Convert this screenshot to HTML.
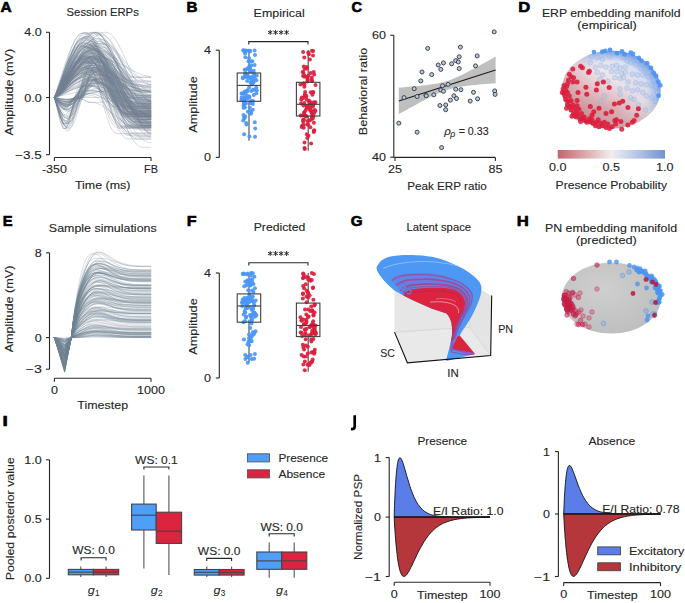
<!DOCTYPE html>
<html><head><meta charset="utf-8"><style>
html,body{margin:0;padding:0;background:#fff;}
svg{display:block;}
text{font-family:"Liberation Sans",sans-serif;fill:#262626;stroke:#262626;stroke-width:0.12px;}
</style></head><body>
<svg width="685" height="603" viewBox="0 0 685 603">
<rect width="685" height="603" fill="#fff"/>
<text x="0.60" y="11.80" font-size="14.3" font-weight="bold" style="fill:#000;stroke:#000;stroke-width:0.6px" textLength="11.14" lengthAdjust="spacingAndGlyphs">A</text>
<text x="102.70" y="16.20" font-size="11.22" text-anchor="middle" textLength="72.23" lengthAdjust="spacingAndGlyphs">Session ERPs</text>
<g fill="none" stroke="#708090" stroke-width="0.65" stroke-opacity="0.44">
<path d="M54.4 97.5 L57.3 95.7 L60.3 92.8 L63.2 89.2 L66.1 85.2 L69.1 81.1 L72.0 77.0 L74.9 73.0 L77.9 69.3 L80.8 66.0 L83.7 63.3 L86.7 61.1 L89.6 59.7 L92.5 59.0 L95.5 59.1 L98.4 60.6 L101.3 63.4 L104.3 67.4 L107.2 72.5 L110.1 78.3 L113.1 84.6 L116.0 91.1 L118.9 97.4 L121.9 103.3 L124.8 108.4 L127.7 112.5 L130.7 115.5 L133.6 117.0 L136.5 117.3 L139.5 117.3 L142.4 117.3 L145.3 117.3 L148.3 117.3 L151.2 117.3"/>
<path d="M54.4 97.5 L57.3 99.6 L60.3 101.7 L63.2 103.2 L66.1 103.4 L69.1 102.5 L72.0 100.6 L74.9 98.3 L77.9 96.4 L80.8 93.5 L83.7 90.1 L86.7 86.8 L89.6 83.7 L92.5 81.1 L95.5 79.3 L98.4 78.4 L101.3 78.3 L104.3 78.9 L107.2 80.0 L110.1 81.7 L113.1 83.8 L116.0 86.2 L118.9 88.9 L121.9 91.7 L124.8 94.5 L127.7 97.2 L130.7 99.6 L133.6 101.7 L136.5 103.3 L139.5 104.4 L142.4 104.9 L145.3 105.0 L148.3 105.0 L151.2 105.0"/>
<path d="M54.4 97.5 L57.3 93.0 L60.3 87.9 L63.2 82.8 L66.1 77.9 L69.1 73.4 L72.0 69.4 L74.9 66.2 L77.9 63.7 L80.8 62.1 L83.7 61.4 L86.7 62.2 L89.6 65.3 L92.5 70.7 L95.5 77.8 L98.4 86.2 L101.3 95.3 L104.3 104.3 L107.2 112.6 L110.1 119.6 L113.1 124.7 L116.0 127.6 L118.9 128.2 L121.9 128.2 L124.8 128.2 L127.7 128.2 L130.7 128.2 L133.6 128.2 L136.5 128.2 L139.5 128.2 L142.4 128.2 L145.3 128.2 L148.3 128.2 L151.2 128.2"/>
<path d="M54.4 97.5 L57.3 103.9 L60.3 111.3 L63.2 117.6 L66.1 121.6 L69.1 122.6 L72.0 120.5 L74.9 115.5 L77.9 108.6 L80.8 101.2 L83.7 96.0 L86.7 89.8 L89.6 83.9 L92.5 80.1 L95.5 79.6 L98.4 80.1 L101.3 81.2 L104.3 82.8 L107.2 85.0 L110.1 87.5 L113.1 90.3 L116.0 93.4 L118.9 96.5 L121.9 99.7 L124.8 102.8 L127.7 105.6 L130.7 108.2 L133.6 110.3 L136.5 112.0 L139.5 113.2 L142.4 113.7 L145.3 113.8 L148.3 113.8 L151.2 113.8"/>
<path d="M54.4 97.5 L57.3 94.9 L60.3 91.6 L63.2 88.2 L66.1 84.7 L69.1 81.4 L72.0 78.2 L74.9 75.4 L77.9 73.1 L80.8 71.1 L83.7 69.7 L86.7 68.9 L89.6 68.6 L92.5 69.0 L95.5 70.1 L98.4 71.8 L101.3 74.0 L104.3 76.7 L107.2 79.6 L110.1 82.7 L113.1 85.9 L116.0 88.9 L118.9 91.6 L121.9 93.9 L124.8 95.7 L127.7 97.0 L130.7 97.5 L133.6 97.5 L136.5 97.5 L139.5 97.5 L142.4 97.5 L145.3 97.5 L148.3 97.5 L151.2 97.5"/>
<path d="M54.4 97.5 L57.3 99.6 L60.3 101.9 L63.2 103.9 L66.1 105.1 L69.1 105.3 L72.0 104.5 L74.9 102.8 L77.9 100.5 L80.8 98.2 L83.7 93.7 L86.7 84.6 L89.6 75.2 L92.5 67.6 L95.5 63.2 L98.4 62.5 L101.3 63.2 L104.3 64.9 L107.2 67.3 L110.1 70.5 L113.1 74.2 L116.0 78.4 L118.9 82.8 L121.9 87.4 L124.8 92.0 L127.7 96.3 L130.7 100.3 L133.6 103.7 L136.5 106.5 L139.5 108.5 L142.4 109.6 L145.3 109.9 L148.3 109.9 L151.2 109.9"/>
<path d="M54.4 97.5 L57.3 99.6 L60.3 101.6 L63.2 102.8 L66.1 102.7 L69.1 101.3 L72.0 99.1 L74.9 97.1 L77.9 93.4 L80.8 88.7 L83.7 83.9 L86.7 79.5 L89.6 75.7 L92.5 73.0 L95.5 71.6 L98.4 71.4 L101.3 71.6 L104.3 72.2 L107.2 73.1 L110.1 74.2 L113.1 75.5 L116.0 76.9 L118.9 78.3 L121.9 79.8 L124.8 81.2 L127.7 82.5 L130.7 83.5 L133.6 84.4 L136.5 85.0 L139.5 85.2 L142.4 85.3 L145.3 85.3 L148.3 85.3 L151.2 85.3"/>
<path d="M54.4 97.5 L57.3 105.1 L60.3 113.5 L63.2 120.2 L66.1 123.6 L69.1 123.0 L72.0 118.5 L74.9 111.1 L77.9 102.5 L80.8 96.8 L83.7 92.7 L86.7 88.0 L89.6 83.7 L92.5 80.7 L95.5 79.4 L98.4 79.4 L101.3 79.6 L104.3 80.1 L107.2 80.7 L110.1 81.4 L113.1 82.3 L116.0 83.3 L118.9 84.4 L121.9 85.5 L124.8 86.7 L127.7 87.8 L130.7 88.9 L133.6 89.8 L136.5 90.7 L139.5 91.4 L142.4 92.0 L145.3 92.4 L148.3 92.6 L151.2 92.6"/>
<path d="M54.4 97.5 L57.3 93.2 L60.3 88.4 L63.2 83.5 L66.1 78.6 L69.1 74.1 L72.0 69.9 L74.9 66.2 L77.9 63.1 L80.8 60.7 L83.7 59.0 L86.7 58.0 L89.6 57.8 L92.5 58.2 L95.5 59.2 L98.4 60.6 L101.3 62.5 L104.3 64.8 L107.2 67.4 L110.1 70.3 L113.1 73.4 L116.0 76.6 L118.9 79.8 L121.9 82.9 L124.8 85.9 L127.7 88.6 L130.7 91.0 L133.6 93.1 L136.5 94.6 L139.5 95.7 L142.4 96.3 L145.3 96.4 L148.3 96.4 L151.2 96.4"/>
<path d="M54.4 97.5 L57.3 96.9 L60.3 95.8 L63.2 94.5 L66.1 93.1 L69.1 91.6 L72.0 90.0 L74.9 88.6 L77.9 87.2 L80.8 85.9 L83.7 84.9 L86.7 84.0 L89.6 83.3 L92.5 82.9 L95.5 82.7 L98.4 82.9 L101.3 83.8 L104.3 85.2 L107.2 87.2 L110.1 89.6 L113.1 92.3 L116.0 95.3 L118.9 98.3 L121.9 101.4 L124.8 104.2 L127.7 106.9 L130.7 109.1 L133.6 110.8 L136.5 112.0 L139.5 112.6 L142.4 112.6 L145.3 112.6 L148.3 112.6 L151.2 112.6"/>
<path d="M54.4 97.5 L57.3 95.7 L60.3 92.5 L63.2 88.6 L66.1 84.3 L69.1 79.9 L72.0 75.5 L74.9 71.4 L77.9 67.8 L80.8 64.7 L83.7 62.4 L86.7 60.9 L89.6 60.2 L92.5 60.4 L95.5 61.1 L98.4 62.5 L101.3 64.4 L104.3 66.7 L107.2 69.4 L110.1 72.3 L113.1 75.4 L116.0 78.5 L118.9 81.5 L121.9 84.2 L124.8 86.7 L127.7 88.7 L130.7 90.2 L133.6 91.1 L136.5 91.5 L139.5 91.5 L142.4 91.5 L145.3 91.5 L148.3 91.5 L151.2 91.5"/>
<path d="M54.4 97.5 L57.3 94.4 L60.3 90.4 L63.2 86.2 L66.1 81.9 L69.1 77.6 L72.0 73.5 L74.9 69.7 L77.9 66.3 L80.8 63.3 L83.7 60.8 L86.7 58.9 L89.6 57.5 L92.5 56.8 L95.5 56.9 L98.4 58.1 L101.3 60.6 L104.3 64.3 L107.2 69.1 L110.1 74.7 L113.1 80.9 L116.0 87.5 L118.9 94.3 L121.9 101.0 L124.8 107.3 L127.7 113.0 L130.7 117.8 L133.6 121.7 L136.5 124.3 L139.5 125.7 L142.4 125.9 L145.3 125.9 L148.3 125.9 L151.2 125.9"/>
<path d="M54.4 97.5 L57.3 94.6 L60.3 90.6 L63.2 86.1 L66.1 81.4 L69.1 76.5 L72.0 71.7 L74.9 67.0 L77.9 62.6 L80.8 58.6 L83.7 55.0 L86.7 52.0 L89.6 49.5 L92.5 47.7 L95.5 46.5 L98.4 46.0 L101.3 46.4 L104.3 47.7 L107.2 50.0 L110.1 53.2 L113.1 57.2 L116.0 61.8 L118.9 66.9 L121.9 72.2 L124.8 77.6 L127.7 82.9 L130.7 87.8 L133.6 92.3 L136.5 96.1 L139.5 99.2 L142.4 101.3 L145.3 102.5 L148.3 102.6 L151.2 102.6"/>
<path d="M54.4 97.5 L57.3 92.1 L60.3 86.3 L63.2 80.5 L66.1 74.9 L69.1 69.5 L72.0 64.5 L74.9 60.0 L77.9 56.1 L80.8 52.8 L83.7 50.2 L86.7 48.4 L89.6 47.3 L92.5 47.0 L95.5 48.1 L98.4 50.8 L101.3 55.1 L104.3 60.6 L107.2 67.0 L110.1 74.0 L113.1 81.2 L116.0 88.1 L118.9 94.4 L121.9 99.6 L124.8 103.6 L127.7 106.1 L130.7 106.8 L133.6 106.8 L136.5 106.8 L139.5 106.8 L142.4 106.8 L145.3 106.8 L148.3 106.8 L151.2 106.8"/>
<path d="M54.4 97.5 L57.3 94.8 L60.3 91.5 L63.2 88.0 L66.1 84.5 L69.1 81.1 L72.0 78.0 L74.9 75.1 L77.9 72.6 L80.8 70.6 L83.7 69.0 L86.7 68.0 L89.6 67.6 L92.5 67.6 L95.5 67.9 L98.4 68.5 L101.3 69.2 L104.3 70.2 L107.2 71.3 L110.1 72.5 L113.1 73.8 L116.0 75.2 L118.9 76.5 L121.9 77.8 L124.8 78.9 L127.7 80.0 L130.7 80.8 L133.6 81.5 L136.5 81.9 L139.5 82.1 L142.4 82.1 L145.3 82.1 L148.3 82.1 L151.2 82.1"/>
<path d="M54.4 97.5 L57.3 95.3 L60.3 91.5 L63.2 86.9 L66.1 81.8 L69.1 76.4 L72.0 71.1 L74.9 65.9 L77.9 61.1 L80.8 56.9 L83.7 53.5 L86.7 50.8 L89.6 49.0 L92.5 48.3 L95.5 48.6 L98.4 50.1 L101.3 52.8 L104.3 56.6 L107.2 61.3 L110.1 66.8 L113.1 72.9 L116.0 79.3 L118.9 85.7 L121.9 91.9 L124.8 97.8 L127.7 103.0 L130.7 107.4 L133.6 110.7 L136.5 113.0 L139.5 114.0 L142.4 114.1 L145.3 114.1 L148.3 114.1 L151.2 114.1"/>
<path d="M54.4 97.5 L57.3 106.9 L60.3 117.2 L63.2 124.6 L66.1 127.2 L69.1 124.5 L72.0 117.0 L74.9 106.7 L77.9 97.5 L80.8 91.8 L83.7 85.1 L86.7 80.1 L89.6 78.4 L92.5 78.8 L95.5 80.1 L98.4 82.2 L101.3 84.9 L104.3 88.3 L107.2 92.1 L110.1 96.3 L113.1 100.7 L116.0 105.1 L118.9 109.4 L121.9 113.4 L124.8 117.0 L127.7 120.1 L130.7 122.5 L133.6 124.2 L136.5 125.0 L139.5 125.1 L142.4 125.1 L145.3 125.1 L148.3 125.1 L151.2 125.1"/>
<path d="M54.4 97.5 L57.3 93.0 L60.3 88.0 L63.2 82.9 L66.1 78.0 L69.1 73.3 L72.0 69.0 L74.9 65.3 L77.9 62.1 L80.8 59.6 L83.7 57.9 L86.7 56.9 L89.6 56.8 L92.5 59.0 L95.5 63.7 L98.4 70.5 L101.3 79.0 L104.3 88.4 L107.2 98.1 L110.1 107.2 L113.1 115.1 L116.0 121.2 L118.9 125.0 L121.9 126.1 L124.8 126.1 L127.7 126.1 L130.7 126.1 L133.6 126.1 L136.5 126.1 L139.5 126.1 L142.4 126.1 L145.3 126.1 L148.3 126.1 L151.2 126.1"/>
<path d="M54.4 97.5 L57.3 96.2 L60.3 94.5 L63.2 92.7 L66.1 90.9 L69.1 89.1 L72.0 87.4 L74.9 85.8 L77.9 84.3 L80.8 82.9 L83.7 81.8 L86.7 80.8 L89.6 80.1 L92.5 79.6 L95.5 79.3 L98.4 79.4 L101.3 79.9 L104.3 81.1 L107.2 82.9 L110.1 85.2 L113.1 87.9 L116.0 91.0 L118.9 94.4 L121.9 97.9 L124.8 101.6 L127.7 105.2 L130.7 108.7 L133.6 112.0 L136.5 115.0 L139.5 117.5 L142.4 119.6 L145.3 121.1 L148.3 122.1 L151.2 122.4"/>
<path d="M54.4 97.5 L57.3 91.6 L60.3 83.6 L63.2 75.0 L66.1 66.3 L69.1 58.2 L72.0 51.1 L74.9 45.2 L77.9 40.9 L80.8 38.4 L83.7 37.8 L86.7 38.4 L89.6 39.8 L92.5 42.1 L95.5 45.2 L98.4 49.0 L101.3 53.5 L104.3 58.4 L107.2 63.8 L110.1 69.4 L113.1 75.1 L116.0 80.8 L118.9 86.4 L121.9 91.8 L124.8 96.7 L127.7 101.1 L130.7 104.9 L133.6 107.9 L136.5 110.2 L139.5 111.7 L142.4 112.2 L145.3 112.2 L148.3 112.2 L151.2 112.2"/>
<path d="M54.4 97.5 L57.3 92.0 L60.3 84.9 L63.2 77.4 L66.1 69.9 L69.1 62.7 L72.0 56.2 L74.9 50.5 L77.9 45.9 L80.8 42.5 L83.7 40.5 L86.7 39.8 L89.6 40.7 L92.5 43.1 L95.5 46.9 L98.4 52.0 L101.3 58.1 L104.3 65.0 L107.2 72.4 L110.1 79.9 L113.1 87.2 L116.0 94.1 L118.9 100.2 L121.9 105.2 L124.8 108.9 L127.7 111.2 L130.7 112.0 L133.6 112.0 L136.5 112.0 L139.5 112.0 L142.4 112.0 L145.3 112.0 L148.3 112.0 L151.2 112.0"/>
<path d="M54.4 97.5 L57.3 90.4 L60.3 82.1 L63.2 73.7 L66.1 65.6 L69.1 58.2 L72.0 51.6 L74.9 46.0 L77.9 41.8 L80.8 39.0 L83.7 37.7 L86.7 37.9 L89.6 39.2 L92.5 41.7 L95.5 45.1 L98.4 49.4 L101.3 54.5 L104.3 60.0 L107.2 65.9 L110.1 71.8 L113.1 77.7 L116.0 83.1 L118.9 88.0 L121.9 92.1 L124.8 95.4 L127.7 97.6 L130.7 98.7 L133.6 98.8 L136.5 98.8 L139.5 98.8 L142.4 98.8 L145.3 98.8 L148.3 98.8 L151.2 98.8"/>
<path d="M54.4 97.5 L57.3 94.5 L60.3 90.8 L63.2 86.8 L66.1 82.7 L69.1 78.7 L72.0 75.0 L74.9 71.6 L77.9 68.7 L80.8 66.3 L83.7 64.5 L86.7 63.4 L89.6 62.9 L92.5 63.1 L95.5 64.4 L98.4 66.5 L101.3 69.4 L104.3 73.1 L107.2 77.4 L110.1 82.1 L113.1 87.1 L116.0 92.2 L118.9 97.2 L121.9 101.9 L124.8 106.1 L127.7 109.8 L130.7 112.7 L133.6 114.8 L136.5 116.0 L139.5 116.3 L142.4 116.3 L145.3 116.3 L148.3 116.3 L151.2 116.3"/>
<path d="M54.4 97.5 L57.3 103.8 L60.3 110.8 L63.2 116.2 L66.1 118.9 L69.1 118.2 L72.0 114.3 L74.9 108.0 L77.9 100.9 L80.8 98.0 L83.7 99.6 L86.7 101.3 L89.6 102.2 L92.5 102.4 L95.5 102.9 L98.4 103.9 L101.3 105.3 L104.3 107.1 L107.2 109.2 L110.1 111.6 L113.1 114.0 L116.0 116.4 L118.9 118.7 L121.9 120.7 L124.8 122.5 L127.7 123.8 L130.7 124.7 L133.6 125.1 L136.5 125.1 L139.5 125.1 L142.4 125.1 L145.3 125.1 L148.3 125.1 L151.2 125.1"/>
<path d="M54.4 97.5 L57.3 96.2 L60.3 94.3 L63.2 92.2 L66.1 90.0 L69.1 87.8 L72.0 85.7 L74.9 83.8 L77.9 82.2 L80.8 81.0 L83.7 80.1 L86.7 79.6 L89.6 79.5 L92.5 79.9 L95.5 80.8 L98.4 82.1 L101.3 83.8 L104.3 85.8 L107.2 88.1 L110.1 90.6 L113.1 93.3 L116.0 96.0 L118.9 98.8 L121.9 101.4 L124.8 103.8 L127.7 106.1 L130.7 108.0 L133.6 109.5 L136.5 110.7 L139.5 111.4 L142.4 111.7 L145.3 111.7 L148.3 111.7 L151.2 111.7"/>
<path d="M54.4 97.5 L57.3 109.4 L60.3 121.5 L63.2 128.7 L66.1 128.6 L69.1 121.2 L72.0 109.0 L74.9 97.5 L77.9 94.4 L80.8 90.2 L83.7 85.9 L86.7 82.0 L89.6 79.1 L92.5 77.3 L95.5 76.9 L98.4 77.6 L101.3 79.2 L104.3 81.6 L107.2 84.7 L110.1 88.5 L113.1 92.8 L116.0 97.4 L118.9 102.2 L121.9 106.9 L124.8 111.4 L127.7 115.5 L130.7 119.1 L133.6 122.1 L136.5 124.2 L139.5 125.5 L142.4 125.8 L145.3 125.8 L148.3 125.8 L151.2 125.8"/>
<path d="M54.4 97.5 L57.3 93.0 L60.3 88.5 L63.2 84.1 L66.1 79.9 L69.1 76.1 L72.0 72.6 L74.9 69.5 L77.9 66.9 L80.8 64.8 L83.7 63.3 L86.7 62.4 L89.6 62.1 L92.5 62.5 L95.5 63.7 L98.4 65.6 L101.3 68.2 L104.3 71.5 L107.2 75.2 L110.1 79.4 L113.1 83.8 L116.0 88.4 L118.9 92.9 L121.9 97.4 L124.8 101.6 L127.7 105.4 L130.7 108.7 L133.6 111.4 L136.5 113.5 L139.5 114.8 L142.4 115.3 L145.3 115.3 L148.3 115.3 L151.2 115.3"/>
<path d="M54.4 97.5 L57.3 107.0 L60.3 116.8 L63.2 122.9 L66.1 123.3 L69.1 118.0 L72.0 108.5 L74.9 98.5 L77.9 96.1 L80.8 93.8 L83.7 91.3 L86.7 88.8 L89.6 86.6 L92.5 84.9 L95.5 83.7 L98.4 83.3 L101.3 83.4 L104.3 84.2 L107.2 85.4 L110.1 87.2 L113.1 89.4 L116.0 92.0 L118.9 94.9 L121.9 98.0 L124.8 101.1 L127.7 104.3 L130.7 107.4 L133.6 110.2 L136.5 112.8 L139.5 114.9 L142.4 116.7 L145.3 117.9 L148.3 118.6 L151.2 118.7"/>
<path d="M54.4 97.5 L57.3 94.5 L60.3 90.2 L63.2 85.3 L66.1 80.0 L69.1 74.6 L72.0 69.3 L74.9 64.2 L77.9 59.4 L80.8 55.1 L83.7 51.4 L86.7 48.3 L89.6 46.0 L92.5 44.4 L95.5 43.6 L98.4 43.7 L101.3 44.8 L104.3 46.9 L107.2 49.9 L110.1 53.7 L113.1 58.3 L116.0 63.4 L118.9 69.1 L121.9 75.0 L124.8 81.1 L127.7 87.2 L130.7 93.1 L133.6 98.7 L136.5 103.7 L139.5 108.1 L142.4 111.8 L145.3 114.6 L148.3 116.4 L151.2 117.3"/>
<path d="M54.4 97.5 L57.3 104.4 L60.3 111.3 L63.2 115.2 L66.1 114.7 L69.1 109.9 L72.0 102.6 L74.9 97.0 L77.9 92.9 L80.8 87.9 L83.7 82.8 L86.7 77.9 L89.6 73.9 L92.5 71.0 L95.5 69.4 L98.4 69.2 L101.3 69.4 L104.3 69.9 L107.2 70.6 L110.1 71.5 L113.1 72.6 L116.0 73.8 L118.9 75.1 L121.9 76.6 L124.8 78.0 L127.7 79.5 L130.7 80.9 L133.6 82.3 L136.5 83.5 L139.5 84.6 L142.4 85.5 L145.3 86.1 L148.3 86.6 L151.2 86.8"/>
<path d="M54.4 97.5 L57.3 100.8 L60.3 104.3 L63.2 106.4 L66.1 106.4 L69.1 104.4 L72.0 100.9 L74.9 97.5 L77.9 94.0 L80.8 89.2 L83.7 84.5 L86.7 80.6 L89.6 78.1 L92.5 77.5 L95.5 78.8 L98.4 82.1 L101.3 87.1 L104.3 93.5 L107.2 100.9 L110.1 108.8 L113.1 116.6 L116.0 123.9 L118.9 130.1 L121.9 134.9 L124.8 137.9 L127.7 138.9 L130.7 138.9 L133.6 138.9 L136.5 138.9 L139.5 138.9 L142.4 138.9 L145.3 138.9 L148.3 138.9 L151.2 138.9"/>
<path d="M54.4 97.5 L57.3 106.1 L60.3 115.8 L63.2 123.4 L66.1 127.2 L69.1 126.5 L72.0 121.3 L74.9 112.8 L77.9 103.1 L80.8 97.4 L83.7 96.8 L86.7 96.2 L89.6 95.8 L92.5 95.8 L95.5 96.6 L98.4 98.3 L101.3 100.8 L104.3 104.0 L107.2 107.7 L110.1 111.7 L113.1 115.9 L116.0 120.0 L118.9 123.8 L121.9 127.1 L124.8 129.8 L127.7 131.7 L130.7 132.7 L133.6 132.8 L136.5 132.8 L139.5 132.8 L142.4 132.8 L145.3 132.8 L148.3 132.8 L151.2 132.8"/>
<path d="M54.4 97.5 L57.3 93.3 L60.3 89.1 L63.2 85.0 L66.1 81.2 L69.1 77.7 L72.0 74.6 L74.9 72.0 L77.9 70.0 L80.8 68.5 L83.7 67.6 L86.7 67.4 L89.6 67.9 L92.5 69.4 L95.5 71.7 L98.4 74.8 L101.3 78.6 L104.3 82.9 L107.2 87.6 L110.1 92.5 L113.1 97.5 L116.0 102.4 L118.9 107.0 L121.9 111.2 L124.8 114.8 L127.7 117.8 L130.7 119.9 L133.6 121.2 L136.5 121.6 L139.5 121.6 L142.4 121.6 L145.3 121.6 L148.3 121.6 L151.2 121.6"/>
<path d="M54.4 97.5 L57.3 95.9 L60.3 94.0 L63.2 92.1 L66.1 90.1 L69.1 88.1 L72.0 86.2 L74.9 84.3 L77.9 82.6 L80.8 81.0 L83.7 79.5 L86.7 78.2 L89.6 77.0 L92.5 76.1 L95.5 75.3 L98.4 74.8 L101.3 74.5 L104.3 74.4 L107.2 74.7 L110.1 75.6 L113.1 76.9 L116.0 78.7 L118.9 80.9 L121.9 83.5 L124.8 86.3 L127.7 89.4 L130.7 92.5 L133.6 95.7 L136.5 98.8 L139.5 101.8 L142.4 104.5 L145.3 106.9 L148.3 109.0 L151.2 110.6"/>
<path d="M54.4 97.5 L57.3 94.0 L60.3 88.7 L63.2 82.8 L66.1 76.5 L69.1 70.2 L72.0 64.1 L74.9 58.6 L77.9 53.8 L80.8 49.9 L83.7 47.1 L86.7 45.3 L89.6 44.8 L92.5 45.4 L95.5 47.3 L98.4 50.2 L101.3 54.2 L104.3 59.1 L107.2 64.6 L110.1 70.6 L113.1 76.9 L116.0 83.2 L118.9 89.3 L121.9 94.9 L124.8 99.9 L127.7 104.1 L130.7 107.3 L133.6 109.4 L136.5 110.3 L139.5 110.3 L142.4 110.3 L145.3 110.3 L148.3 110.3 L151.2 110.3"/>
<path d="M54.4 97.5 L57.3 96.4 L60.3 95.1 L63.2 93.7 L66.1 92.4 L69.1 91.1 L72.0 89.9 L74.9 88.8 L77.9 87.8 L80.8 87.0 L83.7 86.4 L86.7 85.9 L89.6 85.7 L92.5 85.6 L95.5 86.4 L98.4 88.3 L101.3 91.3 L104.3 95.2 L107.2 99.8 L110.1 105.0 L113.1 110.4 L116.0 115.9 L118.9 121.2 L121.9 126.0 L124.8 130.2 L127.7 133.5 L130.7 135.8 L133.6 136.9 L136.5 137.1 L139.5 137.1 L142.4 137.1 L145.3 137.1 L148.3 137.1 L151.2 137.1"/>
<path d="M54.4 97.5 L57.3 91.5 L60.3 84.4 L63.2 77.0 L66.1 69.6 L69.1 62.6 L72.0 56.0 L74.9 50.2 L77.9 45.3 L80.8 41.4 L83.7 38.6 L86.7 37.0 L89.6 36.6 L92.5 37.7 L95.5 40.3 L98.4 44.5 L101.3 49.9 L104.3 56.5 L107.2 64.0 L110.1 72.1 L113.1 80.5 L116.0 89.0 L118.9 97.2 L121.9 104.9 L124.8 111.7 L127.7 117.5 L130.7 122.0 L133.6 125.0 L136.5 126.5 L139.5 126.7 L142.4 126.7 L145.3 126.7 L148.3 126.7 L151.2 126.7"/>
<path d="M54.4 97.5 L57.3 98.6 L60.3 99.9 L63.2 100.9 L66.1 101.6 L69.1 101.8 L72.0 101.4 L74.9 100.5 L77.9 99.3 L80.8 98.1 L83.7 96.8 L86.7 94.1 L89.6 91.6 L92.5 90.1 L95.5 89.9 L98.4 90.2 L101.3 91.0 L104.3 92.1 L107.2 93.4 L110.1 95.1 L113.1 96.9 L116.0 98.9 L118.9 100.9 L121.9 102.9 L124.8 104.8 L127.7 106.5 L130.7 108.0 L133.6 109.3 L136.5 110.2 L139.5 110.7 L142.4 110.9 L145.3 110.9 L148.3 110.9 L151.2 110.9"/>
<path d="M54.4 97.5 L57.3 92.1 L60.3 85.4 L63.2 78.2 L66.1 71.1 L69.1 64.2 L72.0 57.9 L74.9 52.2 L77.9 47.5 L80.8 43.9 L83.7 41.3 L86.7 40.1 L89.6 40.1 L92.5 42.2 L95.5 46.2 L98.4 51.9 L101.3 59.0 L104.3 67.1 L107.2 75.8 L110.1 84.5 L113.1 92.7 L116.0 100.0 L118.9 106.0 L121.9 110.3 L124.8 112.7 L127.7 113.2 L130.7 113.2 L133.6 113.2 L136.5 113.2 L139.5 113.2 L142.4 113.2 L145.3 113.2 L148.3 113.2 L151.2 113.2"/>
<path d="M54.4 97.5 L57.3 94.8 L60.3 90.6 L63.2 85.8 L66.1 80.5 L69.1 75.0 L72.0 69.5 L74.9 64.0 L77.9 58.8 L80.8 53.8 L83.7 49.3 L86.7 45.2 L89.6 41.8 L92.5 38.9 L95.5 36.8 L98.4 35.4 L101.3 34.8 L104.3 35.2 L107.2 36.9 L110.1 39.9 L113.1 44.1 L116.0 49.3 L118.9 55.3 L121.9 61.8 L124.8 68.6 L127.7 75.4 L130.7 81.9 L133.6 87.7 L136.5 92.8 L139.5 96.8 L142.4 99.6 L145.3 101.1 L148.3 101.3 L151.2 101.3"/>
<path d="M54.4 97.5 L57.3 93.8 L60.3 89.5 L63.2 85.0 L66.1 80.5 L69.1 76.2 L72.0 72.1 L74.9 68.3 L77.9 64.9 L80.8 61.9 L83.7 59.5 L86.7 57.7 L89.6 56.5 L92.5 56.0 L95.5 56.2 L98.4 57.5 L101.3 60.1 L104.3 63.7 L107.2 68.3 L110.1 73.6 L113.1 79.6 L116.0 86.0 L118.9 92.5 L121.9 98.9 L124.8 105.1 L127.7 110.7 L130.7 115.7 L133.6 119.8 L136.5 122.8 L139.5 124.7 L142.4 125.4 L145.3 125.4 L148.3 125.4 L151.2 125.4"/>
<path d="M54.4 97.5 L57.3 95.5 L60.3 92.4 L63.2 88.6 L66.1 84.4 L69.1 80.0 L72.0 75.5 L74.9 71.1 L77.9 66.9 L80.8 63.0 L83.7 59.5 L86.7 56.5 L89.6 54.0 L92.5 52.1 L95.5 51.0 L98.4 50.4 L101.3 50.7 L104.3 51.6 L107.2 53.2 L110.1 55.5 L113.1 58.4 L116.0 61.6 L118.9 65.3 L121.9 69.1 L124.8 73.0 L127.7 76.8 L130.7 80.4 L133.6 83.7 L136.5 86.5 L139.5 88.7 L142.4 90.3 L145.3 91.2 L148.3 91.4 L151.2 91.4"/>
<path d="M54.4 97.5 L57.3 92.1 L60.3 83.6 L63.2 73.9 L66.1 63.9 L69.1 54.5 L72.0 46.3 L74.9 39.7 L77.9 35.4 L80.8 33.4 L83.7 33.5 L86.7 34.6 L89.6 36.6 L92.5 39.4 L95.5 42.8 L98.4 47.0 L101.3 51.6 L104.3 56.7 L107.2 62.0 L110.1 67.5 L113.1 72.9 L116.0 78.1 L118.9 83.0 L121.9 87.5 L124.8 91.4 L127.7 94.6 L130.7 97.0 L133.6 98.6 L136.5 99.4 L139.5 99.4 L142.4 99.4 L145.3 99.4 L148.3 99.4 L151.2 99.4"/>
<path d="M54.4 97.5 L57.3 95.4 L60.3 92.1 L63.2 88.3 L66.1 84.2 L69.1 79.9 L72.0 75.8 L74.9 71.8 L77.9 68.2 L80.8 65.1 L83.7 62.5 L86.7 60.5 L89.6 59.2 L92.5 58.6 L95.5 58.8 L98.4 60.0 L101.3 62.2 L104.3 65.2 L107.2 68.9 L110.1 73.3 L113.1 78.1 L116.0 83.2 L118.9 88.3 L121.9 93.3 L124.8 97.9 L127.7 102.0 L130.7 105.5 L133.6 108.1 L136.5 109.9 L139.5 110.6 L142.4 110.7 L145.3 110.7 L148.3 110.7 L151.2 110.7"/>
<path d="M54.4 97.5 L57.3 95.1 L60.3 91.8 L63.2 88.1 L66.1 84.2 L69.1 80.4 L72.0 76.7 L74.9 73.3 L77.9 70.2 L80.8 67.6 L83.7 65.6 L86.7 64.1 L89.6 63.3 L92.5 63.1 L95.5 63.6 L98.4 64.6 L101.3 66.2 L104.3 68.3 L107.2 70.7 L110.1 73.4 L113.1 76.3 L116.0 79.2 L118.9 82.0 L121.9 84.5 L124.8 86.7 L127.7 88.5 L130.7 89.7 L133.6 90.3 L136.5 90.4 L139.5 90.4 L142.4 90.4 L145.3 90.4 L148.3 90.4 L151.2 90.4"/>
<path d="M54.4 97.5 L57.3 96.1 L60.3 93.8 L63.2 91.0 L66.1 87.9 L69.1 84.6 L72.0 81.5 L74.9 78.5 L77.9 75.9 L80.8 73.7 L83.7 72.0 L86.7 70.9 L89.6 70.5 L92.5 70.6 L95.5 71.3 L98.4 72.6 L101.3 74.3 L104.3 76.3 L107.2 78.8 L110.1 81.4 L113.1 84.2 L116.0 87.1 L118.9 89.8 L121.9 92.4 L124.8 94.8 L127.7 96.7 L130.7 98.3 L133.6 99.3 L136.5 99.9 L139.5 100.0 L142.4 100.0 L145.3 100.0 L148.3 100.0 L151.2 100.0"/>
<path d="M54.4 97.5 L57.3 94.9 L60.3 90.8 L63.2 86.1 L66.1 81.1 L69.1 76.0 L72.0 71.1 L74.9 66.5 L77.9 62.4 L80.8 59.0 L83.7 56.3 L86.7 54.5 L89.6 53.6 L92.5 53.9 L95.5 56.0 L98.4 59.9 L101.3 65.3 L104.3 72.0 L107.2 79.5 L110.1 87.3 L113.1 94.8 L116.0 101.7 L118.9 107.3 L121.9 111.5 L124.8 113.9 L127.7 114.4 L130.7 114.4 L133.6 114.4 L136.5 114.4 L139.5 114.4 L142.4 114.4 L145.3 114.4 L148.3 114.4 L151.2 114.4"/>
<path d="M54.4 97.5 L57.3 93.6 L60.3 88.0 L63.2 81.8 L66.1 75.4 L69.1 69.2 L72.0 63.4 L74.9 58.2 L77.9 53.8 L80.8 50.4 L83.7 48.2 L86.7 47.1 L89.6 47.2 L92.5 48.2 L95.5 49.9 L98.4 52.3 L101.3 55.4 L104.3 59.2 L107.2 63.4 L110.1 68.1 L113.1 73.1 L116.0 78.3 L118.9 83.5 L121.9 88.7 L124.8 93.7 L127.7 98.4 L130.7 102.8 L133.6 106.6 L136.5 109.8 L139.5 112.3 L142.4 114.2 L145.3 115.2 L148.3 115.5 L151.2 115.5"/>
<path d="M54.4 97.5 L57.3 95.9 L60.3 93.5 L63.2 90.6 L66.1 87.5 L69.1 84.2 L72.0 81.1 L74.9 78.1 L77.9 75.4 L80.8 73.1 L83.7 71.2 L86.7 69.9 L89.6 69.1 L92.5 68.9 L95.5 69.0 L98.4 69.4 L101.3 70.1 L104.3 70.9 L107.2 72.0 L110.1 73.2 L113.1 74.5 L116.0 75.9 L118.9 77.4 L121.9 78.8 L124.8 80.1 L127.7 81.4 L130.7 82.5 L133.6 83.5 L136.5 84.2 L139.5 84.7 L142.4 85.0 L145.3 85.1 L148.3 85.1 L151.2 85.1"/>
<path d="M54.4 97.5 L57.3 98.2 L60.3 98.9 L63.2 99.5 L66.1 99.7 L69.1 99.5 L72.0 99.0 L74.9 98.3 L77.9 97.5 L80.8 88.1 L83.7 74.9 L86.7 64.6 L89.6 60.5 L92.5 61.3 L95.5 63.9 L98.4 68.2 L101.3 73.8 L104.3 80.6 L107.2 88.0 L110.1 95.8 L113.1 103.4 L116.0 110.4 L118.9 116.4 L121.9 121.2 L124.8 124.3 L127.7 125.8 L130.7 125.8 L133.6 125.8 L136.5 125.8 L139.5 125.8 L142.4 125.8 L145.3 125.8 L148.3 125.8 L151.2 125.8"/>
<path d="M54.4 97.5 L57.3 91.1 L60.3 84.2 L63.2 77.3 L66.1 70.5 L69.1 64.0 L72.0 57.9 L74.9 52.2 L77.9 47.1 L80.8 42.7 L83.7 39.0 L86.7 36.0 L89.6 33.9 L92.5 32.6 L95.5 32.2 L98.4 33.1 L101.3 35.6 L104.3 39.7 L107.2 45.2 L110.1 51.8 L113.1 59.4 L116.0 67.5 L118.9 76.0 L121.9 84.5 L124.8 92.7 L127.7 100.1 L130.7 106.7 L133.6 112.0 L136.5 116.0 L139.5 118.4 L142.4 119.1 L145.3 119.1 L148.3 119.1 L151.2 119.1"/>
<path d="M54.4 97.5 L57.3 100.4 L60.3 103.4 L63.2 105.4 L66.1 105.5 L69.1 104.0 L72.0 101.1 L74.9 98.0 L77.9 95.2 L80.8 91.0 L83.7 86.8 L86.7 83.3 L89.6 81.0 L92.5 80.3 L95.5 80.6 L98.4 81.5 L101.3 82.9 L104.3 84.9 L107.2 87.4 L110.1 90.2 L113.1 93.4 L116.0 96.8 L118.9 100.3 L121.9 103.9 L124.8 107.4 L127.7 110.8 L130.7 113.9 L133.6 116.7 L136.5 119.1 L139.5 121.1 L142.4 122.5 L145.3 123.4 L148.3 123.7 L151.2 123.7"/>
<path d="M54.4 97.5 L57.3 94.6 L60.3 90.9 L63.2 86.9 L66.1 82.8 L69.1 78.7 L72.0 74.9 L74.9 71.3 L77.9 68.0 L80.8 65.2 L83.7 62.9 L86.7 61.1 L89.6 59.9 L92.5 59.3 L95.5 59.3 L98.4 60.3 L101.3 62.1 L104.3 64.7 L107.2 68.0 L110.1 71.9 L113.1 76.2 L116.0 80.8 L118.9 85.6 L121.9 90.2 L124.8 94.7 L127.7 98.7 L130.7 102.2 L133.6 105.1 L136.5 107.1 L139.5 108.3 L142.4 108.7 L145.3 108.7 L148.3 108.7 L151.2 108.7"/>
<path d="M54.4 97.5 L57.3 96.0 L60.3 93.3 L63.2 89.9 L66.1 86.0 L69.1 81.8 L72.0 77.4 L74.9 72.9 L77.9 68.5 L80.8 64.3 L83.7 60.4 L86.7 56.8 L89.6 53.7 L92.5 51.1 L95.5 49.1 L98.4 47.7 L101.3 47.0 L104.3 47.0 L107.2 48.4 L110.1 51.3 L113.1 55.6 L116.0 61.1 L118.9 67.6 L121.9 75.0 L124.8 82.8 L127.7 91.0 L130.7 99.1 L133.6 106.8 L136.5 114.0 L139.5 120.4 L142.4 125.6 L145.3 129.6 L148.3 132.2 L151.2 133.3"/>
<path d="M54.4 97.5 L57.3 92.2 L60.3 85.1 L63.2 77.4 L66.1 69.8 L69.1 62.6 L72.0 56.1 L74.9 50.8 L77.9 46.7 L80.8 44.2 L83.7 43.2 L86.7 43.6 L89.6 45.1 L92.5 47.5 L95.5 50.8 L98.4 54.9 L101.3 59.7 L104.3 65.0 L107.2 70.8 L110.1 76.7 L113.1 82.7 L116.0 88.5 L118.9 94.1 L121.9 99.2 L124.8 103.7 L127.7 107.4 L130.7 110.3 L133.6 112.3 L136.5 113.2 L139.5 113.3 L142.4 113.3 L145.3 113.3 L148.3 113.3 L151.2 113.3"/>
<path d="M54.4 97.5 L57.3 92.0 L60.3 85.7 L63.2 79.2 L66.1 72.9 L69.1 66.9 L72.0 61.5 L74.9 56.7 L77.9 52.7 L80.8 49.6 L83.7 47.5 L86.7 46.4 L89.6 46.3 L92.5 47.0 L95.5 48.5 L98.4 50.6 L101.3 53.3 L104.3 56.6 L107.2 60.4 L110.1 64.6 L113.1 69.1 L116.0 73.8 L118.9 78.6 L121.9 83.3 L124.8 87.9 L127.7 92.3 L130.7 96.3 L133.6 99.8 L136.5 102.9 L139.5 105.3 L142.4 107.1 L145.3 108.2 L148.3 108.5 L151.2 108.5"/>
<path d="M54.4 97.5 L57.3 95.2 L60.3 91.6 L63.2 87.4 L66.1 83.0 L69.1 78.5 L72.0 74.1 L74.9 70.0 L77.9 66.3 L80.8 63.1 L83.7 60.6 L86.7 58.8 L89.6 57.8 L92.5 57.6 L95.5 58.6 L98.4 61.0 L101.3 64.7 L104.3 69.3 L107.2 74.8 L110.1 80.7 L113.1 86.8 L116.0 92.7 L118.9 98.2 L121.9 102.8 L124.8 106.4 L127.7 108.8 L130.7 109.8 L133.6 109.9 L136.5 109.9 L139.5 109.9 L142.4 109.9 L145.3 109.9 L148.3 109.9 L151.2 109.9"/>
<path d="M54.4 97.5 L57.3 94.9 L60.3 90.9 L63.2 86.1 L66.1 80.8 L69.1 75.3 L72.0 69.8 L74.9 64.4 L77.9 59.3 L80.8 54.5 L83.7 50.3 L86.7 46.7 L89.6 43.8 L92.5 41.7 L95.5 40.4 L98.4 40.0 L101.3 40.7 L104.3 42.8 L107.2 46.1 L110.1 50.5 L113.1 55.9 L116.0 61.9 L118.9 68.4 L121.9 75.0 L124.8 81.5 L127.7 87.7 L130.7 93.2 L133.6 97.8 L136.5 101.3 L139.5 103.6 L142.4 104.6 L145.3 104.7 L148.3 104.7 L151.2 104.7"/>
<path d="M54.4 97.5 L57.3 101.1 L60.3 105.2 L63.2 108.2 L66.1 109.5 L69.1 108.8 L72.0 106.2 L74.9 102.4 L77.9 98.4 L80.8 98.4 L83.7 100.2 L86.7 101.6 L89.6 102.4 L92.5 102.4 L95.5 102.3 L98.4 102.2 L101.3 102.1 L104.3 102.0 L107.2 101.8 L110.1 101.6 L113.1 101.5 L116.0 101.3 L118.9 101.2 L121.9 101.1 L124.8 101.0 L127.7 101.0 L130.7 101.0 L133.6 101.0 L136.5 101.0 L139.5 101.0 L142.4 101.0 L145.3 101.0 L148.3 101.0 L151.2 101.0"/>
<path d="M54.4 97.5 L57.3 94.6 L60.3 90.4 L63.2 85.6 L66.1 80.5 L69.1 75.3 L72.0 70.2 L74.9 65.4 L77.9 61.0 L80.8 57.3 L83.7 54.1 L86.7 51.8 L89.6 50.3 L92.5 49.6 L95.5 49.9 L98.4 51.2 L101.3 53.4 L104.3 56.4 L107.2 60.1 L110.1 64.4 L113.1 69.1 L116.0 73.9 L118.9 78.8 L121.9 83.4 L124.8 87.7 L127.7 91.4 L130.7 94.4 L133.6 96.5 L136.5 97.7 L139.5 97.9 L142.4 97.9 L145.3 97.9 L148.3 97.9 L151.2 97.9"/>
<path d="M54.4 97.5 L57.3 92.0 L60.3 85.3 L63.2 78.3 L66.1 71.4 L69.1 64.9 L72.0 58.9 L74.9 53.8 L77.9 49.6 L80.8 46.5 L83.7 44.6 L86.7 43.9 L89.6 44.6 L92.5 46.7 L95.5 50.2 L98.4 54.9 L101.3 60.7 L104.3 67.4 L107.2 74.9 L110.1 82.8 L113.1 90.9 L116.0 99.1 L118.9 106.9 L121.9 114.2 L124.8 120.7 L127.7 126.3 L130.7 130.8 L133.6 134.0 L136.5 135.8 L139.5 136.2 L142.4 136.2 L145.3 136.2 L148.3 136.2 L151.2 136.2"/>
<path d="M54.4 97.5 L57.3 95.9 L60.3 93.3 L63.2 90.4 L66.1 87.1 L69.1 83.7 L72.0 80.2 L74.9 76.9 L77.9 73.6 L80.8 70.6 L83.7 67.9 L86.7 65.5 L89.6 63.5 L92.5 62.0 L95.5 61.0 L98.4 60.5 L101.3 60.5 L104.3 61.8 L107.2 64.3 L110.1 68.0 L113.1 72.6 L116.0 78.1 L118.9 84.2 L121.9 90.7 L124.8 97.2 L127.7 103.6 L130.7 109.6 L133.6 114.9 L136.5 119.4 L139.5 122.8 L142.4 125.1 L145.3 126.0 L148.3 126.1 L151.2 126.1"/>
<path d="M54.4 97.5 L57.3 98.2 L60.3 98.9 L63.2 99.6 L66.1 99.9 L69.1 99.9 L72.0 99.6 L74.9 99.0 L77.9 98.2 L80.8 97.5 L83.7 93.1 L86.7 86.8 L89.6 80.4 L92.5 74.5 L95.5 69.8 L98.4 66.7 L101.3 65.7 L104.3 66.2 L107.2 67.9 L110.1 70.7 L113.1 74.5 L116.0 79.1 L118.9 84.4 L121.9 90.3 L124.8 96.4 L127.7 102.7 L130.7 108.8 L133.6 114.6 L136.5 119.9 L139.5 124.5 L142.4 128.3 L145.3 131.0 L148.3 132.7 L151.2 133.2"/>
<path d="M54.4 97.5 L57.3 94.5 L60.3 90.3 L63.2 85.7 L66.1 81.0 L69.1 76.4 L72.0 72.3 L74.9 68.6 L77.9 65.7 L80.8 63.6 L83.7 62.3 L86.7 62.0 L89.6 62.8 L92.5 64.5 L95.5 67.2 L98.4 70.8 L101.3 75.0 L104.3 79.7 L107.2 84.7 L110.1 89.9 L113.1 94.9 L116.0 99.5 L118.9 103.7 L121.9 107.1 L124.8 109.7 L127.7 111.4 L130.7 112.0 L133.6 112.0 L136.5 112.0 L139.5 112.0 L142.4 112.0 L145.3 112.0 L148.3 112.0 L151.2 112.0"/>
<path d="M54.4 97.5 L57.3 100.3 L60.3 103.4 L63.2 105.6 L66.1 106.5 L69.1 105.8 L72.0 103.6 L74.9 100.6 L77.9 97.7 L80.8 94.6 L83.7 90.5 L86.7 87.1 L89.6 85.4 L92.5 85.5 L95.5 86.5 L98.4 88.1 L101.3 90.3 L104.3 93.0 L107.2 96.1 L110.1 99.3 L113.1 102.4 L116.0 105.3 L118.9 107.9 L121.9 109.9 L124.8 111.3 L127.7 112.0 L130.7 112.0 L133.6 112.0 L136.5 112.0 L139.5 112.0 L142.4 112.0 L145.3 112.0 L148.3 112.0 L151.2 112.0"/>
<path d="M54.4 97.5 L57.3 95.7 L60.3 93.0 L63.2 89.9 L66.1 86.5 L69.1 83.1 L72.0 79.6 L74.9 76.2 L77.9 73.1 L80.8 70.2 L83.7 67.7 L86.7 65.7 L89.6 64.0 L92.5 62.9 L95.5 62.3 L98.4 62.3 L101.3 63.0 L104.3 64.3 L107.2 66.3 L110.1 68.9 L113.1 72.0 L116.0 75.6 L118.9 79.6 L121.9 83.9 L124.8 88.3 L127.7 92.9 L130.7 97.4 L133.6 101.8 L136.5 105.9 L139.5 109.8 L142.4 113.2 L145.3 116.1 L148.3 118.4 L151.2 120.1"/>
<path d="M54.4 97.5 L57.3 92.7 L60.3 86.7 L63.2 80.4 L66.1 74.0 L69.1 67.9 L72.0 62.3 L74.9 57.4 L77.9 53.3 L80.8 50.1 L83.7 48.0 L86.7 47.0 L89.6 47.1 L92.5 48.3 L95.5 50.5 L98.4 53.7 L101.3 57.7 L104.3 62.3 L107.2 67.4 L110.1 72.9 L113.1 78.4 L116.0 83.8 L118.9 88.8 L121.9 93.4 L124.8 97.3 L127.7 100.3 L130.7 102.3 L133.6 103.4 L136.5 103.5 L139.5 103.5 L142.4 103.5 L145.3 103.5 L148.3 103.5 L151.2 103.5"/>
<path d="M54.4 97.5 L57.3 93.9 L60.3 89.4 L63.2 84.6 L66.1 79.7 L69.1 74.9 L72.0 70.4 L74.9 66.2 L77.9 62.6 L80.8 59.5 L83.7 57.1 L86.7 55.4 L89.6 54.5 L92.5 54.4 L95.5 55.2 L98.4 56.9 L101.3 59.4 L104.3 62.8 L107.2 66.8 L110.1 71.5 L113.1 76.6 L116.0 82.1 L118.9 87.7 L121.9 93.4 L124.8 98.9 L127.7 104.2 L130.7 109.1 L133.6 113.4 L136.5 117.0 L139.5 119.8 L142.4 121.9 L145.3 123.0 L148.3 123.2 L151.2 123.2"/>
<path d="M54.4 97.5 L57.3 96.3 L60.3 94.4 L63.2 92.0 L66.1 89.3 L69.1 86.5 L72.0 83.7 L74.9 81.0 L77.9 78.4 L80.8 76.1 L83.7 74.1 L86.7 72.4 L89.6 71.2 L92.5 70.4 L95.5 70.1 L98.4 70.6 L101.3 72.6 L104.3 75.9 L107.2 80.2 L110.1 85.4 L113.1 91.0 L116.0 96.5 L118.9 101.7 L121.9 106.1 L124.8 109.5 L127.7 111.5 L130.7 112.1 L133.6 112.1 L136.5 112.1 L139.5 112.1 L142.4 112.1 L145.3 112.1 L148.3 112.1 L151.2 112.1"/>
<path d="M54.4 97.5 L57.3 94.4 L60.3 90.4 L63.2 86.1 L66.1 81.8 L69.1 77.8 L72.0 74.1 L74.9 70.9 L77.9 68.4 L80.8 66.6 L83.7 65.6 L86.7 65.4 L89.6 66.3 L92.5 68.2 L95.5 71.1 L98.4 74.7 L101.3 79.0 L104.3 83.6 L107.2 88.4 L110.1 93.0 L113.1 97.3 L116.0 100.9 L118.9 103.7 L121.9 105.6 L124.8 106.4 L127.7 106.4 L130.7 106.4 L133.6 106.4 L136.5 106.4 L139.5 106.4 L142.4 106.4 L145.3 106.4 L148.3 106.4 L151.2 106.4"/>
<path d="M54.4 97.5 L57.3 105.3 L60.3 113.7 L63.2 119.6 L66.1 121.5 L69.1 118.9 L72.0 112.3 L74.9 103.8 L77.9 97.3 L80.8 95.1 L83.7 92.5 L86.7 89.9 L89.6 87.8 L92.5 86.4 L95.5 85.9 L98.4 86.2 L101.3 87.1 L104.3 88.5 L107.2 90.5 L110.1 92.9 L113.1 95.7 L116.0 98.8 L118.9 102.1 L121.9 105.5 L124.8 108.9 L127.7 112.1 L130.7 115.1 L133.6 117.8 L136.5 120.1 L139.5 121.9 L142.4 123.2 L145.3 123.9 L148.3 124.1 L151.2 124.1"/>
<path d="M54.4 97.5 L57.3 94.8 L60.3 90.8 L63.2 86.2 L66.1 81.2 L69.1 76.2 L72.0 71.4 L74.9 66.8 L77.9 62.7 L80.8 59.1 L83.7 56.3 L86.7 54.3 L89.6 53.1 L92.5 52.9 L95.5 53.3 L98.4 54.3 L101.3 55.8 L104.3 57.8 L107.2 60.3 L110.1 63.1 L113.1 66.1 L116.0 69.3 L118.9 72.4 L121.9 75.5 L124.8 78.3 L127.7 80.9 L130.7 83.0 L133.6 84.7 L136.5 85.8 L139.5 86.4 L142.4 86.5 L145.3 86.5 L148.3 86.5 L151.2 86.5"/>
<path d="M54.4 97.5 L57.3 100.3 L60.3 103.4 L63.2 105.7 L66.1 106.6 L69.1 106.0 L72.0 103.9 L74.9 100.9 L77.9 97.8 L80.8 89.2 L83.7 76.6 L86.7 66.5 L89.6 62.1 L92.5 62.2 L95.5 63.0 L98.4 64.3 L101.3 66.1 L104.3 68.3 L107.2 70.9 L110.1 73.8 L113.1 76.9 L116.0 80.2 L118.9 83.4 L121.9 86.7 L124.8 89.7 L127.7 92.6 L130.7 95.1 L133.6 97.2 L136.5 98.8 L139.5 100.0 L142.4 100.6 L145.3 100.7 L148.3 100.7 L151.2 100.7"/>
<path d="M54.4 97.5 L57.3 96.2 L60.3 94.0 L63.2 91.5 L66.1 88.8 L69.1 85.9 L72.0 83.1 L74.9 80.4 L77.9 77.8 L80.8 75.5 L83.7 73.6 L86.7 72.0 L89.6 70.9 L92.5 70.2 L95.5 70.0 L98.4 70.4 L101.3 71.6 L104.3 73.4 L107.2 75.9 L110.1 79.0 L113.1 82.6 L116.0 86.6 L118.9 90.8 L121.9 95.3 L124.8 99.8 L127.7 104.3 L130.7 108.6 L133.6 112.6 L136.5 116.2 L139.5 119.3 L142.4 121.8 L145.3 123.7 L148.3 125.0 L151.2 125.4"/>
<path d="M54.4 97.5 L57.3 100.2 L60.3 103.1 L63.2 105.0 L66.1 105.4 L69.1 104.1 L72.0 101.5 L74.9 98.5 L77.9 94.6 L80.8 87.8 L83.7 81.8 L86.7 78.5 L89.6 78.4 L92.5 79.0 L95.5 80.1 L98.4 81.7 L101.3 83.8 L104.3 86.2 L107.2 89.0 L110.1 92.0 L113.1 95.2 L116.0 98.4 L118.9 101.6 L121.9 104.7 L124.8 107.5 L127.7 110.1 L130.7 112.4 L133.6 114.2 L136.5 115.5 L139.5 116.3 L142.4 116.6 L145.3 116.6 L148.3 116.6 L151.2 116.6"/>
<path d="M54.4 97.5 L57.3 94.8 L60.3 91.8 L63.2 88.7 L66.1 85.7 L69.1 82.7 L72.0 80.0 L74.9 77.6 L77.9 75.4 L80.8 73.6 L83.7 72.2 L86.7 71.3 L89.6 70.7 L92.5 70.7 L95.5 71.3 L98.4 72.6 L101.3 74.7 L104.3 77.3 L107.2 80.5 L110.1 84.1 L113.1 87.9 L116.0 91.9 L118.9 95.8 L121.9 99.6 L124.8 103.0 L127.7 106.0 L130.7 108.5 L133.6 110.4 L136.5 111.5 L139.5 111.9 L142.4 111.9 L145.3 111.9 L148.3 111.9 L151.2 111.9"/>
<path d="M54.4 97.5 L57.3 95.0 L60.3 91.7 L63.2 88.1 L66.1 84.5 L69.1 80.9 L72.0 77.6 L74.9 74.5 L77.9 71.8 L80.8 69.5 L83.7 67.7 L86.7 66.5 L89.6 65.8 L92.5 65.8 L95.5 66.7 L98.4 68.5 L101.3 71.2 L104.3 74.7 L107.2 78.9 L110.1 83.6 L113.1 88.6 L116.0 93.7 L118.9 98.8 L121.9 103.7 L124.8 108.1 L127.7 112.0 L130.7 115.2 L133.6 117.5 L136.5 118.9 L139.5 119.3 L142.4 119.3 L145.3 119.3 L148.3 119.3 L151.2 119.3"/>
<path d="M54.4 97.5 L57.3 94.0 L60.3 88.5 L63.2 82.1 L66.1 75.3 L69.1 68.6 L72.0 62.4 L74.9 56.8 L77.9 52.3 L80.8 49.1 L83.7 47.1 L86.7 46.7 L89.6 47.5 L92.5 49.4 L95.5 52.4 L98.4 56.3 L101.3 60.9 L104.3 66.2 L107.2 72.0 L110.1 77.9 L113.1 83.8 L116.0 89.4 L118.9 94.7 L121.9 99.2 L124.8 103.0 L127.7 105.8 L130.7 107.5 L133.6 108.1 L136.5 108.1 L139.5 108.1 L142.4 108.1 L145.3 108.1 L148.3 108.1 L151.2 108.1"/>
<path d="M54.4 97.5 L57.3 94.8 L60.3 90.6 L63.2 85.8 L66.1 80.7 L69.1 75.6 L72.0 70.9 L74.9 66.6 L77.9 63.1 L80.8 60.5 L83.7 58.9 L86.7 58.4 L89.6 58.9 L92.5 60.5 L95.5 63.1 L98.4 66.6 L101.3 70.8 L104.3 75.6 L107.2 80.6 L110.1 85.8 L113.1 90.9 L116.0 95.7 L118.9 99.9 L121.9 103.4 L124.8 106.1 L127.7 107.7 L130.7 108.3 L133.6 108.3 L136.5 108.3 L139.5 108.3 L142.4 108.3 L145.3 108.3 L148.3 108.3 L151.2 108.3"/>
<path d="M54.4 97.5 L57.3 95.7 L60.3 93.3 L63.2 90.8 L66.1 88.2 L69.1 85.6 L72.0 83.1 L74.9 80.8 L77.9 78.7 L80.8 77.0 L83.7 75.6 L86.7 74.5 L89.6 73.9 L92.5 73.7 L95.5 74.2 L98.4 75.5 L101.3 77.7 L104.3 80.7 L107.2 84.2 L110.1 88.2 L113.1 92.5 L116.0 96.9 L118.9 101.2 L121.9 105.1 L124.8 108.6 L127.7 111.5 L130.7 113.6 L133.6 114.9 L136.5 115.2 L139.5 115.2 L142.4 115.2 L145.3 115.2 L148.3 115.2 L151.2 115.2"/>
<path d="M54.4 97.5 L57.3 95.8 L60.3 92.7 L63.2 89.0 L66.1 84.8 L69.1 80.4 L72.0 75.9 L74.9 71.7 L77.9 67.7 L80.8 64.3 L83.7 61.4 L86.7 59.2 L89.6 57.8 L92.5 57.3 L95.5 57.7 L98.4 59.3 L101.3 62.1 L104.3 65.8 L107.2 70.5 L110.1 75.8 L113.1 81.6 L116.0 87.6 L118.9 93.6 L121.9 99.2 L124.8 104.4 L127.7 108.8 L130.7 112.3 L133.6 114.8 L136.5 116.1 L139.5 116.2 L142.4 116.2 L145.3 116.2 L148.3 116.2 L151.2 116.2"/>
<path d="M54.4 97.5 L57.3 99.0 L60.3 100.6 L63.2 101.6 L66.1 101.7 L69.1 100.8 L72.0 99.3 L74.9 97.6 L77.9 94.6 L80.8 90.2 L83.7 86.2 L86.7 83.6 L89.6 83.0 L92.5 83.5 L95.5 84.6 L98.4 86.4 L101.3 88.7 L104.3 91.4 L107.2 94.3 L110.1 97.3 L113.1 100.2 L116.0 102.8 L118.9 105.1 L121.9 106.8 L124.8 107.9 L127.7 108.3 L130.7 108.3 L133.6 108.3 L136.5 108.3 L139.5 108.3 L142.4 108.3 L145.3 108.3 L148.3 108.3 L151.2 108.3"/>
<path d="M54.4 97.5 L57.3 105.6 L60.3 114.9 L63.2 122.8 L66.1 127.8 L69.1 129.1 L72.0 126.4 L74.9 120.3 L77.9 111.7 L80.8 102.4 L83.7 95.5 L86.7 86.8 L89.6 78.2 L92.5 72.8 L95.5 71.9 L98.4 72.4 L101.3 73.5 L104.3 75.2 L107.2 77.3 L110.1 79.9 L113.1 82.8 L116.0 85.9 L118.9 89.2 L121.9 92.4 L124.8 95.6 L127.7 98.6 L130.7 101.3 L133.6 103.6 L136.5 105.4 L139.5 106.8 L142.4 107.5 L145.3 107.7 L148.3 107.7 L151.2 107.7"/>
<path d="M54.4 97.5 L57.3 98.2 L60.3 99.0 L63.2 99.7 L66.1 100.1 L69.1 100.2 L72.0 100.0 L74.9 99.4 L77.9 98.6 L80.8 97.8 L83.7 94.1 L86.7 83.5 L89.6 73.6 L92.5 67.9 L95.5 67.2 L98.4 67.7 L101.3 68.5 L104.3 69.8 L107.2 71.5 L110.1 73.4 L113.1 75.6 L116.0 78.0 L118.9 80.5 L121.9 83.0 L124.8 85.5 L127.7 87.9 L130.7 90.1 L133.6 92.0 L136.5 93.6 L139.5 94.8 L142.4 95.7 L145.3 96.1 L148.3 96.1 L151.2 96.1"/>
<path d="M54.4 97.5 L57.3 99.5 L60.3 101.8 L63.2 103.7 L66.1 104.6 L69.1 104.5 L72.0 103.4 L74.9 101.5 L77.9 99.2 L80.8 96.9 L83.7 89.6 L86.7 81.7 L89.6 76.3 L92.5 74.9 L95.5 76.0 L98.4 78.8 L101.3 82.9 L104.3 88.3 L107.2 94.4 L110.1 101.0 L113.1 107.7 L116.0 113.9 L118.9 119.4 L121.9 123.8 L124.8 126.8 L127.7 128.2 L130.7 128.3 L133.6 128.3 L136.5 128.3 L139.5 128.3 L142.4 128.3 L145.3 128.3 L148.3 128.3 L151.2 128.3"/>
<path d="M54.4 97.5 L57.3 95.7 L60.3 93.0 L63.2 89.8 L66.1 86.3 L69.1 82.6 L72.0 79.0 L74.9 75.3 L77.9 71.8 L80.8 68.6 L83.7 65.6 L86.7 62.9 L89.6 60.7 L92.5 58.9 L95.5 57.6 L98.4 56.8 L101.3 56.5 L104.3 57.2 L107.2 59.2 L110.1 62.5 L113.1 67.0 L116.0 72.5 L118.9 78.7 L121.9 85.4 L124.8 92.5 L127.7 99.5 L130.7 106.2 L133.6 112.4 L136.5 117.8 L139.5 122.2 L142.4 125.4 L145.3 127.3 L148.3 127.8 L151.2 127.8"/>
<path d="M54.4 97.5 L57.3 93.1 L60.3 88.4 L63.2 83.7 L66.1 79.0 L69.1 74.5 L72.0 70.3 L74.9 66.5 L77.9 63.0 L80.8 60.1 L83.7 57.6 L86.7 55.7 L89.6 54.4 L92.5 53.7 L95.5 53.6 L98.4 54.4 L101.3 56.0 L104.3 58.5 L107.2 61.8 L110.1 65.8 L113.1 70.4 L116.0 75.4 L118.9 80.8 L121.9 86.3 L124.8 91.9 L127.7 97.3 L130.7 102.5 L133.6 107.3 L136.5 111.5 L139.5 115.1 L142.4 118.0 L145.3 120.0 L148.3 121.2 L151.2 121.5"/>
<path d="M54.4 97.5 L57.3 106.1 L60.3 115.9 L63.2 123.6 L66.1 127.8 L69.1 127.4 L72.0 122.6 L74.9 114.4 L77.9 104.6 L80.8 97.0 L83.7 91.3 L86.7 84.5 L89.6 78.4 L92.5 74.2 L95.5 72.7 L98.4 73.0 L101.3 74.0 L104.3 75.6 L107.2 77.8 L110.1 80.6 L113.1 83.8 L116.0 87.3 L118.9 91.0 L121.9 94.8 L124.8 98.6 L127.7 102.2 L130.7 105.6 L133.6 108.6 L136.5 111.2 L139.5 113.2 L142.4 114.6 L145.3 115.3 L148.3 115.4 L151.2 115.4"/>
<path d="M54.4 97.5 L57.3 99.0 L60.3 100.6 L63.2 101.6 L66.1 101.7 L69.1 100.9 L72.0 99.5 L74.9 97.9 L77.9 94.4 L80.8 87.9 L83.7 81.0 L86.7 74.9 L89.6 70.4 L92.5 68.0 L95.5 67.8 L98.4 68.9 L101.3 70.9 L104.3 73.9 L107.2 77.7 L110.1 82.1 L113.1 87.0 L116.0 92.1 L118.9 97.3 L121.9 102.4 L124.8 107.0 L127.7 111.2 L130.7 114.6 L133.6 117.1 L136.5 118.7 L139.5 119.2 L142.4 119.2 L145.3 119.2 L148.3 119.2 L151.2 119.2"/>
<path d="M54.4 97.5 L57.3 94.1 L60.3 89.5 L63.2 84.5 L66.1 79.3 L69.1 74.2 L72.0 69.5 L74.9 65.2 L77.9 61.5 L80.8 58.7 L83.7 56.6 L86.7 55.5 L89.6 55.3 L92.5 56.4 L95.5 58.8 L98.4 62.4 L101.3 67.1 L104.3 72.8 L107.2 79.4 L110.1 86.5 L113.1 94.1 L116.0 101.9 L118.9 109.7 L121.9 117.2 L124.8 124.3 L127.7 130.7 L130.7 136.3 L133.6 140.9 L136.5 144.3 L139.5 146.5 L142.4 147.4 L145.3 147.4 L148.3 147.4 L151.2 147.4"/>
<path d="M54.4 97.5 L57.3 98.9 L60.3 100.4 L63.2 101.6 L66.1 102.2 L69.1 102.0 L72.0 101.2 L74.9 99.8 L77.9 98.3 L80.8 96.4 L83.7 92.1 L86.7 87.2 L89.6 82.9 L92.5 79.8 L95.5 78.4 L98.4 78.5 L101.3 79.0 L104.3 79.8 L107.2 81.0 L110.1 82.5 L113.1 84.2 L116.0 86.2 L118.9 88.3 L121.9 90.6 L124.8 92.9 L127.7 95.2 L130.7 97.5 L133.6 99.6 L136.5 101.6 L139.5 103.3 L142.4 104.8 L145.3 105.9 L148.3 106.7 L151.2 107.2"/>
<path d="M54.4 97.5 L57.3 95.9 L60.3 93.5 L63.2 90.5 L66.1 87.3 L69.1 83.9 L72.0 80.5 L74.9 77.0 L77.9 73.7 L80.8 70.5 L83.7 67.5 L86.7 64.9 L89.6 62.5 L92.5 60.6 L95.5 59.1 L98.4 58.0 L101.3 57.4 L104.3 57.3 L107.2 58.0 L110.1 59.6 L113.1 62.1 L116.0 65.4 L118.9 69.3 L121.9 73.7 L124.8 78.4 L127.7 83.4 L130.7 88.3 L133.6 93.0 L136.5 97.3 L139.5 101.2 L142.4 104.3 L145.3 106.7 L148.3 108.2 L151.2 108.8"/>
<path d="M54.4 97.5 L57.3 96.6 L60.3 94.9 L63.2 92.8 L66.1 90.4 L69.1 87.8 L72.0 85.1 L74.9 82.5 L77.9 79.9 L80.8 77.4 L83.7 75.1 L86.7 73.1 L89.6 71.4 L92.5 70.1 L95.5 69.1 L98.4 68.6 L101.3 68.5 L104.3 69.1 L107.2 70.6 L110.1 72.9 L113.1 75.8 L116.0 79.4 L118.9 83.4 L121.9 87.7 L124.8 92.2 L127.7 96.6 L130.7 100.8 L133.6 104.6 L136.5 108.0 L139.5 110.6 L142.4 112.6 L145.3 113.7 L148.3 114.0 L151.2 114.0"/>
<path d="M54.4 97.5 L57.3 95.4 L60.3 91.9 L63.2 87.7 L66.1 83.4 L69.1 79.1 L72.0 75.3 L74.9 72.0 L77.9 69.6 L80.8 68.2 L83.7 67.8 L86.7 68.3 L89.6 69.7 L92.5 71.8 L95.5 74.7 L98.4 78.2 L101.3 82.2 L104.3 86.5 L107.2 91.2 L110.1 95.9 L113.1 100.5 L116.0 104.9 L118.9 109.0 L121.9 112.6 L124.8 115.5 L127.7 117.8 L130.7 119.3 L133.6 119.9 L136.5 120.0 L139.5 120.0 L142.4 120.0 L145.3 120.0 L148.3 120.0 L151.2 120.0"/>
<path d="M54.4 97.5 L57.3 93.3 L60.3 88.4 L63.2 83.3 L66.1 78.2 L69.1 73.2 L72.0 68.4 L74.9 63.9 L77.9 59.9 L80.8 56.4 L83.7 53.4 L86.7 51.1 L89.6 49.4 L92.5 48.5 L95.5 48.2 L98.4 48.9 L101.3 50.6 L104.3 53.3 L107.2 56.8 L110.1 61.0 L113.1 65.7 L116.0 70.7 L118.9 75.8 L121.9 80.8 L124.8 85.5 L127.7 89.6 L130.7 93.1 L133.6 95.7 L136.5 97.3 L139.5 97.9 L142.4 97.9 L145.3 97.9 L148.3 97.9 L151.2 97.9"/>
<path d="M54.4 97.5 L57.3 105.6 L60.3 114.2 L63.2 119.9 L66.1 121.1 L69.1 117.5 L72.0 110.1 L74.9 101.1 L77.9 95.4 L80.8 89.3 L83.7 83.7 L86.7 80.5 L89.6 80.2 L92.5 80.9 L95.5 82.3 L98.4 84.3 L101.3 86.8 L104.3 89.8 L107.2 93.1 L110.1 96.7 L113.1 100.4 L116.0 104.1 L118.9 107.7 L121.9 111.0 L124.8 114.0 L127.7 116.5 L130.7 118.4 L133.6 119.8 L136.5 120.5 L139.5 120.5 L142.4 120.5 L145.3 120.5 L148.3 120.5 L151.2 120.5"/>
<path d="M54.4 97.5 L57.3 97.9 L60.3 98.4 L63.2 98.9 L66.1 99.1 L69.1 99.2 L72.0 99.0 L74.9 98.7 L77.9 98.2 L80.8 97.7 L83.7 95.4 L86.7 89.8 L89.6 83.8 L92.5 78.9 L95.5 76.0 L98.4 75.4 L101.3 75.8 L104.3 76.5 L107.2 77.7 L110.1 79.1 L113.1 80.8 L116.0 82.7 L118.9 84.8 L121.9 86.8 L124.8 88.8 L127.7 90.7 L130.7 92.3 L133.6 93.7 L136.5 94.7 L139.5 95.3 L142.4 95.6 L145.3 95.6 L148.3 95.6 L151.2 95.6"/>
<path d="M54.4 97.5 L57.3 95.3 L60.3 92.4 L63.2 89.2 L66.1 85.9 L69.1 82.7 L72.0 79.6 L74.9 76.7 L77.9 74.2 L80.8 72.1 L83.7 70.5 L86.7 69.3 L89.6 68.7 L92.5 68.7 L95.5 69.2 L98.4 70.4 L101.3 72.2 L104.3 74.4 L107.2 77.2 L110.1 80.2 L113.1 83.5 L116.0 86.9 L118.9 90.4 L121.9 93.7 L124.8 96.8 L127.7 99.5 L130.7 101.8 L133.6 103.6 L136.5 104.8 L139.5 105.4 L142.4 105.5 L145.3 105.5 L148.3 105.5 L151.2 105.5"/>
<path d="M54.4 97.5 L57.3 90.5 L60.3 82.9 L63.2 75.5 L66.1 68.4 L69.1 62.0 L72.0 56.5 L74.9 51.9 L77.9 48.6 L80.8 46.6 L83.7 45.8 L86.7 46.6 L89.6 48.9 L92.5 52.6 L95.5 57.6 L98.4 63.6 L101.3 70.3 L104.3 77.5 L107.2 84.8 L110.1 91.8 L113.1 98.3 L116.0 103.9 L118.9 108.3 L121.9 111.4 L124.8 113.0 L127.7 113.2 L130.7 113.2 L133.6 113.2 L136.5 113.2 L139.5 113.2 L142.4 113.2 L145.3 113.2 L148.3 113.2 L151.2 113.2"/>
<path d="M54.4 97.5 L57.3 100.2 L60.3 103.1 L63.2 105.4 L66.1 106.5 L69.1 106.1 L72.0 104.3 L74.9 101.6 L77.9 98.6 L80.8 96.1 L83.7 92.2 L86.7 88.6 L89.6 86.6 L92.5 86.5 L95.5 87.2 L98.4 88.7 L101.3 90.8 L104.3 93.3 L107.2 96.3 L110.1 99.5 L113.1 102.8 L116.0 106.0 L118.9 109.0 L121.9 111.6 L124.8 113.7 L127.7 115.2 L130.7 116.0 L133.6 116.1 L136.5 116.1 L139.5 116.1 L142.4 116.1 L145.3 116.1 L148.3 116.1 L151.2 116.1"/>
<path d="M54.4 97.5 L57.3 92.0 L60.3 85.9 L63.2 79.7 L66.1 73.7 L69.1 68.0 L72.0 62.7 L74.9 58.0 L77.9 53.9 L80.8 50.6 L83.7 48.0 L86.7 46.3 L89.6 45.4 L92.5 45.8 L95.5 48.5 L98.4 53.6 L101.3 60.8 L104.3 69.5 L107.2 79.3 L110.1 89.4 L113.1 99.3 L116.0 108.2 L118.9 115.7 L121.9 121.1 L124.8 124.2 L127.7 124.9 L130.7 124.9 L133.6 124.9 L136.5 124.9 L139.5 124.9 L142.4 124.9 L145.3 124.9 L148.3 124.9 L151.2 124.9"/>
<path d="M54.4 97.5 L57.3 94.7 L60.3 91.2 L63.2 87.3 L66.1 83.4 L69.1 79.4 L72.0 75.5 L74.9 71.9 L77.9 68.5 L80.8 65.4 L83.7 62.7 L86.7 60.5 L89.6 58.7 L92.5 57.5 L95.5 56.8 L98.4 56.6 L101.3 56.9 L104.3 57.6 L107.2 58.7 L110.1 60.1 L113.1 61.8 L116.0 63.8 L118.9 66.0 L121.9 68.3 L124.8 70.7 L127.7 73.0 L130.7 75.3 L133.6 77.5 L136.5 79.5 L139.5 81.2 L142.4 82.5 L145.3 83.6 L148.3 84.2 L151.2 84.5"/>
<path d="M54.4 97.5 L57.3 93.0 L60.3 88.3 L63.2 83.5 L66.1 78.7 L69.1 74.2 L72.0 69.8 L74.9 65.7 L77.9 62.0 L80.8 58.6 L83.7 55.6 L86.7 53.1 L89.6 51.1 L92.5 49.6 L95.5 48.7 L98.4 48.2 L101.3 48.5 L104.3 49.7 L107.2 52.0 L110.1 55.1 L113.1 59.1 L116.0 63.8 L118.9 69.1 L121.9 74.8 L124.8 80.7 L127.7 86.7 L130.7 92.6 L133.6 98.2 L136.5 103.3 L139.5 107.9 L142.4 111.7 L145.3 114.7 L148.3 116.8 L151.2 117.9"/>
<path d="M54.4 97.5 L57.3 95.4 L60.3 91.7 L63.2 87.1 L66.1 82.1 L69.1 76.8 L72.0 71.4 L74.9 66.1 L77.9 61.2 L80.8 56.7 L83.7 52.9 L86.7 49.7 L89.6 47.4 L92.5 46.0 L95.5 45.6 L98.4 46.7 L101.3 50.1 L104.3 55.3 L107.2 62.0 L110.1 69.8 L113.1 77.8 L116.0 85.6 L118.9 92.5 L121.9 98.0 L124.8 101.6 L127.7 103.0 L130.7 103.0 L133.6 103.0 L136.5 103.0 L139.5 103.0 L142.4 103.0 L145.3 103.0 L148.3 103.0 L151.2 103.0"/>
<path d="M54.4 97.5 L57.3 99.8 L60.3 102.2 L63.2 103.7 L66.1 103.8 L69.1 102.5 L72.0 100.2 L74.9 97.8 L77.9 95.8 L80.8 92.8 L83.7 89.6 L86.7 86.6 L89.6 84.2 L92.5 82.6 L95.5 81.8 L98.4 82.1 L101.3 83.1 L104.3 84.9 L107.2 87.4 L110.1 90.3 L113.1 93.4 L116.0 96.6 L118.9 99.7 L121.9 102.4 L124.8 104.5 L127.7 105.9 L130.7 106.5 L133.6 106.6 L136.5 106.6 L139.5 106.6 L142.4 106.6 L145.3 106.6 L148.3 106.6 L151.2 106.6"/>
<path d="M54.4 97.5 L57.3 95.5 L60.3 92.3 L63.2 88.6 L66.1 84.5 L69.1 80.2 L72.0 75.9 L74.9 71.6 L77.9 67.5 L80.8 63.8 L83.7 60.4 L86.7 57.5 L89.6 55.1 L92.5 53.3 L95.5 52.1 L98.4 51.6 L101.3 51.7 L104.3 52.2 L107.2 53.2 L110.1 54.5 L113.1 56.3 L116.0 58.3 L118.9 60.6 L121.9 63.2 L124.8 65.8 L127.7 68.5 L130.7 71.3 L133.6 73.9 L136.5 76.5 L139.5 78.8 L142.4 80.8 L145.3 82.6 L148.3 83.9 L151.2 84.9"/>
<path d="M54.4 97.5 L57.3 99.7 L60.3 102.0 L63.2 103.4 L66.1 103.5 L69.1 102.2 L72.0 100.0 L74.9 97.7 L77.9 91.9 L80.8 83.8 L83.7 77.3 L86.7 74.5 L89.6 74.8 L92.5 75.9 L95.5 77.7 L98.4 80.0 L101.3 83.0 L104.3 86.3 L107.2 89.9 L110.1 93.6 L113.1 97.2 L116.0 100.7 L118.9 103.8 L121.9 106.4 L124.8 108.4 L127.7 109.7 L130.7 110.3 L133.6 110.3 L136.5 110.3 L139.5 110.3 L142.4 110.3 L145.3 110.3 L148.3 110.3 L151.2 110.3"/>
<path d="M54.4 97.5 L57.3 93.3 L60.3 88.4 L63.2 83.5 L66.1 78.7 L69.1 74.1 L72.0 69.8 L74.9 66.0 L77.9 62.7 L80.8 60.0 L83.7 58.0 L86.7 56.7 L89.6 56.1 L92.5 56.5 L95.5 58.2 L98.4 61.1 L101.3 65.3 L104.3 70.4 L107.2 76.2 L110.1 82.6 L113.1 89.1 L116.0 95.6 L118.9 101.8 L121.9 107.4 L124.8 112.1 L127.7 115.7 L130.7 118.2 L133.6 119.3 L136.5 119.4 L139.5 119.4 L142.4 119.4 L145.3 119.4 L148.3 119.4 L151.2 119.4"/>
<path d="M54.4 97.5 L57.3 106.8 L60.3 116.9 L63.2 123.8 L66.1 125.7 L69.1 122.1 L72.0 114.0 L74.9 103.6 L77.9 97.2 L80.8 95.2 L83.7 92.9 L86.7 90.4 L89.6 88.0 L92.5 85.9 L95.5 84.1 L98.4 82.9 L101.3 82.3 L104.3 82.2 L107.2 82.5 L110.1 82.9 L113.1 83.6 L116.0 84.6 L118.9 85.7 L121.9 86.9 L124.8 88.3 L127.7 89.8 L130.7 91.4 L133.6 92.9 L136.5 94.5 L139.5 96.0 L142.4 97.4 L145.3 98.6 L148.3 99.7 L151.2 100.7"/>
<path d="M54.4 97.5 L57.3 94.4 L60.3 90.6 L63.2 86.6 L66.1 82.5 L69.1 78.6 L72.0 74.9 L74.9 71.5 L77.9 68.5 L80.8 66.0 L83.7 63.9 L86.7 62.4 L89.6 61.4 L92.5 61.1 L95.5 61.6 L98.4 63.4 L101.3 66.2 L104.3 70.0 L107.2 74.7 L110.1 80.1 L113.1 86.0 L116.0 92.1 L118.9 98.3 L121.9 104.3 L124.8 109.9 L127.7 114.9 L130.7 119.1 L133.6 122.3 L136.5 124.5 L139.5 125.5 L142.4 125.5 L145.3 125.5 L148.3 125.5 L151.2 125.5"/>
<path d="M54.4 97.5 L57.3 95.7 L60.3 92.6 L63.2 88.7 L66.1 84.4 L69.1 80.0 L72.0 75.6 L74.9 71.3 L77.9 67.5 L80.8 64.2 L83.7 61.6 L86.7 59.7 L89.6 58.6 L92.5 58.4 L95.5 58.9 L98.4 60.1 L101.3 61.9 L104.3 64.2 L107.2 67.1 L110.1 70.3 L113.1 73.9 L116.0 77.6 L118.9 81.5 L121.9 85.3 L124.8 88.9 L127.7 92.3 L130.7 95.3 L133.6 97.8 L136.5 99.8 L139.5 101.2 L142.4 102.0 L145.3 102.1 L148.3 102.1 L151.2 102.1"/>
<path d="M54.4 97.5 L57.3 109.2 L60.3 121.2 L63.2 128.5 L66.1 128.6 L69.1 121.5 L72.0 109.5 L74.9 97.6 L77.9 92.8 L80.8 86.1 L83.7 79.0 L86.7 72.2 L89.6 66.5 L92.5 62.2 L95.5 59.8 L98.4 59.3 L101.3 59.8 L104.3 60.7 L107.2 62.2 L110.1 64.2 L113.1 66.5 L116.0 69.1 L118.9 71.9 L121.9 74.9 L124.8 77.8 L127.7 80.7 L130.7 83.4 L133.6 85.8 L136.5 87.8 L139.5 89.4 L142.4 90.5 L145.3 91.0 L148.3 91.1 L151.2 91.1"/>
<path d="M54.4 97.5 L57.3 100.2 L60.3 103.0 L63.2 104.5 L66.1 104.4 L69.1 102.5 L72.0 99.7 L74.9 97.1 L77.9 92.9 L80.8 88.0 L83.7 83.9 L86.7 81.6 L89.6 81.3 L92.5 81.6 L95.5 82.2 L98.4 83.2 L101.3 84.4 L104.3 85.8 L107.2 87.4 L110.1 89.2 L113.1 91.1 L116.0 93.0 L118.9 94.9 L121.9 96.7 L124.8 98.4 L127.7 99.9 L130.7 101.2 L133.6 102.2 L136.5 102.9 L139.5 103.4 L142.4 103.5 L145.3 103.5 L148.3 103.5 L151.2 103.5"/>
<path d="M54.4 97.5 L57.3 96.1 L60.3 93.9 L63.2 91.2 L66.1 88.3 L69.1 85.2 L72.0 82.2 L74.9 79.2 L77.9 76.4 L80.8 73.9 L83.7 71.8 L86.7 70.1 L89.6 68.8 L92.5 68.1 L95.5 67.8 L98.4 68.9 L101.3 71.9 L104.3 76.5 L107.2 82.3 L110.1 88.9 L113.1 95.8 L116.0 102.4 L118.9 108.1 L121.9 112.5 L124.8 115.3 L127.7 116.2 L130.7 116.2 L133.6 116.2 L136.5 116.2 L139.5 116.2 L142.4 116.2 L145.3 116.2 L148.3 116.2 L151.2 116.2"/>
<path d="M54.4 97.5 L57.3 94.2 L60.3 89.8 L63.2 85.1 L66.1 80.2 L69.1 75.3 L72.0 70.5 L74.9 66.1 L77.9 62.1 L80.8 58.5 L83.7 55.6 L86.7 53.3 L89.6 51.7 L92.5 50.9 L95.5 50.8 L98.4 51.5 L101.3 52.9 L104.3 54.9 L107.2 57.7 L110.1 61.0 L113.1 64.8 L116.0 69.0 L118.9 73.6 L121.9 78.3 L124.8 83.2 L127.7 88.0 L130.7 92.7 L133.6 97.1 L136.5 101.2 L139.5 104.9 L142.4 108.0 L145.3 110.5 L148.3 112.4 L151.2 113.6"/>
<path d="M54.4 97.5 L57.3 95.0 L60.3 91.9 L63.2 88.5 L66.1 85.3 L69.1 82.1 L72.0 79.3 L74.9 76.8 L77.9 74.7 L80.8 73.2 L83.7 72.3 L86.7 72.0 L89.6 72.3 L92.5 73.4 L95.5 75.2 L98.4 77.6 L101.3 80.7 L104.3 84.2 L107.2 88.0 L110.1 92.2 L113.1 96.4 L116.0 100.6 L118.9 104.7 L121.9 108.5 L124.8 111.9 L127.7 114.8 L130.7 117.1 L133.6 118.7 L136.5 119.6 L139.5 119.8 L142.4 119.8 L145.3 119.8 L148.3 119.8 L151.2 119.8"/>
<path d="M54.4 97.5 L57.3 89.5 L60.3 80.9 L63.2 72.6 L66.1 64.9 L69.1 58.2 L72.0 52.7 L74.9 48.6 L77.9 46.2 L80.8 45.4 L83.7 46.0 L86.7 47.8 L89.6 50.6 L92.5 54.4 L95.5 58.9 L98.4 64.1 L101.3 69.8 L104.3 75.7 L107.2 81.6 L110.1 87.3 L113.1 92.6 L116.0 97.3 L118.9 101.1 L121.9 104.1 L124.8 105.9 L127.7 106.7 L130.7 106.7 L133.6 106.7 L136.5 106.7 L139.5 106.7 L142.4 106.7 L145.3 106.7 L148.3 106.7 L151.2 106.7"/>
<path d="M54.4 97.5 L57.3 99.0 L60.3 100.6 L63.2 101.6 L66.1 101.8 L69.1 101.1 L72.0 99.6 L74.9 98.0 L77.9 95.8 L80.8 91.7 L83.7 87.5 L86.7 84.0 L89.6 81.6 L92.5 80.9 L95.5 81.1 L98.4 81.7 L101.3 82.7 L104.3 84.1 L107.2 85.7 L110.1 87.6 L113.1 89.7 L116.0 91.9 L118.9 94.1 L121.9 96.4 L124.8 98.5 L127.7 100.5 L130.7 102.3 L133.6 103.8 L136.5 104.9 L139.5 105.8 L142.4 106.2 L145.3 106.3 L148.3 106.3 L151.2 106.3"/>
<path d="M54.4 97.5 L57.3 88.4 L60.3 78.9 L63.2 69.6 L66.1 60.9 L69.1 53.0 L72.0 46.1 L74.9 40.5 L77.9 36.2 L80.8 33.5 L83.7 32.4 L86.7 33.0 L89.6 35.1 L92.5 38.9 L95.5 44.0 L98.4 50.4 L101.3 57.9 L104.3 66.1 L107.2 74.8 L110.1 83.6 L113.1 92.4 L116.0 100.6 L118.9 108.2 L121.9 114.8 L124.8 120.1 L127.7 124.0 L130.7 126.4 L133.6 127.2 L136.5 127.2 L139.5 127.2 L142.4 127.2 L145.3 127.2 L148.3 127.2 L151.2 127.2"/>
<path d="M54.4 97.5 L57.3 94.9 L60.3 91.5 L63.2 87.9 L66.1 84.2 L69.1 80.6 L72.0 77.2 L74.9 74.1 L77.9 71.3 L80.8 69.0 L83.7 67.2 L86.7 65.9 L89.6 65.2 L92.5 65.1 L95.5 65.9 L98.4 67.6 L101.3 70.1 L104.3 73.5 L107.2 77.5 L110.1 82.1 L113.1 87.0 L116.0 92.1 L118.9 97.2 L121.9 102.1 L124.8 106.7 L127.7 110.8 L130.7 114.3 L133.6 116.9 L136.5 118.8 L139.5 119.7 L142.4 119.7 L145.3 119.7 L148.3 119.7 L151.2 119.7"/>
<path d="M54.4 97.5 L57.3 91.7 L60.3 85.3 L63.2 78.9 L66.1 72.6 L69.1 66.6 L72.0 61.0 L74.9 56.0 L77.9 51.6 L80.8 47.9 L83.7 45.0 L86.7 42.9 L89.6 41.8 L92.5 41.5 L95.5 42.2 L98.4 43.8 L101.3 46.4 L104.3 49.9 L107.2 54.1 L110.1 59.0 L113.1 64.4 L116.0 70.3 L118.9 76.5 L121.9 82.9 L124.8 89.2 L127.7 95.4 L130.7 101.3 L133.6 106.8 L136.5 111.7 L139.5 116.0 L142.4 119.5 L145.3 122.1 L148.3 123.8 L151.2 124.5"/>
<path d="M54.4 97.5 L57.3 95.2 L60.3 92.6 L63.2 89.9 L66.1 87.2 L69.1 84.6 L72.0 82.2 L74.9 79.9 L77.9 77.8 L80.8 75.9 L83.7 74.3 L86.7 73.0 L89.6 72.0 L92.5 71.3 L95.5 71.0 L98.4 71.1 L101.3 72.1 L104.3 73.8 L107.2 76.3 L110.1 79.4 L113.1 83.1 L116.0 87.1 L118.9 91.2 L121.9 95.4 L124.8 99.4 L127.7 103.1 L130.7 106.3 L133.6 108.8 L136.5 110.6 L139.5 111.6 L142.4 111.8 L145.3 111.8 L148.3 111.8 L151.2 111.8"/>
<path d="M54.4 97.5 L57.3 95.8 L60.3 94.1 L63.2 92.5 L66.1 90.9 L69.1 89.4 L72.0 88.1 L74.9 87.0 L77.9 86.0 L80.8 85.2 L83.7 84.6 L86.7 84.3 L89.6 84.2 L92.5 84.8 L95.5 86.3 L98.4 88.7 L101.3 91.8 L104.3 95.4 L107.2 99.4 L110.1 103.4 L113.1 107.2 L116.0 110.7 L118.9 113.5 L121.9 115.5 L124.8 116.6 L127.7 116.8 L130.7 116.8 L133.6 116.8 L136.5 116.8 L139.5 116.8 L142.4 116.8 L145.3 116.8 L148.3 116.8 L151.2 116.8"/>
<path d="M54.4 97.5 L57.3 91.5 L60.3 85.7 L63.2 80.2 L66.1 75.1 L69.1 70.7 L72.0 67.1 L74.9 64.3 L77.9 62.4 L80.8 61.6 L83.7 61.6 L86.7 62.3 L89.6 63.6 L92.5 65.4 L95.5 67.7 L98.4 70.5 L101.3 73.6 L104.3 76.9 L107.2 80.4 L110.1 84.0 L113.1 87.6 L116.0 91.0 L118.9 94.2 L121.9 97.1 L124.8 99.5 L127.7 101.5 L130.7 103.0 L133.6 103.8 L136.5 104.1 L139.5 104.1 L142.4 104.1 L145.3 104.1 L148.3 104.1 L151.2 104.1"/>
<path d="M54.4 97.5 L57.3 101.6 L60.3 105.8 L63.2 108.0 L66.1 107.6 L69.1 104.7 L72.0 100.3 L74.9 97.1 L77.9 94.9 L80.8 92.2 L83.7 89.6 L86.7 87.1 L89.6 85.2 L92.5 83.9 L95.5 83.4 L98.4 83.8 L101.3 85.2 L104.3 87.6 L107.2 90.8 L110.1 94.6 L113.1 98.9 L116.0 103.4 L118.9 107.8 L121.9 112.0 L124.8 115.6 L127.7 118.6 L130.7 120.6 L133.6 121.7 L136.5 121.8 L139.5 121.8 L142.4 121.8 L145.3 121.8 L148.3 121.8 L151.2 121.8"/>
<path d="M54.4 97.5 L57.3 101.0 L60.3 104.8 L63.2 107.9 L66.1 109.5 L69.1 109.2 L72.0 107.1 L74.9 103.7 L77.9 99.8 L80.8 95.4 L83.7 83.9 L86.7 72.3 L89.6 64.9 L92.5 63.4 L95.5 63.8 L98.4 64.6 L101.3 65.8 L104.3 67.5 L107.2 69.4 L110.1 71.7 L113.1 74.2 L116.0 77.0 L118.9 79.8 L121.9 82.7 L124.8 85.6 L127.7 88.4 L130.7 91.1 L133.6 93.6 L136.5 95.8 L139.5 97.7 L142.4 99.2 L145.3 100.4 L148.3 101.1 L151.2 101.4"/>
<path d="M54.4 97.5 L57.3 101.3 L60.3 105.2 L63.2 107.6 L66.1 107.7 L69.1 105.6 L72.0 101.8 L74.9 97.8 L77.9 95.7 L80.8 93.3 L83.7 91.3 L86.7 90.5 L89.6 90.6 L92.5 91.1 L95.5 92.0 L98.4 93.1 L101.3 94.4 L104.3 96.0 L107.2 97.8 L110.1 99.6 L113.1 101.4 L116.0 103.2 L118.9 104.9 L121.9 106.4 L124.8 107.7 L127.7 108.8 L130.7 109.5 L133.6 109.9 L136.5 109.9 L139.5 109.9 L142.4 109.9 L145.3 109.9 L148.3 109.9 L151.2 109.9"/>
<path d="M54.4 97.5 L57.3 95.2 L60.3 91.7 L63.2 87.8 L66.1 83.5 L69.1 79.1 L72.0 74.6 L74.9 70.1 L77.9 65.8 L80.8 61.8 L83.7 58.0 L86.7 54.6 L89.6 51.6 L92.5 49.0 L95.5 47.0 L98.4 45.5 L101.3 44.7 L104.3 44.3 L107.2 44.9 L110.1 46.5 L113.1 49.1 L116.0 52.6 L118.9 56.9 L121.9 61.9 L124.8 67.4 L127.7 73.3 L130.7 79.2 L133.6 85.1 L136.5 90.6 L139.5 95.8 L142.4 100.3 L145.3 104.0 L148.3 106.8 L151.2 108.6"/>
<path d="M54.4 97.5 L57.3 98.0 L60.3 98.6 L63.2 99.1 L66.1 99.3 L69.1 99.2 L72.0 98.8 L74.9 98.2 L77.9 97.6 L80.8 94.6 L83.7 88.7 L86.7 83.4 L89.6 80.1 L92.5 79.5 L95.5 79.9 L98.4 80.9 L101.3 82.4 L104.3 84.4 L107.2 86.7 L110.1 89.4 L113.1 92.3 L116.0 95.4 L118.9 98.6 L121.9 101.8 L124.8 104.9 L127.7 107.8 L130.7 110.4 L133.6 112.7 L136.5 114.5 L139.5 115.9 L142.4 116.7 L145.3 117.1 L148.3 117.1 L151.2 117.1"/>
<path d="M54.4 97.5 L57.3 98.2 L60.3 98.9 L63.2 99.4 L66.1 99.4 L69.1 99.1 L72.0 98.4 L74.9 97.6 L77.9 96.4 L80.8 94.6 L83.7 92.7 L86.7 91.2 L89.6 90.3 L92.5 90.0 L95.5 90.5 L98.4 91.5 L101.3 93.0 L104.3 95.0 L107.2 97.4 L110.1 100.1 L113.1 102.8 L116.0 105.5 L118.9 108.1 L121.9 110.4 L124.8 112.2 L127.7 113.6 L130.7 114.3 L133.6 114.5 L136.5 114.5 L139.5 114.5 L142.4 114.5 L145.3 114.5 L148.3 114.5 L151.2 114.5"/>
<path d="M54.4 97.5 L57.3 94.3 L60.3 89.9 L63.2 85.0 L66.1 79.8 L69.1 74.5 L72.0 69.1 L74.9 63.8 L77.9 58.7 L80.8 53.9 L83.7 49.4 L86.7 45.3 L89.6 41.7 L92.5 38.6 L95.5 36.1 L98.4 34.2 L101.3 32.9 L104.3 32.3 L107.2 32.4 L110.1 33.8 L113.1 36.5 L116.0 40.4 L118.9 45.3 L121.9 51.1 L124.8 57.4 L127.7 64.2 L130.7 71.0 L133.6 77.7 L136.5 84.0 L139.5 89.6 L142.4 94.3 L145.3 98.0 L148.3 100.4 L151.2 101.6"/>
<path d="M54.4 97.5 L57.3 98.7 L60.3 100.1 L63.2 101.3 L66.1 102.0 L69.1 102.2 L72.0 101.8 L74.9 100.8 L77.9 99.5 L80.8 98.1 L83.7 96.2 L86.7 91.7 L89.6 86.6 L92.5 81.9 L95.5 78.0 L98.4 75.5 L101.3 74.8 L104.3 75.0 L107.2 75.8 L110.1 77.0 L113.1 78.7 L116.0 80.7 L118.9 83.1 L121.9 85.8 L124.8 88.6 L127.7 91.6 L130.7 94.7 L133.6 97.7 L136.5 100.5 L139.5 103.2 L142.4 105.7 L145.3 107.8 L148.3 109.5 L151.2 110.8"/>
<path d="M54.4 97.5 L57.3 94.3 L60.3 89.7 L63.2 84.5 L66.1 79.1 L69.1 73.6 L72.0 68.4 L74.9 63.5 L77.9 59.1 L80.8 55.3 L83.7 52.3 L86.7 50.0 L89.6 48.7 L92.5 48.3 L95.5 49.4 L98.4 52.4 L101.3 57.2 L104.3 63.5 L107.2 71.2 L110.1 79.8 L113.1 89.0 L116.0 98.5 L118.9 107.7 L121.9 116.3 L124.8 124.0 L127.7 130.3 L130.7 135.1 L133.6 138.1 L136.5 139.2 L139.5 139.2 L142.4 139.2 L145.3 139.2 L148.3 139.2 L151.2 139.2"/>
<path d="M54.4 97.5 L57.3 98.6 L60.3 99.8 L63.2 100.5 L66.1 100.5 L69.1 99.8 L72.0 98.7 L74.9 97.5 L77.9 94.6 L80.8 90.7 L83.7 86.7 L86.7 83.4 L89.6 81.1 L92.5 80.1 L95.5 80.2 L98.4 80.9 L101.3 82.0 L104.3 83.6 L107.2 85.6 L110.1 87.9 L113.1 90.5 L116.0 93.4 L118.9 96.3 L121.9 99.4 L124.8 102.4 L127.7 105.3 L130.7 108.1 L133.6 110.6 L136.5 112.7 L139.5 114.5 L142.4 115.9 L145.3 116.9 L148.3 117.3 L151.2 117.3"/>
<path d="M54.4 97.5 L57.3 93.3 L60.3 86.4 L63.2 78.4 L66.1 70.0 L69.1 61.8 L72.0 54.3 L74.9 47.9 L77.9 43.0 L80.8 39.8 L83.7 38.6 L86.7 39.3 L89.6 41.9 L92.5 46.4 L95.5 52.5 L98.4 59.9 L101.3 68.2 L104.3 77.3 L107.2 86.5 L110.1 95.5 L113.1 104.0 L116.0 111.4 L118.9 117.6 L121.9 122.1 L124.8 124.9 L127.7 125.7 L130.7 125.7 L133.6 125.7 L136.5 125.7 L139.5 125.7 L142.4 125.7 L145.3 125.7 L148.3 125.7 L151.2 125.7"/>
<path d="M54.4 97.5 L57.3 99.7 L60.3 102.0 L63.2 103.2 L66.1 103.1 L69.1 101.5 L72.0 99.2 L74.9 97.0 L77.9 93.0 L80.8 88.8 L83.7 86.0 L86.7 85.3 L89.6 85.4 L92.5 85.6 L95.5 86.0 L98.4 86.5 L101.3 87.2 L104.3 87.9 L107.2 88.6 L110.1 89.5 L113.1 90.3 L116.0 91.2 L118.9 92.1 L121.9 92.9 L124.8 93.6 L127.7 94.3 L130.7 94.8 L133.6 95.3 L136.5 95.6 L139.5 95.8 L142.4 95.8 L145.3 95.8 L148.3 95.8 L151.2 95.8"/>
<path d="M54.4 97.5 L57.3 100.2 L60.3 103.1 L63.2 105.1 L66.1 105.5 L69.1 104.4 L72.0 101.9 L74.9 98.9 L77.9 95.3 L80.8 87.2 L83.7 78.5 L86.7 71.1 L89.6 66.4 L92.5 65.2 L95.5 65.9 L98.4 67.5 L101.3 70.0 L104.3 73.2 L107.2 77.0 L110.1 81.4 L113.1 85.9 L116.0 90.6 L118.9 95.2 L121.9 99.4 L124.8 103.2 L127.7 106.3 L130.7 108.6 L133.6 110.0 L136.5 110.5 L139.5 110.5 L142.4 110.5 L145.3 110.5 L148.3 110.5 L151.2 110.5"/>
<path d="M54.4 97.5 L57.3 92.9 L60.3 87.4 L63.2 81.7 L66.1 75.8 L69.1 70.1 L72.0 64.5 L74.9 59.3 L77.9 54.5 L80.8 50.2 L83.7 46.5 L86.7 43.4 L89.6 41.1 L92.5 39.4 L95.5 38.5 L98.4 38.4 L101.3 39.0 L104.3 40.2 L107.2 42.0 L110.1 44.4 L113.1 47.2 L116.0 50.4 L118.9 53.9 L121.9 57.6 L124.8 61.4 L127.7 65.1 L130.7 68.7 L133.6 72.0 L136.5 74.9 L139.5 77.4 L142.4 79.4 L145.3 80.8 L148.3 81.6 L151.2 81.7"/>
<path d="M54.4 97.5 L57.3 94.3 L60.3 88.7 L63.2 81.9 L66.1 74.4 L69.1 66.7 L72.0 59.1 L74.9 51.9 L77.9 45.5 L80.8 40.2 L83.7 36.1 L86.7 33.4 L89.6 32.3 L92.5 32.6 L95.5 34.1 L98.4 36.8 L101.3 40.7 L104.3 45.6 L107.2 51.4 L110.1 58.0 L113.1 65.2 L116.0 72.8 L118.9 80.8 L121.9 88.8 L124.8 96.7 L127.7 104.4 L130.7 111.5 L133.6 118.1 L136.5 123.8 L139.5 128.7 L142.4 132.5 L145.3 135.1 L148.3 136.6 L151.2 136.9"/>
<path d="M54.4 97.5 L57.3 100.1 L60.3 102.9 L63.2 104.8 L66.1 105.2 L69.1 103.9 L72.0 101.5 L74.9 98.6 L77.9 97.5 L80.8 97.5 L83.7 97.5 L86.7 97.5 L89.6 97.5 L92.5 97.5 L95.5 97.5 L98.4 97.5 L101.3 97.7 L104.3 98.0 L107.2 98.4 L110.1 98.9 L113.1 99.6 L116.0 100.3 L118.9 101.0 L121.9 101.8 L124.8 102.5 L127.7 103.2 L130.7 103.9 L133.6 104.4 L136.5 104.9 L139.5 105.2 L142.4 105.4 L145.3 105.4 L148.3 105.4 L151.2 105.4"/>
<path d="M54.4 97.5 L57.3 90.7 L60.3 83.2 L63.2 75.7 L66.1 68.5 L69.1 61.8 L72.0 55.9 L74.9 50.8 L77.9 46.8 L80.8 43.9 L83.7 42.2 L86.7 41.8 L89.6 42.9 L92.5 45.5 L95.5 49.5 L98.4 54.8 L101.3 61.2 L104.3 68.5 L107.2 76.2 L110.1 84.2 L113.1 92.1 L116.0 99.7 L118.9 106.6 L121.9 112.5 L124.8 117.3 L127.7 120.7 L130.7 122.6 L133.6 123.0 L136.5 123.0 L139.5 123.0 L142.4 123.0 L145.3 123.0 L148.3 123.0 L151.2 123.0"/>
<path d="M54.4 97.5 L57.3 95.1 L60.3 92.4 L63.2 89.7 L66.1 87.0 L69.1 84.6 L72.0 82.4 L74.9 80.5 L77.9 78.9 L80.8 77.8 L83.7 77.1 L86.7 76.8 L89.6 77.0 L92.5 77.8 L95.5 79.0 L98.4 80.6 L101.3 82.6 L104.3 84.9 L107.2 87.5 L110.1 90.1 L113.1 92.8 L116.0 95.4 L118.9 97.8 L121.9 100.0 L124.8 101.9 L127.7 103.3 L130.7 104.3 L133.6 104.8 L136.5 104.9 L139.5 104.9 L142.4 104.9 L145.3 104.9 L148.3 104.9 L151.2 104.9"/>
<path d="M54.4 97.5 L57.3 95.9 L60.3 93.2 L63.2 89.8 L66.1 86.0 L69.1 81.9 L72.0 77.8 L74.9 73.7 L77.9 69.7 L80.8 66.1 L83.7 62.8 L86.7 60.0 L89.6 57.7 L92.5 56.1 L95.5 55.1 L98.4 54.8 L101.3 55.3 L104.3 56.7 L107.2 59.0 L110.1 62.0 L113.1 65.6 L116.0 69.8 L118.9 74.3 L121.9 79.0 L124.8 83.7 L127.7 88.3 L130.7 92.5 L133.6 96.2 L136.5 99.3 L139.5 101.7 L142.4 103.2 L145.3 103.9 L148.3 103.9 L151.2 103.9"/>
<path d="M54.4 97.5 L57.3 103.9 L60.3 110.9 L63.2 116.0 L66.1 117.8 L69.1 115.9 L72.0 110.9 L74.9 103.9 L77.9 97.5 L80.8 96.4 L83.7 95.1 L86.7 93.9 L89.6 93.4 L92.5 93.4 L95.5 94.0 L98.4 95.1 L101.3 96.6 L104.3 98.6 L107.2 100.9 L110.1 103.4 L113.1 106.1 L116.0 108.9 L118.9 111.7 L121.9 114.3 L124.8 116.8 L127.7 118.9 L130.7 120.7 L133.6 122.0 L136.5 122.8 L139.5 123.1 L142.4 123.1 L145.3 123.1 L148.3 123.1 L151.2 123.1"/>
<path d="M54.4 97.5 L57.3 94.3 L60.3 90.5 L63.2 86.7 L66.1 82.8 L69.1 79.0 L72.0 75.4 L74.9 72.1 L77.9 69.2 L80.8 66.6 L83.7 64.5 L86.7 62.8 L89.6 61.6 L92.5 61.0 L95.5 60.9 L98.4 61.4 L101.3 62.4 L104.3 63.9 L107.2 65.8 L110.1 68.2 L113.1 70.9 L116.0 74.0 L118.9 77.2 L121.9 80.7 L124.8 84.2 L127.7 87.6 L130.7 91.0 L133.6 94.2 L136.5 97.2 L139.5 99.9 L142.4 102.1 L145.3 104.0 L148.3 105.3 L151.2 106.2"/>
<path d="M54.4 97.5 L57.3 95.4 L60.3 91.9 L63.2 87.7 L66.1 83.1 L69.1 78.5 L72.0 74.0 L74.9 69.9 L77.9 66.3 L80.8 63.5 L83.7 61.6 L86.7 60.5 L89.6 60.4 L92.5 61.2 L95.5 62.7 L98.4 64.9 L101.3 67.8 L104.3 71.2 L107.2 75.1 L110.1 79.3 L113.1 83.8 L116.0 88.2 L118.9 92.6 L121.9 96.7 L124.8 100.5 L127.7 103.9 L130.7 106.6 L133.6 108.7 L136.5 110.0 L139.5 110.6 L142.4 110.6 L145.3 110.6 L148.3 110.6 L151.2 110.6"/>
<path d="M54.4 97.5 L57.3 92.4 L60.3 86.5 L63.2 80.4 L66.1 74.6 L69.1 69.3 L72.0 64.9 L74.9 61.5 L77.9 59.3 L80.8 58.2 L83.7 58.7 L86.7 61.2 L89.6 65.5 L92.5 71.3 L95.5 78.0 L98.4 85.1 L101.3 92.0 L104.3 98.0 L107.2 102.7 L110.1 105.6 L113.1 106.5 L116.0 106.5 L118.9 106.5 L121.9 106.5 L124.8 106.5 L127.7 106.5 L130.7 106.5 L133.6 106.5 L136.5 106.5 L139.5 106.5 L142.4 106.5 L145.3 106.5 L148.3 106.5 L151.2 106.5"/>
<path d="M54.4 97.5 L57.3 93.9 L60.3 89.2 L63.2 84.0 L66.1 78.7 L69.1 73.4 L72.0 68.4 L74.9 63.9 L77.9 59.9 L80.8 56.5 L83.7 54.0 L86.7 52.2 L89.6 51.4 L92.5 51.7 L95.5 54.3 L98.4 59.3 L101.3 66.3 L104.3 75.0 L107.2 84.6 L110.1 94.8 L113.1 104.9 L116.0 114.2 L118.9 122.2 L121.9 128.5 L124.8 132.5 L127.7 134.2 L130.7 134.2 L133.6 134.2 L136.5 134.2 L139.5 134.2 L142.4 134.2 L145.3 134.2 L148.3 134.2 L151.2 134.2"/>
<path d="M54.4 97.5 L57.3 92.2 L60.3 84.7 L63.2 76.5 L66.1 68.0 L69.1 59.8 L72.0 52.3 L74.9 45.6 L77.9 40.2 L80.8 36.2 L83.7 33.8 L86.7 33.0 L89.6 34.0 L92.5 36.8 L95.5 41.2 L98.4 47.0 L101.3 53.8 L104.3 61.5 L107.2 69.4 L110.1 77.3 L113.1 84.7 L116.0 91.2 L118.9 96.5 L121.9 100.4 L124.8 102.5 L127.7 102.9 L130.7 102.9 L133.6 102.9 L136.5 102.9 L139.5 102.9 L142.4 102.9 L145.3 102.9 L148.3 102.9 L151.2 102.9"/>
<path d="M54.4 97.5 L57.3 101.3 L60.3 105.5 L63.2 108.7 L66.1 110.1 L69.1 109.3 L72.0 106.6 L74.9 102.6 L77.9 98.4 L80.8 92.8 L83.7 83.9 L86.7 76.4 L89.6 72.8 L92.5 72.7 L95.5 73.0 L98.4 73.5 L101.3 74.3 L104.3 75.2 L107.2 76.3 L110.1 77.5 L113.1 78.8 L116.0 80.2 L118.9 81.6 L121.9 82.9 L124.8 84.2 L127.7 85.3 L130.7 86.4 L133.6 87.2 L136.5 87.8 L139.5 88.3 L142.4 88.4 L145.3 88.4 L148.3 88.4 L151.2 88.4"/>
<path d="M54.4 97.5 L57.3 94.7 L60.3 91.0 L63.2 87.0 L66.1 82.9 L69.1 78.8 L72.0 74.8 L74.9 71.0 L77.9 67.4 L80.8 64.3 L83.7 61.5 L86.7 59.3 L89.6 57.5 L92.5 56.4 L95.5 55.8 L98.4 55.8 L101.3 56.7 L104.3 58.6 L107.2 61.4 L110.1 65.0 L113.1 69.3 L116.0 74.3 L118.9 79.8 L121.9 85.7 L124.8 91.8 L127.7 98.0 L130.7 104.3 L133.6 110.3 L136.5 116.0 L139.5 121.3 L142.4 125.9 L145.3 129.9 L148.3 133.1 L151.2 135.4"/>
<path d="M54.4 97.5 L57.3 95.1 L60.3 91.9 L63.2 88.3 L66.1 84.6 L69.1 80.9 L72.0 77.5 L74.9 74.3 L77.9 71.6 L80.8 69.3 L83.7 67.6 L86.7 66.5 L89.6 66.1 L92.5 66.5 L95.5 68.1 L98.4 70.9 L101.3 74.8 L104.3 79.5 L107.2 85.0 L110.1 91.0 L113.1 97.3 L116.0 103.5 L118.9 109.6 L121.9 115.1 L124.8 120.0 L127.7 124.0 L130.7 127.0 L133.6 128.8 L136.5 129.4 L139.5 129.4 L142.4 129.4 L145.3 129.4 L148.3 129.4 L151.2 129.4"/>
<path d="M54.4 97.5 L57.3 95.5 L60.3 93.2 L63.2 90.6 L66.1 88.1 L69.1 85.5 L72.0 83.0 L74.9 80.7 L77.9 78.5 L80.8 76.5 L83.7 74.7 L86.7 73.3 L89.6 72.1 L92.5 71.2 L95.5 70.7 L98.4 70.5 L101.3 70.9 L104.3 72.4 L107.2 74.9 L110.1 78.4 L113.1 82.6 L116.0 87.3 L118.9 92.4 L121.9 97.5 L124.8 102.4 L127.7 106.8 L130.7 110.7 L133.6 113.6 L136.5 115.7 L139.5 116.6 L142.4 116.7 L145.3 116.7 L148.3 116.7 L151.2 116.7"/>
<path d="M54.4 97.5 L57.3 94.7 L60.3 89.8 L63.2 83.7 L66.1 77.0 L69.1 70.0 L72.0 63.3 L74.9 57.1 L77.9 51.7 L80.8 47.5 L83.7 44.5 L86.7 43.0 L89.6 42.9 L92.5 43.9 L95.5 46.0 L98.4 48.9 L101.3 52.7 L104.3 57.3 L107.2 62.4 L110.1 68.1 L113.1 74.0 L116.0 80.2 L118.9 86.3 L121.9 92.2 L124.8 97.8 L127.7 102.8 L130.7 107.2 L133.6 110.8 L136.5 113.6 L139.5 115.4 L142.4 116.2 L145.3 116.3 L148.3 116.3 L151.2 116.3"/>
<path d="M54.4 97.5 L57.3 96.2 L60.3 94.8 L63.2 93.3 L66.1 91.9 L69.1 90.5 L72.0 89.3 L74.9 88.3 L77.9 87.4 L80.8 86.7 L83.7 86.3 L86.7 86.0 L89.6 86.1 L92.5 86.6 L95.5 87.5 L98.4 88.9 L101.3 90.7 L104.3 92.9 L107.2 95.3 L110.1 97.9 L113.1 100.7 L116.0 103.6 L118.9 106.4 L121.9 109.1 L124.8 111.7 L127.7 114.0 L130.7 115.9 L133.6 117.5 L136.5 118.7 L139.5 119.4 L142.4 119.6 L145.3 119.6 L148.3 119.6 L151.2 119.6"/>
<path d="M54.4 97.5 L57.3 95.6 L60.3 93.3 L63.2 90.9 L66.1 88.3 L69.1 85.9 L72.0 83.4 L74.9 81.1 L77.9 79.0 L80.8 77.0 L83.7 75.3 L86.7 73.9 L89.6 72.7 L92.5 71.8 L95.5 71.3 L98.4 71.0 L101.3 71.2 L104.3 71.6 L107.2 72.4 L110.1 73.5 L113.1 74.9 L116.0 76.5 L118.9 78.4 L121.9 80.3 L124.8 82.4 L127.7 84.5 L130.7 86.6 L133.6 88.6 L136.5 90.5 L139.5 92.1 L142.4 93.6 L145.3 94.7 L148.3 95.6 L151.2 96.1"/>
<path d="M54.4 97.5 L57.3 96.5 L60.3 94.8 L63.2 92.8 L66.1 90.5 L69.1 88.2 L72.0 85.9 L74.9 83.8 L77.9 81.8 L80.8 80.1 L83.7 78.8 L86.7 77.9 L89.6 77.4 L92.5 77.3 L95.5 78.0 L98.4 79.4 L101.3 81.5 L104.3 84.4 L107.2 87.8 L110.1 91.7 L113.1 96.1 L116.0 100.8 L118.9 105.8 L121.9 110.8 L124.8 115.8 L127.7 120.7 L130.7 125.3 L133.6 129.6 L136.5 133.4 L139.5 136.6 L142.4 139.3 L145.3 141.2 L148.3 142.4 L151.2 142.8"/>
<path d="M54.4 97.5 L57.3 92.3 L60.3 86.9 L63.2 81.6 L66.1 76.5 L69.1 71.6 L72.0 67.2 L74.9 63.2 L77.9 59.8 L80.8 57.0 L83.7 54.9 L86.7 53.5 L89.6 52.8 L92.5 52.9 L95.5 54.0 L98.4 56.1 L101.3 59.1 L104.3 62.9 L107.2 67.3 L110.1 72.4 L113.1 77.7 L116.0 83.3 L118.9 88.9 L121.9 94.3 L124.8 99.3 L127.7 103.8 L130.7 107.6 L133.6 110.7 L136.5 112.8 L139.5 114.0 L142.4 114.2 L145.3 114.2 L148.3 114.2 L151.2 114.2"/>
<path d="M54.4 97.5 L57.3 100.2 L60.3 103.1 L63.2 105.4 L66.1 106.4 L69.1 106.0 L72.0 104.2 L74.9 101.4 L77.9 98.4 L80.8 94.5 L83.7 87.2 L86.7 80.1 L89.6 75.3 L92.5 73.9 L95.5 74.3 L98.4 75.3 L101.3 76.8 L104.3 78.8 L107.2 81.2 L110.1 84.0 L113.1 87.1 L116.0 90.3 L118.9 93.5 L121.9 96.6 L124.8 99.6 L127.7 102.2 L130.7 104.5 L133.6 106.3 L136.5 107.6 L139.5 108.3 L142.4 108.5 L145.3 108.5 L148.3 108.5 L151.2 108.5"/>
<path d="M54.4 97.5 L57.3 99.4 L60.3 101.6 L63.2 103.4 L66.1 104.6 L69.1 104.8 L72.0 104.1 L74.9 102.5 L77.9 100.5 L80.8 98.3 L83.7 96.3 L86.7 92.6 L89.6 88.3 L92.5 84.2 L95.5 80.5 L98.4 77.7 L101.3 75.9 L104.3 75.4 L107.2 76.0 L110.1 77.5 L113.1 79.9 L116.0 83.0 L118.9 86.6 L121.9 90.5 L124.8 94.5 L127.7 98.2 L130.7 101.6 L133.6 104.3 L136.5 106.3 L139.5 107.3 L142.4 107.4 L145.3 107.4 L148.3 107.4 L151.2 107.4"/>
<path d="M54.4 97.5 L57.3 93.5 L60.3 88.8 L63.2 84.0 L66.1 79.2 L69.1 74.6 L72.0 70.4 L74.9 66.7 L77.9 63.6 L80.8 61.1 L83.7 59.3 L86.7 58.3 L89.6 58.0 L92.5 58.7 L95.5 60.3 L98.4 62.7 L101.3 65.9 L104.3 69.7 L107.2 73.9 L110.1 78.4 L113.1 82.9 L116.0 87.3 L118.9 91.4 L121.9 95.0 L124.8 97.9 L127.7 100.0 L130.7 101.3 L133.6 101.6 L136.5 101.6 L139.5 101.6 L142.4 101.6 L145.3 101.6 L148.3 101.6 L151.2 101.6"/>
<path d="M54.4 97.5 L57.3 92.3 L60.3 86.6 L63.2 80.8 L66.1 75.2 L69.1 70.1 L72.0 65.6 L74.9 61.8 L77.9 58.9 L80.8 56.9 L83.7 55.9 L86.7 55.9 L89.6 57.4 L92.5 60.1 L95.5 64.1 L98.4 69.1 L101.3 74.9 L104.3 81.1 L107.2 87.6 L110.1 93.9 L113.1 99.7 L116.0 104.8 L118.9 108.9 L121.9 111.9 L124.8 113.4 L127.7 113.7 L130.7 113.7 L133.6 113.7 L136.5 113.7 L139.5 113.7 L142.4 113.7 L145.3 113.7 L148.3 113.7 L151.2 113.7"/>
<path d="M54.4 97.5 L57.3 94.9 L60.3 91.0 L63.2 86.5 L66.1 81.7 L69.1 76.8 L72.0 71.9 L74.9 67.3 L77.9 63.0 L80.8 59.2 L83.7 56.0 L86.7 53.4 L89.6 51.5 L92.5 50.4 L95.5 50.1 L98.4 50.8 L101.3 52.6 L104.3 55.5 L107.2 59.2 L110.1 63.7 L113.1 68.9 L116.0 74.5 L118.9 80.4 L121.9 86.3 L124.8 92.1 L127.7 97.4 L130.7 102.3 L133.6 106.3 L136.5 109.5 L139.5 111.7 L142.4 112.9 L145.3 113.0 L148.3 113.0 L151.2 113.0"/>
<path d="M54.4 97.5 L57.3 89.0 L60.3 80.4 L63.2 72.1 L66.1 64.3 L69.1 57.1 L72.0 50.8 L74.9 45.5 L77.9 41.4 L80.8 38.5 L83.7 36.8 L86.7 36.5 L89.6 37.7 L92.5 40.3 L95.5 44.4 L98.4 49.6 L101.3 55.9 L104.3 63.0 L107.2 70.7 L110.1 78.7 L113.1 86.6 L116.0 94.3 L118.9 101.5 L121.9 107.8 L124.8 113.1 L127.7 117.1 L130.7 119.8 L133.6 121.1 L136.5 121.1 L139.5 121.1 L142.4 121.1 L145.3 121.1 L148.3 121.1 L151.2 121.1"/>
<path d="M54.4 97.5 L57.3 94.8 L60.3 91.5 L63.2 88.0 L66.1 84.4 L69.1 81.0 L72.0 77.7 L74.9 74.6 L77.9 71.9 L80.8 69.6 L83.7 67.7 L86.7 66.3 L89.6 65.4 L92.5 65.0 L95.5 65.3 L98.4 66.2 L101.3 67.9 L104.3 70.2 L107.2 73.1 L110.1 76.5 L113.1 80.4 L116.0 84.6 L118.9 89.0 L121.9 93.6 L124.8 98.1 L127.7 102.5 L130.7 106.7 L133.6 110.5 L136.5 113.9 L139.5 116.7 L142.4 118.9 L145.3 120.5 L148.3 121.4 L151.2 121.6"/>
<path d="M54.4 97.5 L57.3 93.9 L60.3 88.1 L63.2 81.5 L66.1 74.7 L69.1 68.4 L72.0 62.9 L74.9 58.8 L77.9 56.4 L80.8 55.6 L83.7 56.0 L86.7 57.0 L89.6 58.6 L92.5 60.7 L95.5 63.3 L98.4 66.4 L101.3 69.8 L104.3 73.4 L107.2 77.2 L110.1 81.0 L113.1 84.8 L116.0 88.5 L118.9 91.9 L121.9 95.0 L124.8 97.6 L127.7 99.8 L130.7 101.4 L133.6 102.5 L136.5 102.9 L139.5 102.9 L142.4 102.9 L145.3 102.9 L148.3 102.9 L151.2 102.9"/>
<path d="M54.4 97.5 L57.3 95.8 L60.3 93.1 L63.2 89.7 L66.1 85.9 L69.1 81.9 L72.0 77.8 L74.9 73.7 L77.9 69.7 L80.8 65.8 L83.7 62.3 L86.7 59.1 L89.6 56.4 L92.5 54.1 L95.5 52.4 L98.4 51.2 L101.3 50.7 L104.3 50.8 L107.2 51.7 L110.1 53.5 L113.1 56.0 L116.0 59.1 L118.9 62.8 L121.9 66.9 L124.8 71.2 L127.7 75.7 L130.7 80.1 L133.6 84.3 L136.5 88.1 L139.5 91.4 L142.4 94.1 L145.3 96.1 L148.3 97.2 L151.2 97.6"/>
<path d="M54.4 97.5 L57.3 95.5 L60.3 91.9 L63.2 87.5 L66.1 82.5 L69.1 77.3 L72.0 72.1 L74.9 67.1 L77.9 62.4 L80.8 58.3 L83.7 55.0 L86.7 52.4 L89.6 50.8 L92.5 50.2 L95.5 50.5 L98.4 51.9 L101.3 54.3 L104.3 57.6 L107.2 61.7 L110.1 66.5 L113.1 71.8 L116.0 77.6 L118.9 83.5 L121.9 89.5 L124.8 95.3 L127.7 100.8 L130.7 105.9 L133.6 110.3 L136.5 113.9 L139.5 116.7 L142.4 118.5 L145.3 119.3 L148.3 119.4 L151.2 119.4"/>
<path d="M54.4 97.5 L57.3 92.3 L60.3 86.7 L63.2 81.1 L66.1 75.9 L69.1 71.0 L72.0 66.6 L74.9 62.9 L77.9 59.9 L80.8 57.7 L83.7 56.4 L86.7 55.9 L89.6 56.1 L92.5 56.8 L95.5 57.8 L98.4 59.3 L101.3 61.0 L104.3 63.0 L107.2 65.2 L110.1 67.5 L113.1 69.8 L116.0 72.1 L118.9 74.3 L121.9 76.2 L124.8 77.9 L127.7 79.2 L130.7 80.1 L133.6 80.7 L136.5 80.8 L139.5 80.8 L142.4 80.8 L145.3 80.8 L148.3 80.8 L151.2 80.8"/>
<path d="M54.4 97.5 L57.3 94.9 L60.3 90.7 L63.2 85.9 L66.1 80.6 L69.1 75.4 L72.0 70.5 L74.9 66.0 L77.9 62.3 L80.8 59.4 L83.7 57.5 L86.7 56.8 L89.6 57.1 L92.5 58.3 L95.5 60.4 L98.4 63.3 L101.3 66.8 L104.3 70.9 L107.2 75.4 L110.1 80.2 L113.1 84.9 L116.0 89.6 L118.9 93.9 L121.9 97.7 L124.8 100.9 L127.7 103.3 L130.7 104.9 L133.6 105.6 L136.5 105.7 L139.5 105.7 L142.4 105.7 L145.3 105.7 L148.3 105.7 L151.2 105.7"/>
<path d="M54.4 97.5 L57.3 102.5 L60.3 108.3 L63.2 113.1 L66.1 116.2 L69.1 117.0 L72.0 115.3 L74.9 111.4 L77.9 106.1 L80.8 100.3 L83.7 96.1 L86.7 90.3 L89.6 84.7 L92.5 81.3 L95.5 80.8 L98.4 81.3 L101.3 82.4 L104.3 84.0 L107.2 86.0 L110.1 88.4 L113.1 90.9 L116.0 93.6 L118.9 96.2 L121.9 98.6 L124.8 100.7 L127.7 102.4 L130.7 103.6 L133.6 104.3 L136.5 104.4 L139.5 104.4 L142.4 104.4 L145.3 104.4 L148.3 104.4 L151.2 104.4"/>
<path d="M54.4 97.5 L57.3 92.7 L60.3 87.7 L63.2 82.8 L66.1 78.1 L69.1 73.7 L72.0 69.8 L74.9 66.3 L77.9 63.4 L80.8 61.2 L83.7 59.6 L86.7 58.7 L89.6 58.7 L92.5 60.6 L95.5 64.8 L98.4 71.0 L101.3 78.8 L104.3 87.5 L107.2 96.6 L110.1 105.4 L113.1 113.3 L116.0 119.6 L118.9 124.1 L121.9 126.2 L124.8 126.4 L127.7 126.4 L130.7 126.4 L133.6 126.4 L136.5 126.4 L139.5 126.4 L142.4 126.4 L145.3 126.4 L148.3 126.4 L151.2 126.4"/>
<path d="M54.4 97.5 L57.3 93.0 L60.3 87.8 L63.2 82.4 L66.1 77.0 L69.1 71.9 L72.0 67.2 L74.9 62.9 L77.9 59.3 L80.8 56.3 L83.7 54.1 L86.7 52.6 L89.6 52.0 L92.5 52.5 L95.5 54.3 L98.4 57.5 L101.3 61.9 L104.3 67.3 L107.2 73.5 L110.1 80.2 L113.1 87.3 L116.0 94.3 L118.9 101.0 L121.9 107.2 L124.8 112.5 L127.7 116.8 L130.7 119.8 L133.6 121.6 L136.5 121.9 L139.5 121.9 L142.4 121.9 L145.3 121.9 L148.3 121.9 L151.2 121.9"/>
<path d="M54.4 97.5 L57.3 100.3 L60.3 103.6 L63.2 106.4 L66.1 108.1 L69.1 108.6 L72.0 107.6 L74.9 105.4 L77.9 102.4 L80.8 99.1 L83.7 95.0 L86.7 84.8 L89.6 74.9 L92.5 68.7 L95.5 67.8 L98.4 68.7 L101.3 70.7 L104.3 73.5 L107.2 77.2 L110.1 81.6 L113.1 86.5 L116.0 91.7 L118.9 97.0 L121.9 102.3 L124.8 107.3 L127.7 111.8 L130.7 115.7 L133.6 118.8 L136.5 121.0 L139.5 122.3 L142.4 122.5 L145.3 122.5 L148.3 122.5 L151.2 122.5"/>
<path d="M54.4 97.5 L57.3 92.1 L60.3 86.3 L63.2 80.4 L66.1 74.6 L69.1 69.0 L72.0 63.6 L74.9 58.6 L77.9 54.0 L80.8 50.0 L83.7 46.5 L86.7 43.6 L89.6 41.4 L92.5 39.8 L95.5 39.0 L98.4 38.8 L101.3 39.4 L104.3 40.6 L107.2 42.5 L110.1 45.1 L113.1 48.1 L116.0 51.6 L118.9 55.5 L121.9 59.7 L124.8 64.0 L127.7 68.4 L130.7 72.7 L133.6 76.9 L136.5 80.7 L139.5 84.2 L142.4 87.2 L145.3 89.7 L148.3 91.5 L151.2 92.7"/>
<path d="M54.4 97.5 L57.3 95.6 L60.3 93.4 L63.2 91.1 L66.1 88.8 L69.1 86.5 L72.0 84.3 L74.9 82.2 L77.9 80.3 L80.8 78.6 L83.7 77.1 L86.7 75.9 L89.6 75.0 L92.5 74.4 L95.5 74.1 L98.4 74.1 L101.3 74.9 L104.3 76.3 L107.2 78.5 L110.1 81.2 L113.1 84.4 L116.0 88.1 L118.9 92.0 L121.9 96.0 L124.8 100.1 L127.7 104.0 L130.7 107.7 L133.6 110.9 L136.5 113.7 L139.5 115.9 L142.4 117.4 L145.3 118.2 L148.3 118.3 L151.2 118.3"/>
<path d="M54.4 97.5 L57.3 96.5 L60.3 94.9 L63.2 92.8 L66.1 90.6 L69.1 88.4 L72.0 86.2 L74.9 84.2 L77.9 82.4 L80.8 81.0 L83.7 79.9 L86.7 79.4 L89.6 79.3 L92.5 79.9 L95.5 81.2 L98.4 83.3 L101.3 86.0 L104.3 89.1 L107.2 92.6 L110.1 96.2 L113.1 99.7 L116.0 103.0 L118.9 106.0 L121.9 108.4 L124.8 110.3 L127.7 111.3 L130.7 111.6 L133.6 111.6 L136.5 111.6 L139.5 111.6 L142.4 111.6 L145.3 111.6 L148.3 111.6 L151.2 111.6"/>
<path d="M54.4 97.5 L57.3 102.1 L60.3 106.8 L63.2 109.3 L66.1 108.9 L69.1 105.7 L72.0 100.8 L74.9 96.2 L77.9 87.7 L80.8 77.7 L83.7 68.3 L86.7 60.8 L89.6 56.4 L92.5 55.5 L95.5 56.5 L98.4 58.6 L101.3 61.8 L104.3 65.9 L107.2 70.7 L110.1 76.0 L113.1 81.5 L116.0 87.0 L118.9 92.2 L121.9 96.9 L124.8 100.8 L127.7 103.7 L130.7 105.5 L133.6 106.1 L136.5 106.1 L139.5 106.1 L142.4 106.1 L145.3 106.1 L148.3 106.1 L151.2 106.1"/>
<path d="M54.4 97.5 L57.3 93.6 L60.3 89.2 L63.2 84.8 L66.1 80.5 L69.1 76.6 L72.0 73.3 L74.9 70.5 L77.9 68.6 L80.8 67.4 L83.7 67.0 L86.7 68.1 L89.6 71.0 L92.5 75.4 L95.5 81.2 L98.4 88.0 L101.3 95.3 L104.3 102.7 L107.2 109.8 L110.1 116.0 L113.1 121.2 L116.0 124.8 L118.9 126.7 L121.9 127.0 L124.8 127.0 L127.7 127.0 L130.7 127.0 L133.6 127.0 L136.5 127.0 L139.5 127.0 L142.4 127.0 L145.3 127.0 L148.3 127.0 L151.2 127.0"/>
<path d="M54.4 97.5 L57.3 90.5 L60.3 82.9 L63.2 75.3 L66.1 68.2 L69.1 61.7 L72.0 56.2 L74.9 51.7 L77.9 48.4 L80.8 46.5 L83.7 46.0 L86.7 46.6 L89.6 48.0 L92.5 50.2 L95.5 53.3 L98.4 57.0 L101.3 61.3 L104.3 66.1 L107.2 71.3 L110.1 76.8 L113.1 82.3 L116.0 87.8 L118.9 93.1 L121.9 98.2 L124.8 102.8 L127.7 106.8 L130.7 110.3 L133.6 112.9 L136.5 114.8 L139.5 115.9 L142.4 116.1 L145.3 116.1 L148.3 116.1 L151.2 116.1"/>
<path d="M54.4 97.5 L57.3 93.4 L60.3 88.3 L63.2 82.9 L66.1 77.4 L69.1 72.0 L72.0 66.8 L74.9 62.0 L77.9 57.7 L80.8 54.0 L83.7 50.9 L86.7 48.6 L89.6 47.0 L92.5 46.3 L95.5 46.3 L98.4 47.0 L101.3 48.2 L104.3 50.1 L107.2 52.5 L110.1 55.4 L113.1 58.6 L116.0 62.2 L118.9 66.0 L121.9 69.9 L124.8 73.8 L127.7 77.7 L130.7 81.4 L133.6 84.8 L136.5 87.9 L139.5 90.5 L142.4 92.6 L145.3 94.2 L148.3 95.2 L151.2 95.5"/>
<path d="M54.4 97.5 L57.3 99.6 L60.3 101.9 L63.2 103.6 L66.1 104.2 L69.1 103.7 L72.0 102.1 L74.9 99.9 L77.9 97.7 L80.8 96.2 L83.7 94.1 L86.7 92.1 L89.6 90.3 L92.5 89.0 L95.5 88.5 L98.4 88.6 L101.3 89.1 L104.3 89.9 L107.2 91.0 L110.1 92.3 L113.1 93.9 L116.0 95.6 L118.9 97.4 L121.9 99.2 L124.8 101.0 L127.7 102.7 L130.7 104.1 L133.6 105.4 L136.5 106.3 L139.5 107.0 L142.4 107.3 L145.3 107.3 L148.3 107.3 L151.2 107.3"/>
<path d="M54.4 97.5 L57.3 94.3 L60.3 90.2 L63.2 85.7 L66.1 81.1 L69.1 76.6 L72.0 72.1 L74.9 67.9 L77.9 64.1 L80.8 60.7 L83.7 57.8 L86.7 55.4 L89.6 53.6 L92.5 52.5 L95.5 52.0 L98.4 52.2 L101.3 53.0 L104.3 54.5 L107.2 56.4 L110.1 58.9 L113.1 61.8 L116.0 65.1 L118.9 68.6 L121.9 72.3 L124.8 76.0 L127.7 79.8 L130.7 83.4 L133.6 86.7 L136.5 89.7 L139.5 92.4 L142.4 94.5 L145.3 96.1 L148.3 97.1 L151.2 97.5"/>
<path d="M54.4 97.5 L57.3 94.3 L60.3 90.2 L63.2 85.8 L66.1 81.3 L69.1 77.0 L72.0 72.9 L74.9 69.4 L77.9 66.3 L80.8 64.0 L83.7 62.4 L86.7 61.5 L89.6 61.5 L92.5 62.7 L95.5 65.0 L98.4 68.3 L101.3 72.5 L104.3 77.3 L107.2 82.5 L110.1 87.9 L113.1 93.1 L116.0 97.8 L118.9 102.0 L121.9 105.3 L124.8 107.5 L127.7 108.7 L130.7 108.8 L133.6 108.8 L136.5 108.8 L139.5 108.8 L142.4 108.8 L145.3 108.8 L148.3 108.8 L151.2 108.8"/>
<path d="M54.4 97.5 L57.3 93.4 L60.3 86.6 L63.2 78.4 L66.1 69.5 L69.1 60.7 L72.0 52.4 L74.9 45.1 L77.9 39.1 L80.8 34.9 L83.7 32.6 L86.7 32.4 L89.6 34.1 L92.5 37.8 L95.5 43.2 L98.4 50.2 L101.3 58.4 L104.3 67.5 L107.2 77.1 L110.1 86.9 L113.1 96.3 L116.0 105.1 L118.9 112.8 L121.9 119.1 L124.8 123.8 L127.7 126.6 L130.7 127.5 L133.6 127.5 L136.5 127.5 L139.5 127.5 L142.4 127.5 L145.3 127.5 L148.3 127.5 L151.2 127.5"/>
<path d="M54.4 97.5 L57.3 91.2 L60.3 84.3 L63.2 77.5 L66.1 70.9 L69.1 64.8 L72.0 59.2 L74.9 54.4 L77.9 50.4 L80.8 47.3 L83.7 45.3 L86.7 44.2 L89.6 44.3 L92.5 46.1 L95.5 49.4 L98.4 54.2 L101.3 60.2 L104.3 67.2 L107.2 75.0 L110.1 83.1 L113.1 91.2 L116.0 99.1 L118.9 106.2 L121.9 112.5 L124.8 117.5 L127.7 121.0 L130.7 123.0 L133.6 123.4 L136.5 123.4 L139.5 123.4 L142.4 123.4 L145.3 123.4 L148.3 123.4 L151.2 123.4"/>
<path d="M54.4 97.5 L57.3 92.9 L60.3 87.4 L63.2 81.6 L66.1 75.8 L69.1 70.2 L72.0 65.1 L74.9 60.6 L77.9 56.8 L80.8 53.8 L83.7 51.8 L86.7 50.7 L89.6 50.5 L92.5 51.0 L95.5 51.9 L98.4 53.2 L101.3 55.0 L104.3 57.1 L107.2 59.4 L110.1 61.9 L113.1 64.5 L116.0 67.0 L118.9 69.4 L121.9 71.6 L124.8 73.6 L127.7 75.1 L130.7 76.2 L133.6 76.9 L136.5 77.1 L139.5 77.1 L142.4 77.1 L145.3 77.1 L148.3 77.1 L151.2 77.1"/>
<path d="M54.4 97.5 L57.3 92.8 L60.3 88.0 L63.2 83.3 L66.1 78.7 L69.1 74.4 L72.0 70.5 L74.9 66.9 L77.9 63.8 L80.8 61.2 L83.7 59.2 L86.7 57.8 L89.6 57.0 L92.5 56.8 L95.5 57.3 L98.4 58.4 L101.3 60.0 L104.3 62.2 L107.2 64.8 L110.1 67.9 L113.1 71.2 L116.0 74.7 L118.9 78.4 L121.9 82.0 L124.8 85.5 L127.7 88.9 L130.7 91.9 L133.6 94.5 L136.5 96.6 L139.5 98.2 L142.4 99.3 L145.3 99.7 L148.3 99.7 L151.2 99.7"/>
<path d="M54.4 97.5 L57.3 93.2 L60.3 88.7 L63.2 84.3 L66.1 80.1 L69.1 76.1 L72.0 72.6 L74.9 69.5 L77.9 66.9 L80.8 64.9 L83.7 63.5 L86.7 62.7 L89.6 62.6 L92.5 63.1 L95.5 64.2 L98.4 65.9 L101.3 68.2 L104.3 70.9 L107.2 74.0 L110.1 77.4 L113.1 81.0 L116.0 84.6 L118.9 88.2 L121.9 91.6 L124.8 94.8 L127.7 97.6 L130.7 99.9 L133.6 101.8 L136.5 103.0 L139.5 103.7 L142.4 103.8 L145.3 103.8 L148.3 103.8 L151.2 103.8"/>
<path d="M54.4 97.5 L57.3 94.6 L60.3 90.0 L63.2 84.7 L66.1 78.8 L69.1 72.8 L72.0 66.7 L74.9 60.7 L77.9 55.1 L80.8 49.9 L83.7 45.2 L86.7 41.3 L89.6 38.2 L92.5 35.9 L95.5 34.5 L98.4 34.0 L101.3 34.9 L104.3 37.4 L107.2 41.5 L110.1 46.9 L113.1 53.6 L116.0 61.3 L118.9 69.7 L121.9 78.5 L124.8 87.4 L127.7 96.2 L130.7 104.5 L133.6 112.1 L136.5 118.6 L139.5 123.9 L142.4 127.8 L145.3 130.1 L148.3 130.8 L151.2 130.8"/>
<path d="M54.4 97.5 L57.3 96.0 L60.3 93.9 L63.2 91.5 L66.1 88.8 L69.1 86.1 L72.0 83.3 L74.9 80.6 L77.9 78.1 L80.8 75.6 L83.7 73.4 L86.7 71.5 L89.6 69.9 L92.5 68.6 L95.5 67.6 L98.4 67.0 L101.3 66.8 L104.3 67.0 L107.2 67.7 L110.1 68.9 L113.1 70.4 L116.0 72.3 L118.9 74.6 L121.9 77.1 L124.8 79.8 L127.7 82.6 L130.7 85.6 L133.6 88.5 L136.5 91.3 L139.5 94.0 L142.4 96.5 L145.3 98.7 L148.3 100.5 L151.2 102.0"/>
<path d="M54.4 97.5 L57.3 95.1 L60.3 91.5 L63.2 87.4 L66.1 82.9 L69.1 78.4 L72.0 74.1 L74.9 70.0 L77.9 66.3 L80.8 63.2 L83.7 60.7 L86.7 59.0 L89.6 58.0 L92.5 57.9 L95.5 58.6 L98.4 60.3 L101.3 62.7 L104.3 65.9 L107.2 69.7 L110.1 73.9 L113.1 78.5 L116.0 83.3 L118.9 88.1 L121.9 92.7 L124.8 97.0 L127.7 100.8 L130.7 104.1 L133.6 106.5 L136.5 108.2 L139.5 109.0 L142.4 109.1 L145.3 109.1 L148.3 109.1 L151.2 109.1"/>
<path d="M54.4 97.5 L57.3 96.6 L60.3 95.3 L63.2 93.8 L66.1 92.2 L69.1 90.6 L72.0 88.9 L74.9 87.2 L77.9 85.6 L80.8 84.1 L83.7 82.8 L86.7 81.6 L89.6 80.6 L92.5 79.8 L95.5 79.2 L98.4 78.8 L101.3 78.7 L104.3 79.0 L107.2 80.1 L110.1 81.8 L113.1 84.2 L116.0 87.2 L118.9 90.6 L121.9 94.3 L124.8 98.3 L127.7 102.4 L130.7 106.4 L133.6 110.2 L136.5 113.8 L139.5 116.9 L142.4 119.4 L145.3 121.4 L148.3 122.6 L151.2 123.2"/>
<path d="M54.4 97.5 L57.3 93.5 L60.3 88.1 L63.2 82.3 L66.1 76.3 L69.1 70.4 L72.0 64.8 L74.9 59.6 L77.9 55.0 L80.8 51.1 L83.7 48.0 L86.7 45.9 L89.6 44.6 L92.5 44.4 L95.5 45.7 L98.4 48.5 L101.3 52.9 L104.3 58.3 L107.2 64.6 L110.1 71.3 L113.1 77.9 L116.0 84.0 L118.9 89.3 L121.9 93.4 L124.8 96.0 L127.7 96.9 L130.7 96.9 L133.6 96.9 L136.5 96.9 L139.5 96.9 L142.4 96.9 L145.3 96.9 L148.3 96.9 L151.2 96.9"/>
<path d="M54.4 97.5 L57.3 96.8 L60.3 96.0 L63.2 95.3 L66.1 94.6 L69.1 93.9 L72.0 93.3 L74.9 92.7 L77.9 92.2 L80.8 91.8 L83.7 91.4 L86.7 91.2 L89.6 91.0 L92.5 90.9 L95.5 91.1 L98.4 91.6 L101.3 92.5 L104.3 93.7 L107.2 95.2 L110.1 96.9 L113.1 98.8 L116.0 100.7 L118.9 102.5 L121.9 104.3 L124.8 105.8 L127.7 107.0 L130.7 107.9 L133.6 108.4 L136.5 108.5 L139.5 108.5 L142.4 108.5 L145.3 108.5 L148.3 108.5 L151.2 108.5"/>
<path d="M54.4 97.5 L57.3 95.2 L60.3 92.7 L63.2 90.1 L66.1 87.7 L69.1 85.3 L72.0 83.1 L74.9 81.1 L77.9 79.3 L80.8 77.8 L83.7 76.5 L86.7 75.6 L89.6 75.0 L92.5 74.7 L95.5 74.7 L98.4 74.9 L101.3 75.2 L104.3 75.7 L107.2 76.3 L110.1 77.0 L113.1 77.8 L116.0 78.7 L118.9 79.7 L121.9 80.7 L124.8 81.7 L127.7 82.7 L130.7 83.7 L133.6 84.6 L136.5 85.4 L139.5 86.1 L142.4 86.8 L145.3 87.2 L148.3 87.6 L151.2 87.7"/>
<path d="M54.4 97.5 L57.3 90.9 L60.3 82.9 L63.2 74.8 L66.1 66.9 L69.1 59.8 L72.0 53.6 L74.9 48.6 L77.9 45.1 L80.8 43.2 L83.7 42.9 L86.7 43.4 L89.6 44.7 L92.5 46.6 L95.5 49.1 L98.4 52.2 L101.3 55.7 L104.3 59.7 L107.2 63.9 L110.1 68.4 L113.1 72.9 L116.0 77.4 L118.9 81.8 L121.9 86.0 L124.8 89.9 L127.7 93.3 L130.7 96.3 L133.6 98.7 L136.5 100.4 L139.5 101.6 L142.4 102.0 L145.3 102.0 L148.3 102.0 L151.2 102.0"/>
<path d="M54.4 97.5 L57.3 89.9 L60.3 81.7 L63.2 73.5 L66.1 65.7 L69.1 58.5 L72.0 52.1 L74.9 46.6 L77.9 42.2 L80.8 39.0 L83.7 37.1 L86.7 36.5 L89.6 37.8 L92.5 41.2 L95.5 46.4 L98.4 53.3 L101.3 61.5 L104.3 70.4 L107.2 79.5 L110.1 88.5 L113.1 96.7 L116.0 103.7 L118.9 109.1 L121.9 112.7 L124.8 114.1 L127.7 114.1 L130.7 114.1 L133.6 114.1 L136.5 114.1 L139.5 114.1 L142.4 114.1 L145.3 114.1 L148.3 114.1 L151.2 114.1"/>
<path d="M54.4 97.5 L57.3 92.8 L60.3 87.7 L63.2 82.5 L66.1 77.5 L69.1 72.6 L72.0 68.0 L74.9 63.9 L77.9 60.1 L80.8 56.9 L83.7 54.2 L86.7 52.1 L89.6 50.7 L92.5 49.9 L95.5 49.8 L98.4 51.3 L101.3 54.5 L104.3 59.4 L107.2 65.6 L110.1 72.9 L113.1 81.0 L116.0 89.5 L118.9 97.9 L121.9 105.9 L124.8 113.1 L127.7 119.2 L130.7 123.9 L133.6 126.9 L136.5 128.2 L139.5 128.2 L142.4 128.2 L145.3 128.2 L148.3 128.2 L151.2 128.2"/>
<path d="M54.4 97.5 L57.3 96.0 L60.3 93.4 L63.2 90.1 L66.1 86.6 L69.1 83.1 L72.0 79.9 L74.9 77.1 L77.9 74.8 L80.8 73.3 L83.7 72.7 L86.7 73.0 L89.6 74.6 L92.5 77.5 L95.5 81.5 L98.4 86.4 L101.3 92.2 L104.3 98.4 L107.2 104.9 L110.1 111.3 L113.1 117.4 L116.0 123.0 L118.9 127.7 L121.9 131.5 L124.8 134.1 L127.7 135.4 L130.7 135.6 L133.6 135.6 L136.5 135.6 L139.5 135.6 L142.4 135.6 L145.3 135.6 L148.3 135.6 L151.2 135.6"/>
<path d="M54.4 97.5 L57.3 95.4 L60.3 91.7 L63.2 87.2 L66.1 82.2 L69.1 76.9 L72.0 71.7 L74.9 66.6 L77.9 62.0 L80.8 57.8 L83.7 54.4 L86.7 51.8 L89.6 50.2 L92.5 49.4 L95.5 49.7 L98.4 50.9 L101.3 53.0 L104.3 56.0 L107.2 59.9 L110.1 64.4 L113.1 69.5 L116.0 75.1 L118.9 81.1 L121.9 87.3 L124.8 93.5 L127.7 99.7 L130.7 105.7 L133.6 111.2 L136.5 116.3 L139.5 120.8 L142.4 124.6 L145.3 127.5 L148.3 129.6 L151.2 130.7"/>
<path d="M54.4 97.5 L57.3 95.4 L60.3 92.1 L63.2 88.1 L66.1 83.8 L69.1 79.4 L72.0 75.1 L74.9 71.1 L77.9 67.5 L80.8 64.4 L83.7 62.1 L86.7 60.5 L89.6 59.7 L92.5 59.7 L95.5 60.4 L98.4 61.7 L101.3 63.7 L104.3 66.2 L107.2 69.2 L110.1 72.7 L113.1 76.5 L116.0 80.6 L118.9 84.8 L121.9 89.1 L124.8 93.4 L127.7 97.5 L130.7 101.4 L133.6 105.0 L136.5 108.2 L139.5 110.9 L142.4 113.0 L145.3 114.6 L148.3 115.5 L151.2 115.8"/>
<path d="M54.4 97.5 L57.3 101.5 L60.3 105.9 L63.2 109.6 L66.1 111.6 L69.1 111.7 L72.0 109.7 L74.9 106.2 L77.9 101.7 L80.8 97.6 L83.7 91.6 L86.7 83.5 L89.6 76.6 L92.5 72.6 L95.5 72.2 L98.4 73.7 L101.3 76.6 L104.3 80.8 L107.2 86.1 L110.1 92.0 L113.1 98.3 L116.0 104.6 L118.9 110.5 L121.9 115.7 L124.8 119.8 L127.7 122.7 L130.7 124.1 L133.6 124.2 L136.5 124.2 L139.5 124.2 L142.4 124.2 L145.3 124.2 L148.3 124.2 L151.2 124.2"/>
<path d="M54.4 97.5 L57.3 94.5 L60.3 89.6 L63.2 83.9 L66.1 78.0 L69.1 72.4 L72.0 67.4 L74.9 63.5 L77.9 60.8 L80.8 59.5 L83.7 59.6 L86.7 60.7 L89.6 62.7 L92.5 65.5 L95.5 69.1 L98.4 73.3 L101.3 78.1 L104.3 83.1 L107.2 88.4 L110.1 93.7 L113.1 98.8 L116.0 103.7 L118.9 108.0 L121.9 111.8 L124.8 114.9 L127.7 117.1 L130.7 118.4 L133.6 118.9 L136.5 118.9 L139.5 118.9 L142.4 118.9 L145.3 118.9 L148.3 118.9 L151.2 118.9"/>
<path d="M54.4 97.5 L57.3 94.3 L60.3 89.3 L63.2 83.5 L66.1 77.3 L69.1 70.9 L72.0 64.4 L74.9 58.2 L77.9 52.5 L80.8 47.2 L83.7 42.6 L86.7 38.9 L89.6 36.0 L92.5 34.1 L95.5 33.2 L98.4 33.5 L101.3 35.6 L104.3 39.4 L107.2 44.6 L110.1 50.6 L113.1 57.0 L116.0 63.3 L118.9 68.9 L121.9 73.3 L124.8 76.2 L127.7 77.2 L130.7 77.3 L133.6 77.3 L136.5 77.3 L139.5 77.3 L142.4 77.3 L145.3 77.3 L148.3 77.3 L151.2 77.3"/>
<path d="M54.4 97.5 L57.3 93.5 L60.3 88.7 L63.2 83.5 L66.1 78.3 L69.1 73.0 L72.0 67.9 L74.9 63.1 L77.9 58.5 L80.8 54.4 L83.7 50.8 L86.7 47.7 L89.6 45.1 L92.5 43.3 L95.5 42.0 L98.4 41.5 L101.3 41.8 L104.3 43.5 L107.2 46.6 L110.1 51.0 L113.1 56.6 L116.0 63.1 L118.9 70.3 L121.9 78.0 L124.8 85.9 L127.7 93.7 L130.7 101.2 L133.6 108.1 L136.5 114.2 L139.5 119.2 L142.4 123.0 L145.3 125.5 L148.3 126.5 L151.2 126.5"/>
<path d="M54.4 97.5 L57.3 107.0 L60.3 117.8 L63.2 126.4 L66.1 130.9 L69.1 130.5 L72.0 125.3 L74.9 116.2 L77.9 105.3 L80.8 96.5 L83.7 83.9 L86.7 70.4 L89.6 60.9 L92.5 58.4 L95.5 58.7 L98.4 59.4 L101.3 60.5 L104.3 62.0 L107.2 63.8 L110.1 65.8 L113.1 68.1 L116.0 70.5 L118.9 73.0 L121.9 75.5 L124.8 77.9 L127.7 80.2 L130.7 82.3 L133.6 84.1 L136.5 85.5 L139.5 86.6 L142.4 87.3 L145.3 87.6 L148.3 87.6 L151.2 87.6"/>
<path d="M54.4 97.5 L57.3 94.6 L60.3 90.1 L63.2 84.8 L66.1 79.4 L69.1 74.0 L72.0 69.0 L74.9 64.7 L77.9 61.3 L80.8 58.9 L83.7 57.7 L86.7 58.0 L89.6 61.2 L92.5 67.4 L95.5 76.1 L98.4 86.4 L101.3 97.4 L104.3 108.4 L107.2 118.2 L110.1 126.1 L113.1 131.4 L116.0 133.5 L118.9 133.6 L121.9 133.6 L124.8 133.6 L127.7 133.6 L130.7 133.6 L133.6 133.6 L136.5 133.6 L139.5 133.6 L142.4 133.6 L145.3 133.6 L148.3 133.6 L151.2 133.6"/>
<path d="M54.4 97.5 L57.3 94.5 L60.3 90.4 L63.2 85.8 L66.1 81.2 L69.1 76.6 L72.0 72.1 L74.9 68.1 L77.9 64.5 L80.8 61.5 L83.7 59.1 L86.7 57.5 L89.6 56.7 L92.5 56.6 L95.5 57.1 L98.4 57.9 L101.3 59.2 L104.3 60.8 L107.2 62.8 L110.1 65.1 L113.1 67.7 L116.0 70.4 L118.9 73.3 L121.9 76.2 L124.8 79.0 L127.7 81.8 L130.7 84.5 L133.6 86.9 L136.5 89.1 L139.5 91.0 L142.4 92.5 L145.3 93.5 L148.3 94.2 L151.2 94.4"/>
<path d="M54.4 97.5 L57.3 100.8 L60.3 104.7 L63.2 108.0 L66.1 110.1 L69.1 110.7 L72.0 109.6 L74.9 107.1 L77.9 103.6 L80.8 99.7 L83.7 95.0 L86.7 81.4 L89.6 67.8 L92.5 59.0 L95.5 57.3 L98.4 58.1 L101.3 59.8 L104.3 62.5 L107.2 66.0 L110.1 70.2 L113.1 75.0 L116.0 80.3 L118.9 85.9 L121.9 91.7 L124.8 97.6 L127.7 103.3 L130.7 108.6 L133.6 113.6 L136.5 117.9 L139.5 121.6 L142.4 124.4 L145.3 126.4 L148.3 127.4 L151.2 127.6"/>
<path d="M54.4 97.5 L57.3 94.3 L60.3 91.0 L63.2 87.7 L66.1 84.4 L69.1 81.3 L72.0 78.4 L74.9 75.8 L77.9 73.5 L80.8 71.5 L83.7 69.9 L86.7 68.7 L89.6 67.9 L92.5 67.5 L95.5 67.9 L98.4 69.8 L101.3 73.2 L104.3 77.9 L107.2 83.7 L110.1 90.2 L113.1 97.2 L116.0 104.1 L118.9 110.7 L121.9 116.6 L124.8 121.4 L127.7 125.0 L130.7 127.0 L133.6 127.5 L136.5 127.5 L139.5 127.5 L142.4 127.5 L145.3 127.5 L148.3 127.5 L151.2 127.5"/>
<path d="M54.4 97.5 L57.3 95.5 L60.3 92.7 L63.2 89.5 L66.1 86.1 L69.1 82.8 L72.0 79.5 L74.9 76.4 L77.9 73.5 L80.8 71.0 L83.7 68.8 L86.7 67.1 L89.6 65.9 L92.5 65.2 L95.5 65.0 L98.4 65.5 L101.3 66.7 L104.3 68.7 L107.2 71.2 L110.1 74.3 L113.1 77.9 L116.0 81.8 L118.9 86.0 L121.9 90.3 L124.8 94.7 L127.7 98.9 L130.7 102.8 L133.6 106.4 L136.5 109.5 L139.5 112.1 L142.4 114.0 L145.3 115.2 L148.3 115.7 L151.2 115.7"/>
<path d="M54.4 97.5 L57.3 103.5 L60.3 110.3 L63.2 115.6 L66.1 118.4 L69.1 118.0 L72.0 114.5 L74.9 108.7 L77.9 101.8 L80.8 96.9 L83.7 93.1 L86.7 88.8 L89.6 85.3 L92.5 83.5 L95.5 83.4 L98.4 84.2 L101.3 85.7 L104.3 87.8 L107.2 90.4 L110.1 93.5 L113.1 96.8 L116.0 100.3 L118.9 103.8 L121.9 107.1 L124.8 110.1 L127.7 112.6 L130.7 114.6 L133.6 115.9 L136.5 116.6 L139.5 116.7 L142.4 116.7 L145.3 116.7 L148.3 116.7 L151.2 116.7"/>
<path d="M54.4 97.5 L57.3 93.9 L60.3 89.1 L63.2 84.0 L66.1 78.6 L69.1 73.3 L72.0 68.2 L74.9 63.5 L77.9 59.3 L80.8 55.7 L83.7 52.8 L86.7 50.6 L89.6 49.3 L92.5 48.8 L95.5 49.7 L98.4 52.8 L101.3 57.9 L104.3 64.6 L107.2 72.6 L110.1 81.4 L113.1 90.4 L116.0 99.1 L118.9 106.9 L121.9 113.5 L124.8 118.4 L127.7 121.2 L130.7 122.0 L133.6 122.0 L136.5 122.0 L139.5 122.0 L142.4 122.0 L145.3 122.0 L148.3 122.0 L151.2 122.0"/>
<path d="M54.4 97.5 L57.3 93.5 L60.3 88.9 L63.2 84.1 L66.1 79.3 L69.1 74.5 L72.0 69.8 L74.9 65.3 L77.9 61.2 L80.8 57.3 L83.7 53.9 L86.7 50.8 L89.6 48.3 L92.5 46.2 L95.5 44.7 L98.4 43.7 L101.3 43.3 L104.3 43.5 L107.2 44.8 L110.1 46.9 L113.1 49.9 L116.0 53.7 L118.9 58.0 L121.9 62.7 L124.8 67.6 L127.7 72.5 L130.7 77.2 L133.6 81.5 L136.5 85.3 L139.5 88.4 L142.4 90.6 L145.3 91.9 L148.3 92.2 L151.2 92.2"/>
<path d="M54.4 97.5 L57.3 98.8 L60.3 100.3 L63.2 101.5 L66.1 102.2 L69.1 102.1 L72.0 101.4 L74.9 100.2 L77.9 98.7 L80.8 97.2 L83.7 90.8 L86.7 83.5 L89.6 78.3 L92.5 76.7 L95.5 76.9 L98.4 77.1 L101.3 77.5 L104.3 78.1 L107.2 78.8 L110.1 79.6 L113.1 80.6 L116.0 81.5 L118.9 82.6 L121.9 83.7 L124.8 84.7 L127.7 85.8 L130.7 86.8 L133.6 87.7 L136.5 88.6 L139.5 89.3 L142.4 89.9 L145.3 90.3 L148.3 90.6 L151.2 90.8"/>
<path d="M54.4 97.5 L57.3 92.5 L60.3 86.5 L63.2 80.4 L66.1 74.3 L69.1 68.6 L72.0 63.3 L74.9 58.7 L77.9 54.8 L80.8 51.8 L83.7 49.8 L86.7 48.7 L89.6 48.7 L92.5 49.4 L95.5 51.0 L98.4 53.2 L101.3 56.1 L104.3 59.6 L107.2 63.4 L110.1 67.6 L113.1 71.9 L116.0 76.2 L118.9 80.4 L121.9 84.3 L124.8 87.7 L127.7 90.7 L130.7 93.1 L133.6 94.7 L136.5 95.6 L139.5 95.7 L142.4 95.7 L145.3 95.7 L148.3 95.7 L151.2 95.7"/>
<path d="M54.4 97.5 L57.3 92.2 L60.3 86.4 L63.2 80.6 L66.1 74.9 L69.1 69.5 L72.0 64.7 L74.9 60.5 L77.9 57.0 L80.8 54.3 L83.7 52.5 L86.7 51.6 L89.6 51.9 L92.5 54.9 L95.5 60.4 L98.4 68.2 L101.3 77.5 L104.3 87.8 L107.2 98.2 L110.1 107.9 L113.1 116.3 L116.0 122.7 L118.9 126.6 L121.9 127.7 L124.8 127.7 L127.7 127.7 L130.7 127.7 L133.6 127.7 L136.5 127.7 L139.5 127.7 L142.4 127.7 L145.3 127.7 L148.3 127.7 L151.2 127.7"/>
<path d="M54.4 97.5 L57.3 93.0 L60.3 88.4 L63.2 83.9 L66.1 79.6 L69.1 75.5 L72.0 71.7 L74.9 68.1 L77.9 65.0 L80.8 62.3 L83.7 60.0 L86.7 58.2 L89.6 56.9 L92.5 56.2 L95.5 55.9 L98.4 56.8 L101.3 59.3 L104.3 63.1 L107.2 68.0 L110.1 74.0 L113.1 80.5 L116.0 87.3 L118.9 94.1 L121.9 100.4 L124.8 106.0 L127.7 110.5 L130.7 113.8 L133.6 115.6 L136.5 115.9 L139.5 115.9 L142.4 115.9 L145.3 115.9 L148.3 115.9 L151.2 115.9"/>
<path d="M54.4 97.5 L57.3 93.7 L60.3 89.0 L63.2 83.9 L66.1 78.8 L69.1 73.7 L72.0 68.7 L74.9 64.1 L77.9 59.8 L80.8 56.0 L83.7 52.7 L86.7 50.0 L89.6 48.0 L92.5 46.7 L95.5 46.1 L98.4 46.4 L101.3 48.3 L104.3 51.8 L107.2 56.7 L110.1 62.9 L113.1 70.0 L116.0 77.8 L118.9 85.8 L121.9 93.8 L124.8 101.4 L127.7 108.3 L130.7 114.1 L133.6 118.7 L136.5 121.7 L139.5 123.1 L142.4 123.2 L145.3 123.2 L148.3 123.2 L151.2 123.2"/>
<path d="M54.4 97.5 L57.3 91.6 L60.3 85.2 L63.2 78.8 L66.1 72.4 L69.1 66.2 L72.0 60.3 L74.9 54.8 L77.9 49.7 L80.8 45.2 L83.7 41.3 L86.7 38.0 L89.6 35.5 L92.5 33.6 L95.5 32.5 L98.4 32.2 L101.3 32.9 L104.3 34.7 L107.2 37.5 L110.1 41.2 L113.1 45.9 L116.0 51.3 L118.9 57.2 L121.9 63.6 L124.8 70.2 L127.7 76.9 L130.7 83.4 L133.6 89.6 L136.5 95.3 L139.5 100.4 L142.4 104.7 L145.3 108.0 L148.3 110.3 L151.2 111.6"/>
<path d="M54.4 97.5 L57.3 93.7 L60.3 89.9 L63.2 86.1 L66.1 82.5 L69.1 79.2 L72.0 76.3 L74.9 73.8 L77.9 71.7 L80.8 70.3 L83.7 69.3 L86.7 69.0 L89.6 69.4 L92.5 70.8 L95.5 73.1 L98.4 76.2 L101.3 80.0 L104.3 84.4 L107.2 89.1 L110.1 93.9 L113.1 98.7 L116.0 103.3 L118.9 107.5 L121.9 111.0 L124.8 113.8 L127.7 115.8 L130.7 116.8 L133.6 116.9 L136.5 116.9 L139.5 116.9 L142.4 116.9 L145.3 116.9 L148.3 116.9 L151.2 116.9"/>
<path d="M54.4 97.5 L57.3 96.3 L60.3 94.2 L63.2 91.7 L66.1 88.8 L69.1 85.9 L72.0 82.9 L74.9 80.1 L77.9 77.6 L80.8 75.5 L83.7 73.8 L86.7 72.6 L89.6 72.0 L92.5 72.0 L95.5 72.4 L98.4 73.2 L101.3 74.3 L104.3 75.8 L107.2 77.5 L110.1 79.5 L113.1 81.7 L116.0 84.1 L118.9 86.6 L121.9 89.1 L124.8 91.6 L127.7 94.0 L130.7 96.3 L133.6 98.4 L136.5 100.3 L139.5 101.8 L142.4 103.1 L145.3 104.0 L148.3 104.6 L151.2 104.8"/>
<path d="M54.4 97.5 L57.3 93.9 L60.3 90.2 L63.2 86.5 L66.1 82.9 L69.1 79.4 L72.0 76.0 L74.9 72.9 L77.9 70.0 L80.8 67.4 L83.7 65.0 L86.7 63.0 L89.6 61.4 L92.5 60.1 L95.5 59.2 L98.4 58.6 L101.3 58.5 L104.3 58.7 L107.2 59.2 L110.1 59.9 L113.1 60.8 L116.0 61.9 L118.9 63.2 L121.9 64.7 L124.8 66.2 L127.7 67.8 L130.7 69.4 L133.6 70.9 L136.5 72.3 L139.5 73.7 L142.4 74.8 L145.3 75.7 L148.3 76.4 L151.2 76.9"/>
<path d="M54.4 97.5 L57.3 102.3 L60.3 107.1 L63.2 109.6 L66.1 109.1 L69.1 105.6 L72.0 100.5 L74.9 97.4 L77.9 96.7 L80.8 95.8 L83.7 94.9 L86.7 94.0 L89.6 93.1 L92.5 92.4 L95.5 91.9 L98.4 91.5 L101.3 91.3 L104.3 91.3 L107.2 91.4 L110.1 91.5 L113.1 91.7 L116.0 91.8 L118.9 92.1 L121.9 92.3 L124.8 92.6 L127.7 92.9 L130.7 93.1 L133.6 93.4 L136.5 93.7 L139.5 93.9 L142.4 94.2 L145.3 94.3 L148.3 94.5 L151.2 94.6"/>
<path d="M54.4 97.5 L57.3 95.2 L60.3 91.5 L63.2 86.9 L66.1 82.0 L69.1 76.8 L72.0 71.8 L74.9 67.0 L77.9 62.8 L80.8 59.1 L83.7 56.2 L86.7 54.2 L89.6 53.2 L92.5 53.1 L95.5 54.2 L98.4 56.5 L101.3 59.9 L104.3 64.3 L107.2 69.5 L110.1 75.4 L113.1 81.9 L116.0 88.6 L118.9 95.5 L121.9 102.2 L124.8 108.6 L127.7 114.5 L130.7 119.6 L133.6 123.9 L136.5 127.1 L139.5 129.3 L142.4 130.3 L145.3 130.3 L148.3 130.3 L151.2 130.3"/>
<path d="M54.4 97.5 L57.3 95.5 L60.3 92.6 L63.2 89.2 L66.1 85.5 L69.1 81.8 L72.0 78.1 L74.9 74.5 L77.9 71.2 L80.8 68.2 L83.7 65.6 L86.7 63.4 L89.6 61.8 L92.5 60.7 L95.5 60.2 L98.4 60.3 L101.3 61.3 L104.3 63.0 L107.2 65.4 L110.1 68.5 L113.1 72.0 L116.0 75.9 L118.9 80.1 L121.9 84.3 L124.8 88.5 L127.7 92.4 L130.7 95.9 L133.6 98.9 L136.5 101.3 L139.5 103.0 L142.4 103.9 L145.3 104.0 L148.3 104.0 L151.2 104.0"/>
<path d="M54.4 97.5 L57.3 93.2 L60.3 87.5 L63.2 81.3 L66.1 74.8 L69.1 68.3 L72.0 62.0 L74.9 56.0 L77.9 50.4 L80.8 45.4 L83.7 41.1 L86.7 37.6 L89.6 34.9 L92.5 33.1 L95.5 32.3 L98.4 32.7 L101.3 35.4 L104.3 40.3 L107.2 47.1 L110.1 55.2 L113.1 64.0 L116.0 72.9 L118.9 81.3 L121.9 88.4 L124.8 93.8 L127.7 97.1 L130.7 98.1 L133.6 98.1 L136.5 98.1 L139.5 98.1 L142.4 98.1 L145.3 98.1 L148.3 98.1 L151.2 98.1"/>
<path d="M54.4 97.5 L57.3 95.3 L60.3 92.9 L63.2 90.5 L66.1 88.1 L69.1 85.8 L72.0 83.6 L74.9 81.5 L77.9 79.5 L80.8 77.7 L83.7 76.2 L86.7 74.8 L89.6 73.7 L92.5 72.9 L95.5 72.3 L98.4 72.0 L101.3 71.9 L104.3 72.2 L107.2 72.8 L110.1 73.8 L113.1 75.0 L116.0 76.4 L118.9 78.0 L121.9 79.8 L124.8 81.6 L127.7 83.4 L130.7 85.2 L133.6 86.9 L136.5 88.4 L139.5 89.6 L142.4 90.6 L145.3 91.3 L148.3 91.7 L151.2 91.8"/>
<path d="M54.4 97.5 L57.3 104.8 L60.3 113.0 L63.2 119.7 L66.1 123.4 L69.1 123.4 L72.0 119.7 L74.9 113.1 L77.9 104.8 L80.8 97.5 L83.7 93.4 L86.7 88.4 L89.6 84.4 L92.5 82.8 L95.5 83.0 L98.4 83.6 L101.3 84.7 L104.3 86.3 L107.2 88.3 L110.1 90.6 L113.1 93.2 L116.0 96.0 L118.9 99.0 L121.9 102.1 L124.8 105.2 L127.7 108.3 L130.7 111.3 L133.6 114.0 L136.5 116.5 L139.5 118.7 L142.4 120.6 L145.3 122.0 L148.3 123.0 L151.2 123.5"/>
<path d="M54.4 97.5 L57.3 95.1 L60.3 92.2 L63.2 89.2 L66.1 86.2 L69.1 83.2 L72.0 80.4 L74.9 77.9 L77.9 75.6 L80.8 73.7 L83.7 72.2 L86.7 71.1 L89.6 70.5 L92.5 70.3 L95.5 70.6 L98.4 71.3 L101.3 72.3 L104.3 73.8 L107.2 75.5 L110.1 77.4 L113.1 79.4 L116.0 81.5 L118.9 83.6 L121.9 85.5 L124.8 87.2 L127.7 88.7 L130.7 89.7 L133.6 90.4 L136.5 90.7 L139.5 90.7 L142.4 90.7 L145.3 90.7 L148.3 90.7 L151.2 90.7"/>
<path d="M54.4 97.5 L57.3 95.9 L60.3 93.1 L63.2 89.8 L66.1 86.1 L69.1 82.2 L72.0 78.1 L74.9 74.1 L77.9 70.2 L80.8 66.6 L83.7 63.2 L86.7 60.3 L89.6 57.8 L92.5 55.8 L95.5 54.4 L98.4 53.6 L101.3 53.4 L104.3 53.9 L107.2 54.9 L110.1 56.6 L113.1 58.8 L116.0 61.5 L118.9 64.7 L121.9 68.2 L124.8 72.0 L127.7 76.0 L130.7 80.1 L133.6 84.2 L136.5 88.2 L139.5 92.0 L142.4 95.6 L145.3 98.7 L148.3 101.5 L151.2 103.7"/>
<path d="M54.4 97.5 L57.3 94.3 L60.3 90.0 L63.2 85.1 L66.1 80.0 L69.1 74.8 L72.0 69.6 L74.9 64.6 L77.9 59.9 L80.8 55.6 L83.7 51.8 L86.7 48.4 L89.6 45.7 L92.5 43.7 L95.5 42.3 L98.4 41.7 L101.3 41.9 L104.3 43.3 L107.2 45.9 L110.1 49.6 L113.1 54.2 L116.0 59.6 L118.9 65.7 L121.9 72.1 L124.8 78.7 L127.7 85.1 L130.7 91.3 L133.6 96.9 L136.5 101.7 L139.5 105.7 L142.4 108.5 L145.3 110.2 L148.3 110.7 L151.2 110.7"/>
<path d="M54.4 97.5 L57.3 104.0 L60.3 110.9 L63.2 115.5 L66.1 116.6 L69.1 113.8 L72.0 107.9 L74.9 100.7 L77.9 97.3 L80.8 96.5 L83.7 95.6 L86.7 94.6 L89.6 93.7 L92.5 92.9 L95.5 92.2 L98.4 91.6 L101.3 91.3 L104.3 91.3 L107.2 91.8 L110.1 93.0 L113.1 94.8 L116.0 97.2 L118.9 99.9 L121.9 102.9 L124.8 106.0 L127.7 109.0 L130.7 111.8 L133.6 114.2 L136.5 116.0 L139.5 117.2 L142.4 117.8 L145.3 117.8 L148.3 117.8 L151.2 117.8"/>
<path d="M54.4 97.5 L57.3 95.0 L60.3 91.7 L63.2 88.1 L66.1 84.5 L69.1 81.2 L72.0 78.4 L74.9 76.1 L77.9 74.5 L80.8 73.7 L83.7 73.7 L86.7 74.4 L89.6 75.6 L92.5 77.4 L95.5 79.8 L98.4 82.5 L101.3 85.7 L104.3 89.1 L107.2 92.8 L110.1 96.5 L113.1 100.2 L116.0 103.7 L118.9 107.1 L121.9 110.1 L124.8 112.7 L127.7 114.8 L130.7 116.4 L133.6 117.4 L136.5 117.8 L139.5 117.8 L142.4 117.8 L145.3 117.8 L148.3 117.8 L151.2 117.8"/>
<path d="M54.4 97.5 L57.3 95.2 L60.3 91.9 L63.2 87.9 L66.1 83.7 L69.1 79.4 L72.0 75.1 L74.9 71.0 L77.9 67.1 L80.8 63.7 L83.7 60.7 L86.7 58.3 L89.6 56.4 L92.5 55.3 L95.5 54.8 L98.4 55.0 L101.3 55.7 L104.3 57.0 L107.2 58.7 L110.1 61.0 L113.1 63.6 L116.0 66.6 L118.9 69.9 L121.9 73.4 L124.8 77.0 L127.7 80.7 L130.7 84.3 L133.6 87.8 L136.5 91.0 L139.5 94.0 L142.4 96.6 L145.3 98.8 L148.3 100.5 L151.2 101.6"/>
<path d="M54.4 97.5 L57.3 94.5 L60.3 91.2 L63.2 88.0 L66.1 84.8 L69.1 81.7 L72.0 78.8 L74.9 76.2 L77.9 73.8 L80.8 71.8 L83.7 70.1 L86.7 68.8 L89.6 67.9 L92.5 67.4 L95.5 67.3 L98.4 68.0 L101.3 69.4 L104.3 71.6 L107.2 74.4 L110.1 77.9 L113.1 81.7 L116.0 85.9 L118.9 90.2 L121.9 94.6 L124.8 98.7 L127.7 102.6 L130.7 106.1 L133.6 109.0 L136.5 111.3 L139.5 112.8 L142.4 113.5 L145.3 113.6 L148.3 113.6 L151.2 113.6"/>
<path d="M54.4 97.5 L57.3 93.5 L60.3 89.1 L63.2 84.8 L66.1 80.6 L69.1 76.6 L72.0 73.0 L74.9 69.7 L77.9 66.9 L80.8 64.7 L83.7 63.0 L86.7 61.8 L89.6 61.3 L92.5 61.8 L95.5 64.0 L98.4 67.9 L101.3 73.2 L104.3 79.5 L107.2 86.5 L110.1 93.6 L113.1 100.4 L116.0 106.4 L118.9 111.2 L121.9 114.5 L124.8 116.0 L127.7 116.1 L130.7 116.1 L133.6 116.1 L136.5 116.1 L139.5 116.1 L142.4 116.1 L145.3 116.1 L148.3 116.1 L151.2 116.1"/>
<path d="M54.4 97.5 L57.3 92.6 L60.3 86.1 L63.2 79.2 L66.1 72.3 L69.1 65.7 L72.0 59.7 L74.9 54.6 L77.9 50.5 L80.8 47.7 L83.7 46.3 L86.7 46.2 L89.6 48.0 L92.5 51.7 L95.5 56.9 L98.4 63.4 L101.3 70.9 L104.3 78.9 L107.2 87.0 L110.1 94.7 L113.1 101.6 L116.0 107.3 L118.9 111.4 L121.9 113.8 L124.8 114.4 L127.7 114.4 L130.7 114.4 L133.6 114.4 L136.5 114.4 L139.5 114.4 L142.4 114.4 L145.3 114.4 L148.3 114.4 L151.2 114.4"/>
<path d="M54.4 97.5 L57.3 106.8 L60.3 116.7 L63.2 123.2 L66.1 124.3 L69.1 119.9 L72.0 111.1 L74.9 100.8 L77.9 97.0 L80.8 95.8 L83.7 94.7 L86.7 93.9 L89.6 93.7 L92.5 94.0 L95.5 94.7 L98.4 95.9 L101.3 97.3 L104.3 99.1 L107.2 101.1 L110.1 103.3 L113.1 105.5 L116.0 107.6 L118.9 109.7 L121.9 111.5 L124.8 113.0 L127.7 114.2 L130.7 115.0 L133.6 115.3 L136.5 115.4 L139.5 115.4 L142.4 115.4 L145.3 115.4 L148.3 115.4 L151.2 115.4"/>
<path d="M54.4 97.5 L57.3 94.6 L60.3 90.8 L63.2 86.7 L66.1 82.7 L69.1 78.9 L72.0 75.4 L74.9 72.4 L77.9 70.0 L80.8 68.3 L83.7 67.4 L86.7 67.3 L89.6 68.1 L92.5 69.9 L95.5 72.4 L98.4 75.8 L101.3 79.6 L104.3 83.9 L107.2 88.3 L110.1 92.6 L113.1 96.7 L116.0 100.4 L118.9 103.4 L121.9 105.6 L124.8 106.9 L127.7 107.3 L130.7 107.3 L133.6 107.3 L136.5 107.3 L139.5 107.3 L142.4 107.3 L145.3 107.3 L148.3 107.3 L151.2 107.3"/>
<path d="M54.4 97.5 L57.3 95.9 L60.3 93.4 L63.2 90.4 L66.1 87.2 L69.1 83.8 L72.0 80.4 L74.9 77.2 L77.9 74.2 L80.8 71.6 L83.7 69.3 L86.7 67.5 L89.6 66.3 L92.5 65.6 L95.5 65.5 L98.4 65.8 L101.3 66.5 L104.3 67.7 L107.2 69.1 L110.1 70.9 L113.1 72.9 L116.0 75.0 L118.9 77.2 L121.9 79.4 L124.8 81.6 L127.7 83.6 L130.7 85.4 L133.6 87.0 L136.5 88.2 L139.5 89.0 L142.4 89.4 L145.3 89.5 L148.3 89.5 L151.2 89.5"/>
<path d="M54.4 97.5 L57.3 94.8 L60.3 91.7 L63.2 88.3 L66.1 85.0 L69.1 81.8 L72.0 78.8 L74.9 76.0 L77.9 73.6 L80.8 71.6 L83.7 70.0 L86.7 68.9 L89.6 68.2 L92.5 68.1 L95.5 68.5 L98.4 69.4 L101.3 70.8 L104.3 72.6 L107.2 74.8 L110.1 77.4 L113.1 80.1 L116.0 82.9 L118.9 85.8 L121.9 88.7 L124.8 91.3 L127.7 93.8 L130.7 95.9 L133.6 97.6 L136.5 98.8 L139.5 99.6 L142.4 99.9 L145.3 99.9 L148.3 99.9 L151.2 99.9"/>
<path d="M54.4 97.5 L57.3 94.5 L60.3 91.2 L63.2 87.8 L66.1 84.4 L69.1 81.1 L72.0 77.9 L74.9 74.9 L77.9 72.1 L80.8 69.6 L83.7 67.4 L86.7 65.6 L89.6 64.1 L92.5 63.1 L95.5 62.4 L98.4 62.1 L101.3 62.5 L104.3 64.0 L107.2 66.5 L110.1 69.9 L113.1 74.1 L116.0 78.9 L118.9 84.3 L121.9 90.0 L124.8 95.8 L127.7 101.5 L130.7 106.9 L133.6 111.9 L136.5 116.3 L139.5 119.9 L142.4 122.6 L145.3 124.3 L148.3 125.0 L151.2 125.0"/>
<path d="M54.4 97.5 L57.3 96.1 L60.3 94.0 L63.2 91.4 L66.1 88.6 L69.1 85.6 L72.0 82.5 L74.9 79.5 L77.9 76.4 L80.8 73.5 L83.7 70.8 L86.7 68.4 L89.6 66.2 L92.5 64.3 L95.5 62.9 L98.4 61.7 L101.3 61.0 L104.3 60.7 L107.2 61.2 L110.1 62.8 L113.1 65.6 L116.0 69.4 L118.9 74.1 L121.9 79.5 L124.8 85.4 L127.7 91.4 L130.7 97.3 L133.6 102.9 L136.5 108.0 L139.5 112.2 L142.4 115.5 L145.3 117.7 L148.3 118.7 L151.2 118.7"/>
<path d="M54.4 97.5 L57.3 92.4 L60.3 85.9 L63.2 79.0 L66.1 71.9 L69.1 64.9 L72.0 58.2 L74.9 52.1 L77.9 46.5 L80.8 41.8 L83.7 37.9 L86.7 35.0 L89.6 33.1 L92.5 32.3 L95.5 32.5 L98.4 33.8 L101.3 36.0 L104.3 39.1 L107.2 43.0 L110.1 47.6 L113.1 52.7 L116.0 58.1 L118.9 63.6 L121.9 69.1 L124.8 74.3 L127.7 79.2 L130.7 83.5 L133.6 87.1 L136.5 89.8 L139.5 91.6 L142.4 92.4 L145.3 92.5 L148.3 92.5 L151.2 92.5"/>
<path d="M54.4 97.5 L57.3 95.0 L60.3 90.5 L63.2 85.0 L66.1 79.2 L69.1 73.3 L72.0 67.9 L74.9 63.3 L77.9 59.8 L80.8 57.6 L83.7 56.8 L86.7 57.4 L89.6 58.9 L92.5 61.5 L95.5 64.9 L98.4 69.1 L101.3 74.0 L104.3 79.2 L107.2 84.7 L110.1 90.3 L113.1 95.6 L116.0 100.6 L118.9 105.1 L121.9 108.8 L124.8 111.7 L127.7 113.6 L130.7 114.5 L133.6 114.5 L136.5 114.5 L139.5 114.5 L142.4 114.5 L145.3 114.5 L148.3 114.5 L151.2 114.5"/>
<path d="M54.4 97.5 L57.3 107.0 L60.3 117.0 L63.2 123.4 L66.1 124.1 L69.1 119.0 L72.0 109.7 L74.9 99.4 L77.9 94.3 L80.8 88.3 L83.7 82.7 L86.7 78.6 L89.6 76.9 L92.5 77.2 L95.5 78.2 L98.4 79.9 L101.3 82.2 L104.3 85.1 L107.2 88.3 L110.1 91.9 L113.1 95.6 L116.0 99.3 L118.9 102.8 L121.9 106.1 L124.8 108.9 L127.7 111.3 L130.7 113.0 L133.6 114.0 L136.5 114.3 L139.5 114.3 L142.4 114.3 L145.3 114.3 L148.3 114.3 L151.2 114.3"/>
<path d="M54.4 97.5 L57.3 93.5 L60.3 89.2 L63.2 85.0 L66.1 81.0 L69.1 77.2 L72.0 73.7 L74.9 70.6 L77.9 68.0 L80.8 65.9 L83.7 64.4 L86.7 63.4 L89.6 63.0 L92.5 63.5 L95.5 65.1 L98.4 67.8 L101.3 71.4 L104.3 75.8 L107.2 80.8 L110.1 86.1 L113.1 91.5 L116.0 96.7 L118.9 101.4 L121.9 105.5 L124.8 108.7 L127.7 110.9 L130.7 112.0 L133.6 112.1 L136.5 112.1 L139.5 112.1 L142.4 112.1 L145.3 112.1 L148.3 112.1 L151.2 112.1"/>
<path d="M54.4 97.5 L57.3 94.5 L60.3 90.4 L63.2 85.8 L66.1 81.0 L69.1 76.2 L72.0 71.3 L74.9 66.6 L77.9 62.1 L80.8 58.0 L83.7 54.3 L86.7 51.0 L89.6 48.2 L92.5 46.1 L95.5 44.5 L98.4 43.6 L101.3 43.4 L104.3 44.1 L107.2 46.0 L110.1 49.1 L113.1 53.1 L116.0 57.9 L118.9 63.3 L121.9 69.1 L124.8 75.0 L127.7 80.8 L130.7 86.2 L133.6 91.1 L136.5 95.2 L139.5 98.3 L142.4 100.3 L145.3 101.1 L148.3 101.1 L151.2 101.1"/>
</g>
<line x1="49.50" y1="32.30" x2="49.50" y2="154.70" stroke="#262626" stroke-width="1.1"/>
<line x1="46.00" y1="32.30" x2="49.50" y2="32.30" stroke="#262626" stroke-width="1.1"/>
<text x="41.80" y="36.30" font-size="11.22" text-anchor="end" textLength="17.49" lengthAdjust="spacingAndGlyphs">4.0</text>
<line x1="46.00" y1="97.50" x2="49.50" y2="97.50" stroke="#262626" stroke-width="1.1"/>
<text x="41.80" y="101.50" font-size="11.22" text-anchor="end" textLength="17.49" lengthAdjust="spacingAndGlyphs">0.0</text>
<line x1="46.00" y1="154.70" x2="49.50" y2="154.70" stroke="#262626" stroke-width="1.1"/>
<text x="41.80" y="158.70" font-size="11.22" text-anchor="end" textLength="26.71" lengthAdjust="spacingAndGlyphs">−3.5</text>
<line x1="54.40" y1="157.50" x2="151.00" y2="157.50" stroke="#262626" stroke-width="1.1"/>
<line x1="54.40" y1="157.50" x2="54.40" y2="161.00" stroke="#262626" stroke-width="1.1"/>
<text x="54.40" y="173.00" font-size="11.22" text-anchor="middle" textLength="24.97" lengthAdjust="spacingAndGlyphs">-350</text>
<line x1="151.00" y1="157.50" x2="151.00" y2="161.00" stroke="#262626" stroke-width="1.1"/>
<text x="151.00" y="173.00" font-size="11.22" text-anchor="middle" textLength="13.87" lengthAdjust="spacingAndGlyphs">FB</text>
<text x="102.70" y="189.30" font-size="11.22" text-anchor="middle" textLength="55.45" lengthAdjust="spacingAndGlyphs">Time (ms)</text>
<text x="13.40" y="92.20" font-size="11.22" text-anchor="middle" textLength="86.69" lengthAdjust="spacingAndGlyphs" transform="rotate(-90 13.40 92.20)">Amplitude (mV)</text>
<text x="186.60" y="11.80" font-size="14.3" font-weight="bold" style="fill:#000;stroke:#000;stroke-width:0.6px" textLength="10.98" lengthAdjust="spacingAndGlyphs">B</text>
<text x="279.20" y="16.60" font-size="11.22" text-anchor="middle" textLength="51.13" lengthAdjust="spacingAndGlyphs">Empirical</text>
<line x1="249.0" y1="50.2" x2="249.0" y2="73.0" stroke="#555" stroke-width="1.2"/>
<line x1="249.0" y1="101.3" x2="249.0" y2="140.8" stroke="#555" stroke-width="1.2"/>
<line x1="308.2" y1="50.2" x2="308.2" y2="82.3" stroke="#555" stroke-width="1.2"/>
<line x1="308.2" y1="116.0" x2="308.2" y2="150.7" stroke="#555" stroke-width="1.2"/>
<g fill="#4a97f7" fill-opacity="0.92">
<circle cx="254.6" cy="65.1" r="2.0"/>
<circle cx="247.9" cy="68.5" r="2.0"/>
<circle cx="249.5" cy="66.2" r="2.0"/>
<circle cx="248.4" cy="68.0" r="2.0"/>
<circle cx="246.0" cy="69.5" r="2.0"/>
<circle cx="255.0" cy="55.1" r="2.0"/>
<circle cx="246.2" cy="50.7" r="2.0"/>
<circle cx="250.5" cy="70.3" r="2.0"/>
<circle cx="248.5" cy="61.2" r="2.0"/>
<circle cx="250.2" cy="71.8" r="2.0"/>
<circle cx="249.1" cy="58.2" r="2.0"/>
<circle cx="251.3" cy="65.5" r="2.0"/>
<circle cx="245.1" cy="53.4" r="2.0"/>
<circle cx="253.7" cy="70.8" r="2.0"/>
<circle cx="250.8" cy="61.5" r="2.0"/>
<circle cx="245.4" cy="57.3" r="2.0"/>
<circle cx="244.6" cy="69.8" r="2.0"/>
<circle cx="250.1" cy="68.5" r="2.0"/>
<circle cx="253.1" cy="72.3" r="2.0"/>
<circle cx="252.4" cy="61.2" r="2.0"/>
<circle cx="254.2" cy="75.6" r="2.0"/>
<circle cx="254.1" cy="73.8" r="2.0"/>
<circle cx="247.1" cy="75.0" r="2.0"/>
<circle cx="252.0" cy="76.9" r="2.0"/>
<circle cx="247.4" cy="75.2" r="2.0"/>
<circle cx="245.3" cy="73.1" r="2.0"/>
<circle cx="242.9" cy="78.2" r="2.0"/>
<circle cx="247.1" cy="80.9" r="2.0"/>
<circle cx="251.4" cy="82.0" r="2.0"/>
<circle cx="254.7" cy="78.3" r="2.0"/>
<circle cx="253.8" cy="80.8" r="2.0"/>
<circle cx="249.7" cy="77.2" r="2.0"/>
<circle cx="256.7" cy="75.4" r="2.0"/>
<circle cx="245.2" cy="76.0" r="2.0"/>
<circle cx="245.2" cy="73.9" r="2.0"/>
<circle cx="252.1" cy="82.5" r="2.0"/>
<circle cx="247.1" cy="74.6" r="2.0"/>
<circle cx="251.6" cy="78.2" r="2.0"/>
<circle cx="250.3" cy="78.7" r="2.0"/>
<circle cx="252.5" cy="83.4" r="2.0"/>
<circle cx="248.2" cy="77.5" r="2.0"/>
<circle cx="242.9" cy="77.6" r="2.0"/>
<circle cx="245.6" cy="75.5" r="2.0"/>
<circle cx="246.1" cy="76.9" r="2.0"/>
<circle cx="256.4" cy="80.2" r="2.0"/>
<circle cx="253.5" cy="82.6" r="2.0"/>
<circle cx="250.5" cy="82.4" r="2.0"/>
<circle cx="252.0" cy="84.4" r="2.0"/>
<circle cx="242.4" cy="93.4" r="2.0"/>
<circle cx="244.5" cy="93.2" r="2.0"/>
<circle cx="249.1" cy="87.5" r="2.0"/>
<circle cx="245.8" cy="97.9" r="2.0"/>
<circle cx="249.4" cy="97.6" r="2.0"/>
<circle cx="256.3" cy="87.8" r="2.0"/>
<circle cx="245.8" cy="91.8" r="2.0"/>
<circle cx="243.1" cy="98.9" r="2.0"/>
<circle cx="244.1" cy="97.1" r="2.0"/>
<circle cx="244.8" cy="91.6" r="2.0"/>
<circle cx="247.3" cy="98.8" r="2.0"/>
<circle cx="251.0" cy="100.9" r="2.0"/>
<circle cx="249.3" cy="96.4" r="2.0"/>
<circle cx="247.4" cy="90.3" r="2.0"/>
<circle cx="244.3" cy="100.4" r="2.0"/>
<circle cx="253.0" cy="101.1" r="2.0"/>
<circle cx="251.2" cy="91.1" r="2.0"/>
<circle cx="247.2" cy="91.5" r="2.0"/>
<circle cx="241.5" cy="93.4" r="2.0"/>
<circle cx="256.4" cy="93.2" r="2.0"/>
<circle cx="252.9" cy="89.9" r="2.0"/>
<circle cx="244.5" cy="92.4" r="2.0"/>
<circle cx="241.5" cy="99.8" r="2.0"/>
<circle cx="256.8" cy="90.2" r="2.0"/>
<circle cx="254.4" cy="89.6" r="2.0"/>
<circle cx="253.8" cy="95.0" r="2.0"/>
<circle cx="246.9" cy="95.4" r="2.0"/>
<circle cx="241.6" cy="97.5" r="2.0"/>
<circle cx="244.1" cy="104.7" r="2.0"/>
<circle cx="252.9" cy="103.9" r="2.0"/>
<circle cx="250.4" cy="111.2" r="2.0"/>
<circle cx="243.4" cy="115.1" r="2.0"/>
<circle cx="249.4" cy="136.4" r="2.0"/>
<circle cx="251.3" cy="113.0" r="2.0"/>
<circle cx="244.4" cy="117.3" r="2.0"/>
<circle cx="246.0" cy="103.6" r="2.0"/>
<circle cx="244.9" cy="107.6" r="2.0"/>
<circle cx="255.0" cy="136.8" r="2.0"/>
<circle cx="254.8" cy="122.2" r="2.0"/>
<circle cx="243.6" cy="105.2" r="2.0"/>
<circle cx="246.2" cy="123.0" r="2.0"/>
<circle cx="250.4" cy="102.7" r="2.0"/>
<circle cx="244.4" cy="103.2" r="2.0"/>
<circle cx="245.2" cy="116.2" r="2.0"/>
<circle cx="246.6" cy="124.6" r="2.0"/>
<circle cx="243.6" cy="107.7" r="2.0"/>
<circle cx="244.1" cy="134.2" r="2.0"/>
<circle cx="247.9" cy="111.8" r="2.0"/>
<circle cx="243.9" cy="102.6" r="2.0"/>
<circle cx="250.7" cy="113.7" r="2.0"/>
<circle cx="252.8" cy="109.8" r="2.0"/>
<circle cx="244.5" cy="118.3" r="2.0"/>
<circle cx="250.9" cy="102.9" r="2.0"/>
<circle cx="243.2" cy="120.6" r="2.0"/>
<circle cx="249.8" cy="107.7" r="2.0"/>
<circle cx="255.2" cy="128.4" r="2.0"/>
<circle cx="248.5" cy="50.7" r="2.0"/>
<circle cx="243.5" cy="50.3" r="2.0"/>
<circle cx="249.8" cy="51.6" r="2.0"/>
<circle cx="245.9" cy="50.5" r="2.0"/>
<circle cx="254.6" cy="50.5" r="2.0"/>
<circle cx="250.1" cy="50.8" r="2.0"/>
<circle cx="243.4" cy="50.6" r="2.0"/>
<circle cx="244.5" cy="51.6" r="2.0"/>
</g>
<g fill="#dc1e3c" fill-opacity="0.92">
<circle cx="303.1" cy="76.1" r="2.0"/>
<circle cx="302.6" cy="72.0" r="2.0"/>
<circle cx="303.8" cy="66.4" r="2.0"/>
<circle cx="309.9" cy="59.5" r="2.0"/>
<circle cx="304.3" cy="57.5" r="2.0"/>
<circle cx="311.6" cy="80.0" r="2.0"/>
<circle cx="310.6" cy="73.1" r="2.0"/>
<circle cx="313.0" cy="55.6" r="2.0"/>
<circle cx="307.0" cy="68.6" r="2.0"/>
<circle cx="307.4" cy="77.5" r="2.0"/>
<circle cx="308.2" cy="75.7" r="2.0"/>
<circle cx="304.7" cy="76.8" r="2.0"/>
<circle cx="307.7" cy="79.3" r="2.0"/>
<circle cx="314.1" cy="74.4" r="2.0"/>
<circle cx="304.4" cy="75.4" r="2.0"/>
<circle cx="303.4" cy="72.8" r="2.0"/>
<circle cx="307.6" cy="81.5" r="2.0"/>
<circle cx="313.7" cy="71.9" r="2.0"/>
<circle cx="308.3" cy="52.5" r="2.0"/>
<circle cx="308.9" cy="54.2" r="2.0"/>
<circle cx="311.8" cy="77.6" r="2.0"/>
<circle cx="312.3" cy="80.9" r="2.0"/>
<circle cx="307.5" cy="81.1" r="2.0"/>
<circle cx="306.5" cy="67.1" r="2.0"/>
<circle cx="304.6" cy="68.9" r="2.0"/>
<circle cx="305.1" cy="92.0" r="2.0"/>
<circle cx="304.9" cy="95.8" r="2.0"/>
<circle cx="315.4" cy="102.3" r="2.0"/>
<circle cx="303.7" cy="83.6" r="2.0"/>
<circle cx="312.4" cy="94.7" r="2.0"/>
<circle cx="303.3" cy="83.7" r="2.0"/>
<circle cx="310.8" cy="92.3" r="2.0"/>
<circle cx="313.9" cy="102.2" r="2.0"/>
<circle cx="301.2" cy="99.8" r="2.0"/>
<circle cx="310.0" cy="103.8" r="2.0"/>
<circle cx="304.4" cy="84.2" r="2.0"/>
<circle cx="306.4" cy="96.0" r="2.0"/>
<circle cx="313.0" cy="92.1" r="2.0"/>
<circle cx="308.9" cy="100.4" r="2.0"/>
<circle cx="306.7" cy="99.7" r="2.0"/>
<circle cx="309.8" cy="103.7" r="2.0"/>
<circle cx="301.1" cy="103.6" r="2.0"/>
<circle cx="309.1" cy="101.7" r="2.0"/>
<circle cx="303.4" cy="98.0" r="2.0"/>
<circle cx="304.9" cy="94.4" r="2.0"/>
<circle cx="300.4" cy="84.6" r="2.0"/>
<circle cx="310.9" cy="102.3" r="2.0"/>
<circle cx="304.4" cy="86.8" r="2.0"/>
<circle cx="313.2" cy="92.5" r="2.0"/>
<circle cx="315.5" cy="84.9" r="2.0"/>
<circle cx="304.2" cy="103.1" r="2.0"/>
<circle cx="306.0" cy="96.4" r="2.0"/>
<circle cx="301.8" cy="97.6" r="2.0"/>
<circle cx="309.6" cy="109.8" r="2.0"/>
<circle cx="311.2" cy="111.6" r="2.0"/>
<circle cx="304.2" cy="114.7" r="2.0"/>
<circle cx="306.5" cy="106.1" r="2.0"/>
<circle cx="315.4" cy="111.0" r="2.0"/>
<circle cx="311.9" cy="112.6" r="2.0"/>
<circle cx="304.6" cy="115.7" r="2.0"/>
<circle cx="307.0" cy="107.3" r="2.0"/>
<circle cx="310.6" cy="107.8" r="2.0"/>
<circle cx="302.8" cy="115.4" r="2.0"/>
<circle cx="311.0" cy="110.4" r="2.0"/>
<circle cx="314.7" cy="110.1" r="2.0"/>
<circle cx="314.2" cy="112.9" r="2.0"/>
<circle cx="303.5" cy="105.6" r="2.0"/>
<circle cx="313.3" cy="105.1" r="2.0"/>
<circle cx="300.6" cy="115.6" r="2.0"/>
<circle cx="311.8" cy="113.5" r="2.0"/>
<circle cx="304.6" cy="114.9" r="2.0"/>
<circle cx="304.1" cy="112.7" r="2.0"/>
<circle cx="312.0" cy="105.2" r="2.0"/>
<circle cx="311.3" cy="104.8" r="2.0"/>
<circle cx="308.0" cy="107.6" r="2.0"/>
<circle cx="304.2" cy="114.7" r="2.0"/>
<circle cx="305.9" cy="109.8" r="2.0"/>
<circle cx="307.8" cy="106.5" r="2.0"/>
<circle cx="312.9" cy="106.4" r="2.0"/>
<circle cx="304.8" cy="111.5" r="2.0"/>
<circle cx="305.8" cy="115.7" r="2.0"/>
<circle cx="301.7" cy="127.1" r="2.0"/>
<circle cx="303.6" cy="124.7" r="2.0"/>
<circle cx="307.3" cy="124.5" r="2.0"/>
<circle cx="306.3" cy="116.6" r="2.0"/>
<circle cx="309.8" cy="120.5" r="2.0"/>
<circle cx="313.9" cy="122.7" r="2.0"/>
<circle cx="314.0" cy="130.7" r="2.0"/>
<circle cx="303.7" cy="127.7" r="2.0"/>
<circle cx="307.6" cy="121.0" r="2.0"/>
<circle cx="311.3" cy="119.1" r="2.0"/>
<circle cx="304.0" cy="119.8" r="2.0"/>
<circle cx="302.3" cy="125.6" r="2.0"/>
<circle cx="304.5" cy="148.1" r="2.0"/>
<circle cx="312.7" cy="118.7" r="2.0"/>
<circle cx="308.5" cy="135.8" r="2.0"/>
<circle cx="313.4" cy="116.6" r="2.0"/>
<circle cx="307.3" cy="137.9" r="2.0"/>
<circle cx="308.1" cy="124.6" r="2.0"/>
<circle cx="303.0" cy="120.1" r="2.0"/>
<circle cx="303.2" cy="121.5" r="2.0"/>
<circle cx="306.8" cy="134.2" r="2.0"/>
<circle cx="310.3" cy="127.3" r="2.0"/>
<circle cx="311.1" cy="143.5" r="2.0"/>
<circle cx="314.2" cy="130.2" r="2.0"/>
<circle cx="313.7" cy="132.1" r="2.0"/>
<circle cx="304.8" cy="149.0" r="2.0"/>
<circle cx="311.8" cy="116.4" r="2.0"/>
<circle cx="304.5" cy="142.6" r="2.0"/>
<circle cx="312.0" cy="50.8" r="2.0"/>
<circle cx="313.1" cy="50.9" r="2.0"/>
<circle cx="303.1" cy="52.0" r="2.0"/>
</g>
<rect x="237.2" y="73.0" width="23.5" height="28.3" fill="none" stroke="#3f3f3f" stroke-width="1.1"/>
<line x1="237.2" y1="85.4" x2="260.8" y2="85.4" stroke="#3f3f3f" stroke-width="1.1"/>
<rect x="296.4" y="82.3" width="23.5" height="33.7" fill="none" stroke="#3f3f3f" stroke-width="1.1"/>
<line x1="296.4" y1="104.3" x2="319.9" y2="104.3" stroke="#3f3f3f" stroke-width="1.1"/>
<path d="M248.8 44.4 L248.8 41.6 L308.0 41.6 L308.0 44.4" fill="none" stroke="#262626" stroke-width="1.1"/>
<path d="M270.2 29.9 L270.2 34.9 M268.0 31.1 L272.4 33.7 M268.0 33.7 L272.4 31.1 M275.6 29.9 L275.6 34.9 M273.4 31.1 L277.8 33.7 M273.4 33.7 L277.8 31.1 M281.1 29.9 L281.1 34.9 M278.9 31.1 L283.3 33.7 M278.9 33.7 L283.3 31.1 M286.6 29.9 L286.6 34.9 M284.4 31.1 L288.8 33.7 M284.4 33.7 L288.8 31.1 " stroke="#262626" stroke-width="0.95" fill="none"/>
<line x1="219.30" y1="50.20" x2="219.30" y2="157.40" stroke="#262626" stroke-width="1.1"/>
<line x1="215.80" y1="50.20" x2="219.30" y2="50.20" stroke="#262626" stroke-width="1.1"/>
<text x="211.00" y="54.20" font-size="11.22" text-anchor="end" textLength="7.00" lengthAdjust="spacingAndGlyphs">4</text>
<line x1="215.80" y1="157.40" x2="219.30" y2="157.40" stroke="#262626" stroke-width="1.1"/>
<text x="211.00" y="161.40" font-size="11.22" text-anchor="end" textLength="7.00" lengthAdjust="spacingAndGlyphs">0</text>
<text x="196.50" y="104.50" font-size="11.22" text-anchor="middle" textLength="56.37" lengthAdjust="spacingAndGlyphs" transform="rotate(-90 196.50 104.50)">Amplitude</text>
<text x="186.80" y="226.20" font-size="14.3" font-weight="bold" style="fill:#000;stroke:#000;stroke-width:0.6px" textLength="9.84" lengthAdjust="spacingAndGlyphs">F</text>
<text x="279.50" y="231.10" font-size="11.22" text-anchor="middle" textLength="51.64" lengthAdjust="spacingAndGlyphs">Predicted</text>
<line x1="249.0" y1="273.0" x2="249.0" y2="293.9" stroke="#555" stroke-width="1.2"/>
<line x1="249.0" y1="322.2" x2="249.0" y2="362.4" stroke="#555" stroke-width="1.2"/>
<line x1="308.2" y1="273.0" x2="308.2" y2="303.1" stroke="#555" stroke-width="1.2"/>
<line x1="308.2" y1="336.6" x2="308.2" y2="371.8" stroke="#555" stroke-width="1.2"/>
<g fill="#4a97f7" fill-opacity="0.92">
<circle cx="248.2" cy="290.2" r="2.0"/>
<circle cx="244.2" cy="286.3" r="2.0"/>
<circle cx="250.1" cy="285.4" r="2.0"/>
<circle cx="250.9" cy="284.5" r="2.0"/>
<circle cx="254.9" cy="288.3" r="2.0"/>
<circle cx="250.1" cy="281.0" r="2.0"/>
<circle cx="251.6" cy="284.5" r="2.0"/>
<circle cx="254.4" cy="276.7" r="2.0"/>
<circle cx="252.0" cy="290.5" r="2.0"/>
<circle cx="251.0" cy="275.6" r="2.0"/>
<circle cx="252.2" cy="282.2" r="2.0"/>
<circle cx="247.7" cy="281.6" r="2.0"/>
<circle cx="246.4" cy="285.6" r="2.0"/>
<circle cx="247.7" cy="280.2" r="2.0"/>
<circle cx="252.1" cy="279.3" r="2.0"/>
<circle cx="245.3" cy="281.4" r="2.0"/>
<circle cx="250.5" cy="280.4" r="2.0"/>
<circle cx="247.4" cy="283.3" r="2.0"/>
<circle cx="253.5" cy="292.1" r="2.0"/>
<circle cx="253.4" cy="284.1" r="2.0"/>
<circle cx="249.6" cy="284.1" r="2.0"/>
<circle cx="242.0" cy="302.4" r="2.0"/>
<circle cx="246.9" cy="302.1" r="2.0"/>
<circle cx="251.6" cy="301.0" r="2.0"/>
<circle cx="249.4" cy="302.0" r="2.0"/>
<circle cx="244.3" cy="300.6" r="2.0"/>
<circle cx="243.2" cy="299.9" r="2.0"/>
<circle cx="249.6" cy="299.7" r="2.0"/>
<circle cx="247.3" cy="303.3" r="2.0"/>
<circle cx="249.4" cy="294.1" r="2.0"/>
<circle cx="252.8" cy="296.4" r="2.0"/>
<circle cx="247.1" cy="298.6" r="2.0"/>
<circle cx="247.3" cy="304.9" r="2.0"/>
<circle cx="246.6" cy="298.1" r="2.0"/>
<circle cx="242.7" cy="299.7" r="2.0"/>
<circle cx="255.6" cy="300.5" r="2.0"/>
<circle cx="252.8" cy="300.7" r="2.0"/>
<circle cx="254.3" cy="305.4" r="2.0"/>
<circle cx="253.9" cy="302.9" r="2.0"/>
<circle cx="245.2" cy="303.8" r="2.0"/>
<circle cx="246.5" cy="299.7" r="2.0"/>
<circle cx="250.1" cy="297.1" r="2.0"/>
<circle cx="250.9" cy="297.7" r="2.0"/>
<circle cx="242.8" cy="300.9" r="2.0"/>
<circle cx="247.3" cy="299.3" r="2.0"/>
<circle cx="242.6" cy="302.5" r="2.0"/>
<circle cx="249.2" cy="295.9" r="2.0"/>
<circle cx="251.6" cy="298.8" r="2.0"/>
<circle cx="244.3" cy="297.9" r="2.0"/>
<circle cx="245.0" cy="321.1" r="2.0"/>
<circle cx="245.6" cy="308.4" r="2.0"/>
<circle cx="244.7" cy="311.5" r="2.0"/>
<circle cx="255.8" cy="314.7" r="2.0"/>
<circle cx="247.7" cy="308.0" r="2.0"/>
<circle cx="255.0" cy="316.8" r="2.0"/>
<circle cx="243.4" cy="322.2" r="2.0"/>
<circle cx="254.9" cy="314.7" r="2.0"/>
<circle cx="250.4" cy="306.9" r="2.0"/>
<circle cx="253.2" cy="308.8" r="2.0"/>
<circle cx="249.6" cy="321.2" r="2.0"/>
<circle cx="242.2" cy="306.1" r="2.0"/>
<circle cx="254.4" cy="312.7" r="2.0"/>
<circle cx="251.6" cy="309.8" r="2.0"/>
<circle cx="245.3" cy="312.6" r="2.0"/>
<circle cx="246.0" cy="317.4" r="2.0"/>
<circle cx="253.1" cy="312.0" r="2.0"/>
<circle cx="253.4" cy="314.0" r="2.0"/>
<circle cx="243.7" cy="314.4" r="2.0"/>
<circle cx="254.8" cy="313.2" r="2.0"/>
<circle cx="256.3" cy="315.2" r="2.0"/>
<circle cx="246.5" cy="306.0" r="2.0"/>
<circle cx="251.9" cy="318.5" r="2.0"/>
<circle cx="251.6" cy="315.1" r="2.0"/>
<circle cx="251.9" cy="320.2" r="2.0"/>
<circle cx="250.0" cy="314.9" r="2.0"/>
<circle cx="246.3" cy="316.8" r="2.0"/>
<circle cx="250.8" cy="316.8" r="2.0"/>
<circle cx="249.5" cy="340.6" r="2.0"/>
<circle cx="247.6" cy="344.2" r="2.0"/>
<circle cx="253.9" cy="334.0" r="2.0"/>
<circle cx="243.9" cy="339.5" r="2.0"/>
<circle cx="247.4" cy="356.7" r="2.0"/>
<circle cx="251.1" cy="341.3" r="2.0"/>
<circle cx="248.1" cy="357.3" r="2.0"/>
<circle cx="254.1" cy="358.7" r="2.0"/>
<circle cx="250.5" cy="336.0" r="2.0"/>
<circle cx="250.7" cy="355.1" r="2.0"/>
<circle cx="251.8" cy="359.0" r="2.0"/>
<circle cx="251.2" cy="341.3" r="2.0"/>
<circle cx="251.6" cy="341.0" r="2.0"/>
<circle cx="254.6" cy="332.4" r="2.0"/>
<circle cx="255.5" cy="331.2" r="2.0"/>
<circle cx="250.3" cy="328.1" r="2.0"/>
<circle cx="248.5" cy="341.8" r="2.0"/>
<circle cx="249.0" cy="338.1" r="2.0"/>
<circle cx="249.0" cy="334.6" r="2.0"/>
<circle cx="251.2" cy="337.3" r="2.0"/>
<circle cx="252.9" cy="334.9" r="2.0"/>
<circle cx="249.1" cy="345.3" r="2.0"/>
<circle cx="245.2" cy="354.9" r="2.0"/>
<circle cx="252.7" cy="332.2" r="2.0"/>
<circle cx="245.4" cy="359.1" r="2.0"/>
<circle cx="251.5" cy="323.6" r="2.0"/>
<circle cx="247.7" cy="362.8" r="2.0"/>
<circle cx="254.9" cy="354.1" r="2.0"/>
<circle cx="244.2" cy="273.7" r="2.0"/>
<circle cx="243.3" cy="273.5" r="2.0"/>
<circle cx="246.9" cy="274.5" r="2.0"/>
<circle cx="242.8" cy="274.1" r="2.0"/>
<circle cx="251.2" cy="273.0" r="2.0"/>
<circle cx="252.8" cy="273.3" r="2.0"/>
<circle cx="247.8" cy="273.4" r="2.0"/>
</g>
<g fill="#dc1e3c" fill-opacity="0.92">
<circle cx="303.0" cy="278.3" r="2.0"/>
<circle cx="304.1" cy="288.2" r="2.0"/>
<circle cx="307.9" cy="292.2" r="2.0"/>
<circle cx="306.6" cy="302.3" r="2.0"/>
<circle cx="309.6" cy="295.2" r="2.0"/>
<circle cx="303.6" cy="277.2" r="2.0"/>
<circle cx="313.9" cy="274.0" r="2.0"/>
<circle cx="310.0" cy="279.8" r="2.0"/>
<circle cx="308.1" cy="277.5" r="2.0"/>
<circle cx="310.6" cy="280.7" r="2.0"/>
<circle cx="306.5" cy="296.4" r="2.0"/>
<circle cx="313.0" cy="287.4" r="2.0"/>
<circle cx="313.4" cy="299.7" r="2.0"/>
<circle cx="306.7" cy="290.8" r="2.0"/>
<circle cx="308.2" cy="279.4" r="2.0"/>
<circle cx="305.8" cy="284.2" r="2.0"/>
<circle cx="312.9" cy="288.0" r="2.0"/>
<circle cx="311.8" cy="280.0" r="2.0"/>
<circle cx="302.9" cy="298.4" r="2.0"/>
<circle cx="303.1" cy="285.9" r="2.0"/>
<circle cx="306.1" cy="276.9" r="2.0"/>
<circle cx="302.8" cy="293.9" r="2.0"/>
<circle cx="308.0" cy="293.2" r="2.0"/>
<circle cx="308.2" cy="297.4" r="2.0"/>
<circle cx="303.1" cy="293.5" r="2.0"/>
<circle cx="311.2" cy="306.4" r="2.0"/>
<circle cx="312.2" cy="310.3" r="2.0"/>
<circle cx="306.3" cy="314.5" r="2.0"/>
<circle cx="303.3" cy="319.6" r="2.0"/>
<circle cx="305.0" cy="309.5" r="2.0"/>
<circle cx="314.6" cy="312.4" r="2.0"/>
<circle cx="313.2" cy="321.2" r="2.0"/>
<circle cx="300.5" cy="317.2" r="2.0"/>
<circle cx="308.2" cy="309.5" r="2.0"/>
<circle cx="306.1" cy="323.1" r="2.0"/>
<circle cx="313.6" cy="315.4" r="2.0"/>
<circle cx="312.1" cy="310.7" r="2.0"/>
<circle cx="308.6" cy="316.4" r="2.0"/>
<circle cx="308.0" cy="317.1" r="2.0"/>
<circle cx="314.4" cy="305.6" r="2.0"/>
<circle cx="313.4" cy="324.7" r="2.0"/>
<circle cx="310.3" cy="311.0" r="2.0"/>
<circle cx="301.4" cy="320.3" r="2.0"/>
<circle cx="301.7" cy="320.7" r="2.0"/>
<circle cx="304.2" cy="324.1" r="2.0"/>
<circle cx="304.0" cy="324.6" r="2.0"/>
<circle cx="313.4" cy="315.0" r="2.0"/>
<circle cx="311.4" cy="325.1" r="2.0"/>
<circle cx="306.5" cy="321.7" r="2.0"/>
<circle cx="306.4" cy="319.8" r="2.0"/>
<circle cx="312.5" cy="323.8" r="2.0"/>
<circle cx="312.6" cy="311.6" r="2.0"/>
<circle cx="314.8" cy="304.6" r="2.0"/>
<circle cx="305.5" cy="333.2" r="2.0"/>
<circle cx="312.6" cy="332.6" r="2.0"/>
<circle cx="314.2" cy="332.4" r="2.0"/>
<circle cx="305.4" cy="330.1" r="2.0"/>
<circle cx="304.8" cy="329.6" r="2.0"/>
<circle cx="312.2" cy="330.8" r="2.0"/>
<circle cx="310.3" cy="335.2" r="2.0"/>
<circle cx="315.5" cy="334.2" r="2.0"/>
<circle cx="301.7" cy="332.8" r="2.0"/>
<circle cx="300.7" cy="332.4" r="2.0"/>
<circle cx="316.0" cy="333.0" r="2.0"/>
<circle cx="315.0" cy="330.9" r="2.0"/>
<circle cx="315.5" cy="325.6" r="2.0"/>
<circle cx="313.5" cy="327.3" r="2.0"/>
<circle cx="306.5" cy="328.7" r="2.0"/>
<circle cx="301.0" cy="326.9" r="2.0"/>
<circle cx="312.0" cy="333.8" r="2.0"/>
<circle cx="310.1" cy="326.8" r="2.0"/>
<circle cx="314.4" cy="328.3" r="2.0"/>
<circle cx="309.6" cy="326.9" r="2.0"/>
<circle cx="308.8" cy="335.4" r="2.0"/>
<circle cx="313.0" cy="332.9" r="2.0"/>
<circle cx="313.3" cy="333.3" r="2.0"/>
<circle cx="314.6" cy="327.9" r="2.0"/>
<circle cx="314.7" cy="331.0" r="2.0"/>
<circle cx="311.9" cy="333.2" r="2.0"/>
<circle cx="302.1" cy="336.1" r="2.0"/>
<circle cx="305.0" cy="335.1" r="2.0"/>
<circle cx="303.4" cy="364.6" r="2.0"/>
<circle cx="312.1" cy="361.5" r="2.0"/>
<circle cx="314.1" cy="353.7" r="2.0"/>
<circle cx="305.7" cy="339.2" r="2.0"/>
<circle cx="304.9" cy="361.5" r="2.0"/>
<circle cx="304.1" cy="349.6" r="2.0"/>
<circle cx="304.8" cy="370.3" r="2.0"/>
<circle cx="303.7" cy="356.6" r="2.0"/>
<circle cx="314.8" cy="349.8" r="2.0"/>
<circle cx="307.8" cy="346.7" r="2.0"/>
<circle cx="307.6" cy="364.8" r="2.0"/>
<circle cx="302.9" cy="344.7" r="2.0"/>
<circle cx="311.4" cy="341.4" r="2.0"/>
<circle cx="303.4" cy="347.6" r="2.0"/>
<circle cx="311.3" cy="362.2" r="2.0"/>
<circle cx="305.9" cy="356.4" r="2.0"/>
<circle cx="312.7" cy="359.6" r="2.0"/>
<circle cx="305.9" cy="345.6" r="2.0"/>
<circle cx="311.2" cy="339.6" r="2.0"/>
<circle cx="309.0" cy="364.0" r="2.0"/>
<circle cx="310.9" cy="362.7" r="2.0"/>
<circle cx="313.4" cy="339.1" r="2.0"/>
<circle cx="307.8" cy="353.4" r="2.0"/>
<circle cx="314.5" cy="352.2" r="2.0"/>
<circle cx="301.6" cy="355.1" r="2.0"/>
<circle cx="312.9" cy="352.0" r="2.0"/>
<circle cx="309.5" cy="365.1" r="2.0"/>
<circle cx="311.4" cy="352.5" r="2.0"/>
<circle cx="303.7" cy="274.6" r="2.0"/>
<circle cx="311.8" cy="273.0" r="2.0"/>
<circle cx="303.1" cy="273.6" r="2.0"/>
</g>
<rect x="237.2" y="293.9" width="23.5" height="28.3" fill="none" stroke="#3f3f3f" stroke-width="1.1"/>
<line x1="237.2" y1="306.0" x2="260.8" y2="306.0" stroke="#3f3f3f" stroke-width="1.1"/>
<rect x="296.4" y="303.1" width="23.5" height="33.5" fill="none" stroke="#3f3f3f" stroke-width="1.1"/>
<line x1="296.4" y1="325.4" x2="319.9" y2="325.4" stroke="#3f3f3f" stroke-width="1.1"/>
<path d="M248.8 265.5 L248.8 262.7 L308.0 262.7 L308.0 265.5" fill="none" stroke="#262626" stroke-width="1.1"/>
<path d="M270.2 251.0 L270.2 256.0 M268.0 252.2 L272.4 254.8 M268.0 254.8 L272.4 252.2 M275.6 251.0 L275.6 256.0 M273.4 252.2 L277.8 254.8 M273.4 254.8 L277.8 252.2 M281.1 251.0 L281.1 256.0 M278.9 252.2 L283.3 254.8 M278.9 254.8 L283.3 252.2 M286.6 251.0 L286.6 256.0 M284.4 252.2 L288.8 254.8 M284.4 254.8 L288.8 252.2 " stroke="#262626" stroke-width="0.95" fill="none"/>
<line x1="219.30" y1="273.00" x2="219.30" y2="378.00" stroke="#262626" stroke-width="1.1"/>
<line x1="215.80" y1="273.00" x2="219.30" y2="273.00" stroke="#262626" stroke-width="1.1"/>
<text x="211.00" y="277.00" font-size="11.22" text-anchor="end" textLength="7.00" lengthAdjust="spacingAndGlyphs">4</text>
<line x1="215.80" y1="378.00" x2="219.30" y2="378.00" stroke="#262626" stroke-width="1.1"/>
<text x="211.00" y="382.00" font-size="11.22" text-anchor="end" textLength="7.00" lengthAdjust="spacingAndGlyphs">0</text>
<text x="196.50" y="326.50" font-size="11.22" text-anchor="middle" textLength="56.37" lengthAdjust="spacingAndGlyphs" transform="rotate(-90 196.50 326.50)">Amplitude</text>
<text x="351.50" y="11.90" font-size="14.3" font-weight="bold" style="fill:#000;stroke:#000;stroke-width:0.6px" textLength="10.57" lengthAdjust="spacingAndGlyphs">C</text>
<path d="M398.8 87.6 L402.1 87.4 L405.5 87.1 L408.8 86.8 L412.2 86.6 L415.5 86.3 L418.8 85.9 L422.2 85.6 L425.5 85.2 L428.8 84.8 L432.2 84.3 L435.5 83.8 L438.9 83.2 L442.2 82.4 L445.5 81.5 L448.9 80.4 L452.2 79.2 L455.5 77.8 L458.9 76.3 L462.2 74.7 L465.6 73.1 L468.9 71.3 L472.2 69.6 L475.6 67.8 L478.9 65.9 L482.2 64.1 L485.6 62.3 L488.9 60.4 L492.3 58.5 L495.6 56.6 L495.6 83.2 L492.3 83.4 L488.9 83.7 L485.6 84.0 L482.2 84.2 L478.9 84.5 L475.6 84.9 L472.2 85.2 L468.9 85.6 L465.6 86.0 L462.2 86.5 L458.9 87.0 L455.5 87.6 L452.2 88.4 L448.9 89.3 L445.5 90.4 L442.2 91.6 L438.9 93.0 L435.5 94.5 L432.2 96.1 L428.8 97.7 L425.5 99.5 L422.2 101.2 L418.8 103.0 L415.5 104.9 L412.2 106.7 L408.8 108.5 L405.5 110.4 L402.1 112.3 L398.8 114.2 Z" fill="#bfbfbf"/>
<line x1="398.80" y1="100.90" x2="495.60" y2="69.90" stroke="#1a1a1a" stroke-width="1.1"/>
<g fill="#b9c9dd" stroke="#3c4450" stroke-width="1.0">
<circle cx="494.2" cy="31.9" r="2.0"/>
<circle cx="427.7" cy="48.4" r="2.0"/>
<circle cx="460.4" cy="47.1" r="2.0"/>
<circle cx="459.2" cy="56.8" r="2.0"/>
<circle cx="477.2" cy="55.9" r="2.0"/>
<circle cx="438.2" cy="65.0" r="2.0"/>
<circle cx="443.4" cy="62.9" r="2.0"/>
<circle cx="451.6" cy="63.8" r="2.0"/>
<circle cx="455.7" cy="60.6" r="2.0"/>
<circle cx="458.3" cy="62.0" r="2.0"/>
<circle cx="440.8" cy="69.4" r="2.0"/>
<circle cx="459.2" cy="68.5" r="2.0"/>
<circle cx="475.5" cy="65.9" r="2.0"/>
<circle cx="422.0" cy="72.0" r="2.0"/>
<circle cx="431.7" cy="74.6" r="2.0"/>
<circle cx="420.8" cy="80.9" r="2.0"/>
<circle cx="414.2" cy="88.7" r="2.0"/>
<circle cx="404.0" cy="97.6" r="2.0"/>
<circle cx="417.1" cy="96.5" r="2.0"/>
<circle cx="425.9" cy="95.3" r="2.0"/>
<circle cx="426.3" cy="95.8" r="2.0"/>
<circle cx="433.8" cy="94.8" r="2.0"/>
<circle cx="442.5" cy="85.7" r="2.0"/>
<circle cx="448.1" cy="84.4" r="2.0"/>
<circle cx="440.8" cy="90.0" r="2.0"/>
<circle cx="443.4" cy="91.3" r="2.0"/>
<circle cx="455.7" cy="89.2" r="2.0"/>
<circle cx="460.9" cy="89.7" r="2.0"/>
<circle cx="453.9" cy="95.8" r="2.0"/>
<circle cx="456.5" cy="98.5" r="2.0"/>
<circle cx="450.4" cy="100.2" r="2.0"/>
<circle cx="439.9" cy="105.5" r="2.0"/>
<circle cx="445.7" cy="104.9" r="2.0"/>
<circle cx="445.7" cy="109.7" r="2.0"/>
<circle cx="470.2" cy="101.1" r="2.0"/>
<circle cx="477.6" cy="98.8" r="2.0"/>
<circle cx="473.5" cy="92.3" r="2.0"/>
<circle cx="494.7" cy="90.9" r="2.0"/>
<circle cx="495.1" cy="94.4" r="2.0"/>
<circle cx="398.8" cy="123.2" r="2.0"/>
<circle cx="417.1" cy="132.2" r="2.0"/>
<circle cx="441.6" cy="147.6" r="2.0"/>
</g>
<line x1="393.80" y1="35.30" x2="393.80" y2="157.40" stroke="#262626" stroke-width="1.1"/>
<line x1="390.30" y1="35.30" x2="393.80" y2="35.30" stroke="#262626" stroke-width="1.1"/>
<text x="385.90" y="39.30" font-size="11.22" text-anchor="end" textLength="14.00" lengthAdjust="spacingAndGlyphs">60</text>
<line x1="390.30" y1="157.20" x2="393.80" y2="157.20" stroke="#262626" stroke-width="1.1"/>
<text x="385.90" y="161.20" font-size="11.22" text-anchor="end" textLength="14.00" lengthAdjust="spacingAndGlyphs">40</text>
<line x1="393.80" y1="157.40" x2="495.40" y2="157.40" stroke="#262626" stroke-width="1.1"/>
<line x1="395.00" y1="157.40" x2="395.00" y2="160.90" stroke="#262626" stroke-width="1.1"/>
<text x="395.00" y="172.90" font-size="11.22" text-anchor="middle" textLength="14.00" lengthAdjust="spacingAndGlyphs">25</text>
<line x1="495.40" y1="157.40" x2="495.40" y2="160.90" stroke="#262626" stroke-width="1.1"/>
<text x="495.40" y="172.90" font-size="11.22" text-anchor="middle" textLength="14.00" lengthAdjust="spacingAndGlyphs">85</text>
<text x="447.00" y="189.90" font-size="11.22" text-anchor="middle" textLength="79.70" lengthAdjust="spacingAndGlyphs">Peak ERP ratio</text>
<text x="367.00" y="91.50" font-size="11.22" text-anchor="middle" textLength="87.50" lengthAdjust="spacingAndGlyphs" transform="rotate(-90 367.00 91.50)">Behavioral ratio</text>
<text x="444.2" y="135.2" font-size="11.2" font-style="italic" textLength="6.6" lengthAdjust="spacingAndGlyphs">ρ</text>
<text x="450.2" y="136.9" font-size="8.2" font-style="italic" textLength="5.0" lengthAdjust="spacingAndGlyphs">ρ</text>
<text x="458.70" y="135.20" font-size="11.22" text-anchor="start" textLength="29.90" lengthAdjust="spacingAndGlyphs">= 0.33</text>
<text x="518.20" y="11.80" font-size="14.3" font-weight="bold" style="fill:#000;stroke:#000;stroke-width:0.6px" textLength="11.95" lengthAdjust="spacingAndGlyphs">D</text>
<text x="611.20" y="16.60" font-size="11.22" text-anchor="middle" textLength="138.55" lengthAdjust="spacingAndGlyphs">ERP embedding manifold</text>
<text x="607.10" y="29.20" font-size="11.22" text-anchor="middle" textLength="59.53" lengthAdjust="spacingAndGlyphs">(empirical)</text>
<defs>
<linearGradient id="dg" x1="0.1" y1="0.9" x2="0.9" y2="0.1">
<stop offset="0" stop-color="#c28389"/>
<stop offset="0.35" stop-color="#d6aab0"/>
<stop offset="0.6" stop-color="#e5dce4"/>
<stop offset="0.8" stop-color="#d6ddef"/>
<stop offset="1" stop-color="#aac0ea"/>
</linearGradient>
<radialGradient id="dr" cx="0.35" cy="0.3" r="0.8">
<stop offset="0" stop-color="#fff" stop-opacity="0.35"/>
<stop offset="0.6" stop-color="#fff" stop-opacity="0"/>
<stop offset="1" stop-color="#888" stop-opacity="0.15"/>
</radialGradient>
<linearGradient id="cb" x1="0" y1="0" x2="1" y2="0">
<stop offset="0" stop-color="#c0676f"/>
<stop offset="0.25" stop-color="#dba6aa"/>
<stop offset="0.5" stop-color="#f0eeee"/>
<stop offset="0.75" stop-color="#b4c4e6"/>
<stop offset="1" stop-color="#7192d2"/>
</linearGradient>
</defs>
<ellipse cx="611.3" cy="89.5" rx="49.4" ry="39.0" fill="url(#dg)"/>
<ellipse cx="611.3" cy="89.5" rx="49.4" ry="39.0" fill="url(#dr)"/>
<defs><radialGradient id="dem" cx="0.5" cy="0.5" r="0.5"><stop offset="0.72" stop-color="#000"/><stop offset="1" stop-color="#fff"/></radialGradient>
<mask id="dmask" maskContentUnits="userSpaceOnUse"><ellipse cx="611.3" cy="89.5" rx="49.4" ry="39.0" fill="url(#dem)"/></mask>
<linearGradient id="dbl" x1="0.15" y1="0.85" x2="0.8" y2="0.1"><stop offset="0.5" stop-color="#5a8ce6" stop-opacity="0"/><stop offset="0.85" stop-color="#5a8ce6" stop-opacity="0.8"/></linearGradient></defs>
<ellipse cx="611.3" cy="89.5" rx="49.4" ry="39.0" fill="url(#dbl)" mask="url(#dmask)"/>
<g>
<circle cx="591.2" cy="56.6" r="2.4" fill="#a9c3ea" fill-opacity="0.4" stroke="#86a9e0" stroke-opacity="0.45" stroke-width="0.7"/>
<circle cx="597.3" cy="57.5" r="2.4" fill="#a9c3ea" fill-opacity="0.4" stroke="#86a9e0" stroke-opacity="0.45" stroke-width="0.7"/>
<circle cx="602.5" cy="59.3" r="2.4" fill="#a9c3ea" fill-opacity="0.4" stroke="#86a9e0" stroke-opacity="0.45" stroke-width="0.7"/>
<circle cx="590.3" cy="62.8" r="2.4" fill="#a9c3ea" fill-opacity="0.4" stroke="#86a9e0" stroke-opacity="0.45" stroke-width="0.7"/>
<circle cx="595.5" cy="67.1" r="2.4" fill="#a9c3ea" fill-opacity="0.4" stroke="#86a9e0" stroke-opacity="0.45" stroke-width="0.7"/>
<circle cx="600.8" cy="65.4" r="2.4" fill="#a9c3ea" fill-opacity="0.4" stroke="#86a9e0" stroke-opacity="0.45" stroke-width="0.7"/>
<circle cx="606.0" cy="67.1" r="2.4" fill="#a9c3ea" fill-opacity="0.4" stroke="#86a9e0" stroke-opacity="0.45" stroke-width="0.7"/>
<circle cx="612.2" cy="66.3" r="2.4" fill="#a9c3ea" fill-opacity="0.4" stroke="#86a9e0" stroke-opacity="0.45" stroke-width="0.7"/>
<circle cx="616.5" cy="65.4" r="2.4" fill="#a9c3ea" fill-opacity="0.4" stroke="#86a9e0" stroke-opacity="0.45" stroke-width="0.7"/>
<circle cx="620.1" cy="68.0" r="2.4" fill="#a9c3ea" fill-opacity="0.4" stroke="#86a9e0" stroke-opacity="0.45" stroke-width="0.7"/>
<circle cx="625.3" cy="67.1" r="2.4" fill="#a9c3ea" fill-opacity="0.4" stroke="#86a9e0" stroke-opacity="0.45" stroke-width="0.7"/>
<circle cx="630.6" cy="62.8" r="2.4" fill="#a9c3ea" fill-opacity="0.4" stroke="#86a9e0" stroke-opacity="0.45" stroke-width="0.7"/>
<circle cx="635.8" cy="64.5" r="2.4" fill="#a9c3ea" fill-opacity="0.4" stroke="#86a9e0" stroke-opacity="0.45" stroke-width="0.7"/>
<circle cx="641.1" cy="68.9" r="2.4" fill="#a9c3ea" fill-opacity="0.4" stroke="#86a9e0" stroke-opacity="0.45" stroke-width="0.7"/>
<circle cx="645.4" cy="69.8" r="2.4" fill="#a9c3ea" fill-opacity="0.4" stroke="#86a9e0" stroke-opacity="0.45" stroke-width="0.7"/>
<circle cx="597.3" cy="72.4" r="2.4" fill="#a9c3ea" fill-opacity="0.4" stroke="#86a9e0" stroke-opacity="0.45" stroke-width="0.7"/>
<circle cx="602.5" cy="75.0" r="2.4" fill="#a9c3ea" fill-opacity="0.4" stroke="#86a9e0" stroke-opacity="0.45" stroke-width="0.7"/>
<circle cx="611.3" cy="71.5" r="2.4" fill="#a9c3ea" fill-opacity="0.4" stroke="#86a9e0" stroke-opacity="0.45" stroke-width="0.7"/>
<circle cx="616.5" cy="71.5" r="2.4" fill="#a9c3ea" fill-opacity="0.4" stroke="#86a9e0" stroke-opacity="0.45" stroke-width="0.7"/>
<circle cx="621.8" cy="73.3" r="2.4" fill="#a9c3ea" fill-opacity="0.4" stroke="#86a9e0" stroke-opacity="0.45" stroke-width="0.7"/>
<circle cx="625.3" cy="72.4" r="2.4" fill="#a9c3ea" fill-opacity="0.4" stroke="#86a9e0" stroke-opacity="0.45" stroke-width="0.7"/>
<circle cx="632.3" cy="74.2" r="2.4" fill="#a9c3ea" fill-opacity="0.4" stroke="#86a9e0" stroke-opacity="0.45" stroke-width="0.7"/>
<circle cx="637.6" cy="75.0" r="2.4" fill="#a9c3ea" fill-opacity="0.4" stroke="#86a9e0" stroke-opacity="0.45" stroke-width="0.7"/>
<circle cx="642.8" cy="75.0" r="2.4" fill="#a9c3ea" fill-opacity="0.4" stroke="#86a9e0" stroke-opacity="0.45" stroke-width="0.7"/>
<circle cx="648.1" cy="76.8" r="2.4" fill="#a9c3ea" fill-opacity="0.4" stroke="#86a9e0" stroke-opacity="0.45" stroke-width="0.7"/>
<circle cx="653.3" cy="80.3" r="2.4" fill="#a9c3ea" fill-opacity="0.4" stroke="#86a9e0" stroke-opacity="0.45" stroke-width="0.7"/>
<circle cx="599.9" cy="79.4" r="2.4" fill="#a9c3ea" fill-opacity="0.4" stroke="#86a9e0" stroke-opacity="0.45" stroke-width="0.7"/>
<circle cx="607.8" cy="81.2" r="2.4" fill="#a9c3ea" fill-opacity="0.4" stroke="#86a9e0" stroke-opacity="0.45" stroke-width="0.7"/>
<circle cx="614.8" cy="77.7" r="2.4" fill="#a9c3ea" fill-opacity="0.4" stroke="#86a9e0" stroke-opacity="0.45" stroke-width="0.7"/>
<circle cx="620.1" cy="78.5" r="2.4" fill="#a9c3ea" fill-opacity="0.4" stroke="#86a9e0" stroke-opacity="0.45" stroke-width="0.7"/>
<circle cx="623.6" cy="77.7" r="2.4" fill="#a9c3ea" fill-opacity="0.4" stroke="#86a9e0" stroke-opacity="0.45" stroke-width="0.7"/>
<circle cx="627.9" cy="82.0" r="2.4" fill="#a9c3ea" fill-opacity="0.4" stroke="#86a9e0" stroke-opacity="0.45" stroke-width="0.7"/>
<circle cx="635.8" cy="82.9" r="2.4" fill="#a9c3ea" fill-opacity="0.4" stroke="#86a9e0" stroke-opacity="0.45" stroke-width="0.7"/>
<circle cx="641.1" cy="83.8" r="2.4" fill="#a9c3ea" fill-opacity="0.4" stroke="#86a9e0" stroke-opacity="0.45" stroke-width="0.7"/>
<circle cx="646.3" cy="84.7" r="2.4" fill="#a9c3ea" fill-opacity="0.4" stroke="#86a9e0" stroke-opacity="0.45" stroke-width="0.7"/>
<circle cx="651.6" cy="85.5" r="2.4" fill="#a9c3ea" fill-opacity="0.4" stroke="#86a9e0" stroke-opacity="0.45" stroke-width="0.7"/>
<circle cx="655.1" cy="86.4" r="2.4" fill="#a9c3ea" fill-opacity="0.4" stroke="#86a9e0" stroke-opacity="0.45" stroke-width="0.7"/>
<circle cx="620.1" cy="89.0" r="2.4" fill="#a9c3ea" fill-opacity="0.4" stroke="#86a9e0" stroke-opacity="0.45" stroke-width="0.7"/>
<circle cx="627.1" cy="88.2" r="2.4" fill="#a9c3ea" fill-opacity="0.4" stroke="#86a9e0" stroke-opacity="0.45" stroke-width="0.7"/>
<circle cx="632.3" cy="90.8" r="2.4" fill="#a9c3ea" fill-opacity="0.4" stroke="#86a9e0" stroke-opacity="0.45" stroke-width="0.7"/>
<circle cx="637.6" cy="89.9" r="2.4" fill="#a9c3ea" fill-opacity="0.4" stroke="#86a9e0" stroke-opacity="0.45" stroke-width="0.7"/>
<circle cx="642.8" cy="92.5" r="2.4" fill="#a9c3ea" fill-opacity="0.4" stroke="#86a9e0" stroke-opacity="0.45" stroke-width="0.7"/>
<circle cx="646.3" cy="96.0" r="2.4" fill="#a9c3ea" fill-opacity="0.4" stroke="#86a9e0" stroke-opacity="0.45" stroke-width="0.7"/>
<circle cx="651.6" cy="97.8" r="2.4" fill="#a9c3ea" fill-opacity="0.4" stroke="#86a9e0" stroke-opacity="0.45" stroke-width="0.7"/>
<circle cx="655.1" cy="101.3" r="2.4" fill="#a9c3ea" fill-opacity="0.4" stroke="#86a9e0" stroke-opacity="0.45" stroke-width="0.7"/>
<circle cx="600.8" cy="101.3" r="2.4" fill="#a9c3ea" fill-opacity="0.4" stroke="#86a9e0" stroke-opacity="0.45" stroke-width="0.7"/>
<circle cx="604.3" cy="96.0" r="2.4" fill="#a9c3ea" fill-opacity="0.4" stroke="#86a9e0" stroke-opacity="0.45" stroke-width="0.7"/>
<circle cx="620.1" cy="94.3" r="2.4" fill="#a9c3ea" fill-opacity="0.4" stroke="#86a9e0" stroke-opacity="0.45" stroke-width="0.7"/>
<circle cx="630.6" cy="97.8" r="2.4" fill="#a9c3ea" fill-opacity="0.4" stroke="#86a9e0" stroke-opacity="0.45" stroke-width="0.7"/>
<circle cx="634.1" cy="99.5" r="2.4" fill="#a9c3ea" fill-opacity="0.4" stroke="#86a9e0" stroke-opacity="0.45" stroke-width="0.7"/>
<circle cx="638.4" cy="104.8" r="2.4" fill="#a9c3ea" fill-opacity="0.4" stroke="#86a9e0" stroke-opacity="0.45" stroke-width="0.7"/>
<circle cx="645.4" cy="110.1" r="2.4" fill="#a9c3ea" fill-opacity="0.4" stroke="#86a9e0" stroke-opacity="0.45" stroke-width="0.7"/>
<circle cx="609.5" cy="56.6" r="2.4" fill="#a9c3ea" fill-opacity="0.4" stroke="#86a9e0" stroke-opacity="0.45" stroke-width="0.7"/>
<circle cx="623.6" cy="57.5" r="2.4" fill="#a9c3ea" fill-opacity="0.4" stroke="#86a9e0" stroke-opacity="0.45" stroke-width="0.7"/>
<circle cx="637.6" cy="60.1" r="2.4" fill="#a9c3ea" fill-opacity="0.4" stroke="#86a9e0" stroke-opacity="0.45" stroke-width="0.7"/>
<circle cx="648.1" cy="72.4" r="2.4" fill="#a9c3ea" fill-opacity="0.4" stroke="#86a9e0" stroke-opacity="0.45" stroke-width="0.7"/>
<circle cx="656.8" cy="83.8" r="2.4" fill="#a9c3ea" fill-opacity="0.4" stroke="#86a9e0" stroke-opacity="0.45" stroke-width="0.7"/>
<circle cx="657.7" cy="92.5" r="2.4" fill="#a9c3ea" fill-opacity="0.4" stroke="#86a9e0" stroke-opacity="0.45" stroke-width="0.7"/>
<circle cx="627.1" cy="61.0" r="2.4" fill="#a9c3ea" fill-opacity="0.4" stroke="#86a9e0" stroke-opacity="0.45" stroke-width="0.7"/>
<circle cx="594.0" cy="52.1" r="2.4" fill="#4a94f2" fill-opacity="0.9"/>
<circle cx="602.3" cy="51.7" r="2.4" fill="#4a94f2" fill-opacity="0.9"/>
<circle cx="605.2" cy="50.9" r="2.4" fill="#4a94f2" fill-opacity="0.9"/>
<circle cx="610.0" cy="49.9" r="2.4" fill="#4a94f2" fill-opacity="0.9"/>
<circle cx="617.1" cy="53.2" r="2.4" fill="#4a94f2" fill-opacity="0.9"/>
<circle cx="622.0" cy="51.3" r="2.4" fill="#4a94f2" fill-opacity="0.9"/>
<circle cx="624.5" cy="54.4" r="2.4" fill="#4a94f2" fill-opacity="0.9"/>
<circle cx="630.7" cy="52.6" r="2.4" fill="#4a94f2" fill-opacity="0.9"/>
<circle cx="633.1" cy="54.0" r="2.4" fill="#4a94f2" fill-opacity="0.9"/>
<circle cx="638.8" cy="58.0" r="2.4" fill="#4a94f2" fill-opacity="0.9"/>
<circle cx="641.4" cy="60.6" r="2.4" fill="#4a94f2" fill-opacity="0.9"/>
<circle cx="647.1" cy="63.2" r="2.4" fill="#4a94f2" fill-opacity="0.9"/>
<circle cx="651.0" cy="67.8" r="2.4" fill="#4a94f2" fill-opacity="0.9"/>
<circle cx="653.8" cy="73.1" r="2.4" fill="#4a94f2" fill-opacity="0.9"/>
<circle cx="656.0" cy="75.8" r="2.4" fill="#4a94f2" fill-opacity="0.9"/>
<circle cx="658.4" cy="82.0" r="2.4" fill="#4a94f2" fill-opacity="0.9"/>
<circle cx="660.3" cy="85.3" r="2.4" fill="#4a94f2" fill-opacity="0.9"/>
<circle cx="658.6" cy="95.7" r="2.4" fill="#4a94f2" fill-opacity="0.9"/>
<circle cx="585.9" cy="87.3" r="2.5" fill="#dc1e3c" fill-opacity="0.92"/>
<circle cx="597.3" cy="83.8" r="2.5" fill="#dc1e3c" fill-opacity="0.92"/>
<circle cx="596.4" cy="89.9" r="2.5" fill="#dc1e3c" fill-opacity="0.92"/>
<circle cx="609.2" cy="87.6" r="2.5" fill="#dc1e3c" fill-opacity="0.92"/>
<circle cx="578.0" cy="92.5" r="2.5" fill="#dc1e3c" fill-opacity="0.92"/>
<circle cx="590.3" cy="106.5" r="2.5" fill="#dc1e3c" fill-opacity="0.92"/>
<circle cx="599.0" cy="108.3" r="2.5" fill="#dc1e3c" fill-opacity="0.92"/>
<circle cx="606.0" cy="113.6" r="2.5" fill="#dc1e3c" fill-opacity="0.92"/>
<circle cx="611.6" cy="111.8" r="2.5" fill="#dc1e3c" fill-opacity="0.92"/>
<circle cx="614.4" cy="103.9" r="2.5" fill="#dc1e3c" fill-opacity="0.92"/>
<circle cx="619.2" cy="103.0" r="2.5" fill="#dc1e3c" fill-opacity="0.92"/>
<circle cx="627.9" cy="107.4" r="2.5" fill="#dc1e3c" fill-opacity="0.92"/>
<circle cx="592.0" cy="115.3" r="2.5" fill="#dc1e3c" fill-opacity="0.92"/>
<circle cx="593.8" cy="111.8" r="2.5" fill="#dc1e3c" fill-opacity="0.92"/>
<circle cx="603.4" cy="82.0" r="2.5" fill="#dc1e3c" fill-opacity="0.92"/>
<circle cx="586.8" cy="94.3" r="2.5" fill="#dc1e3c" fill-opacity="0.92"/>
<circle cx="577.1" cy="100.4" r="2.5" fill="#dc1e3c" fill-opacity="0.92"/>
<circle cx="622.7" cy="101.3" r="2.5" fill="#dc1e3c" fill-opacity="0.92"/>
<circle cx="638.4" cy="108.7" r="2.5" fill="#dc1e3c" fill-opacity="0.92"/>
<circle cx="572.8" cy="68.9" r="2.5" fill="#dc1e3c" fill-opacity="0.88"/>
<circle cx="580.6" cy="66.3" r="2.5" fill="#dc1e3c" fill-opacity="0.88"/>
<circle cx="582.4" cy="67.7" r="2.5" fill="#dc1e3c" fill-opacity="0.88"/>
<circle cx="589.4" cy="71.2" r="2.5" fill="#dc1e3c" fill-opacity="0.88"/>
<circle cx="588.5" cy="72.4" r="2.5" fill="#dc1e3c" fill-opacity="0.88"/>
<circle cx="569.3" cy="74.2" r="2.5" fill="#dc1e3c" fill-opacity="0.88"/>
<circle cx="571.0" cy="76.8" r="2.5" fill="#dc1e3c" fill-opacity="0.88"/>
<circle cx="573.6" cy="77.7" r="2.5" fill="#dc1e3c" fill-opacity="0.88"/>
<circle cx="568.4" cy="80.3" r="2.5" fill="#dc1e3c" fill-opacity="0.88"/>
<circle cx="572.8" cy="82.0" r="2.5" fill="#dc1e3c" fill-opacity="0.88"/>
<circle cx="577.1" cy="82.0" r="2.5" fill="#dc1e3c" fill-opacity="0.88"/>
<circle cx="564.0" cy="85.5" r="2.5" fill="#dc1e3c" fill-opacity="0.88"/>
<circle cx="566.6" cy="86.4" r="2.5" fill="#dc1e3c" fill-opacity="0.88"/>
<circle cx="563.1" cy="89.0" r="2.5" fill="#dc1e3c" fill-opacity="0.88"/>
<circle cx="565.8" cy="90.8" r="2.5" fill="#dc1e3c" fill-opacity="0.88"/>
<circle cx="564.0" cy="93.4" r="2.5" fill="#dc1e3c" fill-opacity="0.88"/>
<circle cx="567.5" cy="92.5" r="2.5" fill="#dc1e3c" fill-opacity="0.88"/>
<circle cx="564.9" cy="96.0" r="2.5" fill="#dc1e3c" fill-opacity="0.88"/>
<circle cx="569.3" cy="96.0" r="2.5" fill="#dc1e3c" fill-opacity="0.88"/>
<circle cx="565.8" cy="99.5" r="2.5" fill="#dc1e3c" fill-opacity="0.88"/>
<circle cx="568.4" cy="101.3" r="2.5" fill="#dc1e3c" fill-opacity="0.88"/>
<circle cx="571.0" cy="100.4" r="2.5" fill="#dc1e3c" fill-opacity="0.88"/>
<circle cx="567.5" cy="104.8" r="2.5" fill="#dc1e3c" fill-opacity="0.88"/>
<circle cx="570.1" cy="106.5" r="2.5" fill="#dc1e3c" fill-opacity="0.88"/>
<circle cx="572.8" cy="104.8" r="2.5" fill="#dc1e3c" fill-opacity="0.88"/>
<circle cx="574.5" cy="108.3" r="2.5" fill="#dc1e3c" fill-opacity="0.88"/>
<circle cx="571.0" cy="110.1" r="2.5" fill="#dc1e3c" fill-opacity="0.88"/>
<circle cx="576.3" cy="111.8" r="2.5" fill="#dc1e3c" fill-opacity="0.88"/>
<circle cx="573.6" cy="113.6" r="2.5" fill="#dc1e3c" fill-opacity="0.88"/>
<circle cx="578.0" cy="114.4" r="2.5" fill="#dc1e3c" fill-opacity="0.88"/>
<circle cx="576.3" cy="117.1" r="2.5" fill="#dc1e3c" fill-opacity="0.88"/>
<circle cx="579.8" cy="118.8" r="2.5" fill="#dc1e3c" fill-opacity="0.88"/>
<circle cx="582.4" cy="117.9" r="2.5" fill="#dc1e3c" fill-opacity="0.88"/>
<circle cx="585.0" cy="120.6" r="2.5" fill="#dc1e3c" fill-opacity="0.88"/>
<circle cx="586.8" cy="122.3" r="2.5" fill="#dc1e3c" fill-opacity="0.88"/>
<circle cx="590.3" cy="121.4" r="2.5" fill="#dc1e3c" fill-opacity="0.88"/>
<circle cx="592.9" cy="123.2" r="2.5" fill="#dc1e3c" fill-opacity="0.88"/>
<circle cx="595.5" cy="125.8" r="2.5" fill="#dc1e3c" fill-opacity="0.88"/>
<circle cx="599.0" cy="126.7" r="2.5" fill="#dc1e3c" fill-opacity="0.88"/>
<circle cx="602.5" cy="125.8" r="2.5" fill="#dc1e3c" fill-opacity="0.88"/>
<circle cx="606.0" cy="127.6" r="2.5" fill="#dc1e3c" fill-opacity="0.88"/>
<circle cx="609.5" cy="128.4" r="2.5" fill="#dc1e3c" fill-opacity="0.88"/>
<circle cx="612.2" cy="126.7" r="2.5" fill="#dc1e3c" fill-opacity="0.88"/>
<circle cx="615.7" cy="124.1" r="2.5" fill="#dc1e3c" fill-opacity="0.88"/>
<circle cx="614.8" cy="120.6" r="2.5" fill="#dc1e3c" fill-opacity="0.88"/>
<circle cx="616.5" cy="119.7" r="2.5" fill="#dc1e3c" fill-opacity="0.88"/>
<circle cx="620.9" cy="121.4" r="2.5" fill="#dc1e3c" fill-opacity="0.88"/>
<circle cx="621.8" cy="129.3" r="2.5" fill="#dc1e3c" fill-opacity="0.88"/>
<circle cx="627.9" cy="124.9" r="2.5" fill="#dc1e3c" fill-opacity="0.88"/>
<circle cx="632.3" cy="122.3" r="2.5" fill="#dc1e3c" fill-opacity="0.88"/>
<circle cx="634.1" cy="120.6" r="2.5" fill="#dc1e3c" fill-opacity="0.88"/>
<circle cx="636.7" cy="115.3" r="2.5" fill="#dc1e3c" fill-opacity="0.88"/>
<circle cx="574.5" cy="115.3" r="2.5" fill="#dc1e3c" fill-opacity="0.88"/>
<circle cx="580.6" cy="121.4" r="2.5" fill="#dc1e3c" fill-opacity="0.88"/>
<circle cx="584.2" cy="117.1" r="2.5" fill="#dc1e3c" fill-opacity="0.88"/>
<circle cx="596.4" cy="122.3" r="2.5" fill="#dc1e3c" fill-opacity="0.88"/>
<circle cx="604.3" cy="122.3" r="2.5" fill="#dc1e3c" fill-opacity="0.88"/>
<circle cx="607.8" cy="124.1" r="2.5" fill="#dc1e3c" fill-opacity="0.88"/>
<circle cx="600.8" cy="123.2" r="2.5" fill="#dc1e3c" fill-opacity="0.88"/>
<circle cx="589.4" cy="118.8" r="2.5" fill="#dc1e3c" fill-opacity="0.88"/>
<circle cx="567.5" cy="83.8" r="2.5" fill="#dc1e3c" fill-opacity="0.88"/>
<circle cx="562.3" cy="92.5" r="2.5" fill="#dc1e3c" fill-opacity="0.88"/>
<circle cx="566.6" cy="108.3" r="2.5" fill="#dc1e3c" fill-opacity="0.88"/>
<circle cx="577.1" cy="105.7" r="2.5" fill="#dc1e3c" fill-opacity="0.88"/>
<circle cx="571.9" cy="116.2" r="2.5" fill="#dc1e3c" fill-opacity="0.88"/>
<circle cx="578.9" cy="109.2" r="2.5" fill="#dc1e3c" fill-opacity="0.88"/>
<circle cx="581.5" cy="113.6" r="2.5" fill="#dc1e3c" fill-opacity="0.88"/>
<circle cx="592.0" cy="119.7" r="2.5" fill="#dc1e3c" fill-opacity="0.88"/>
<circle cx="598.2" cy="119.7" r="2.5" fill="#dc1e3c" fill-opacity="0.88"/>
</g>
<rect x="557.7" y="150.0" width="107.3" height="8.6" fill="url(#cb)"/>
<text x="557.70" y="171.00" font-size="11.22" text-anchor="middle" textLength="17.49" lengthAdjust="spacingAndGlyphs">0.0</text>
<text x="611.30" y="171.00" font-size="11.22" text-anchor="middle" textLength="17.49" lengthAdjust="spacingAndGlyphs">0.5</text>
<text x="664.80" y="171.00" font-size="11.22" text-anchor="middle" textLength="17.49" lengthAdjust="spacingAndGlyphs">1.0</text>
<text x="611.30" y="189.30" font-size="11.22" text-anchor="middle" textLength="111.42" lengthAdjust="spacingAndGlyphs">Presence Probability</text>
<text x="2.80" y="226.20" font-size="14.3" font-weight="bold" style="fill:#000;stroke:#000;stroke-width:0.6px" textLength="9.84" lengthAdjust="spacingAndGlyphs">E</text>
<text x="102.80" y="231.60" font-size="11.22" text-anchor="middle" textLength="107.82" lengthAdjust="spacingAndGlyphs">Sample simulations</text>
<g fill="none" stroke="#708090" stroke-width="0.7" stroke-opacity="0.38">
<path d="M54.4 337.6 L58.6 344.9 L62.9 352.7 L64.6 355.9 L67.1 348.8 L71.3 337.6 L73.1 324.9 L74.9 314.7 L76.7 306.5 L78.4 299.7 L80.2 293.8 L82.0 288.7 L83.8 284.2 L85.5 280.0 L87.3 276.2 L89.1 272.9 L90.9 270.1 L92.6 268.0 L94.4 266.7 L96.2 266.1 L98.0 265.9 L99.7 266.0 L101.5 266.4 L103.3 267.0 L105.1 267.8 L106.8 268.8 L108.6 269.9 L110.4 271.0 L112.2 272.1 L113.9 273.1 L115.7 274.2 L117.5 275.1 L119.3 276.0 L121.0 276.7 L122.8 277.4 L124.6 277.9 L126.4 278.4 L128.1 278.8 L129.9 279.1 L131.7 279.3 L133.5 279.5 L135.2 279.6 L137.0 279.7 L138.8 279.8 L140.6 279.9 L142.3 279.9 L144.1 279.9 L145.9 280.0 L147.7 280.0 L149.4 280.0 L151.2 280.0"/>
<path d="M54.4 337.6 L58.6 343.4 L62.9 349.7 L64.6 352.2 L67.1 346.5 L71.3 337.6 L73.1 336.7 L74.9 335.9 L76.7 335.2 L78.4 334.6 L80.2 334.0 L82.0 333.5 L83.8 332.9 L85.5 332.4 L87.3 331.9 L89.1 331.6 L90.9 331.3 L92.6 331.2 L94.4 331.1 L96.2 331.1 L98.0 331.2 L99.7 331.3 L101.5 331.4 L103.3 331.6 L105.1 331.8 L106.8 332.0 L108.6 332.2 L110.4 332.4 L112.2 332.6 L113.9 332.8 L115.7 332.9 L117.5 333.1 L119.3 333.2 L121.0 333.3 L122.8 333.4 L124.6 333.5 L126.4 333.5 L128.1 333.6 L129.9 333.6 L131.7 333.7 L133.5 333.7 L135.2 333.7 L137.0 333.7 L138.8 333.7 L140.6 333.7 L142.3 333.7 L144.1 333.7 L145.9 333.7 L147.7 333.7 L149.4 333.7 L151.2 333.7"/>
<path d="M54.4 337.6 L58.6 346.8 L62.9 356.6 L64.6 360.6 L67.1 351.6 L71.3 337.6 L73.1 336.6 L74.9 335.8 L76.7 334.9 L78.4 334.0 L80.2 333.1 L82.0 332.1 L83.8 331.2 L85.5 330.3 L87.3 329.5 L89.1 328.9 L90.9 328.5 L92.6 328.4 L94.4 328.4 L96.2 328.5 L98.0 328.8 L99.7 329.0 L101.5 329.4 L103.3 329.7 L105.1 330.2 L106.8 330.6 L108.6 331.0 L110.4 331.4 L112.2 331.8 L113.9 332.2 L115.7 332.5 L117.5 332.8 L119.3 333.1 L121.0 333.3 L122.8 333.5 L124.6 333.6 L126.4 333.7 L128.1 333.8 L129.9 333.9 L131.7 334.0 L133.5 334.0 L135.2 334.0 L137.0 334.1 L138.8 334.1 L140.6 334.1 L142.3 334.1 L144.1 334.1 L145.9 334.1 L147.7 334.1 L149.4 334.1 L151.2 334.1"/>
<path d="M54.4 337.6 L58.6 350.1 L62.9 363.6 L64.6 369.1 L67.1 356.8 L71.3 337.6 L73.1 330.3 L74.9 324.2 L76.7 319.0 L78.4 314.5 L80.2 310.4 L82.0 306.7 L83.8 303.4 L85.5 300.6 L87.3 298.3 L89.1 296.7 L90.9 295.7 L92.6 295.2 L94.4 295.1 L96.2 295.2 L98.0 295.6 L99.7 296.1 L101.5 296.8 L103.3 297.6 L105.1 298.5 L106.8 299.4 L108.6 300.3 L110.4 301.2 L112.2 302.0 L113.9 302.7 L115.7 303.4 L117.5 304.0 L119.3 304.5 L121.0 304.9 L122.8 305.3 L124.6 305.6 L126.4 305.8 L128.1 306.0 L129.9 306.1 L131.7 306.2 L133.5 306.3 L135.2 306.4 L137.0 306.4 L138.8 306.4 L140.6 306.4 L142.3 306.5 L144.1 306.5 L145.9 306.5 L147.7 306.5 L149.4 306.5 L151.2 306.5"/>
<path d="M54.4 337.6 L58.6 347.1 L62.9 357.3 L64.6 361.4 L67.1 352.2 L71.3 337.6 L73.1 331.3 L74.9 326.3 L76.7 322.2 L78.4 318.8 L80.2 315.8 L82.0 313.3 L83.8 311.0 L85.5 309.0 L87.3 307.2 L89.1 305.8 L90.9 304.7 L92.6 303.9 L94.4 303.6 L96.2 303.4 L98.0 303.4 L99.7 303.5 L101.5 303.8 L103.3 304.1 L105.1 304.5 L106.8 305.0 L108.6 305.5 L110.4 306.0 L112.2 306.5 L113.9 306.9 L115.7 307.3 L117.5 307.7 L119.3 308.1 L121.0 308.3 L122.8 308.6 L124.6 308.8 L126.4 309.0 L128.1 309.1 L129.9 309.2 L131.7 309.3 L133.5 309.4 L135.2 309.4 L137.0 309.4 L138.8 309.5 L140.6 309.5 L142.3 309.5 L144.1 309.5 L145.9 309.5 L147.7 309.5 L149.4 309.5 L151.2 309.5"/>
<path d="M54.4 337.6 L58.6 349.9 L62.9 363.1 L64.6 368.4 L67.1 356.4 L71.3 337.6 L73.1 328.8 L74.9 321.8 L76.7 316.2 L78.4 311.6 L80.2 307.7 L82.0 304.5 L83.8 301.7 L85.5 299.3 L87.3 297.3 L89.1 295.6 L90.9 294.4 L92.6 293.5 L94.4 293.1 L96.2 292.8 L98.0 292.7 L99.7 292.7 L101.5 292.9 L103.3 293.2 L105.1 293.5 L106.8 293.9 L108.6 294.3 L110.4 294.8 L112.2 295.2 L113.9 295.6 L115.7 295.9 L117.5 296.3 L119.3 296.6 L121.0 296.8 L122.8 297.0 L124.6 297.2 L126.4 297.4 L128.1 297.5 L129.9 297.6 L131.7 297.7 L133.5 297.7 L135.2 297.8 L137.0 297.8 L138.8 297.8 L140.6 297.8 L142.3 297.8 L144.1 297.8 L145.9 297.8 L147.7 297.8 L149.4 297.8 L151.2 297.8"/>
<path d="M54.4 337.6 L58.6 340.9 L62.9 344.5 L64.6 346.0 L67.1 342.7 L71.3 337.6 L73.1 326.8 L74.9 318.0 L76.7 310.8 L78.4 304.7 L80.2 299.5 L82.0 294.8 L83.8 290.5 L85.5 286.7 L87.3 283.3 L89.1 280.4 L90.9 278.2 L92.6 276.6 L94.4 275.9 L96.2 275.6 L98.0 275.6 L99.7 275.9 L101.5 276.4 L103.3 277.2 L105.1 278.0 L106.8 279.0 L108.6 280.1 L110.4 281.1 L112.2 282.2 L113.9 283.2 L115.7 284.1 L117.5 284.9 L119.3 285.7 L121.0 286.3 L122.8 286.9 L124.6 287.4 L126.4 287.7 L128.1 288.1 L129.9 288.3 L131.7 288.5 L133.5 288.6 L135.2 288.7 L137.0 288.8 L138.8 288.9 L140.6 288.9 L142.3 288.9 L144.1 289.0 L145.9 289.0 L147.7 289.0 L149.4 289.0 L151.2 289.0"/>
<path d="M54.4 337.6 L58.6 347.5 L62.9 358.2 L64.6 362.5 L67.1 352.8 L71.3 337.6 L73.1 324.0 L74.9 313.2 L76.7 304.7 L78.4 298.0 L80.2 292.5 L82.0 288.0 L83.8 284.4 L85.5 281.3 L87.3 278.8 L89.1 276.7 L90.9 275.1 L92.6 273.9 L94.4 273.0 L96.2 272.5 L98.0 272.1 L99.7 272.0 L101.5 271.9 L103.3 272.0 L105.1 272.1 L106.8 272.3 L108.6 272.6 L110.4 272.8 L112.2 273.1 L113.9 273.4 L115.7 273.7 L117.5 273.9 L119.3 274.1 L121.0 274.3 L122.8 274.5 L124.6 274.7 L126.4 274.8 L128.1 274.9 L129.9 275.0 L131.7 275.0 L133.5 275.1 L135.2 275.1 L137.0 275.1 L138.8 275.2 L140.6 275.2 L142.3 275.2 L144.1 275.2 L145.9 275.2 L147.7 275.2 L149.4 275.2 L151.2 275.2"/>
<path d="M54.4 337.6 L58.6 340.6 L62.9 343.8 L64.6 345.1 L67.1 342.2 L71.3 337.6 L73.1 329.6 L74.9 323.2 L76.7 318.0 L78.4 313.8 L80.2 310.1 L82.0 307.0 L83.8 304.3 L85.5 301.9 L87.3 299.8 L89.1 298.1 L90.9 296.8 L92.6 295.8 L94.4 295.4 L96.2 295.1 L98.0 295.1 L99.7 295.2 L101.5 295.4 L103.3 295.8 L105.1 296.2 L106.8 296.7 L108.6 297.2 L110.4 297.7 L112.2 298.2 L113.9 298.7 L115.7 299.2 L117.5 299.6 L119.3 300.0 L121.0 300.3 L122.8 300.6 L124.6 300.8 L126.4 301.0 L128.1 301.1 L129.9 301.2 L131.7 301.3 L133.5 301.4 L135.2 301.5 L137.0 301.5 L138.8 301.5 L140.6 301.5 L142.3 301.6 L144.1 301.6 L145.9 301.6 L147.7 301.6 L149.4 301.6 L151.2 301.6"/>
<path d="M54.4 337.6 L58.6 339.9 L62.9 342.3 L64.6 343.3 L67.1 341.1 L71.3 337.6 L73.1 324.8 L74.9 314.5 L76.7 306.2 L78.4 299.4 L80.2 293.6 L82.0 288.8 L83.8 284.7 L85.5 281.2 L87.3 278.3 L89.1 276.0 L90.9 274.4 L92.6 273.3 L94.4 272.7 L96.2 272.4 L98.0 272.4 L99.7 272.5 L101.5 272.9 L103.3 273.3 L105.1 273.8 L106.8 274.4 L108.6 275.1 L110.4 275.7 L112.2 276.3 L113.9 276.8 L115.7 277.4 L117.5 277.8 L119.3 278.2 L121.0 278.6 L122.8 278.9 L124.6 279.1 L126.4 279.3 L128.1 279.5 L129.9 279.6 L131.7 279.7 L133.5 279.7 L135.2 279.8 L137.0 279.8 L138.8 279.9 L140.6 279.9 L142.3 279.9 L144.1 279.9 L145.9 279.9 L147.7 279.9 L149.4 279.9 L151.2 279.9"/>
<path d="M54.4 337.6 L58.6 341.0 L62.9 344.7 L64.6 346.2 L67.1 342.9 L71.3 337.6 L73.1 330.5 L74.9 324.8 L76.7 320.1 L78.4 316.1 L80.2 312.7 L82.0 309.7 L83.8 306.9 L85.5 304.4 L87.3 302.0 L89.1 300.0 L90.9 298.3 L92.6 297.0 L94.4 296.3 L96.2 296.0 L98.0 295.9 L99.7 296.0 L101.5 296.4 L103.3 296.8 L105.1 297.4 L106.8 298.1 L108.6 298.8 L110.4 299.5 L112.2 300.3 L113.9 301.0 L115.7 301.7 L117.5 302.3 L119.3 302.9 L121.0 303.4 L122.8 303.8 L124.6 304.2 L126.4 304.5 L128.1 304.7 L129.9 304.9 L131.7 305.1 L133.5 305.2 L135.2 305.3 L137.0 305.3 L138.8 305.4 L140.6 305.4 L142.3 305.5 L144.1 305.5 L145.9 305.5 L147.7 305.5 L149.4 305.5 L151.2 305.5"/>
<path d="M54.4 337.6 L58.6 344.8 L62.9 352.4 L64.6 355.6 L67.1 348.6 L71.3 337.6 L73.1 324.6 L74.9 313.9 L76.7 305.2 L78.4 297.8 L80.2 291.5 L82.0 286.1 L83.8 281.5 L85.5 277.6 L87.3 274.6 L89.1 272.4 L90.9 271.1 L92.6 270.3 L94.4 270.0 L96.2 269.9 L98.0 270.1 L99.7 270.6 L101.5 271.2 L103.3 272.0 L105.1 272.8 L106.8 273.6 L108.6 274.5 L110.4 275.3 L112.2 276.1 L113.9 276.8 L115.7 277.5 L117.5 278.0 L119.3 278.5 L121.0 278.9 L122.8 279.3 L124.6 279.5 L126.4 279.7 L128.1 279.9 L129.9 280.0 L131.7 280.1 L133.5 280.2 L135.2 280.3 L137.0 280.3 L138.8 280.3 L140.6 280.3 L142.3 280.3 L144.1 280.4 L145.9 280.4 L147.7 280.4 L149.4 280.4 L151.2 280.4"/>
<path d="M54.4 337.6 L58.6 339.0 L62.9 340.5 L64.6 341.1 L67.1 339.7 L71.3 337.6 L73.1 337.2 L74.9 336.8 L76.7 336.3 L78.4 335.8 L80.2 335.2 L82.0 334.5 L83.8 333.8 L85.5 333.1 L87.3 332.5 L89.1 332.1 L90.9 331.8 L92.6 331.7 L94.4 331.7 L96.2 331.8 L98.0 332.0 L99.7 332.2 L101.5 332.5 L103.3 332.8 L105.1 333.2 L106.8 333.6 L108.6 333.9 L110.4 334.3 L112.2 334.6 L113.9 334.9 L115.7 335.2 L117.5 335.5 L119.3 335.7 L121.0 335.9 L122.8 336.0 L124.6 336.1 L126.4 336.2 L128.1 336.3 L129.9 336.4 L131.7 336.4 L133.5 336.5 L135.2 336.5 L137.0 336.5 L138.8 336.5 L140.6 336.5 L142.3 336.5 L144.1 336.6 L145.9 336.6 L147.7 336.6 L149.4 336.6 L151.2 336.6"/>
<path d="M54.4 337.6 L58.6 343.3 L62.9 349.4 L64.6 351.9 L67.1 346.3 L71.3 337.6 L73.1 331.6 L74.9 326.6 L76.7 322.5 L78.4 318.8 L80.2 315.6 L82.0 312.6 L83.8 309.9 L85.5 307.4 L87.3 305.2 L89.1 303.5 L90.9 302.2 L92.6 301.5 L94.4 301.3 L96.2 301.2 L98.0 301.4 L99.7 301.8 L101.5 302.3 L103.3 302.9 L105.1 303.6 L106.8 304.4 L108.6 305.2 L110.4 306.0 L112.2 306.7 L113.9 307.4 L115.7 308.1 L117.5 308.6 L119.3 309.1 L121.0 309.6 L122.8 309.9 L124.6 310.3 L126.4 310.5 L128.1 310.7 L129.9 310.8 L131.7 311.0 L133.5 311.1 L135.2 311.1 L137.0 311.2 L138.8 311.2 L140.6 311.2 L142.3 311.2 L144.1 311.3 L145.9 311.3 L147.7 311.3 L149.4 311.3 L151.2 311.3"/>
<path d="M54.4 337.6 L58.6 348.0 L62.9 359.1 L64.6 363.7 L67.1 353.5 L71.3 337.6 L73.1 328.9 L74.9 322.0 L76.7 316.5 L78.4 312.1 L80.2 308.5 L82.0 305.5 L83.8 302.9 L85.5 300.7 L87.3 298.8 L89.1 297.2 L90.9 295.8 L92.6 294.7 L94.4 294.0 L96.2 293.5 L98.0 293.3 L99.7 293.2 L101.5 293.3 L103.3 293.4 L105.1 293.6 L106.8 293.9 L108.6 294.2 L110.4 294.6 L112.2 295.0 L113.9 295.4 L115.7 295.7 L117.5 296.0 L119.3 296.3 L121.0 296.6 L122.8 296.8 L124.6 297.0 L126.4 297.2 L128.1 297.4 L129.9 297.5 L131.7 297.6 L133.5 297.6 L135.2 297.7 L137.0 297.7 L138.8 297.7 L140.6 297.8 L142.3 297.8 L144.1 297.8 L145.9 297.8 L147.7 297.8 L149.4 297.8 L151.2 297.8"/>
<path d="M54.4 337.6 L58.6 340.9 L62.9 344.3 L64.6 345.8 L67.1 342.6 L71.3 337.6 L73.1 326.8 L74.9 318.2 L76.7 311.2 L78.4 305.5 L80.2 300.7 L82.0 296.6 L83.8 293.0 L85.5 289.9 L87.3 287.2 L89.1 284.8 L90.9 283.0 L92.6 281.7 L94.4 280.9 L96.2 280.5 L98.0 280.4 L99.7 280.4 L101.5 280.7 L103.3 281.1 L105.1 281.6 L106.8 282.2 L108.6 282.8 L110.4 283.5 L112.2 284.2 L113.9 284.8 L115.7 285.4 L117.5 285.9 L119.3 286.4 L121.0 286.9 L122.8 287.2 L124.6 287.5 L126.4 287.8 L128.1 288.0 L129.9 288.2 L131.7 288.3 L133.5 288.4 L135.2 288.5 L137.0 288.5 L138.8 288.6 L140.6 288.6 L142.3 288.6 L144.1 288.6 L145.9 288.6 L147.7 288.6 L149.4 288.6 L151.2 288.6"/>
<path d="M54.4 337.6 L58.6 346.5 L62.9 356.1 L64.6 360.0 L67.1 351.3 L71.3 337.6 L73.1 335.8 L74.9 334.4 L76.7 333.2 L78.4 332.0 L80.2 331.0 L82.0 330.0 L83.8 329.1 L85.5 328.1 L87.3 327.2 L89.1 326.5 L90.9 325.8 L92.6 325.4 L94.4 325.2 L96.2 325.2 L98.0 325.2 L99.7 325.3 L101.5 325.5 L103.3 325.8 L105.1 326.1 L106.8 326.5 L108.6 326.8 L110.4 327.2 L112.2 327.5 L113.9 327.9 L115.7 328.2 L117.5 328.5 L119.3 328.8 L121.0 329.0 L122.8 329.2 L124.6 329.3 L126.4 329.5 L128.1 329.6 L129.9 329.7 L131.7 329.7 L133.5 329.8 L135.2 329.8 L137.0 329.9 L138.8 329.9 L140.6 329.9 L142.3 329.9 L144.1 329.9 L145.9 329.9 L147.7 329.9 L149.4 329.9 L151.2 329.9"/>
<path d="M54.4 337.6 L58.6 343.2 L62.9 349.1 L64.6 351.6 L67.1 346.1 L71.3 337.6 L73.1 325.1 L74.9 315.2 L76.7 307.4 L78.4 301.0 L80.2 295.8 L82.0 291.6 L83.8 287.9 L85.5 284.9 L87.3 282.2 L89.1 280.0 L90.9 278.3 L92.6 276.9 L94.4 276.0 L96.2 275.5 L98.0 275.2 L99.7 275.1 L101.5 275.1 L103.3 275.3 L105.1 275.6 L106.8 276.0 L108.6 276.4 L110.4 276.8 L112.2 277.2 L113.9 277.7 L115.7 278.1 L117.5 278.5 L119.3 278.8 L121.0 279.1 L122.8 279.4 L124.6 279.6 L126.4 279.8 L128.1 280.0 L129.9 280.1 L131.7 280.2 L133.5 280.3 L135.2 280.3 L137.0 280.4 L138.8 280.4 L140.6 280.4 L142.3 280.4 L144.1 280.4 L145.9 280.5 L147.7 280.5 L149.4 280.5 L151.2 280.5"/>
<path d="M54.4 337.6 L58.6 346.2 L62.9 355.5 L64.6 359.2 L67.1 350.8 L71.3 337.6 L73.1 331.4 L74.9 326.3 L76.7 322.0 L78.4 318.3 L80.2 315.0 L82.0 312.2 L83.8 309.6 L85.5 307.3 L87.3 305.4 L89.1 304.0 L90.9 303.0 L92.6 302.5 L94.4 302.3 L96.2 302.3 L98.0 302.4 L99.7 302.8 L101.5 303.2 L103.3 303.8 L105.1 304.4 L106.8 305.0 L108.6 305.6 L110.4 306.3 L112.2 306.9 L113.9 307.4 L115.7 307.9 L117.5 308.4 L119.3 308.8 L121.0 309.1 L122.8 309.4 L124.6 309.6 L126.4 309.8 L128.1 310.0 L129.9 310.1 L131.7 310.2 L133.5 310.2 L135.2 310.3 L137.0 310.3 L138.8 310.3 L140.6 310.3 L142.3 310.4 L144.1 310.4 L145.9 310.4 L147.7 310.4 L149.4 310.4 L151.2 310.4"/>
<path d="M54.4 337.6 L58.6 348.9 L62.9 361.0 L64.6 366.0 L67.1 354.9 L71.3 337.6 L73.1 321.8 L74.9 309.2 L76.7 298.9 L78.4 290.4 L80.2 283.1 L82.0 276.7 L83.8 271.1 L85.5 266.2 L87.3 261.9 L89.1 258.3 L90.9 255.5 L92.6 253.6 L94.4 252.6 L96.2 252.2 L98.0 252.1 L99.7 252.4 L101.5 252.9 L103.3 253.7 L105.1 254.7 L106.8 255.7 L108.6 256.9 L110.4 258.1 L112.2 259.2 L113.9 260.3 L115.7 261.3 L117.5 262.2 L119.3 263.0 L121.0 263.8 L122.8 264.4 L124.6 264.9 L126.4 265.3 L128.1 265.6 L129.9 265.9 L131.7 266.1 L133.5 266.2 L135.2 266.4 L137.0 266.4 L138.8 266.5 L140.6 266.6 L142.3 266.6 L144.1 266.6 L145.9 266.6 L147.7 266.6 L149.4 266.6 L151.2 266.6"/>
<path d="M54.4 337.6 L58.6 343.3 L62.9 349.5 L64.6 352.0 L67.1 346.4 L71.3 337.6 L73.1 326.0 L74.9 316.6 L76.7 308.8 L78.4 302.2 L80.2 296.3 L82.0 291.2 L83.8 286.6 L85.5 282.5 L87.3 279.1 L89.1 276.4 L90.9 274.5 L92.6 273.4 L94.4 272.9 L96.2 272.8 L98.0 273.0 L99.7 273.5 L101.5 274.2 L103.3 275.1 L105.1 276.1 L106.8 277.1 L108.6 278.2 L110.4 279.3 L112.2 280.4 L113.9 281.3 L115.7 282.2 L117.5 283.0 L119.3 283.7 L121.0 284.3 L122.8 284.8 L124.6 285.2 L126.4 285.6 L128.1 285.8 L129.9 286.0 L131.7 286.2 L133.5 286.3 L135.2 286.4 L137.0 286.5 L138.8 286.5 L140.6 286.5 L142.3 286.6 L144.1 286.6 L145.9 286.6 L147.7 286.6 L149.4 286.6 L151.2 286.6"/>
<path d="M54.4 337.6 L58.6 342.2 L62.9 347.1 L64.6 349.1 L67.1 344.6 L71.3 337.6 L73.1 329.9 L74.9 323.6 L76.7 318.4 L78.4 314.0 L80.2 310.0 L82.0 306.5 L83.8 303.2 L85.5 300.2 L87.3 297.5 L89.1 295.3 L90.9 293.5 L92.6 292.3 L94.4 291.8 L96.2 291.6 L98.0 291.7 L99.7 292.0 L101.5 292.5 L103.3 293.1 L105.1 293.9 L106.8 294.8 L108.6 295.7 L110.4 296.6 L112.2 297.5 L113.9 298.3 L115.7 299.1 L117.5 299.9 L119.3 300.5 L121.0 301.0 L122.8 301.5 L124.6 301.9 L126.4 302.2 L128.1 302.5 L129.9 302.7 L131.7 302.9 L133.5 303.0 L135.2 303.1 L137.0 303.1 L138.8 303.2 L140.6 303.2 L142.3 303.2 L144.1 303.3 L145.9 303.3 L147.7 303.3 L149.4 303.3 L151.2 303.3"/>
<path d="M54.4 337.6 L58.6 346.5 L62.9 356.0 L64.6 359.9 L67.1 351.2 L71.3 337.6 L73.1 337.6 L74.9 337.5 L76.7 337.5 L78.4 337.4 L80.2 337.2 L82.0 337.0 L83.8 336.8 L85.5 336.6 L87.3 336.3 L89.1 336.0 L90.9 335.7 L92.6 335.4 L94.4 335.2 L96.2 335.1 L98.0 335.1 L99.7 335.1 L101.5 335.2 L103.3 335.3 L105.1 335.4 L106.8 335.6 L108.6 335.7 L110.4 335.9 L112.2 336.1 L113.9 336.3 L115.7 336.5 L117.5 336.6 L119.3 336.8 L121.0 336.9 L122.8 337.0 L124.6 337.1 L126.4 337.2 L128.1 337.3 L129.9 337.3 L131.7 337.4 L133.5 337.4 L135.2 337.5 L137.0 337.5 L138.8 337.5 L140.6 337.5 L142.3 337.5 L144.1 337.5 L145.9 337.5 L147.7 337.5 L149.4 337.5 L151.2 337.5"/>
<path d="M54.4 337.6 L58.6 351.4 L62.9 366.2 L64.6 372.2 L67.1 358.7 L71.3 337.6 L73.1 323.1 L74.9 311.5 L76.7 302.2 L78.4 294.7 L80.2 288.4 L82.0 283.2 L83.8 278.7 L85.5 274.8 L87.3 271.5 L89.1 268.7 L90.9 266.6 L92.6 265.0 L94.4 264.1 L96.2 263.6 L98.0 263.3 L99.7 263.3 L101.5 263.6 L103.3 263.9 L105.1 264.4 L106.8 265.0 L108.6 265.7 L110.4 266.3 L112.2 267.0 L113.9 267.7 L115.7 268.3 L117.5 268.8 L119.3 269.3 L121.0 269.7 L122.8 270.1 L124.6 270.4 L126.4 270.7 L128.1 270.9 L129.9 271.0 L131.7 271.2 L133.5 271.3 L135.2 271.3 L137.0 271.4 L138.8 271.4 L140.6 271.5 L142.3 271.5 L144.1 271.5 L145.9 271.5 L147.7 271.5 L149.4 271.5 L151.2 271.5"/>
<path d="M54.4 337.6 L58.6 343.4 L62.9 349.6 L64.6 352.1 L67.1 346.4 L71.3 337.6 L73.1 324.7 L74.9 314.4 L76.7 306.2 L78.4 299.6 L80.2 294.1 L82.0 289.6 L83.8 285.8 L85.5 282.6 L87.3 280.0 L89.1 277.8 L90.9 276.1 L92.6 274.9 L94.4 274.2 L96.2 273.8 L98.0 273.5 L99.7 273.5 L101.5 273.6 L103.3 273.8 L105.1 274.2 L106.8 274.5 L108.6 274.9 L110.4 275.4 L112.2 275.8 L113.9 276.2 L115.7 276.6 L117.5 277.0 L119.3 277.3 L121.0 277.6 L122.8 277.8 L124.6 278.0 L126.4 278.2 L128.1 278.3 L129.9 278.4 L131.7 278.5 L133.5 278.5 L135.2 278.6 L137.0 278.6 L138.8 278.6 L140.6 278.7 L142.3 278.7 L144.1 278.7 L145.9 278.7 L147.7 278.7 L149.4 278.7 L151.2 278.7"/>
<path d="M54.4 337.6 L58.6 339.7 L62.9 342.0 L64.6 342.9 L67.1 340.9 L71.3 337.6 L73.1 323.9 L74.9 312.9 L76.7 303.8 L78.4 296.2 L80.2 289.7 L82.0 283.9 L83.8 278.7 L85.5 274.1 L87.3 270.0 L89.1 266.6 L90.9 264.0 L92.6 262.2 L94.4 261.3 L96.2 261.0 L98.0 261.0 L99.7 261.3 L101.5 262.0 L103.3 262.8 L105.1 263.8 L106.8 264.9 L108.6 266.1 L110.4 267.3 L112.2 268.5 L113.9 269.7 L115.7 270.7 L117.5 271.7 L119.3 272.5 L121.0 273.2 L122.8 273.9 L124.6 274.4 L126.4 274.8 L128.1 275.2 L129.9 275.4 L131.7 275.6 L133.5 275.8 L135.2 275.9 L137.0 276.0 L138.8 276.1 L140.6 276.1 L142.3 276.1 L144.1 276.2 L145.9 276.2 L147.7 276.2 L149.4 276.2 L151.2 276.2"/>
<path d="M54.4 337.6 L58.6 345.4 L62.9 353.8 L64.6 357.2 L67.1 349.6 L71.3 337.6 L73.1 333.4 L74.9 329.9 L76.7 327.0 L78.4 324.5 L80.2 322.3 L82.0 320.3 L83.8 318.6 L85.5 317.2 L87.3 316.0 L89.1 315.1 L90.9 314.5 L92.6 314.2 L94.4 314.1 L96.2 314.1 L98.0 314.2 L99.7 314.4 L101.5 314.7 L103.3 315.1 L105.1 315.5 L106.8 315.9 L108.6 316.3 L110.4 316.7 L112.2 317.0 L113.9 317.4 L115.7 317.7 L117.5 318.0 L119.3 318.2 L121.0 318.4 L122.8 318.6 L124.6 318.7 L126.4 318.8 L128.1 318.9 L129.9 319.0 L131.7 319.0 L133.5 319.0 L135.2 319.1 L137.0 319.1 L138.8 319.1 L140.6 319.1 L142.3 319.1 L144.1 319.1 L145.9 319.1 L147.7 319.1 L149.4 319.1 L151.2 319.1"/>
<path d="M54.4 337.6 L58.6 344.0 L62.9 350.8 L64.6 353.5 L67.1 347.3 L71.3 337.6 L73.1 324.1 L74.9 313.4 L76.7 305.0 L78.4 298.2 L80.2 292.6 L82.0 288.0 L83.8 284.1 L85.5 280.8 L87.3 277.9 L89.1 275.3 L90.9 273.2 L92.6 271.5 L94.4 270.3 L96.2 269.5 L98.0 269.1 L99.7 269.0 L101.5 269.0 L103.3 269.2 L105.1 269.5 L106.8 269.9 L108.6 270.4 L110.4 270.9 L112.2 271.4 L113.9 272.0 L115.7 272.5 L117.5 273.0 L119.3 273.5 L121.0 273.9 L122.8 274.2 L124.6 274.6 L126.4 274.8 L128.1 275.0 L129.9 275.2 L131.7 275.3 L133.5 275.5 L135.2 275.5 L137.0 275.6 L138.8 275.6 L140.6 275.7 L142.3 275.7 L144.1 275.7 L145.9 275.7 L147.7 275.7 L149.4 275.7 L151.2 275.7"/>
<path d="M54.4 337.6 L58.6 342.5 L62.9 347.8 L64.6 349.9 L67.1 345.1 L71.3 337.6 L73.1 337.5 L74.9 337.4 L76.7 337.3 L78.4 337.2 L80.2 337.0 L82.0 336.8 L83.8 336.6 L85.5 336.4 L87.3 336.2 L89.1 336.1 L90.9 336.0 L92.6 336.0 L94.4 336.0 L96.2 336.0 L98.0 336.1 L99.7 336.1 L101.5 336.2 L103.3 336.3 L105.1 336.4 L106.8 336.5 L108.6 336.6 L110.4 336.7 L112.2 336.8 L113.9 336.9 L115.7 337.0 L117.5 337.1 L119.3 337.1 L121.0 337.2 L122.8 337.2 L124.6 337.3 L126.4 337.3 L128.1 337.3 L129.9 337.3 L131.7 337.4 L133.5 337.4 L135.2 337.4 L137.0 337.4 L138.8 337.4 L140.6 337.4 L142.3 337.4 L144.1 337.4 L145.9 337.4 L147.7 337.4 L149.4 337.4 L151.2 337.4"/>
<path d="M54.4 337.6 L58.6 344.1 L62.9 351.0 L64.6 353.8 L67.1 347.5 L71.3 337.6 L73.1 323.6 L74.9 312.5 L76.7 303.6 L78.4 296.4 L80.2 290.3 L82.0 285.2 L83.8 280.7 L85.5 276.8 L87.3 273.4 L89.1 270.4 L90.9 267.9 L92.6 266.0 L94.4 264.8 L96.2 264.1 L98.0 263.8 L99.7 263.8 L101.5 264.0 L103.3 264.4 L105.1 265.0 L106.8 265.7 L108.6 266.4 L110.4 267.2 L112.2 268.1 L113.9 268.8 L115.7 269.6 L117.5 270.3 L119.3 270.9 L121.0 271.5 L122.8 272.0 L124.6 272.4 L126.4 272.7 L128.1 273.0 L129.9 273.3 L131.7 273.4 L133.5 273.6 L135.2 273.7 L137.0 273.8 L138.8 273.8 L140.6 273.9 L142.3 273.9 L144.1 273.9 L145.9 273.9 L147.7 273.9 L149.4 273.9 L151.2 273.9"/>
<path d="M54.4 337.6 L58.6 348.7 L62.9 360.6 L64.6 365.5 L67.1 354.6 L71.3 337.6 L73.1 324.1 L74.9 313.3 L76.7 304.6 L78.4 297.6 L80.2 291.7 L82.0 286.7 L83.8 282.5 L85.5 278.8 L87.3 275.7 L89.1 273.1 L90.9 271.1 L92.6 269.7 L94.4 268.9 L96.2 268.4 L98.0 268.2 L99.7 268.3 L101.5 268.5 L103.3 268.9 L105.1 269.4 L106.8 270.0 L108.6 270.6 L110.4 271.2 L112.2 271.9 L113.9 272.5 L115.7 273.1 L117.5 273.6 L119.3 274.1 L121.0 274.5 L122.8 274.8 L124.6 275.1 L126.4 275.4 L128.1 275.6 L129.9 275.7 L131.7 275.8 L133.5 275.9 L135.2 276.0 L137.0 276.0 L138.8 276.1 L140.6 276.1 L142.3 276.1 L144.1 276.1 L145.9 276.1 L147.7 276.1 L149.4 276.2 L151.2 276.2"/>
<path d="M54.4 337.6 L58.6 344.7 L62.9 352.3 L64.6 355.4 L67.1 348.5 L71.3 337.6 L73.1 328.2 L74.9 320.7 L76.7 314.6 L78.4 309.6 L80.2 305.3 L82.0 301.5 L83.8 298.1 L85.5 295.0 L87.3 292.2 L89.1 289.7 L90.9 287.6 L92.6 286.0 L94.4 285.0 L96.2 284.6 L98.0 284.4 L99.7 284.5 L101.5 284.8 L103.3 285.3 L105.1 285.9 L106.8 286.6 L108.6 287.4 L110.4 288.3 L112.2 289.1 L113.9 289.9 L115.7 290.7 L117.5 291.4 L119.3 292.1 L121.0 292.6 L122.8 293.1 L124.6 293.5 L126.4 293.9 L128.1 294.2 L129.9 294.4 L131.7 294.6 L133.5 294.7 L135.2 294.8 L137.0 294.9 L138.8 295.0 L140.6 295.0 L142.3 295.0 L144.1 295.1 L145.9 295.1 L147.7 295.1 L149.4 295.1 L151.2 295.1"/>
<path d="M54.4 337.6 L58.6 338.3 L62.9 339.1 L64.6 339.5 L67.1 338.7 L71.3 337.6 L73.1 326.7 L74.9 318.2 L76.7 311.4 L78.4 306.0 L80.2 301.7 L82.0 298.1 L83.8 295.2 L85.5 292.8 L87.3 290.9 L89.1 289.2 L90.9 287.9 L92.6 286.9 L94.4 286.2 L96.2 285.7 L98.0 285.4 L99.7 285.3 L101.5 285.2 L103.3 285.2 L105.1 285.3 L106.8 285.5 L108.6 285.6 L110.4 285.8 L112.2 286.1 L113.9 286.3 L115.7 286.5 L117.5 286.7 L119.3 286.9 L121.0 287.0 L122.8 287.2 L124.6 287.3 L126.4 287.4 L128.1 287.5 L129.9 287.5 L131.7 287.6 L133.5 287.6 L135.2 287.6 L137.0 287.7 L138.8 287.7 L140.6 287.7 L142.3 287.7 L144.1 287.7 L145.9 287.7 L147.7 287.7 L149.4 287.7 L151.2 287.7"/>
<path d="M54.4 337.6 L58.6 338.5 L62.9 339.4 L64.6 339.8 L67.1 339.0 L71.3 337.6 L73.1 334.3 L74.9 331.6 L76.7 329.6 L78.4 327.9 L80.2 326.5 L82.0 325.4 L83.8 324.4 L85.5 323.5 L87.3 322.8 L89.1 322.1 L90.9 321.4 L92.6 320.9 L94.4 320.5 L96.2 320.1 L98.0 320.0 L99.7 319.9 L101.5 319.9 L103.3 319.9 L105.1 320.0 L106.8 320.1 L108.6 320.3 L110.4 320.5 L112.2 320.7 L113.9 320.8 L115.7 321.0 L117.5 321.2 L119.3 321.4 L121.0 321.5 L122.8 321.7 L124.6 321.8 L126.4 321.9 L128.1 322.0 L129.9 322.1 L131.7 322.1 L133.5 322.2 L135.2 322.2 L137.0 322.2 L138.8 322.3 L140.6 322.3 L142.3 322.3 L144.1 322.3 L145.9 322.3 L147.7 322.3 L149.4 322.3 L151.2 322.3"/>
<path d="M54.4 337.6 L58.6 342.6 L62.9 348.0 L64.6 350.2 L67.1 345.3 L71.3 337.6 L73.1 327.9 L74.9 319.9 L76.7 313.3 L78.4 307.6 L80.2 302.7 L82.0 298.2 L83.8 294.2 L85.5 290.7 L87.3 287.6 L89.1 285.2 L90.9 283.4 L92.6 282.4 L94.4 282.0 L96.2 281.9 L98.0 282.1 L99.7 282.5 L101.5 283.1 L103.3 283.9 L105.1 284.8 L106.8 285.8 L108.6 286.8 L110.4 287.8 L112.2 288.8 L113.9 289.7 L115.7 290.5 L117.5 291.3 L119.3 291.9 L121.0 292.5 L122.8 292.9 L124.6 293.3 L126.4 293.6 L128.1 293.9 L129.9 294.1 L131.7 294.2 L133.5 294.3 L135.2 294.4 L137.0 294.5 L138.8 294.5 L140.6 294.5 L142.3 294.6 L144.1 294.6 L145.9 294.6 L147.7 294.6 L149.4 294.6 L151.2 294.6"/>
<path d="M54.4 337.6 L58.6 348.6 L62.9 360.4 L64.6 365.2 L67.1 354.4 L71.3 337.6 L73.1 331.1 L74.9 325.9 L76.7 321.7 L78.4 318.3 L80.2 315.5 L82.0 313.0 L83.8 310.8 L85.5 308.7 L87.3 306.8 L89.1 305.0 L90.9 303.4 L92.6 302.0 L94.4 300.9 L96.2 300.2 L98.0 299.9 L99.7 299.8 L101.5 299.9 L103.3 300.1 L105.1 300.5 L106.8 300.9 L108.6 301.4 L110.4 302.0 L112.2 302.6 L113.9 303.3 L115.7 303.9 L117.5 304.4 L119.3 305.0 L121.0 305.5 L122.8 305.9 L124.6 306.3 L126.4 306.6 L128.1 306.8 L129.9 307.1 L131.7 307.2 L133.5 307.4 L135.2 307.5 L137.0 307.6 L138.8 307.6 L140.6 307.7 L142.3 307.7 L144.1 307.7 L145.9 307.7 L147.7 307.8 L149.4 307.8 L151.2 307.8"/>
<path d="M54.4 337.6 L58.6 342.5 L62.9 347.8 L64.6 349.9 L67.1 345.1 L71.3 337.6 L73.1 331.7 L74.9 327.0 L76.7 323.2 L78.4 320.0 L80.2 317.4 L82.0 315.0 L83.8 312.9 L85.5 310.9 L87.3 309.0 L89.1 307.3 L90.9 305.8 L92.6 304.5 L94.4 303.6 L96.2 303.1 L98.0 302.9 L99.7 302.9 L101.5 303.1 L103.3 303.4 L105.1 303.8 L106.8 304.2 L108.6 304.8 L110.4 305.4 L112.2 306.0 L113.9 306.6 L115.7 307.2 L117.5 307.7 L119.3 308.2 L121.0 308.7 L122.8 309.0 L124.6 309.4 L126.4 309.7 L128.1 309.9 L129.9 310.1 L131.7 310.3 L133.5 310.4 L135.2 310.5 L137.0 310.5 L138.8 310.6 L140.6 310.6 L142.3 310.7 L144.1 310.7 L145.9 310.7 L147.7 310.7 L149.4 310.7 L151.2 310.7"/>
<path d="M54.4 337.6 L58.6 344.8 L62.9 352.4 L64.6 355.5 L67.1 348.5 L71.3 337.6 L73.1 333.6 L74.9 330.3 L76.7 327.4 L78.4 324.8 L80.2 322.5 L82.0 320.3 L83.8 318.4 L85.5 316.7 L87.3 315.3 L89.1 314.4 L90.9 313.8 L92.6 313.6 L94.4 313.6 L96.2 313.7 L98.0 314.0 L99.7 314.3 L101.5 314.8 L103.3 315.4 L105.1 315.9 L106.8 316.5 L108.6 317.1 L110.4 317.7 L112.2 318.2 L113.9 318.7 L115.7 319.1 L117.5 319.5 L119.3 319.8 L121.0 320.1 L122.8 320.3 L124.6 320.5 L126.4 320.7 L128.1 320.8 L129.9 320.9 L131.7 320.9 L133.5 321.0 L135.2 321.0 L137.0 321.0 L138.8 321.1 L140.6 321.1 L142.3 321.1 L144.1 321.1 L145.9 321.1 L147.7 321.1 L149.4 321.1 L151.2 321.1"/>
<path d="M54.4 337.6 L58.6 344.6 L62.9 352.1 L64.6 355.2 L67.1 348.3 L71.3 337.6 L73.1 329.1 L74.9 322.3 L76.7 316.8 L78.4 312.3 L80.2 308.5 L82.0 305.3 L83.8 302.5 L85.5 300.1 L87.3 298.1 L89.1 296.5 L90.9 295.3 L92.6 294.5 L94.4 294.0 L96.2 293.8 L98.0 293.8 L99.7 293.9 L101.5 294.1 L103.3 294.4 L105.1 294.8 L106.8 295.2 L108.6 295.7 L110.4 296.1 L112.2 296.6 L113.9 297.0 L115.7 297.4 L117.5 297.7 L119.3 298.0 L121.0 298.3 L122.8 298.5 L124.6 298.7 L126.4 298.8 L128.1 299.0 L129.9 299.1 L131.7 299.1 L133.5 299.2 L135.2 299.2 L137.0 299.3 L138.8 299.3 L140.6 299.3 L142.3 299.3 L144.1 299.3 L145.9 299.3 L147.7 299.3 L149.4 299.3 L151.2 299.3"/>
<path d="M54.4 337.6 L58.6 344.4 L62.9 351.6 L64.6 354.6 L67.1 348.0 L71.3 337.6 L73.1 336.8 L74.9 336.2 L76.7 335.5 L78.4 334.9 L80.2 334.3 L82.0 333.7 L83.8 333.2 L85.5 332.6 L87.3 332.1 L89.1 331.7 L90.9 331.4 L92.6 331.3 L94.4 331.2 L96.2 331.3 L98.0 331.4 L99.7 331.5 L101.5 331.7 L103.3 331.9 L105.1 332.1 L106.8 332.4 L108.6 332.6 L110.4 332.9 L112.2 333.1 L113.9 333.3 L115.7 333.5 L117.5 333.7 L119.3 333.9 L121.0 334.0 L122.8 334.1 L124.6 334.2 L126.4 334.3 L128.1 334.3 L129.9 334.4 L131.7 334.4 L133.5 334.5 L135.2 334.5 L137.0 334.5 L138.8 334.5 L140.6 334.5 L142.3 334.5 L144.1 334.5 L145.9 334.5 L147.7 334.5 L149.4 334.5 L151.2 334.5"/>
<path d="M54.4 337.6 L58.6 344.6 L62.9 352.0 L64.6 355.0 L67.1 348.2 L71.3 337.6 L73.1 337.2 L74.9 336.8 L76.7 336.4 L78.4 336.0 L80.2 335.5 L82.0 335.1 L83.8 334.6 L85.5 334.1 L87.3 333.7 L89.1 333.3 L90.9 333.1 L92.6 333.0 L94.4 333.0 L96.2 333.0 L98.0 333.1 L99.7 333.3 L101.5 333.4 L103.3 333.6 L105.1 333.9 L106.8 334.1 L108.6 334.4 L110.4 334.6 L112.2 334.8 L113.9 335.0 L115.7 335.2 L117.5 335.4 L119.3 335.5 L121.0 335.7 L122.8 335.8 L124.6 335.9 L126.4 335.9 L128.1 336.0 L129.9 336.0 L131.7 336.1 L133.5 336.1 L135.2 336.1 L137.0 336.1 L138.8 336.1 L140.6 336.1 L142.3 336.2 L144.1 336.2 L145.9 336.2 L147.7 336.2 L149.4 336.2 L151.2 336.2"/>
<path d="M54.4 337.6 L58.6 345.5 L62.9 354.1 L64.6 357.5 L67.1 349.8 L71.3 337.6 L73.1 326.0 L74.9 316.7 L76.7 309.1 L78.4 302.8 L80.2 297.5 L82.0 292.8 L83.8 288.8 L85.5 285.3 L87.3 282.3 L89.1 279.8 L90.9 278.0 L92.6 276.8 L94.4 276.1 L96.2 275.9 L98.0 275.8 L99.7 276.0 L101.5 276.4 L103.3 277.0 L105.1 277.6 L106.8 278.3 L108.6 279.1 L110.4 279.9 L112.2 280.6 L113.9 281.3 L115.7 282.0 L117.5 282.6 L119.3 283.1 L121.0 283.6 L122.8 284.0 L124.6 284.3 L126.4 284.6 L128.1 284.8 L129.9 284.9 L131.7 285.1 L133.5 285.2 L135.2 285.2 L137.0 285.3 L138.8 285.3 L140.6 285.3 L142.3 285.4 L144.1 285.4 L145.9 285.4 L147.7 285.4 L149.4 285.4 L151.2 285.4"/>
<path d="M54.4 337.6 L58.6 345.4 L62.9 353.8 L64.6 357.2 L67.1 349.5 L71.3 337.6 L73.1 327.8 L74.9 320.1 L76.7 313.8 L78.4 308.6 L80.2 304.3 L82.0 300.7 L83.8 297.6 L85.5 295.0 L87.3 292.8 L89.1 291.1 L90.9 289.8 L92.6 289.0 L94.4 288.6 L96.2 288.3 L98.0 288.2 L99.7 288.3 L101.5 288.5 L103.3 288.8 L105.1 289.2 L106.8 289.6 L108.6 290.0 L110.4 290.5 L112.2 290.9 L113.9 291.3 L115.7 291.7 L117.5 292.0 L119.3 292.3 L121.0 292.6 L122.8 292.8 L124.6 293.0 L126.4 293.1 L128.1 293.2 L129.9 293.3 L131.7 293.4 L133.5 293.5 L135.2 293.5 L137.0 293.5 L138.8 293.5 L140.6 293.6 L142.3 293.6 L144.1 293.6 L145.9 293.6 L147.7 293.6 L149.4 293.6 L151.2 293.6"/>
<path d="M54.4 337.6 L58.6 348.1 L62.9 359.3 L64.6 363.8 L67.1 353.6 L71.3 337.6 L73.1 334.4 L74.9 331.8 L76.7 329.5 L78.4 327.5 L80.2 325.6 L82.0 323.8 L83.8 322.1 L85.5 320.5 L87.3 319.1 L89.1 317.9 L90.9 316.9 L92.6 316.4 L94.4 316.2 L96.2 316.2 L98.0 316.3 L99.7 316.6 L101.5 317.0 L103.3 317.4 L105.1 318.0 L106.8 318.6 L108.6 319.1 L110.4 319.7 L112.2 320.3 L113.9 320.9 L115.7 321.4 L117.5 321.8 L119.3 322.2 L121.0 322.6 L122.8 322.8 L124.6 323.1 L126.4 323.3 L128.1 323.4 L129.9 323.6 L131.7 323.7 L133.5 323.7 L135.2 323.8 L137.0 323.8 L138.8 323.9 L140.6 323.9 L142.3 323.9 L144.1 323.9 L145.9 323.9 L147.7 323.9 L149.4 323.9 L151.2 323.9"/>
<path d="M54.4 337.6 L58.6 341.4 L62.9 345.5 L64.6 347.1 L67.1 343.4 L71.3 337.6 L73.1 332.9 L74.9 329.2 L76.7 326.1 L78.4 323.6 L80.2 321.4 L82.0 319.4 L83.8 317.7 L85.5 316.2 L87.3 314.9 L89.1 313.7 L90.9 312.8 L92.6 312.2 L94.4 311.9 L96.2 311.7 L98.0 311.7 L99.7 311.8 L101.5 312.0 L103.3 312.3 L105.1 312.6 L106.8 312.9 L108.6 313.3 L110.4 313.7 L112.2 314.1 L113.9 314.4 L115.7 314.8 L117.5 315.1 L119.3 315.3 L121.0 315.6 L122.8 315.8 L124.6 316.0 L126.4 316.1 L128.1 316.2 L129.9 316.3 L131.7 316.4 L133.5 316.4 L135.2 316.5 L137.0 316.5 L138.8 316.5 L140.6 316.5 L142.3 316.5 L144.1 316.6 L145.9 316.6 L147.7 316.6 L149.4 316.6 L151.2 316.6"/>
<path d="M54.4 337.6 L58.6 349.6 L62.9 362.5 L64.6 367.8 L67.1 356.0 L71.3 337.6 L73.1 337.3 L74.9 337.0 L76.7 336.8 L78.4 336.5 L80.2 336.3 L82.0 336.0 L83.8 335.7 L85.5 335.4 L87.3 335.2 L89.1 335.0 L90.9 334.8 L92.6 334.7 L94.4 334.7 L96.2 334.7 L98.0 334.7 L99.7 334.8 L101.5 334.9 L103.3 335.0 L105.1 335.1 L106.8 335.2 L108.6 335.4 L110.4 335.5 L112.2 335.6 L113.9 335.7 L115.7 335.9 L117.5 335.9 L119.3 336.0 L121.0 336.1 L122.8 336.2 L124.6 336.2 L126.4 336.3 L128.1 336.3 L129.9 336.3 L131.7 336.4 L133.5 336.4 L135.2 336.4 L137.0 336.4 L138.8 336.4 L140.6 336.4 L142.3 336.4 L144.1 336.4 L145.9 336.4 L147.7 336.4 L149.4 336.4 L151.2 336.4"/>
<path d="M54.4 337.6 L58.6 338.7 L62.9 339.9 L64.6 340.4 L67.1 339.3 L71.3 337.6 L73.1 326.7 L74.9 318.0 L76.7 310.9 L78.4 305.1 L80.2 300.3 L82.0 296.3 L83.8 292.9 L85.5 290.0 L87.3 287.5 L89.1 285.6 L90.9 284.2 L92.6 283.3 L94.4 282.8 L96.2 282.5 L98.0 282.4 L99.7 282.5 L101.5 282.7 L103.3 283.1 L105.1 283.5 L106.8 283.9 L108.6 284.4 L110.4 284.9 L112.2 285.4 L113.9 285.8 L115.7 286.2 L117.5 286.6 L119.3 286.9 L121.0 287.2 L122.8 287.4 L124.6 287.6 L126.4 287.8 L128.1 287.9 L129.9 288.0 L131.7 288.1 L133.5 288.1 L135.2 288.2 L137.0 288.2 L138.8 288.2 L140.6 288.2 L142.3 288.2 L144.1 288.2 L145.9 288.2 L147.7 288.3 L149.4 288.3 L151.2 288.3"/>
<path d="M54.4 337.6 L58.6 345.4 L62.9 353.7 L64.6 357.0 L67.1 349.5 L71.3 337.6 L73.1 327.0 L74.9 318.6 L76.7 311.9 L78.4 306.4 L80.2 301.9 L82.0 298.0 L83.8 294.7 L85.5 291.7 L87.3 289.0 L89.1 286.6 L90.9 284.6 L92.6 282.9 L94.4 281.7 L96.2 281.0 L98.0 280.7 L99.7 280.6 L101.5 280.7 L103.3 280.9 L105.1 281.4 L106.8 281.9 L108.6 282.5 L110.4 283.1 L112.2 283.8 L113.9 284.5 L115.7 285.1 L117.5 285.7 L119.3 286.3 L121.0 286.8 L122.8 287.2 L124.6 287.6 L126.4 287.9 L128.1 288.2 L129.9 288.4 L131.7 288.6 L133.5 288.7 L135.2 288.8 L137.0 288.9 L138.8 289.0 L140.6 289.0 L142.3 289.0 L144.1 289.1 L145.9 289.1 L147.7 289.1 L149.4 289.1 L151.2 289.1"/>
<path d="M54.4 337.6 L58.6 350.5 L62.9 364.3 L64.6 369.9 L67.1 357.3 L71.3 337.6 L73.1 333.3 L74.9 329.8 L76.7 326.9 L78.4 324.6 L80.2 322.6 L82.0 320.8 L83.8 319.2 L85.5 317.7 L87.3 316.4 L89.1 315.3 L90.9 314.3 L92.6 313.6 L94.4 313.2 L96.2 313.0 L98.0 313.0 L99.7 313.0 L101.5 313.2 L103.3 313.4 L105.1 313.7 L106.8 314.1 L108.6 314.4 L110.4 314.8 L112.2 315.2 L113.9 315.6 L115.7 316.0 L117.5 316.3 L119.3 316.6 L121.0 316.9 L122.8 317.1 L124.6 317.3 L126.4 317.4 L128.1 317.6 L129.9 317.7 L131.7 317.7 L133.5 317.8 L135.2 317.9 L137.0 317.9 L138.8 317.9 L140.6 317.9 L142.3 317.9 L144.1 318.0 L145.9 318.0 L147.7 318.0 L149.4 318.0 L151.2 318.0"/>
<path d="M54.4 337.6 L58.6 340.5 L62.9 343.5 L64.6 344.8 L67.1 342.0 L71.3 337.6 L73.1 326.0 L74.9 316.7 L76.7 309.2 L78.4 303.1 L80.2 298.0 L82.0 293.7 L83.8 290.0 L85.5 286.9 L87.3 284.4 L89.1 282.4 L90.9 280.9 L92.6 280.0 L94.4 279.4 L96.2 279.1 L98.0 279.0 L99.7 279.1 L101.5 279.4 L103.3 279.7 L105.1 280.1 L106.8 280.6 L108.6 281.1 L110.4 281.6 L112.2 282.1 L113.9 282.6 L115.7 283.0 L117.5 283.4 L119.3 283.8 L121.0 284.1 L122.8 284.3 L124.6 284.5 L126.4 284.7 L128.1 284.8 L129.9 284.9 L131.7 285.0 L133.5 285.0 L135.2 285.1 L137.0 285.1 L138.8 285.1 L140.6 285.1 L142.3 285.2 L144.1 285.2 L145.9 285.2 L147.7 285.2 L149.4 285.2 L151.2 285.2"/>
<path d="M54.4 337.6 L58.6 342.8 L62.9 348.4 L64.6 350.7 L67.1 345.6 L71.3 337.6 L73.1 336.0 L74.9 334.6 L76.7 333.4 L78.4 332.3 L80.2 331.1 L82.0 330.0 L83.8 328.9 L85.5 327.8 L87.3 326.9 L89.1 326.0 L90.9 325.4 L92.6 325.1 L94.4 325.0 L96.2 325.0 L98.0 325.1 L99.7 325.4 L101.5 325.7 L103.3 326.0 L105.1 326.5 L106.8 326.9 L108.6 327.3 L110.4 327.8 L112.2 328.2 L113.9 328.7 L115.7 329.0 L117.5 329.4 L119.3 329.7 L121.0 329.9 L122.8 330.2 L124.6 330.3 L126.4 330.5 L128.1 330.6 L129.9 330.7 L131.7 330.8 L133.5 330.8 L135.2 330.9 L137.0 330.9 L138.8 330.9 L140.6 330.9 L142.3 330.9 L144.1 330.9 L145.9 331.0 L147.7 331.0 L149.4 331.0 L151.2 331.0"/>
<path d="M54.4 337.6 L58.6 340.8 L62.9 344.1 L64.6 345.5 L67.1 342.4 L71.3 337.6 L73.1 337.6 L74.9 337.6 L76.7 337.5 L78.4 337.5 L80.2 337.5 L82.0 337.4 L83.8 337.3 L85.5 337.2 L87.3 337.1 L89.1 337.0 L90.9 336.9 L92.6 336.8 L94.4 336.8 L96.2 336.8 L98.0 336.8 L99.7 336.8 L101.5 336.8 L103.3 336.9 L105.1 336.9 L106.8 337.0 L108.6 337.0 L110.4 337.1 L112.2 337.2 L113.9 337.2 L115.7 337.3 L117.5 337.3 L119.3 337.4 L121.0 337.4 L122.8 337.5 L124.6 337.5 L126.4 337.5 L128.1 337.5 L129.9 337.5 L131.7 337.6 L133.5 337.6 L135.2 337.6 L137.0 337.6 L138.8 337.6 L140.6 337.6 L142.3 337.6 L144.1 337.6 L145.9 337.6 L147.7 337.6 L149.4 337.6 L151.2 337.6"/>
<path d="M54.4 337.6 L58.6 350.0 L62.9 363.4 L64.6 368.8 L67.1 356.7 L71.3 337.6 L73.1 328.2 L74.9 320.7 L76.7 314.7 L78.4 309.8 L80.2 305.6 L82.0 302.0 L83.8 298.7 L85.5 295.6 L87.3 292.6 L89.1 289.8 L90.9 287.2 L92.6 284.9 L94.4 283.0 L96.2 281.8 L98.0 281.1 L99.7 281.0 L101.5 281.1 L103.3 281.5 L105.1 282.1 L106.8 282.8 L108.6 283.7 L110.4 284.6 L112.2 285.7 L113.9 286.7 L115.7 287.7 L117.5 288.7 L119.3 289.6 L121.0 290.5 L122.8 291.2 L124.6 291.9 L126.4 292.4 L128.1 292.9 L129.9 293.3 L131.7 293.6 L133.5 293.8 L135.2 294.0 L137.0 294.2 L138.8 294.3 L140.6 294.4 L142.3 294.4 L144.1 294.5 L145.9 294.5 L147.7 294.5 L149.4 294.5 L151.2 294.5"/>
<path d="M54.4 337.6 L58.6 339.2 L62.9 340.9 L64.6 341.6 L67.1 340.1 L71.3 337.6 L73.1 328.0 L74.9 320.3 L76.7 314.1 L78.4 309.0 L80.2 304.6 L82.0 300.8 L83.8 297.3 L85.5 294.0 L87.3 291.0 L89.1 288.1 L90.9 285.6 L92.6 283.6 L94.4 282.0 L96.2 281.2 L98.0 280.8 L99.7 280.8 L101.5 281.1 L103.3 281.6 L105.1 282.2 L106.8 283.0 L108.6 283.9 L110.4 284.9 L112.2 285.9 L113.9 286.9 L115.7 287.9 L117.5 288.8 L119.3 289.6 L121.0 290.4 L122.8 291.0 L124.6 291.6 L126.4 292.1 L128.1 292.5 L129.9 292.8 L131.7 293.1 L133.5 293.3 L135.2 293.4 L137.0 293.5 L138.8 293.6 L140.6 293.7 L142.3 293.7 L144.1 293.8 L145.9 293.8 L147.7 293.8 L149.4 293.8 L151.2 293.8"/>
<path d="M54.4 337.6 L58.6 342.2 L62.9 347.2 L64.6 349.2 L67.1 344.7 L71.3 337.6 L73.1 331.3 L74.9 326.2 L76.7 322.0 L78.4 318.4 L80.2 315.4 L82.0 312.6 L83.8 310.0 L85.5 307.7 L87.3 305.6 L89.1 303.8 L90.9 302.3 L92.6 301.3 L94.4 300.7 L96.2 300.5 L98.0 300.5 L99.7 300.6 L101.5 301.0 L103.3 301.4 L105.1 302.0 L106.8 302.6 L108.6 303.3 L110.4 304.0 L112.2 304.7 L113.9 305.3 L115.7 305.9 L117.5 306.5 L119.3 307.0 L121.0 307.4 L122.8 307.8 L124.6 308.1 L126.4 308.4 L128.1 308.6 L129.9 308.8 L131.7 308.9 L133.5 309.0 L135.2 309.1 L137.0 309.1 L138.8 309.2 L140.6 309.2 L142.3 309.2 L144.1 309.2 L145.9 309.2 L147.7 309.2 L149.4 309.3 L151.2 309.3"/>
<path d="M54.4 337.6 L58.6 348.3 L62.9 359.7 L64.6 364.3 L67.1 353.9 L71.3 337.6 L73.1 329.7 L74.9 323.5 L76.7 318.6 L78.4 314.7 L80.2 311.5 L82.0 308.9 L83.8 306.8 L85.5 305.0 L87.3 303.5 L89.1 302.1 L90.9 301.0 L92.6 300.1 L94.4 299.4 L96.2 299.0 L98.0 298.7 L99.7 298.5 L101.5 298.5 L103.3 298.5 L105.1 298.6 L106.8 298.8 L108.6 298.9 L110.4 299.2 L112.2 299.4 L113.9 299.6 L115.7 299.8 L117.5 300.1 L119.3 300.3 L121.0 300.5 L122.8 300.6 L124.6 300.8 L126.4 300.9 L128.1 301.0 L129.9 301.1 L131.7 301.1 L133.5 301.2 L135.2 301.2 L137.0 301.2 L138.8 301.3 L140.6 301.3 L142.3 301.3 L144.1 301.3 L145.9 301.3 L147.7 301.3 L149.4 301.3 L151.2 301.3"/>
<path d="M54.4 337.6 L58.6 350.8 L62.9 365.0 L64.6 370.8 L67.1 357.9 L71.3 337.6 L73.1 329.7 L74.9 323.2 L76.7 317.9 L78.4 313.4 L80.2 309.6 L82.0 306.3 L83.8 303.5 L85.5 301.3 L87.3 299.5 L89.1 298.2 L90.9 297.5 L92.6 297.0 L94.4 296.8 L96.2 296.8 L98.0 297.0 L99.7 297.3 L101.5 297.6 L103.3 298.1 L105.1 298.6 L106.8 299.1 L108.6 299.6 L110.4 300.1 L112.2 300.6 L113.9 301.0 L115.7 301.4 L117.5 301.7 L119.3 302.0 L121.0 302.2 L122.8 302.4 L124.6 302.6 L126.4 302.7 L128.1 302.8 L129.9 302.9 L131.7 302.9 L133.5 303.0 L135.2 303.0 L137.0 303.0 L138.8 303.0 L140.6 303.0 L142.3 303.0 L144.1 303.0 L145.9 303.0 L147.7 303.0 L149.4 303.0 L151.2 303.0"/>
<path d="M54.4 337.6 L58.6 342.9 L62.9 348.7 L64.6 351.0 L67.1 345.8 L71.3 337.6 L73.1 323.6 L74.9 312.3 L76.7 303.1 L78.4 295.5 L80.2 289.1 L82.0 283.6 L83.8 278.9 L85.5 274.9 L87.3 271.6 L89.1 269.0 L90.9 267.1 L92.6 266.0 L94.4 265.4 L96.2 265.1 L98.0 265.1 L99.7 265.4 L101.5 265.8 L103.3 266.4 L105.1 267.1 L106.8 267.8 L108.6 268.6 L110.4 269.4 L112.2 270.2 L113.9 270.9 L115.7 271.5 L117.5 272.1 L119.3 272.6 L121.0 273.0 L122.8 273.4 L124.6 273.7 L126.4 273.9 L128.1 274.1 L129.9 274.3 L131.7 274.4 L133.5 274.5 L135.2 274.5 L137.0 274.6 L138.8 274.6 L140.6 274.6 L142.3 274.6 L144.1 274.6 L145.9 274.7 L147.7 274.7 L149.4 274.7 L151.2 274.7"/>
<path d="M54.4 337.6 L58.6 341.0 L62.9 344.6 L64.6 346.0 L67.1 342.7 L71.3 337.6 L73.1 336.6 L74.9 335.8 L76.7 335.1 L78.4 334.5 L80.2 334.0 L82.0 333.4 L83.8 333.0 L85.5 332.5 L87.3 332.1 L89.1 331.7 L90.9 331.5 L92.6 331.3 L94.4 331.2 L96.2 331.2 L98.0 331.2 L99.7 331.3 L101.5 331.4 L103.3 331.5 L105.1 331.6 L106.8 331.8 L108.6 332.0 L110.4 332.1 L112.2 332.3 L113.9 332.4 L115.7 332.6 L117.5 332.7 L119.3 332.8 L121.0 332.9 L122.8 333.0 L124.6 333.1 L126.4 333.1 L128.1 333.2 L129.9 333.2 L131.7 333.2 L133.5 333.3 L135.2 333.3 L137.0 333.3 L138.8 333.3 L140.6 333.3 L142.3 333.3 L144.1 333.3 L145.9 333.3 L147.7 333.3 L149.4 333.3 L151.2 333.3"/>
<path d="M54.4 337.6 L58.6 338.2 L62.9 338.8 L64.6 339.0 L67.1 338.5 L71.3 337.6 L73.1 329.0 L74.9 322.2 L76.7 316.6 L78.4 312.0 L80.2 308.2 L82.0 304.8 L83.8 301.9 L85.5 299.4 L87.3 297.2 L89.1 295.3 L90.9 293.9 L92.6 292.9 L94.4 292.3 L96.2 292.1 L98.0 292.0 L99.7 292.1 L101.5 292.3 L103.3 292.7 L105.1 293.1 L106.8 293.6 L108.6 294.1 L110.4 294.7 L112.2 295.2 L113.9 295.8 L115.7 296.3 L117.5 296.7 L119.3 297.1 L121.0 297.4 L122.8 297.7 L124.6 298.0 L126.4 298.2 L128.1 298.3 L129.9 298.5 L131.7 298.6 L133.5 298.7 L135.2 298.7 L137.0 298.8 L138.8 298.8 L140.6 298.8 L142.3 298.8 L144.1 298.8 L145.9 298.8 L147.7 298.8 L149.4 298.8 L151.2 298.8"/>
<path d="M54.4 337.6 L58.6 342.9 L62.9 348.7 L64.6 351.0 L67.1 345.8 L71.3 337.6 L73.1 323.1 L74.9 311.6 L76.7 302.4 L78.4 294.9 L80.2 288.8 L82.0 283.7 L83.8 279.4 L85.5 275.9 L87.3 272.9 L89.1 270.6 L90.9 268.9 L92.6 267.7 L94.4 267.0 L96.2 266.6 L98.0 266.4 L99.7 266.4 L101.5 266.5 L103.3 266.8 L105.1 267.2 L106.8 267.6 L108.6 268.0 L110.4 268.5 L112.2 269.0 L113.9 269.4 L115.7 269.8 L117.5 270.2 L119.3 270.5 L121.0 270.8 L122.8 271.0 L124.6 271.2 L126.4 271.4 L128.1 271.5 L129.9 271.6 L131.7 271.7 L133.5 271.7 L135.2 271.8 L137.0 271.8 L138.8 271.8 L140.6 271.8 L142.3 271.8 L144.1 271.9 L145.9 271.9 L147.7 271.9 L149.4 271.9 L151.2 271.9"/>
<path d="M54.4 337.6 L58.6 348.8 L62.9 360.8 L64.6 365.7 L67.1 354.8 L71.3 337.6 L73.1 335.8 L74.9 334.3 L76.7 333.0 L78.4 332.0 L80.2 331.0 L82.0 330.1 L83.8 329.3 L85.5 328.6 L87.3 327.9 L89.1 327.3 L90.9 326.8 L92.6 326.5 L94.4 326.3 L96.2 326.3 L98.0 326.3 L99.7 326.4 L101.5 326.5 L103.3 326.7 L105.1 326.9 L106.8 327.1 L108.6 327.4 L110.4 327.6 L112.2 327.9 L113.9 328.1 L115.7 328.3 L117.5 328.5 L119.3 328.7 L121.0 328.9 L122.8 329.0 L124.6 329.1 L126.4 329.2 L128.1 329.3 L129.9 329.3 L131.7 329.4 L133.5 329.4 L135.2 329.4 L137.0 329.4 L138.8 329.5 L140.6 329.5 L142.3 329.5 L144.1 329.5 L145.9 329.5 L147.7 329.5 L149.4 329.5 L151.2 329.5"/>
<path d="M54.4 337.6 L58.6 347.2 L62.9 357.5 L64.6 361.7 L67.1 352.3 L71.3 337.6 L73.1 336.5 L74.9 335.5 L76.7 334.6 L78.4 333.7 L80.2 332.9 L82.0 332.0 L83.8 331.1 L85.5 330.2 L87.3 329.3 L89.1 328.5 L90.9 327.9 L92.6 327.4 L94.4 327.2 L96.2 327.1 L98.0 327.2 L99.7 327.4 L101.5 327.6 L103.3 327.9 L105.1 328.3 L106.8 328.7 L108.6 329.1 L110.4 329.5 L112.2 329.9 L113.9 330.3 L115.7 330.7 L117.5 331.0 L119.3 331.4 L121.0 331.6 L122.8 331.9 L124.6 332.0 L126.4 332.2 L128.1 332.3 L129.9 332.4 L131.7 332.5 L133.5 332.6 L135.2 332.6 L137.0 332.7 L138.8 332.7 L140.6 332.7 L142.3 332.7 L144.1 332.7 L145.9 332.7 L147.7 332.7 L149.4 332.7 L151.2 332.7"/>
<path d="M54.4 337.6 L58.6 350.1 L62.9 363.4 L64.6 368.9 L67.1 356.7 L71.3 337.6 L73.1 330.0 L74.9 324.0 L76.7 319.2 L78.4 315.2 L80.2 311.9 L82.0 309.1 L83.8 306.8 L85.5 304.7 L87.3 303.0 L89.1 301.6 L90.9 300.4 L92.6 299.6 L94.4 299.2 L96.2 298.9 L98.0 298.8 L99.7 298.9 L101.5 299.0 L103.3 299.2 L105.1 299.5 L106.8 299.8 L108.6 300.1 L110.4 300.5 L112.2 300.9 L113.9 301.2 L115.7 301.5 L117.5 301.8 L119.3 302.1 L121.0 302.3 L122.8 302.5 L124.6 302.7 L126.4 302.8 L128.1 302.9 L129.9 303.0 L131.7 303.1 L133.5 303.1 L135.2 303.1 L137.0 303.2 L138.8 303.2 L140.6 303.2 L142.3 303.2 L144.1 303.2 L145.9 303.2 L147.7 303.2 L149.4 303.2 L151.2 303.2"/>
<path d="M54.4 337.6 L58.6 340.3 L62.9 343.3 L64.6 344.5 L67.1 341.8 L71.3 337.6 L73.1 336.4 L74.9 335.5 L76.7 334.7 L78.4 333.9 L80.2 333.3 L82.0 332.6 L83.8 331.9 L85.5 331.3 L87.3 330.7 L89.1 330.1 L90.9 329.6 L92.6 329.3 L94.4 329.1 L96.2 329.0 L98.0 329.0 L99.7 329.1 L101.5 329.3 L103.3 329.4 L105.1 329.7 L106.8 329.9 L108.6 330.2 L110.4 330.4 L112.2 330.7 L113.9 330.9 L115.7 331.2 L117.5 331.4 L119.3 331.6 L121.0 331.8 L122.8 331.9 L124.6 332.1 L126.4 332.2 L128.1 332.2 L129.9 332.3 L131.7 332.4 L133.5 332.4 L135.2 332.4 L137.0 332.5 L138.8 332.5 L140.6 332.5 L142.3 332.5 L144.1 332.5 L145.9 332.5 L147.7 332.5 L149.4 332.5 L151.2 332.5"/>
<path d="M54.4 337.6 L58.6 340.4 L62.9 343.4 L64.6 344.7 L67.1 341.9 L71.3 337.6 L73.1 325.9 L74.9 316.7 L76.7 309.2 L78.4 303.1 L80.2 297.9 L82.0 293.4 L83.8 289.4 L85.5 285.8 L87.3 282.5 L89.1 279.6 L90.9 277.1 L92.6 275.0 L94.4 273.6 L96.2 272.9 L98.0 272.6 L99.7 272.6 L101.5 272.9 L103.3 273.3 L105.1 274.0 L106.8 274.7 L108.6 275.6 L110.4 276.5 L112.2 277.5 L113.9 278.4 L115.7 279.3 L117.5 280.1 L119.3 280.9 L121.0 281.5 L122.8 282.1 L124.6 282.6 L126.4 283.1 L128.1 283.4 L129.9 283.7 L131.7 283.9 L133.5 284.1 L135.2 284.2 L137.0 284.3 L138.8 284.4 L140.6 284.4 L142.3 284.5 L144.1 284.5 L145.9 284.5 L147.7 284.5 L149.4 284.6 L151.2 284.6"/>
<path d="M54.4 337.6 L58.6 347.2 L62.9 357.4 L64.6 361.6 L67.1 352.3 L71.3 337.6 L73.1 330.9 L74.9 325.5 L76.7 321.1 L78.4 317.5 L80.2 314.5 L82.0 311.9 L83.8 309.6 L85.5 307.6 L87.3 305.8 L89.1 304.4 L90.9 303.3 L92.6 302.5 L94.4 302.0 L96.2 301.8 L98.0 301.8 L99.7 301.9 L101.5 302.0 L103.3 302.3 L105.1 302.7 L106.8 303.1 L108.6 303.5 L110.4 303.9 L112.2 304.4 L113.9 304.8 L115.7 305.1 L117.5 305.5 L119.3 305.8 L121.0 306.1 L122.8 306.3 L124.6 306.5 L126.4 306.7 L128.1 306.8 L129.9 306.9 L131.7 307.0 L133.5 307.0 L135.2 307.1 L137.0 307.1 L138.8 307.1 L140.6 307.1 L142.3 307.1 L144.1 307.2 L145.9 307.2 L147.7 307.2 L149.4 307.2 L151.2 307.2"/>
<path d="M54.4 337.6 L58.6 338.7 L62.9 340.0 L64.6 340.4 L67.1 339.3 L71.3 337.6 L73.1 332.1 L74.9 327.6 L76.7 323.9 L78.4 320.7 L80.2 318.0 L82.0 315.6 L83.8 313.6 L85.5 311.8 L87.3 310.4 L89.1 309.4 L90.9 308.8 L92.6 308.4 L94.4 308.3 L96.2 308.3 L98.0 308.4 L99.7 308.6 L101.5 308.9 L103.3 309.3 L105.1 309.7 L106.8 310.1 L108.6 310.6 L110.4 311.0 L112.2 311.4 L113.9 311.8 L115.7 312.1 L117.5 312.4 L119.3 312.6 L121.0 312.8 L122.8 313.0 L124.6 313.2 L126.4 313.3 L128.1 313.4 L129.9 313.4 L131.7 313.5 L133.5 313.5 L135.2 313.5 L137.0 313.6 L138.8 313.6 L140.6 313.6 L142.3 313.6 L144.1 313.6 L145.9 313.6 L147.7 313.6 L149.4 313.6 L151.2 313.6"/>
<path d="M54.4 337.6 L58.6 345.5 L62.9 353.9 L64.6 357.3 L67.1 349.6 L71.3 337.6 L73.1 322.4 L74.9 310.1 L76.7 300.1 L78.4 291.7 L80.2 284.6 L82.0 278.5 L83.8 273.3 L85.5 268.8 L87.3 265.1 L89.1 262.3 L90.9 260.3 L92.6 259.2 L94.4 258.6 L96.2 258.3 L98.0 258.4 L99.7 258.8 L101.5 259.3 L103.3 260.1 L105.1 260.9 L106.8 261.8 L108.6 262.8 L110.4 263.7 L112.2 264.6 L113.9 265.5 L115.7 266.2 L117.5 266.9 L119.3 267.5 L121.0 268.0 L122.8 268.4 L124.6 268.7 L126.4 269.0 L128.1 269.2 L129.9 269.4 L131.7 269.5 L133.5 269.6 L135.2 269.7 L137.0 269.7 L138.8 269.8 L140.6 269.8 L142.3 269.8 L144.1 269.8 L145.9 269.8 L147.7 269.8 L149.4 269.8 L151.2 269.8"/>
<path d="M54.4 337.6 L58.6 341.4 L62.9 345.4 L64.6 347.1 L67.1 343.4 L71.3 337.6 L73.1 328.5 L74.9 321.2 L76.7 315.2 L78.4 310.1 L80.2 305.6 L82.0 301.7 L83.8 298.1 L85.5 294.9 L87.3 292.1 L89.1 289.7 L90.9 287.9 L92.6 286.7 L94.4 286.0 L96.2 285.8 L98.0 285.8 L99.7 286.1 L101.5 286.6 L103.3 287.2 L105.1 288.0 L106.8 288.8 L108.6 289.7 L110.4 290.5 L112.2 291.4 L113.9 292.2 L115.7 293.0 L117.5 293.7 L119.3 294.3 L121.0 294.8 L122.8 295.3 L124.6 295.7 L126.4 296.0 L128.1 296.2 L129.9 296.4 L131.7 296.6 L133.5 296.7 L135.2 296.8 L137.0 296.9 L138.8 296.9 L140.6 296.9 L142.3 297.0 L144.1 297.0 L145.9 297.0 L147.7 297.0 L149.4 297.0 L151.2 297.0"/>
<path d="M54.4 337.6 L58.6 351.0 L62.9 365.3 L64.6 371.2 L67.1 358.1 L71.3 337.6 L73.1 323.6 L74.9 312.4 L76.7 303.4 L78.4 296.0 L80.2 289.7 L82.0 284.4 L83.8 279.8 L85.5 275.7 L87.3 272.2 L89.1 269.2 L90.9 266.9 L92.6 265.2 L94.4 264.2 L96.2 263.8 L98.0 263.6 L99.7 263.7 L101.5 264.0 L103.3 264.6 L105.1 265.2 L106.8 266.0 L108.6 266.8 L110.4 267.7 L112.2 268.5 L113.9 269.3 L115.7 270.1 L117.5 270.8 L119.3 271.4 L121.0 271.9 L122.8 272.4 L124.6 272.8 L126.4 273.1 L128.1 273.3 L129.9 273.6 L131.7 273.7 L133.5 273.8 L135.2 273.9 L137.0 274.0 L138.8 274.0 L140.6 274.1 L142.3 274.1 L144.1 274.1 L145.9 274.1 L147.7 274.1 L149.4 274.1 L151.2 274.1"/>
<path d="M54.4 337.6 L58.6 344.3 L62.9 351.5 L64.6 354.5 L67.1 347.9 L71.3 337.6 L73.1 325.2 L74.9 315.4 L76.7 307.5 L78.4 301.0 L80.2 295.5 L82.0 290.8 L83.8 286.8 L85.5 283.2 L87.3 280.1 L89.1 277.5 L90.9 275.4 L92.6 273.9 L94.4 273.0 L96.2 272.5 L98.0 272.3 L99.7 272.4 L101.5 272.7 L103.3 273.1 L105.1 273.7 L106.8 274.3 L108.6 275.1 L110.4 275.8 L112.2 276.5 L113.9 277.2 L115.7 277.9 L117.5 278.5 L119.3 279.1 L121.0 279.6 L122.8 280.0 L124.6 280.3 L126.4 280.6 L128.1 280.8 L129.9 281.0 L131.7 281.2 L133.5 281.3 L135.2 281.4 L137.0 281.4 L138.8 281.5 L140.6 281.5 L142.3 281.5 L144.1 281.5 L145.9 281.5 L147.7 281.6 L149.4 281.6 L151.2 281.6"/>
<path d="M54.4 337.6 L58.6 341.2 L62.9 345.1 L64.6 346.7 L67.1 343.2 L71.3 337.6 L73.1 335.4 L74.9 333.6 L76.7 332.0 L78.4 330.6 L80.2 329.3 L82.0 328.1 L83.8 327.1 L85.5 326.2 L87.3 325.4 L89.1 324.8 L90.9 324.5 L92.6 324.3 L94.4 324.2 L96.2 324.3 L98.0 324.4 L99.7 324.6 L101.5 324.8 L103.3 325.1 L105.1 325.4 L106.8 325.7 L108.6 326.0 L110.4 326.3 L112.2 326.6 L113.9 326.9 L115.7 327.1 L117.5 327.3 L119.3 327.5 L121.0 327.7 L122.8 327.8 L124.6 327.9 L126.4 328.0 L128.1 328.1 L129.9 328.1 L131.7 328.2 L133.5 328.2 L135.2 328.2 L137.0 328.2 L138.8 328.2 L140.6 328.2 L142.3 328.2 L144.1 328.2 L145.9 328.2 L147.7 328.2 L149.4 328.3 L151.2 328.3"/>
<path d="M54.4 337.6 L58.6 348.6 L62.9 360.4 L64.6 365.2 L67.1 354.4 L71.3 337.6 L73.1 324.7 L74.9 314.5 L76.7 306.3 L78.4 299.6 L80.2 294.1 L82.0 289.3 L83.8 285.3 L85.5 281.7 L87.3 278.6 L89.1 276.0 L90.9 273.9 L92.6 272.4 L94.4 271.4 L96.2 270.9 L98.0 270.7 L99.7 270.7 L101.5 270.9 L103.3 271.3 L105.1 271.8 L106.8 272.4 L108.6 273.0 L110.4 273.7 L112.2 274.4 L113.9 275.1 L115.7 275.7 L117.5 276.3 L119.3 276.8 L121.0 277.2 L122.8 277.6 L124.6 277.9 L126.4 278.2 L128.1 278.4 L129.9 278.6 L131.7 278.7 L133.5 278.8 L135.2 278.9 L137.0 279.0 L138.8 279.0 L140.6 279.1 L142.3 279.1 L144.1 279.1 L145.9 279.1 L147.7 279.1 L149.4 279.1 L151.2 279.1"/>
<path d="M54.4 337.6 L58.6 347.1 L62.9 357.3 L64.6 361.5 L67.1 352.2 L71.3 337.6 L73.1 321.9 L74.9 309.5 L76.7 299.5 L78.4 291.4 L80.2 284.6 L82.0 278.7 L83.8 273.6 L85.5 269.0 L87.3 264.9 L89.1 261.2 L90.9 258.1 L92.6 255.6 L94.4 253.8 L96.2 252.8 L98.0 252.4 L99.7 252.4 L101.5 252.6 L103.3 253.1 L105.1 253.8 L106.8 254.7 L108.6 255.7 L110.4 256.7 L112.2 257.8 L113.9 258.9 L115.7 259.9 L117.5 260.9 L119.3 261.8 L121.0 262.6 L122.8 263.2 L124.6 263.8 L126.4 264.3 L128.1 264.7 L129.9 265.1 L131.7 265.3 L133.5 265.5 L135.2 265.7 L137.0 265.8 L138.8 265.9 L140.6 266.0 L142.3 266.0 L144.1 266.0 L145.9 266.1 L147.7 266.1 L149.4 266.1 L151.2 266.1"/>
<path d="M54.4 337.6 L58.6 342.9 L62.9 348.7 L64.6 351.0 L67.1 345.8 L71.3 337.6 L73.1 327.3 L74.9 319.2 L76.7 312.7 L78.4 307.4 L80.2 303.2 L82.0 299.6 L83.8 296.6 L85.5 294.0 L87.3 291.8 L89.1 290.0 L90.9 288.5 L92.6 287.4 L94.4 286.7 L96.2 286.3 L98.0 286.0 L99.7 286.0 L101.5 286.0 L103.3 286.2 L105.1 286.4 L106.8 286.8 L108.6 287.1 L110.4 287.5 L112.2 287.9 L113.9 288.2 L115.7 288.6 L117.5 288.9 L119.3 289.2 L121.0 289.5 L122.8 289.7 L124.6 289.9 L126.4 290.1 L128.1 290.2 L129.9 290.3 L131.7 290.4 L133.5 290.4 L135.2 290.5 L137.0 290.5 L138.8 290.5 L140.6 290.6 L142.3 290.6 L144.1 290.6 L145.9 290.6 L147.7 290.6 L149.4 290.6 L151.2 290.6"/>
<path d="M54.4 337.6 L58.6 340.3 L62.9 343.2 L64.6 344.4 L67.1 341.7 L71.3 337.6 L73.1 336.5 L74.9 335.6 L76.7 334.9 L78.4 334.3 L80.2 333.8 L82.0 333.4 L83.8 332.9 L85.5 332.6 L87.3 332.2 L89.1 331.9 L90.9 331.6 L92.6 331.3 L94.4 331.2 L96.2 331.1 L98.0 331.0 L99.7 331.0 L101.5 331.1 L103.3 331.1 L105.1 331.2 L106.8 331.3 L108.6 331.4 L110.4 331.5 L112.2 331.7 L113.9 331.8 L115.7 331.9 L117.5 332.0 L119.3 332.1 L121.0 332.2 L122.8 332.3 L124.6 332.3 L126.4 332.4 L128.1 332.4 L129.9 332.5 L131.7 332.5 L133.5 332.5 L135.2 332.5 L137.0 332.5 L138.8 332.6 L140.6 332.6 L142.3 332.6 L144.1 332.6 L145.9 332.6 L147.7 332.6 L149.4 332.6 L151.2 332.6"/>
<path d="M54.4 337.6 L58.6 337.9 L62.9 338.2 L64.6 338.3 L67.1 338.1 L71.3 337.6 L73.1 333.6 L74.9 330.3 L76.7 327.5 L78.4 325.1 L80.2 322.9 L82.0 320.9 L83.8 319.0 L85.5 317.3 L87.3 315.8 L89.1 314.5 L90.9 313.6 L92.6 313.1 L94.4 312.9 L96.2 312.8 L98.0 312.9 L99.7 313.2 L101.5 313.6 L103.3 314.0 L105.1 314.5 L106.8 315.1 L108.6 315.6 L110.4 316.2 L112.2 316.8 L113.9 317.3 L115.7 317.7 L117.5 318.2 L119.3 318.5 L121.0 318.9 L122.8 319.1 L124.6 319.4 L126.4 319.6 L128.1 319.7 L129.9 319.8 L131.7 319.9 L133.5 320.0 L135.2 320.0 L137.0 320.1 L138.8 320.1 L140.6 320.1 L142.3 320.1 L144.1 320.1 L145.9 320.1 L147.7 320.1 L149.4 320.1 L151.2 320.1"/>
<path d="M54.4 337.6 L58.6 349.0 L62.9 361.3 L64.6 366.3 L67.1 355.1 L71.3 337.6 L73.1 336.5 L74.9 335.6 L76.7 334.8 L78.4 333.9 L80.2 333.1 L82.0 332.2 L83.8 331.3 L85.5 330.5 L87.3 329.6 L89.1 328.9 L90.9 328.3 L92.6 327.9 L94.4 327.7 L96.2 327.7 L98.0 327.8 L99.7 328.0 L101.5 328.3 L103.3 328.6 L105.1 329.0 L106.8 329.4 L108.6 329.8 L110.4 330.2 L112.2 330.6 L113.9 331.0 L115.7 331.3 L117.5 331.7 L119.3 332.0 L121.0 332.2 L122.8 332.4 L124.6 332.6 L126.4 332.8 L128.1 332.9 L129.9 333.0 L131.7 333.0 L133.5 333.1 L135.2 333.1 L137.0 333.2 L138.8 333.2 L140.6 333.2 L142.3 333.2 L144.1 333.2 L145.9 333.2 L147.7 333.2 L149.4 333.2 L151.2 333.2"/>
<path d="M54.4 337.6 L58.6 341.4 L62.9 345.6 L64.6 347.2 L67.1 343.5 L71.3 337.6 L73.1 322.8 L74.9 311.1 L76.7 301.6 L78.4 293.8 L80.2 287.4 L82.0 282.0 L83.8 277.4 L85.5 273.6 L87.3 270.5 L89.1 268.0 L90.9 266.2 L92.6 265.1 L94.4 264.4 L96.2 264.0 L98.0 263.9 L99.7 264.0 L101.5 264.2 L103.3 264.7 L105.1 265.1 L106.8 265.7 L108.6 266.3 L110.4 266.9 L112.2 267.5 L113.9 268.0 L115.7 268.5 L117.5 269.0 L119.3 269.3 L121.0 269.7 L122.8 270.0 L124.6 270.2 L126.4 270.4 L128.1 270.5 L129.9 270.6 L131.7 270.7 L133.5 270.8 L135.2 270.8 L137.0 270.9 L138.8 270.9 L140.6 270.9 L142.3 270.9 L144.1 270.9 L145.9 270.9 L147.7 270.9 L149.4 270.9 L151.2 270.9"/>
<path d="M54.4 337.6 L58.6 342.8 L62.9 348.5 L64.6 350.7 L67.1 345.6 L71.3 337.6 L73.1 334.2 L74.9 331.4 L76.7 328.9 L78.4 326.7 L80.2 324.7 L82.0 322.8 L83.8 321.0 L85.5 319.4 L87.3 317.9 L89.1 316.7 L90.9 315.8 L92.6 315.3 L94.4 315.1 L96.2 315.1 L98.0 315.3 L99.7 315.6 L101.5 316.0 L103.3 316.5 L105.1 317.0 L106.8 317.6 L108.6 318.2 L110.4 318.8 L112.2 319.4 L113.9 319.9 L115.7 320.4 L117.5 320.9 L119.3 321.3 L121.0 321.6 L122.8 321.9 L124.6 322.1 L126.4 322.3 L128.1 322.5 L129.9 322.6 L131.7 322.7 L133.5 322.8 L135.2 322.8 L137.0 322.9 L138.8 322.9 L140.6 322.9 L142.3 322.9 L144.1 322.9 L145.9 322.9 L147.7 322.9 L149.4 322.9 L151.2 322.9"/>
<path d="M54.4 337.6 L58.6 347.9 L62.9 358.9 L64.6 363.4 L67.1 353.4 L71.3 337.6 L73.1 328.5 L74.9 321.1 L76.7 315.2 L78.4 310.3 L80.2 306.1 L82.0 302.6 L83.8 299.6 L85.5 297.1 L87.3 295.1 L89.1 293.5 L90.9 292.4 L92.6 291.7 L94.4 291.3 L96.2 291.1 L98.0 291.1 L99.7 291.2 L101.5 291.5 L103.3 291.8 L105.1 292.2 L106.8 292.7 L108.6 293.1 L110.4 293.6 L112.2 294.0 L113.9 294.5 L115.7 294.8 L117.5 295.2 L119.3 295.5 L121.0 295.7 L122.8 295.9 L124.6 296.1 L126.4 296.2 L128.1 296.3 L129.9 296.4 L131.7 296.5 L133.5 296.5 L135.2 296.6 L137.0 296.6 L138.8 296.6 L140.6 296.6 L142.3 296.6 L144.1 296.6 L145.9 296.6 L147.7 296.6 L149.4 296.6 L151.2 296.6"/>
<path d="M54.4 337.6 L58.6 348.9 L62.9 361.0 L64.6 366.0 L67.1 354.9 L71.3 337.6 L73.1 328.3 L74.9 321.0 L76.7 315.2 L78.4 310.5 L80.2 306.7 L82.0 303.7 L83.8 301.1 L85.5 298.9 L87.3 297.1 L89.1 295.6 L90.9 294.4 L92.6 293.4 L94.4 292.7 L96.2 292.3 L98.0 292.1 L99.7 291.9 L101.5 291.9 L103.3 292.0 L105.1 292.1 L106.8 292.3 L108.6 292.5 L110.4 292.8 L112.2 293.0 L113.9 293.3 L115.7 293.5 L117.5 293.8 L119.3 294.0 L121.0 294.2 L122.8 294.3 L124.6 294.5 L126.4 294.6 L128.1 294.7 L129.9 294.7 L131.7 294.8 L133.5 294.9 L135.2 294.9 L137.0 294.9 L138.8 294.9 L140.6 295.0 L142.3 295.0 L144.1 295.0 L145.9 295.0 L147.7 295.0 L149.4 295.0 L151.2 295.0"/>
<path d="M54.4 337.6 L58.6 341.4 L62.9 345.5 L64.6 347.1 L67.1 343.4 L71.3 337.6 L73.1 329.7 L74.9 323.2 L76.7 317.8 L78.4 313.2 L80.2 309.3 L82.0 305.8 L83.8 302.7 L85.5 300.0 L87.3 297.7 L89.1 296.0 L90.9 294.8 L92.6 294.1 L94.4 293.8 L96.2 293.8 L98.0 293.9 L99.7 294.2 L101.5 294.7 L103.3 295.3 L105.1 295.9 L106.8 296.6 L108.6 297.3 L110.4 298.0 L112.2 298.7 L113.9 299.3 L115.7 299.8 L117.5 300.3 L119.3 300.8 L121.0 301.2 L122.8 301.5 L124.6 301.7 L126.4 301.9 L128.1 302.1 L129.9 302.2 L131.7 302.3 L133.5 302.4 L135.2 302.4 L137.0 302.5 L138.8 302.5 L140.6 302.5 L142.3 302.5 L144.1 302.5 L145.9 302.5 L147.7 302.5 L149.4 302.6 L151.2 302.6"/>
<path d="M54.4 337.6 L58.6 345.9 L62.9 354.8 L64.6 358.4 L67.1 350.3 L71.3 337.6 L73.1 329.5 L74.9 323.1 L76.7 317.9 L78.4 313.8 L80.2 310.4 L82.0 307.6 L83.8 305.3 L85.5 303.3 L87.3 301.7 L89.1 300.4 L90.9 299.4 L92.6 298.8 L94.4 298.3 L96.2 298.1 L98.0 297.9 L99.7 297.9 L101.5 298.0 L103.3 298.1 L105.1 298.3 L106.8 298.5 L108.6 298.7 L110.4 298.9 L112.2 299.2 L113.9 299.4 L115.7 299.6 L117.5 299.8 L119.3 300.0 L121.0 300.1 L122.8 300.3 L124.6 300.4 L126.4 300.5 L128.1 300.5 L129.9 300.6 L131.7 300.6 L133.5 300.7 L135.2 300.7 L137.0 300.7 L138.8 300.7 L140.6 300.7 L142.3 300.7 L144.1 300.7 L145.9 300.7 L147.7 300.7 L149.4 300.7 L151.2 300.7"/>
<path d="M54.4 337.6 L58.6 345.9 L62.9 354.8 L64.6 358.4 L67.1 350.3 L71.3 337.6 L73.1 333.3 L74.9 329.8 L76.7 326.7 L78.4 324.0 L80.2 321.6 L82.0 319.3 L83.8 317.2 L85.5 315.4 L87.3 313.8 L89.1 312.6 L90.9 311.9 L92.6 311.5 L94.4 311.4 L96.2 311.5 L98.0 311.7 L99.7 312.0 L101.5 312.5 L103.3 313.0 L105.1 313.6 L106.8 314.3 L108.6 314.9 L110.4 315.5 L112.2 316.1 L113.9 316.6 L115.7 317.1 L117.5 317.5 L119.3 317.9 L121.0 318.2 L122.8 318.5 L124.6 318.7 L126.4 318.9 L128.1 319.0 L129.9 319.1 L131.7 319.2 L133.5 319.3 L135.2 319.3 L137.0 319.4 L138.8 319.4 L140.6 319.4 L142.3 319.4 L144.1 319.4 L145.9 319.4 L147.7 319.4 L149.4 319.4 L151.2 319.4"/>
<path d="M54.4 337.6 L58.6 350.1 L62.9 363.6 L64.6 369.1 L67.1 356.8 L71.3 337.6 L73.1 326.5 L74.9 317.7 L76.7 310.5 L78.4 304.5 L80.2 299.3 L82.0 294.7 L83.8 290.5 L85.5 286.6 L87.3 282.9 L89.1 279.7 L90.9 276.9 L92.6 274.7 L94.4 273.2 L96.2 272.5 L98.0 272.3 L99.7 272.4 L101.5 272.8 L103.3 273.5 L105.1 274.4 L106.8 275.4 L108.6 276.5 L110.4 277.7 L112.2 278.8 L113.9 280.0 L115.7 281.1 L117.5 282.1 L119.3 283.1 L121.0 283.9 L122.8 284.6 L124.6 285.3 L126.4 285.8 L128.1 286.2 L129.9 286.5 L131.7 286.8 L133.5 287.0 L135.2 287.2 L137.0 287.3 L138.8 287.4 L140.6 287.4 L142.3 287.5 L144.1 287.5 L145.9 287.5 L147.7 287.6 L149.4 287.6 L151.2 287.6"/>
<path d="M54.4 337.6 L58.6 345.8 L62.9 354.7 L64.6 358.3 L67.1 350.2 L71.3 337.6 L73.1 332.4 L74.9 328.2 L76.7 324.8 L78.4 322.0 L80.2 319.6 L82.0 317.5 L83.8 315.6 L85.5 313.9 L87.3 312.3 L89.1 310.8 L90.9 309.6 L92.6 308.6 L94.4 308.0 L96.2 307.6 L98.0 307.5 L99.7 307.5 L101.5 307.7 L103.3 308.0 L105.1 308.3 L106.8 308.7 L108.6 309.2 L110.4 309.6 L112.2 310.1 L113.9 310.6 L115.7 311.1 L117.5 311.5 L119.3 311.9 L121.0 312.3 L122.8 312.6 L124.6 312.8 L126.4 313.0 L128.1 313.2 L129.9 313.4 L131.7 313.5 L133.5 313.6 L135.2 313.6 L137.0 313.7 L138.8 313.7 L140.6 313.7 L142.3 313.8 L144.1 313.8 L145.9 313.8 L147.7 313.8 L149.4 313.8 L151.2 313.8"/>
<path d="M54.4 337.6 L58.6 345.0 L62.9 352.9 L64.6 356.1 L67.1 348.9 L71.3 337.6 L73.1 326.4 L74.9 317.3 L76.7 309.8 L78.4 303.5 L80.2 298.2 L82.0 293.5 L83.8 289.5 L85.5 286.1 L87.3 283.3 L89.1 281.3 L90.9 279.9 L92.6 279.1 L94.4 278.7 L96.2 278.6 L98.0 278.7 L99.7 279.1 L101.5 279.6 L103.3 280.2 L105.1 280.9 L106.8 281.7 L108.6 282.5 L110.4 283.2 L112.2 283.9 L113.9 284.6 L115.7 285.2 L117.5 285.7 L119.3 286.2 L121.0 286.6 L122.8 286.9 L124.6 287.2 L126.4 287.4 L128.1 287.6 L129.9 287.7 L131.7 287.8 L133.5 287.9 L135.2 287.9 L137.0 288.0 L138.8 288.0 L140.6 288.0 L142.3 288.0 L144.1 288.0 L145.9 288.0 L147.7 288.0 L149.4 288.0 L151.2 288.0"/>
<path d="M54.4 337.6 L58.6 351.4 L62.9 366.1 L64.6 372.2 L67.1 358.7 L71.3 337.6 L73.1 336.4 L74.9 335.4 L76.7 334.6 L78.4 333.9 L80.2 333.3 L82.0 332.7 L83.8 332.2 L85.5 331.7 L87.3 331.3 L89.1 330.9 L90.9 330.6 L92.6 330.4 L94.4 330.3 L96.2 330.2 L98.0 330.2 L99.7 330.2 L101.5 330.3 L103.3 330.4 L105.1 330.5 L106.8 330.6 L108.6 330.8 L110.4 330.9 L112.2 331.1 L113.9 331.2 L115.7 331.3 L117.5 331.5 L119.3 331.6 L121.0 331.7 L122.8 331.7 L124.6 331.8 L126.4 331.9 L128.1 331.9 L129.9 331.9 L131.7 332.0 L133.5 332.0 L135.2 332.0 L137.0 332.0 L138.8 332.0 L140.6 332.0 L142.3 332.1 L144.1 332.1 L145.9 332.1 L147.7 332.1 L149.4 332.1 L151.2 332.1"/>
<path d="M54.4 337.6 L58.6 342.1 L62.9 346.9 L64.6 348.9 L67.1 344.5 L71.3 337.6 L73.1 333.6 L74.9 330.4 L76.7 327.8 L78.4 325.8 L80.2 324.1 L82.0 322.6 L83.8 321.4 L85.5 320.4 L87.3 319.5 L89.1 318.9 L90.9 318.3 L92.6 317.9 L94.4 317.7 L96.2 317.6 L98.0 317.5 L99.7 317.5 L101.5 317.6 L103.3 317.7 L105.1 317.8 L106.8 317.9 L108.6 318.1 L110.4 318.2 L112.2 318.4 L113.9 318.5 L115.7 318.6 L117.5 318.8 L119.3 318.9 L121.0 319.0 L122.8 319.0 L124.6 319.1 L126.4 319.2 L128.1 319.2 L129.9 319.2 L131.7 319.3 L133.5 319.3 L135.2 319.3 L137.0 319.3 L138.8 319.3 L140.6 319.3 L142.3 319.3 L144.1 319.3 L145.9 319.3 L147.7 319.3 L149.4 319.3 L151.2 319.3"/>
<path d="M54.4 337.6 L58.6 341.3 L62.9 345.3 L64.6 347.0 L67.1 343.3 L71.3 337.6 L73.1 336.9 L74.9 336.4 L76.7 335.9 L78.4 335.5 L80.2 335.0 L82.0 334.6 L83.8 334.2 L85.5 333.8 L87.3 333.5 L89.1 333.2 L90.9 332.9 L92.6 332.8 L94.4 332.7 L96.2 332.7 L98.0 332.8 L99.7 332.9 L101.5 333.0 L103.3 333.1 L105.1 333.2 L106.8 333.4 L108.6 333.5 L110.4 333.7 L112.2 333.8 L113.9 334.0 L115.7 334.1 L117.5 334.2 L119.3 334.3 L121.0 334.4 L122.8 334.5 L124.6 334.6 L126.4 334.6 L128.1 334.7 L129.9 334.7 L131.7 334.7 L133.5 334.8 L135.2 334.8 L137.0 334.8 L138.8 334.8 L140.6 334.8 L142.3 334.8 L144.1 334.8 L145.9 334.8 L147.7 334.8 L149.4 334.8 L151.2 334.8"/>
<path d="M54.4 337.6 L58.6 350.4 L62.9 364.1 L64.6 369.7 L67.1 357.2 L71.3 337.6 L73.1 324.8 L74.9 314.5 L76.7 305.9 L78.4 298.6 L80.2 292.2 L82.0 286.5 L83.8 281.3 L85.5 276.7 L87.3 272.7 L89.1 269.4 L90.9 267.0 L92.6 265.5 L94.4 264.8 L96.2 264.6 L98.0 264.7 L99.7 265.2 L101.5 266.0 L103.3 266.9 L105.1 268.1 L106.8 269.3 L108.6 270.6 L110.4 271.9 L112.2 273.1 L113.9 274.3 L115.7 275.4 L117.5 276.4 L119.3 277.3 L121.0 278.0 L122.8 278.6 L124.6 279.2 L126.4 279.6 L128.1 279.9 L129.9 280.2 L131.7 280.4 L133.5 280.5 L135.2 280.7 L137.0 280.7 L138.8 280.8 L140.6 280.9 L142.3 280.9 L144.1 280.9 L145.9 280.9 L147.7 280.9 L149.4 280.9 L151.2 280.9"/>
<path d="M54.4 337.6 L58.6 345.0 L62.9 353.0 L64.6 356.2 L67.1 349.0 L71.3 337.6 L73.1 336.5 L74.9 335.6 L76.7 334.9 L78.4 334.2 L80.2 333.6 L82.0 333.0 L83.8 332.5 L85.5 332.0 L87.3 331.5 L89.1 331.1 L90.9 330.7 L92.6 330.5 L94.4 330.3 L96.2 330.3 L98.0 330.3 L99.7 330.4 L101.5 330.5 L103.3 330.7 L105.1 330.8 L106.8 331.0 L108.6 331.2 L110.4 331.4 L112.2 331.6 L113.9 331.8 L115.7 331.9 L117.5 332.1 L119.3 332.2 L121.0 332.3 L122.8 332.5 L124.6 332.5 L126.4 332.6 L128.1 332.7 L129.9 332.7 L131.7 332.8 L133.5 332.8 L135.2 332.8 L137.0 332.8 L138.8 332.8 L140.6 332.8 L142.3 332.8 L144.1 332.8 L145.9 332.8 L147.7 332.9 L149.4 332.9 L151.2 332.9"/>
<path d="M54.4 337.6 L58.6 350.1 L62.9 363.5 L64.6 369.0 L67.1 356.8 L71.3 337.6 L73.1 326.0 L74.9 316.8 L76.7 309.3 L78.4 303.1 L80.2 297.8 L82.0 293.2 L83.8 289.1 L85.5 285.3 L87.3 282.0 L89.1 279.0 L90.9 276.6 L92.6 274.8 L94.4 273.6 L96.2 273.1 L98.0 272.9 L99.7 273.1 L101.5 273.4 L103.3 274.0 L105.1 274.7 L106.8 275.6 L108.6 276.5 L110.4 277.4 L112.2 278.4 L113.9 279.4 L115.7 280.3 L117.5 281.1 L119.3 281.8 L121.0 282.5 L122.8 283.0 L124.6 283.5 L126.4 283.9 L128.1 284.2 L129.9 284.5 L131.7 284.7 L133.5 284.9 L135.2 285.0 L137.0 285.1 L138.8 285.1 L140.6 285.2 L142.3 285.2 L144.1 285.2 L145.9 285.3 L147.7 285.3 L149.4 285.3 L151.2 285.3"/>
<path d="M54.4 337.6 L58.6 350.0 L62.9 363.2 L64.6 368.6 L67.1 356.5 L71.3 337.6 L73.1 333.8 L74.9 330.6 L76.7 328.0 L78.4 325.7 L80.2 323.6 L82.0 321.7 L83.8 319.9 L85.5 318.1 L87.3 316.6 L89.1 315.2 L90.9 314.0 L92.6 313.2 L94.4 312.8 L96.2 312.7 L98.0 312.7 L99.7 312.9 L101.5 313.2 L103.3 313.7 L105.1 314.2 L106.8 314.7 L108.6 315.3 L110.4 315.9 L112.2 316.5 L113.9 317.1 L115.7 317.6 L117.5 318.1 L119.3 318.6 L121.0 318.9 L122.8 319.3 L124.6 319.5 L126.4 319.8 L128.1 320.0 L129.9 320.1 L131.7 320.2 L133.5 320.3 L135.2 320.4 L137.0 320.4 L138.8 320.5 L140.6 320.5 L142.3 320.5 L144.1 320.5 L145.9 320.5 L147.7 320.5 L149.4 320.5 L151.2 320.5"/>
<path d="M54.4 337.6 L58.6 349.1 L62.9 361.4 L64.6 366.4 L67.1 355.2 L71.3 337.6 L73.1 334.2 L74.9 331.5 L76.7 329.3 L78.4 327.4 L80.2 325.8 L82.0 324.2 L83.8 322.8 L85.5 321.5 L87.3 320.3 L89.1 319.2 L90.9 318.2 L92.6 317.5 L94.4 317.0 L96.2 316.8 L98.0 316.8 L99.7 316.9 L101.5 317.0 L103.3 317.3 L105.1 317.6 L106.8 318.0 L108.6 318.5 L110.4 318.9 L112.2 319.3 L113.9 319.8 L115.7 320.2 L117.5 320.5 L119.3 320.9 L121.0 321.2 L122.8 321.4 L124.6 321.6 L126.4 321.8 L128.1 322.0 L129.9 322.1 L131.7 322.2 L133.5 322.3 L135.2 322.3 L137.0 322.4 L138.8 322.4 L140.6 322.4 L142.3 322.4 L144.1 322.5 L145.9 322.5 L147.7 322.5 L149.4 322.5 L151.2 322.5"/>
<path d="M54.4 337.6 L58.6 343.6 L62.9 350.1 L64.6 352.7 L67.1 346.8 L71.3 337.6 L73.1 337.2 L74.9 336.9 L76.7 336.6 L78.4 336.4 L80.2 336.1 L82.0 335.8 L83.8 335.6 L85.5 335.3 L87.3 335.1 L89.1 334.9 L90.9 334.7 L92.6 334.6 L94.4 334.6 L96.2 334.6 L98.0 334.6 L99.7 334.7 L101.5 334.8 L103.3 334.9 L105.1 335.0 L106.8 335.1 L108.6 335.2 L110.4 335.3 L112.2 335.4 L113.9 335.5 L115.7 335.6 L117.5 335.7 L119.3 335.8 L121.0 335.8 L122.8 335.9 L124.6 335.9 L126.4 336.0 L128.1 336.0 L129.9 336.0 L131.7 336.0 L133.5 336.1 L135.2 336.1 L137.0 336.1 L138.8 336.1 L140.6 336.1 L142.3 336.1 L144.1 336.1 L145.9 336.1 L147.7 336.1 L149.4 336.1 L151.2 336.1"/>
<path d="M54.4 337.6 L58.6 344.9 L62.9 352.8 L64.6 356.0 L67.1 348.8 L71.3 337.6 L73.1 325.4 L74.9 315.8 L76.7 308.2 L78.4 302.1 L80.2 297.0 L82.0 292.7 L83.8 289.0 L85.5 285.7 L87.3 282.7 L89.1 280.0 L90.9 277.5 L92.6 275.4 L94.4 273.8 L96.2 272.6 L98.0 272.0 L99.7 271.8 L101.5 271.9 L103.3 272.1 L105.1 272.5 L106.8 273.0 L108.6 273.7 L110.4 274.4 L112.2 275.2 L113.9 276.0 L115.7 276.7 L117.5 277.5 L119.3 278.2 L121.0 278.8 L122.8 279.4 L124.6 279.9 L126.4 280.3 L128.1 280.7 L129.9 280.9 L131.7 281.2 L133.5 281.4 L135.2 281.5 L137.0 281.6 L138.8 281.7 L140.6 281.8 L142.3 281.8 L144.1 281.8 L145.9 281.9 L147.7 281.9 L149.4 281.9 L151.2 281.9"/>
<path d="M54.4 337.6 L58.6 350.8 L62.9 364.9 L64.6 370.7 L67.1 357.8 L71.3 337.6 L73.1 327.4 L74.9 319.3 L76.7 312.7 L78.4 307.4 L80.2 302.9 L82.0 299.1 L83.8 295.7 L85.5 292.6 L87.3 289.9 L89.1 287.4 L90.9 285.4 L92.6 283.7 L94.4 282.6 L96.2 282.0 L98.0 281.8 L99.7 281.8 L101.5 282.0 L103.3 282.3 L105.1 282.8 L106.8 283.4 L108.6 284.1 L110.4 284.8 L112.2 285.5 L113.9 286.3 L115.7 287.0 L117.5 287.6 L119.3 288.2 L121.0 288.7 L122.8 289.2 L124.6 289.6 L126.4 289.9 L128.1 290.2 L129.9 290.4 L131.7 290.6 L133.5 290.7 L135.2 290.8 L137.0 290.9 L138.8 290.9 L140.6 291.0 L142.3 291.0 L144.1 291.0 L145.9 291.1 L147.7 291.1 L149.4 291.1 L151.2 291.1"/>
<path d="M54.4 337.6 L58.6 342.3 L62.9 347.3 L64.6 349.3 L67.1 344.8 L71.3 337.6 L73.1 335.6 L74.9 333.9 L76.7 332.5 L78.4 331.3 L80.2 330.2 L82.0 329.2 L83.8 328.4 L85.5 327.6 L87.3 326.9 L89.1 326.4 L90.9 326.0 L92.6 325.8 L94.4 325.7 L96.2 325.7 L98.0 325.8 L99.7 325.9 L101.5 326.0 L103.3 326.2 L105.1 326.4 L106.8 326.7 L108.6 326.9 L110.4 327.1 L112.2 327.3 L113.9 327.6 L115.7 327.7 L117.5 327.9 L119.3 328.1 L121.0 328.2 L122.8 328.3 L124.6 328.4 L126.4 328.5 L128.1 328.5 L129.9 328.6 L131.7 328.6 L133.5 328.6 L135.2 328.6 L137.0 328.6 L138.8 328.7 L140.6 328.7 L142.3 328.7 L144.1 328.7 L145.9 328.7 L147.7 328.7 L149.4 328.7 L151.2 328.7"/>
<path d="M54.4 337.6 L58.6 349.1 L62.9 361.4 L64.6 366.5 L67.1 355.2 L71.3 337.6 L73.1 334.8 L74.9 332.6 L76.7 330.7 L78.4 329.0 L80.2 327.5 L82.0 326.1 L83.8 324.8 L85.5 323.6 L87.3 322.5 L89.1 321.5 L90.9 320.7 L92.6 320.1 L94.4 319.8 L96.2 319.7 L98.0 319.8 L99.7 319.9 L101.5 320.2 L103.3 320.5 L105.1 320.8 L106.8 321.2 L108.6 321.6 L110.4 322.1 L112.2 322.5 L113.9 322.9 L115.7 323.3 L117.5 323.6 L119.3 323.9 L121.0 324.2 L122.8 324.4 L124.6 324.6 L126.4 324.8 L128.1 324.9 L129.9 325.0 L131.7 325.1 L133.5 325.2 L135.2 325.2 L137.0 325.2 L138.8 325.3 L140.6 325.3 L142.3 325.3 L144.1 325.3 L145.9 325.3 L147.7 325.3 L149.4 325.3 L151.2 325.3"/>
<path d="M54.4 337.6 L58.6 342.0 L62.9 346.8 L64.6 348.7 L67.1 344.4 L71.3 337.6 L73.1 323.4 L74.9 312.3 L76.7 303.5 L78.4 296.6 L80.2 291.0 L82.0 286.5 L83.8 282.8 L85.5 279.8 L87.3 277.2 L89.1 275.0 L90.9 273.1 L92.6 271.6 L94.4 270.4 L96.2 269.5 L98.0 268.9 L99.7 268.6 L101.5 268.5 L103.3 268.4 L105.1 268.5 L106.8 268.7 L108.6 268.9 L110.4 269.2 L112.2 269.5 L113.9 269.9 L115.7 270.2 L117.5 270.5 L119.3 270.8 L121.0 271.1 L122.8 271.4 L124.6 271.6 L126.4 271.8 L128.1 271.9 L129.9 272.0 L131.7 272.2 L133.5 272.2 L135.2 272.3 L137.0 272.3 L138.8 272.4 L140.6 272.4 L142.3 272.4 L144.1 272.4 L145.9 272.5 L147.7 272.5 L149.4 272.5 L151.2 272.5"/>
<path d="M54.4 337.6 L58.6 347.8 L62.9 358.8 L64.6 363.3 L67.1 353.3 L71.3 337.6 L73.1 331.0 L74.9 325.7 L76.7 321.6 L78.4 318.2 L80.2 315.5 L82.0 313.2 L83.8 311.3 L85.5 309.6 L87.3 308.2 L89.1 306.9 L90.9 305.8 L92.6 305.0 L94.4 304.3 L96.2 303.9 L98.0 303.7 L99.7 303.7 L101.5 303.7 L103.3 303.8 L105.1 303.9 L106.8 304.1 L108.6 304.4 L110.4 304.7 L112.2 305.0 L113.9 305.3 L115.7 305.5 L117.5 305.8 L119.3 306.0 L121.0 306.3 L122.8 306.5 L124.6 306.6 L126.4 306.8 L128.1 306.9 L129.9 307.0 L131.7 307.0 L133.5 307.1 L135.2 307.1 L137.0 307.2 L138.8 307.2 L140.6 307.2 L142.3 307.2 L144.1 307.2 L145.9 307.3 L147.7 307.3 L149.4 307.3 L151.2 307.3"/>
<path d="M54.4 337.6 L58.6 344.9 L62.9 352.8 L64.6 356.0 L67.1 348.8 L71.3 337.6 L73.1 334.0 L74.9 331.2 L76.7 328.9 L78.4 327.0 L80.2 325.4 L82.0 324.1 L83.8 322.9 L85.5 321.9 L87.3 321.1 L89.1 320.4 L90.9 319.8 L92.6 319.4 L94.4 319.2 L96.2 319.0 L98.0 319.0 L99.7 319.0 L101.5 319.1 L103.3 319.2 L105.1 319.3 L106.8 319.5 L108.6 319.7 L110.4 319.9 L112.2 320.1 L113.9 320.2 L115.7 320.4 L117.5 320.6 L119.3 320.7 L121.0 320.8 L122.8 320.9 L124.6 321.0 L126.4 321.1 L128.1 321.1 L129.9 321.2 L131.7 321.2 L133.5 321.2 L135.2 321.3 L137.0 321.3 L138.8 321.3 L140.6 321.3 L142.3 321.3 L144.1 321.3 L145.9 321.3 L147.7 321.3 L149.4 321.3 L151.2 321.3"/>
<path d="M54.4 337.6 L58.6 349.3 L62.9 361.8 L64.6 366.9 L67.1 355.5 L71.3 337.6 L73.1 322.7 L74.9 310.8 L76.7 301.1 L78.4 293.1 L80.2 286.2 L82.0 280.1 L83.8 274.7 L85.5 269.8 L87.3 265.3 L89.1 261.5 L90.9 258.3 L92.6 256.0 L94.4 254.6 L96.2 254.0 L98.0 253.8 L99.7 254.0 L101.5 254.5 L103.3 255.3 L105.1 256.3 L106.8 257.5 L108.6 258.7 L110.4 260.0 L112.2 261.3 L113.9 262.6 L115.7 263.8 L117.5 264.9 L119.3 265.8 L121.0 266.7 L122.8 267.4 L124.6 268.1 L126.4 268.6 L128.1 269.0 L129.9 269.4 L131.7 269.6 L133.5 269.8 L135.2 270.0 L137.0 270.1 L138.8 270.2 L140.6 270.2 L142.3 270.3 L144.1 270.3 L145.9 270.3 L147.7 270.3 L149.4 270.4 L151.2 270.4"/>
<path d="M54.4 337.6 L58.6 344.1 L62.9 351.1 L64.6 353.9 L67.1 347.6 L71.3 337.6 L73.1 325.3 L74.9 315.6 L76.7 307.9 L78.4 301.8 L80.2 296.7 L82.0 292.5 L83.8 288.9 L85.5 285.7 L87.3 282.9 L89.1 280.5 L90.9 278.3 L92.6 276.5 L94.4 275.1 L96.2 274.2 L98.0 273.7 L99.7 273.5 L101.5 273.5 L103.3 273.6 L105.1 274.0 L106.8 274.4 L108.6 274.9 L110.4 275.5 L112.2 276.1 L113.9 276.7 L115.7 277.3 L117.5 277.9 L119.3 278.5 L121.0 279.0 L122.8 279.4 L124.6 279.8 L126.4 280.1 L128.1 280.4 L129.9 280.6 L131.7 280.8 L133.5 280.9 L135.2 281.0 L137.0 281.1 L138.8 281.2 L140.6 281.2 L142.3 281.2 L144.1 281.3 L145.9 281.3 L147.7 281.3 L149.4 281.3 L151.2 281.3"/>
<path d="M54.4 337.6 L58.6 340.5 L62.9 343.5 L64.6 344.8 L67.1 342.0 L71.3 337.6 L73.1 337.0 L74.9 336.4 L76.7 336.0 L78.4 335.5 L80.2 335.0 L82.0 334.5 L83.8 334.0 L85.5 333.4 L87.3 332.8 L89.1 332.2 L90.9 331.7 L92.6 331.4 L94.4 331.1 L96.2 331.0 L98.0 331.0 L99.7 331.1 L101.5 331.2 L103.3 331.4 L105.1 331.6 L106.8 331.9 L108.6 332.2 L110.4 332.5 L112.2 332.8 L113.9 333.1 L115.7 333.3 L117.5 333.6 L119.3 333.8 L121.0 334.0 L122.8 334.2 L124.6 334.3 L126.4 334.5 L128.1 334.6 L129.9 334.7 L131.7 334.7 L133.5 334.8 L135.2 334.8 L137.0 334.8 L138.8 334.9 L140.6 334.9 L142.3 334.9 L144.1 334.9 L145.9 334.9 L147.7 334.9 L149.4 334.9 L151.2 334.9"/>
<path d="M54.4 337.6 L58.6 350.1 L62.9 363.5 L64.6 368.9 L67.1 356.7 L71.3 337.6 L73.1 328.6 L74.9 321.4 L76.7 315.4 L78.4 310.5 L80.2 306.3 L82.0 302.6 L83.8 299.3 L85.5 296.5 L87.3 294.0 L89.1 291.9 L90.9 290.4 L92.6 289.3 L94.4 288.8 L96.2 288.6 L98.0 288.6 L99.7 288.8 L101.5 289.1 L103.3 289.6 L105.1 290.2 L106.8 290.8 L108.6 291.5 L110.4 292.2 L112.2 292.9 L113.9 293.5 L115.7 294.1 L117.5 294.6 L119.3 295.1 L121.0 295.5 L122.8 295.9 L124.6 296.2 L126.4 296.4 L128.1 296.6 L129.9 296.7 L131.7 296.9 L133.5 296.9 L135.2 297.0 L137.0 297.1 L138.8 297.1 L140.6 297.1 L142.3 297.1 L144.1 297.2 L145.9 297.2 L147.7 297.2 L149.4 297.2 L151.2 297.2"/>
<path d="M54.4 337.6 L58.6 344.1 L62.9 351.1 L64.6 353.9 L67.1 347.6 L71.3 337.6 L73.1 337.4 L74.9 337.2 L76.7 337.1 L78.4 336.9 L80.2 336.7 L82.0 336.5 L83.8 336.3 L85.5 336.1 L87.3 335.9 L89.1 335.6 L90.9 335.5 L92.6 335.3 L94.4 335.3 L96.2 335.2 L98.0 335.3 L99.7 335.3 L101.5 335.4 L103.3 335.5 L105.1 335.6 L106.8 335.7 L108.6 335.8 L110.4 335.9 L112.2 336.0 L113.9 336.1 L115.7 336.2 L117.5 336.3 L119.3 336.4 L121.0 336.5 L122.8 336.6 L124.6 336.6 L126.4 336.7 L128.1 336.7 L129.9 336.7 L131.7 336.8 L133.5 336.8 L135.2 336.8 L137.0 336.8 L138.8 336.8 L140.6 336.8 L142.3 336.8 L144.1 336.8 L145.9 336.8 L147.7 336.8 L149.4 336.8 L151.2 336.8"/>
<path d="M54.4 337.6 L58.6 343.0 L62.9 348.8 L64.6 351.1 L67.1 345.9 L71.3 337.6 L73.1 333.2 L74.9 329.7 L76.7 326.8 L78.4 324.4 L80.2 322.4 L82.0 320.6 L83.8 318.9 L85.5 317.3 L87.3 315.8 L89.1 314.4 L90.9 313.1 L92.6 312.0 L94.4 311.2 L96.2 310.7 L98.0 310.5 L99.7 310.5 L101.5 310.6 L103.3 310.9 L105.1 311.2 L106.8 311.6 L108.6 312.1 L110.4 312.6 L112.2 313.2 L113.9 313.7 L115.7 314.2 L117.5 314.7 L119.3 315.2 L121.0 315.6 L122.8 316.0 L124.6 316.3 L126.4 316.5 L128.1 316.7 L129.9 316.9 L131.7 317.1 L133.5 317.2 L135.2 317.3 L137.0 317.3 L138.8 317.4 L140.6 317.4 L142.3 317.5 L144.1 317.5 L145.9 317.5 L147.7 317.5 L149.4 317.5 L151.2 317.5"/>
<path d="M54.4 337.6 L58.6 351.5 L62.9 366.4 L64.6 372.4 L67.1 358.9 L71.3 337.6 L73.1 333.8 L74.9 330.8 L76.7 328.2 L78.4 326.0 L80.2 324.1 L82.0 322.4 L83.8 320.9 L85.5 319.5 L87.3 318.3 L89.1 317.3 L90.9 316.6 L92.6 316.1 L94.4 315.9 L96.2 315.9 L98.0 315.9 L99.7 316.1 L101.5 316.3 L103.3 316.6 L105.1 317.0 L106.8 317.3 L108.6 317.7 L110.4 318.1 L112.2 318.5 L113.9 318.9 L115.7 319.2 L117.5 319.5 L119.3 319.8 L121.0 320.0 L122.8 320.2 L124.6 320.3 L126.4 320.5 L128.1 320.6 L129.9 320.7 L131.7 320.7 L133.5 320.8 L135.2 320.8 L137.0 320.8 L138.8 320.8 L140.6 320.9 L142.3 320.9 L144.1 320.9 L145.9 320.9 L147.7 320.9 L149.4 320.9 L151.2 320.9"/>
<path d="M54.4 337.6 L58.6 346.1 L62.9 355.1 L64.6 358.8 L67.1 350.6 L71.3 337.6 L73.1 324.3 L74.9 313.7 L76.7 305.1 L78.4 298.0 L80.2 292.0 L82.0 286.8 L83.8 282.1 L85.5 277.8 L87.3 274.0 L89.1 270.6 L90.9 267.7 L92.6 265.5 L94.4 264.1 L96.2 263.4 L98.0 263.1 L99.7 263.2 L101.5 263.6 L103.3 264.2 L105.1 265.0 L106.8 265.9 L108.6 267.0 L110.4 268.1 L112.2 269.2 L113.9 270.3 L115.7 271.3 L117.5 272.3 L119.3 273.1 L121.0 273.9 L122.8 274.6 L124.6 275.1 L126.4 275.6 L128.1 276.0 L129.9 276.3 L131.7 276.5 L133.5 276.7 L135.2 276.9 L137.0 277.0 L138.8 277.1 L140.6 277.1 L142.3 277.2 L144.1 277.2 L145.9 277.2 L147.7 277.2 L149.4 277.2 L151.2 277.2"/>
<path d="M54.4 337.6 L58.6 345.6 L62.9 354.2 L64.6 357.7 L67.1 349.9 L71.3 337.6 L73.1 329.5 L74.9 323.1 L76.7 318.1 L78.4 314.1 L80.2 310.9 L82.0 308.2 L83.8 306.0 L85.5 304.2 L87.3 302.6 L89.1 301.3 L90.9 300.2 L92.6 299.2 L94.4 298.5 L96.2 298.0 L98.0 297.8 L99.7 297.6 L101.5 297.5 L103.3 297.6 L105.1 297.7 L106.8 297.8 L108.6 298.0 L110.4 298.2 L112.2 298.4 L113.9 298.7 L115.7 298.9 L117.5 299.1 L119.3 299.3 L121.0 299.5 L122.8 299.7 L124.6 299.8 L126.4 299.9 L128.1 300.0 L129.9 300.1 L131.7 300.2 L133.5 300.2 L135.2 300.3 L137.0 300.3 L138.8 300.3 L140.6 300.4 L142.3 300.4 L144.1 300.4 L145.9 300.4 L147.7 300.4 L149.4 300.4 L151.2 300.4"/>
<path d="M54.4 337.6 L58.6 343.9 L62.9 350.6 L64.6 353.4 L67.1 347.2 L71.3 337.6 L73.1 326.2 L74.9 317.1 L76.7 309.9 L78.4 304.0 L80.2 299.2 L82.0 295.1 L83.8 291.5 L85.5 288.4 L87.3 285.5 L89.1 283.1 L90.9 281.0 L92.6 279.3 L94.4 278.0 L96.2 277.3 L98.0 277.0 L99.7 276.9 L101.5 277.0 L103.3 277.3 L105.1 277.7 L106.8 278.3 L108.6 278.9 L110.4 279.5 L112.2 280.2 L113.9 280.9 L115.7 281.5 L117.5 282.1 L119.3 282.7 L121.0 283.2 L122.8 283.6 L124.6 284.0 L126.4 284.3 L128.1 284.6 L129.9 284.8 L131.7 284.9 L133.5 285.1 L135.2 285.2 L137.0 285.2 L138.8 285.3 L140.6 285.3 L142.3 285.4 L144.1 285.4 L145.9 285.4 L147.7 285.4 L149.4 285.4 L151.2 285.4"/>
<path d="M54.4 337.6 L58.6 351.0 L62.9 365.3 L64.6 371.1 L67.1 358.1 L71.3 337.6 L73.1 337.5 L74.9 337.4 L76.7 337.2 L78.4 337.1 L80.2 337.0 L82.0 336.8 L83.8 336.6 L85.5 336.4 L87.3 336.2 L89.1 336.0 L90.9 335.9 L92.6 335.7 L94.4 335.7 L96.2 335.7 L98.0 335.7 L99.7 335.7 L101.5 335.8 L103.3 335.9 L105.1 336.0 L106.8 336.1 L108.6 336.2 L110.4 336.3 L112.2 336.4 L113.9 336.5 L115.7 336.6 L117.5 336.7 L119.3 336.8 L121.0 336.9 L122.8 336.9 L124.6 337.0 L126.4 337.0 L128.1 337.0 L129.9 337.1 L131.7 337.1 L133.5 337.1 L135.2 337.1 L137.0 337.1 L138.8 337.1 L140.6 337.1 L142.3 337.1 L144.1 337.1 L145.9 337.1 L147.7 337.1 L149.4 337.1 L151.2 337.2"/>
<path d="M54.4 337.6 L58.6 338.4 L62.9 339.2 L64.6 339.5 L67.1 338.8 L71.3 337.6 L73.1 324.4 L74.9 313.9 L76.7 305.3 L78.4 298.2 L80.2 292.1 L82.0 286.9 L83.8 282.4 L85.5 278.4 L87.3 275.0 L89.1 272.3 L90.9 270.2 L92.6 268.8 L94.4 268.1 L96.2 267.8 L98.0 267.8 L99.7 268.0 L101.5 268.4 L103.3 269.0 L105.1 269.7 L106.8 270.5 L108.6 271.4 L110.4 272.2 L112.2 273.1 L113.9 273.9 L115.7 274.6 L117.5 275.3 L119.3 275.9 L121.0 276.4 L122.8 276.8 L124.6 277.2 L126.4 277.4 L128.1 277.7 L129.9 277.9 L131.7 278.0 L133.5 278.1 L135.2 278.2 L137.0 278.2 L138.8 278.3 L140.6 278.3 L142.3 278.3 L144.1 278.4 L145.9 278.4 L147.7 278.4 L149.4 278.4 L151.2 278.4"/>
<path d="M54.4 337.6 L58.6 344.4 L62.9 351.7 L64.6 354.7 L67.1 348.0 L71.3 337.6 L73.1 327.7 L74.9 319.9 L76.7 313.6 L78.4 308.6 L80.2 304.4 L82.0 301.0 L83.8 298.2 L85.5 295.8 L87.3 293.8 L89.1 292.2 L90.9 291.0 L92.6 290.1 L94.4 289.6 L96.2 289.3 L98.0 289.1 L99.7 289.0 L101.5 289.1 L103.3 289.3 L105.1 289.5 L106.8 289.7 L108.6 290.0 L110.4 290.3 L112.2 290.6 L113.9 290.9 L115.7 291.2 L117.5 291.4 L119.3 291.6 L121.0 291.8 L122.8 292.0 L124.6 292.1 L126.4 292.2 L128.1 292.3 L129.9 292.3 L131.7 292.4 L133.5 292.4 L135.2 292.5 L137.0 292.5 L138.8 292.5 L140.6 292.5 L142.3 292.5 L144.1 292.5 L145.9 292.5 L147.7 292.5 L149.4 292.5 L151.2 292.5"/>
<path d="M54.4 337.6 L58.6 339.2 L62.9 341.0 L64.6 341.7 L67.1 340.1 L71.3 337.6 L73.1 336.6 L74.9 335.8 L76.7 335.2 L78.4 334.7 L80.2 334.2 L82.0 333.8 L83.8 333.5 L85.5 333.2 L87.3 332.9 L89.1 332.7 L90.9 332.5 L92.6 332.4 L94.4 332.3 L96.2 332.2 L98.0 332.2 L99.7 332.2 L101.5 332.3 L103.3 332.3 L105.1 332.4 L106.8 332.4 L108.6 332.5 L110.4 332.6 L112.2 332.6 L113.9 332.7 L115.7 332.8 L117.5 332.8 L119.3 332.9 L121.0 332.9 L122.8 333.0 L124.6 333.0 L126.4 333.0 L128.1 333.1 L129.9 333.1 L131.7 333.1 L133.5 333.1 L135.2 333.1 L137.0 333.1 L138.8 333.1 L140.6 333.1 L142.3 333.1 L144.1 333.1 L145.9 333.1 L147.7 333.1 L149.4 333.1 L151.2 333.1"/>
<path d="M54.4 337.6 L58.6 349.4 L62.9 362.1 L64.6 367.2 L67.1 355.7 L71.3 337.6 L73.1 323.7 L74.9 312.7 L76.7 304.0 L78.4 297.0 L80.2 291.3 L82.0 286.7 L83.8 282.8 L85.5 279.5 L87.3 276.7 L89.1 274.4 L90.9 272.4 L92.6 270.9 L94.4 269.8 L96.2 269.2 L98.0 268.8 L99.7 268.6 L101.5 268.5 L103.3 268.7 L105.1 268.9 L106.8 269.2 L108.6 269.6 L110.4 270.0 L112.2 270.4 L113.9 270.8 L115.7 271.2 L117.5 271.6 L119.3 272.0 L121.0 272.3 L122.8 272.6 L124.6 272.8 L126.4 273.0 L128.1 273.2 L129.9 273.3 L131.7 273.4 L133.5 273.5 L135.2 273.6 L137.0 273.6 L138.8 273.6 L140.6 273.7 L142.3 273.7 L144.1 273.7 L145.9 273.7 L147.7 273.7 L149.4 273.7 L151.2 273.7"/>
<path d="M54.4 337.6 L58.6 339.4 L62.9 341.4 L64.6 342.2 L67.1 340.4 L71.3 337.6 L73.1 328.9 L74.9 321.8 L76.7 316.0 L78.4 311.0 L80.2 306.6 L82.0 302.8 L83.8 299.3 L85.5 296.3 L87.3 293.7 L89.1 291.5 L90.9 290.0 L92.6 289.1 L94.4 288.7 L96.2 288.6 L98.0 288.7 L99.7 289.1 L101.5 289.6 L103.3 290.2 L105.1 291.0 L106.8 291.8 L108.6 292.6 L110.4 293.4 L112.2 294.2 L113.9 295.0 L115.7 295.7 L117.5 296.3 L119.3 296.8 L121.0 297.3 L122.8 297.7 L124.6 298.0 L126.4 298.3 L128.1 298.5 L129.9 298.6 L131.7 298.8 L133.5 298.9 L135.2 298.9 L137.0 299.0 L138.8 299.0 L140.6 299.0 L142.3 299.1 L144.1 299.1 L145.9 299.1 L147.7 299.1 L149.4 299.1 L151.2 299.1"/>
<path d="M54.4 337.6 L58.6 348.8 L62.9 360.7 L64.6 365.6 L67.1 354.7 L71.3 337.6 L73.1 324.0 L74.9 313.3 L76.7 304.7 L78.4 297.8 L80.2 292.1 L82.0 287.3 L83.8 283.3 L85.5 279.7 L87.3 276.6 L89.1 273.9 L90.9 271.7 L92.6 269.9 L94.4 268.7 L96.2 268.0 L98.0 267.7 L99.7 267.6 L101.5 267.7 L103.3 267.9 L105.1 268.4 L106.8 268.9 L108.6 269.5 L110.4 270.1 L112.2 270.7 L113.9 271.4 L115.7 272.0 L117.5 272.6 L119.3 273.1 L121.0 273.5 L122.8 273.9 L124.6 274.3 L126.4 274.6 L128.1 274.8 L129.9 275.0 L131.7 275.2 L133.5 275.3 L135.2 275.4 L137.0 275.4 L138.8 275.5 L140.6 275.5 L142.3 275.5 L144.1 275.6 L145.9 275.6 L147.7 275.6 L149.4 275.6 L151.2 275.6"/>
<path d="M54.4 337.6 L58.6 349.1 L62.9 361.4 L64.6 366.5 L67.1 355.2 L71.3 337.6 L73.1 322.8 L74.9 311.1 L76.7 301.7 L78.4 294.1 L80.2 287.8 L82.0 282.4 L83.8 277.9 L85.5 273.9 L87.3 270.4 L89.1 267.4 L90.9 265.0 L92.6 263.1 L94.4 261.8 L96.2 261.2 L98.0 260.9 L99.7 260.8 L101.5 261.0 L103.3 261.3 L105.1 261.8 L106.8 262.5 L108.6 263.2 L110.4 263.9 L112.2 264.6 L113.9 265.4 L115.7 266.1 L117.5 266.7 L119.3 267.3 L121.0 267.8 L122.8 268.3 L124.6 268.7 L126.4 269.0 L128.1 269.3 L129.9 269.5 L131.7 269.6 L133.5 269.8 L135.2 269.9 L137.0 269.9 L138.8 270.0 L140.6 270.0 L142.3 270.1 L144.1 270.1 L145.9 270.1 L147.7 270.1 L149.4 270.1 L151.2 270.1"/>
<path d="M54.4 337.6 L58.6 343.4 L62.9 349.5 L64.6 352.0 L67.1 346.4 L71.3 337.6 L73.1 332.3 L74.9 328.0 L76.7 324.6 L78.4 321.9 L80.2 319.6 L82.0 317.7 L83.8 316.1 L85.5 314.7 L87.3 313.5 L89.1 312.5 L90.9 311.8 L92.6 311.2 L94.4 310.9 L96.2 310.7 L98.0 310.6 L99.7 310.6 L101.5 310.7 L103.3 310.8 L105.1 311.0 L106.8 311.2 L108.6 311.4 L110.4 311.6 L112.2 311.9 L113.9 312.1 L115.7 312.3 L117.5 312.5 L119.3 312.6 L121.0 312.8 L122.8 312.9 L124.6 313.0 L126.4 313.1 L128.1 313.1 L129.9 313.2 L131.7 313.2 L133.5 313.3 L135.2 313.3 L137.0 313.3 L138.8 313.3 L140.6 313.3 L142.3 313.3 L144.1 313.3 L145.9 313.3 L147.7 313.3 L149.4 313.3 L151.2 313.3"/>
<path d="M54.4 337.6 L58.6 347.2 L62.9 357.4 L64.6 361.6 L67.1 352.3 L71.3 337.6 L73.1 333.8 L74.9 330.8 L76.7 328.4 L78.4 326.5 L80.2 324.8 L82.0 323.4 L83.8 322.1 L85.5 321.0 L87.3 319.9 L89.1 318.9 L90.9 318.0 L92.6 317.3 L94.4 316.7 L96.2 316.4 L98.0 316.3 L99.7 316.2 L101.5 316.3 L103.3 316.4 L105.1 316.6 L106.8 316.8 L108.6 317.1 L110.4 317.4 L112.2 317.8 L113.9 318.1 L115.7 318.4 L117.5 318.7 L119.3 319.0 L121.0 319.2 L122.8 319.4 L124.6 319.6 L126.4 319.8 L128.1 319.9 L129.9 320.0 L131.7 320.1 L133.5 320.2 L135.2 320.2 L137.0 320.3 L138.8 320.3 L140.6 320.3 L142.3 320.4 L144.1 320.4 L145.9 320.4 L147.7 320.4 L149.4 320.4 L151.2 320.4"/>
<path d="M54.4 337.6 L58.6 347.6 L62.9 358.2 L64.6 362.5 L67.1 352.8 L71.3 337.6 L73.1 333.8 L74.9 330.7 L76.7 328.2 L78.4 326.0 L80.2 324.2 L82.0 322.6 L83.8 321.0 L85.5 319.6 L87.3 318.2 L89.1 316.9 L90.9 315.8 L92.6 314.9 L94.4 314.2 L96.2 313.9 L98.0 313.8 L99.7 313.8 L101.5 314.0 L103.3 314.2 L105.1 314.6 L106.8 315.0 L108.6 315.5 L110.4 315.9 L112.2 316.4 L113.9 316.9 L115.7 317.4 L117.5 317.8 L119.3 318.2 L121.0 318.6 L122.8 318.9 L124.6 319.1 L126.4 319.4 L128.1 319.6 L129.9 319.7 L131.7 319.8 L133.5 319.9 L135.2 320.0 L137.0 320.0 L138.8 320.1 L140.6 320.1 L142.3 320.1 L144.1 320.2 L145.9 320.2 L147.7 320.2 L149.4 320.2 L151.2 320.2"/>
<path d="M54.4 337.6 L58.6 349.3 L62.9 361.8 L64.6 366.9 L67.1 355.5 L71.3 337.6 L73.1 330.3 L74.9 324.5 L76.7 319.9 L78.4 316.1 L80.2 312.9 L82.0 310.3 L83.8 308.0 L85.5 306.1 L87.3 304.5 L89.1 303.3 L90.9 302.3 L92.6 301.7 L94.4 301.4 L96.2 301.2 L98.0 301.1 L99.7 301.1 L101.5 301.2 L103.3 301.4 L105.1 301.7 L106.8 302.0 L108.6 302.3 L110.4 302.6 L112.2 302.9 L113.9 303.2 L115.7 303.4 L117.5 303.7 L119.3 303.9 L121.0 304.0 L122.8 304.2 L124.6 304.3 L126.4 304.4 L128.1 304.5 L129.9 304.6 L131.7 304.6 L133.5 304.6 L135.2 304.7 L137.0 304.7 L138.8 304.7 L140.6 304.7 L142.3 304.7 L144.1 304.7 L145.9 304.7 L147.7 304.7 L149.4 304.7 L151.2 304.7"/>
<path d="M54.4 337.6 L58.6 342.0 L62.9 346.7 L64.6 348.7 L67.1 344.3 L71.3 337.6 L73.1 332.8 L74.9 328.8 L76.7 325.4 L78.4 322.4 L80.2 319.8 L82.0 317.3 L83.8 315.0 L85.5 312.9 L87.3 311.1 L89.1 309.7 L90.9 308.6 L92.6 308.1 L94.4 307.9 L96.2 307.9 L98.0 308.0 L99.7 308.4 L101.5 308.8 L103.3 309.4 L105.1 310.0 L106.8 310.7 L108.6 311.4 L110.4 312.0 L112.2 312.7 L113.9 313.3 L115.7 313.9 L117.5 314.4 L119.3 314.8 L121.0 315.2 L122.8 315.5 L124.6 315.8 L126.4 316.0 L128.1 316.1 L129.9 316.3 L131.7 316.4 L133.5 316.4 L135.2 316.5 L137.0 316.5 L138.8 316.6 L140.6 316.6 L142.3 316.6 L144.1 316.6 L145.9 316.6 L147.7 316.6 L149.4 316.6 L151.2 316.6"/>
<path d="M54.4 337.6 L58.6 346.2 L62.9 355.5 L64.6 359.3 L67.1 350.8 L71.3 337.6 L73.1 331.5 L74.9 326.7 L76.7 322.8 L78.4 319.5 L80.2 316.7 L82.0 314.3 L83.8 312.1 L85.5 310.1 L87.3 308.4 L89.1 306.9 L90.9 305.7 L92.6 304.8 L94.4 304.3 L96.2 304.1 L98.0 304.0 L99.7 304.1 L101.5 304.3 L103.3 304.6 L105.1 305.0 L106.8 305.4 L108.6 305.9 L110.4 306.4 L112.2 306.9 L113.9 307.4 L115.7 307.8 L117.5 308.2 L119.3 308.6 L121.0 308.9 L122.8 309.2 L124.6 309.4 L126.4 309.6 L128.1 309.7 L129.9 309.9 L131.7 310.0 L133.5 310.0 L135.2 310.1 L137.0 310.1 L138.8 310.2 L140.6 310.2 L142.3 310.2 L144.1 310.2 L145.9 310.2 L147.7 310.2 L149.4 310.2 L151.2 310.2"/>
<path d="M54.4 337.6 L58.6 350.5 L62.9 364.4 L64.6 370.1 L67.1 357.4 L71.3 337.6 L73.1 326.9 L74.9 318.5 L76.7 311.9 L78.4 306.6 L80.2 302.3 L82.0 298.9 L83.8 296.0 L85.5 293.7 L87.3 291.7 L89.1 290.1 L90.9 288.8 L92.6 287.7 L94.4 287.0 L96.2 286.5 L98.0 286.2 L99.7 286.1 L101.5 286.0 L103.3 286.0 L105.1 286.1 L106.8 286.3 L108.6 286.5 L110.4 286.7 L112.2 286.9 L113.9 287.1 L115.7 287.3 L117.5 287.6 L119.3 287.7 L121.0 287.9 L122.8 288.1 L124.6 288.2 L126.4 288.3 L128.1 288.4 L129.9 288.4 L131.7 288.5 L133.5 288.5 L135.2 288.6 L137.0 288.6 L138.8 288.6 L140.6 288.6 L142.3 288.6 L144.1 288.6 L145.9 288.6 L147.7 288.6 L149.4 288.6 L151.2 288.6"/>
<path d="M54.4 337.6 L58.6 341.6 L62.9 345.9 L64.6 347.6 L67.1 343.7 L71.3 337.6 L73.1 330.4 L74.9 324.6 L76.7 319.9 L78.4 315.9 L80.2 312.6 L82.0 309.6 L83.8 307.1 L85.5 304.8 L87.3 303.0 L89.1 301.5 L90.9 300.4 L92.6 299.7 L94.4 299.4 L96.2 299.3 L98.0 299.3 L99.7 299.5 L101.5 299.7 L103.3 300.1 L105.1 300.6 L106.8 301.0 L108.6 301.6 L110.4 302.1 L112.2 302.5 L113.9 303.0 L115.7 303.4 L117.5 303.8 L119.3 304.1 L121.0 304.4 L122.8 304.6 L124.6 304.8 L126.4 305.0 L128.1 305.1 L129.9 305.2 L131.7 305.3 L133.5 305.4 L135.2 305.4 L137.0 305.4 L138.8 305.5 L140.6 305.5 L142.3 305.5 L144.1 305.5 L145.9 305.5 L147.7 305.5 L149.4 305.5 L151.2 305.5"/>
<path d="M54.4 337.6 L58.6 342.6 L62.9 348.0 L64.6 350.2 L67.1 345.3 L71.3 337.6 L73.1 330.4 L74.9 324.6 L76.7 320.0 L78.4 316.2 L80.2 313.0 L82.0 310.4 L83.8 308.2 L85.5 306.4 L87.3 305.0 L89.1 303.9 L90.9 303.1 L92.6 302.6 L94.4 302.3 L96.2 302.2 L98.0 302.1 L99.7 302.2 L101.5 302.3 L103.3 302.5 L105.1 302.7 L106.8 303.0 L108.6 303.3 L110.4 303.5 L112.2 303.8 L113.9 304.0 L115.7 304.2 L117.5 304.4 L119.3 304.6 L121.0 304.7 L122.8 304.8 L124.6 304.9 L126.4 305.0 L128.1 305.0 L129.9 305.1 L131.7 305.1 L133.5 305.1 L135.2 305.2 L137.0 305.2 L138.8 305.2 L140.6 305.2 L142.3 305.2 L144.1 305.2 L145.9 305.2 L147.7 305.2 L149.4 305.2 L151.2 305.2"/>
<path d="M54.4 337.6 L58.6 350.0 L62.9 363.3 L64.6 368.8 L67.1 356.6 L71.3 337.6 L73.1 332.0 L74.9 327.5 L76.7 323.9 L78.4 321.1 L80.2 318.7 L82.0 316.8 L83.8 315.1 L85.5 313.7 L87.3 312.5 L89.1 311.5 L90.9 310.8 L92.6 310.2 L94.4 309.8 L96.2 309.6 L98.0 309.5 L99.7 309.5 L101.5 309.5 L103.3 309.6 L105.1 309.7 L106.8 309.9 L108.6 310.1 L110.4 310.3 L112.2 310.5 L113.9 310.7 L115.7 310.9 L117.5 311.0 L119.3 311.2 L121.0 311.3 L122.8 311.4 L124.6 311.5 L126.4 311.6 L128.1 311.7 L129.9 311.7 L131.7 311.8 L133.5 311.8 L135.2 311.8 L137.0 311.8 L138.8 311.8 L140.6 311.9 L142.3 311.9 L144.1 311.9 L145.9 311.9 L147.7 311.9 L149.4 311.9 L151.2 311.9"/>
<path d="M54.4 337.6 L58.6 344.6 L62.9 352.1 L64.6 355.2 L67.1 348.3 L71.3 337.6 L73.1 326.1 L74.9 317.0 L76.7 309.7 L78.4 303.7 L80.2 298.7 L82.0 294.5 L83.8 290.8 L85.5 287.6 L87.3 284.7 L89.1 282.4 L90.9 280.4 L92.6 279.0 L94.4 278.0 L96.2 277.6 L98.0 277.4 L99.7 277.4 L101.5 277.6 L103.3 277.9 L105.1 278.4 L106.8 279.0 L108.6 279.6 L110.4 280.2 L112.2 280.9 L113.9 281.5 L115.7 282.1 L117.5 282.7 L119.3 283.2 L121.0 283.6 L122.8 284.0 L124.6 284.3 L126.4 284.5 L128.1 284.8 L129.9 284.9 L131.7 285.1 L133.5 285.2 L135.2 285.2 L137.0 285.3 L138.8 285.3 L140.6 285.4 L142.3 285.4 L144.1 285.4 L145.9 285.4 L147.7 285.4 L149.4 285.4 L151.2 285.4"/>
<path d="M54.4 337.6 L58.6 344.1 L62.9 351.1 L64.6 353.9 L67.1 347.6 L71.3 337.6 L73.1 337.3 L74.9 336.9 L76.7 336.6 L78.4 336.2 L80.2 335.9 L82.0 335.5 L83.8 335.0 L85.5 334.6 L87.3 334.2 L89.1 333.9 L90.9 333.7 L92.6 333.5 L94.4 333.5 L96.2 333.6 L98.0 333.6 L99.7 333.8 L101.5 333.9 L103.3 334.1 L105.1 334.3 L106.8 334.5 L108.6 334.7 L110.4 334.9 L112.2 335.1 L113.9 335.3 L115.7 335.5 L117.5 335.7 L119.3 335.8 L121.0 335.9 L122.8 336.0 L124.6 336.1 L126.4 336.2 L128.1 336.2 L129.9 336.3 L131.7 336.3 L133.5 336.3 L135.2 336.3 L137.0 336.4 L138.8 336.4 L140.6 336.4 L142.3 336.4 L144.1 336.4 L145.9 336.4 L147.7 336.4 L149.4 336.4 L151.2 336.4"/>
<path d="M54.4 337.6 L58.6 344.5 L62.9 352.0 L64.6 355.0 L67.1 348.2 L71.3 337.6 L73.1 337.6 L74.9 337.6 L76.7 337.5 L78.4 337.5 L80.2 337.5 L82.0 337.4 L83.8 337.4 L85.5 337.3 L87.3 337.2 L89.1 337.1 L90.9 337.1 L92.6 337.0 L94.4 336.9 L96.2 336.9 L98.0 336.9 L99.7 336.9 L101.5 336.9 L103.3 337.0 L105.1 337.0 L106.8 337.0 L108.6 337.1 L110.4 337.1 L112.2 337.2 L113.9 337.2 L115.7 337.2 L117.5 337.3 L119.3 337.3 L121.0 337.4 L122.8 337.4 L124.6 337.4 L126.4 337.4 L128.1 337.5 L129.9 337.5 L131.7 337.5 L133.5 337.5 L135.2 337.5 L137.0 337.5 L138.8 337.5 L140.6 337.5 L142.3 337.5 L144.1 337.5 L145.9 337.5 L147.7 337.5 L149.4 337.5 L151.2 337.5"/>
<path d="M54.4 337.6 L58.6 342.8 L62.9 348.4 L64.6 350.7 L67.1 345.6 L71.3 337.6 L73.1 332.3 L74.9 328.1 L76.7 324.8 L78.4 322.0 L80.2 319.8 L82.0 317.9 L83.8 316.3 L85.5 315.0 L87.3 313.8 L89.1 312.9 L90.9 312.2 L92.6 311.7 L94.4 311.4 L96.2 311.3 L98.0 311.2 L99.7 311.2 L101.5 311.2 L103.3 311.4 L105.1 311.5 L106.8 311.7 L108.6 311.9 L110.4 312.1 L112.2 312.3 L113.9 312.5 L115.7 312.7 L117.5 312.9 L119.3 313.0 L121.0 313.1 L122.8 313.2 L124.6 313.3 L126.4 313.4 L128.1 313.5 L129.9 313.5 L131.7 313.6 L133.5 313.6 L135.2 313.6 L137.0 313.6 L138.8 313.6 L140.6 313.6 L142.3 313.6 L144.1 313.6 L145.9 313.6 L147.7 313.6 L149.4 313.6 L151.2 313.6"/>
<path d="M54.4 337.6 L58.6 337.8 L62.9 338.1 L64.6 338.2 L67.1 338.0 L71.3 337.6 L73.1 324.1 L74.9 312.9 L76.7 303.6 L78.4 295.6 L80.2 288.7 L82.0 282.7 L83.8 277.5 L85.5 273.1 L87.3 269.7 L89.1 267.2 L90.9 265.7 L92.6 264.9 L94.4 264.6 L96.2 264.7 L98.0 265.1 L99.7 265.8 L101.5 266.7 L103.3 267.7 L105.1 268.9 L106.8 270.0 L108.6 271.2 L110.4 272.3 L112.2 273.3 L113.9 274.3 L115.7 275.1 L117.5 275.9 L119.3 276.5 L121.0 277.1 L122.8 277.5 L124.6 277.8 L126.4 278.1 L128.1 278.4 L129.9 278.5 L131.7 278.6 L133.5 278.7 L135.2 278.8 L137.0 278.9 L138.8 278.9 L140.6 278.9 L142.3 278.9 L144.1 278.9 L145.9 278.9 L147.7 279.0 L149.4 279.0 L151.2 279.0"/>
<path d="M54.4 337.6 L58.6 345.6 L62.9 354.1 L64.6 357.6 L67.1 349.8 L71.3 337.6 L73.1 329.8 L74.9 323.4 L76.7 318.2 L78.4 313.8 L80.2 309.9 L82.0 306.5 L83.8 303.3 L85.5 300.5 L87.3 298.0 L89.1 295.8 L90.9 294.2 L92.6 293.0 L94.4 292.5 L96.2 292.3 L98.0 292.3 L99.7 292.6 L101.5 293.0 L103.3 293.6 L105.1 294.2 L106.8 295.0 L108.6 295.8 L110.4 296.6 L112.2 297.4 L113.9 298.2 L115.7 298.9 L117.5 299.5 L119.3 300.1 L121.0 300.6 L122.8 301.0 L124.6 301.4 L126.4 301.6 L128.1 301.9 L129.9 302.1 L131.7 302.2 L133.5 302.3 L135.2 302.4 L137.0 302.5 L138.8 302.5 L140.6 302.5 L142.3 302.6 L144.1 302.6 L145.9 302.6 L147.7 302.6 L149.4 302.6 L151.2 302.6"/>
<path d="M54.4 337.6 L58.6 351.3 L62.9 365.9 L64.6 371.9 L67.1 358.6 L71.3 337.6 L73.1 326.9 L74.9 318.4 L76.7 311.7 L78.4 306.4 L80.2 302.2 L82.0 298.7 L83.8 295.8 L85.5 293.5 L87.3 291.4 L89.1 289.7 L90.9 288.3 L92.6 287.2 L94.4 286.3 L96.2 285.8 L98.0 285.4 L99.7 285.2 L101.5 285.1 L103.3 285.2 L105.1 285.3 L106.8 285.4 L108.6 285.6 L110.4 285.9 L112.2 286.1 L113.9 286.4 L115.7 286.7 L117.5 286.9 L119.3 287.1 L121.0 287.3 L122.8 287.5 L124.6 287.7 L126.4 287.8 L128.1 287.9 L129.9 288.0 L131.7 288.1 L133.5 288.1 L135.2 288.2 L137.0 288.2 L138.8 288.2 L140.6 288.2 L142.3 288.3 L144.1 288.3 L145.9 288.3 L147.7 288.3 L149.4 288.3 L151.2 288.3"/>
<path d="M54.4 337.6 L58.6 350.2 L62.9 363.7 L64.6 369.2 L67.1 356.9 L71.3 337.6 L73.1 328.0 L74.9 320.3 L76.7 314.1 L78.4 309.0 L80.2 304.8 L82.0 301.2 L83.8 298.1 L85.5 295.5 L87.3 293.4 L89.1 291.7 L90.9 290.5 L92.6 289.7 L94.4 289.3 L96.2 289.0 L98.0 289.0 L99.7 289.1 L101.5 289.3 L103.3 289.6 L105.1 290.0 L106.8 290.4 L108.6 290.9 L110.4 291.3 L112.2 291.8 L113.9 292.2 L115.7 292.6 L117.5 292.9 L119.3 293.2 L121.0 293.4 L122.8 293.7 L124.6 293.8 L126.4 294.0 L128.1 294.1 L129.9 294.2 L131.7 294.2 L133.5 294.3 L135.2 294.3 L137.0 294.3 L138.8 294.4 L140.6 294.4 L142.3 294.4 L144.1 294.4 L145.9 294.4 L147.7 294.4 L149.4 294.4 L151.2 294.4"/>
<path d="M54.4 337.6 L58.6 338.7 L62.9 339.8 L64.6 340.3 L67.1 339.3 L71.3 337.6 L73.1 332.2 L74.9 327.9 L76.7 324.3 L78.4 321.4 L80.2 319.0 L82.0 316.8 L83.8 314.9 L85.5 313.2 L87.3 311.6 L89.1 310.2 L90.9 309.1 L92.6 308.3 L94.4 307.8 L96.2 307.5 L98.0 307.5 L99.7 307.5 L101.5 307.7 L103.3 307.9 L105.1 308.3 L106.8 308.7 L108.6 309.1 L110.4 309.5 L112.2 310.0 L113.9 310.4 L115.7 310.8 L117.5 311.2 L119.3 311.5 L121.0 311.8 L122.8 312.1 L124.6 312.3 L126.4 312.4 L128.1 312.6 L129.9 312.7 L131.7 312.8 L133.5 312.9 L135.2 312.9 L137.0 313.0 L138.8 313.0 L140.6 313.0 L142.3 313.0 L144.1 313.0 L145.9 313.1 L147.7 313.1 L149.4 313.1 L151.2 313.1"/>
<path d="M54.4 337.6 L58.6 349.2 L62.9 361.6 L64.6 366.7 L67.1 355.4 L71.3 337.6 L73.1 327.5 L74.9 319.4 L76.7 313.0 L78.4 307.7 L80.2 303.4 L82.0 299.7 L83.8 296.6 L85.5 294.0 L87.3 291.8 L89.1 289.9 L90.9 288.5 L92.6 287.5 L94.4 286.9 L96.2 286.5 L98.0 286.4 L99.7 286.4 L101.5 286.5 L103.3 286.8 L105.1 287.1 L106.8 287.5 L108.6 287.9 L110.4 288.3 L112.2 288.7 L113.9 289.1 L115.7 289.5 L117.5 289.9 L119.3 290.2 L121.0 290.5 L122.8 290.7 L124.6 290.9 L126.4 291.0 L128.1 291.2 L129.9 291.3 L131.7 291.4 L133.5 291.4 L135.2 291.5 L137.0 291.5 L138.8 291.5 L140.6 291.5 L142.3 291.5 L144.1 291.6 L145.9 291.6 L147.7 291.6 L149.4 291.6 L151.2 291.6"/>
<path d="M54.4 337.6 L58.6 339.2 L62.9 340.9 L64.6 341.6 L67.1 340.0 L71.3 337.6 L73.1 321.4 L74.9 307.8 L76.7 296.2 L78.4 286.3 L80.2 277.8 L82.0 270.5 L83.8 264.6 L85.5 260.1 L87.3 257.0 L89.1 255.2 L90.9 254.2 L92.6 253.8 L94.4 253.9 L96.2 254.4 L98.0 255.3 L99.7 256.4 L101.5 257.7 L103.3 259.1 L105.1 260.6 L106.8 262.0 L108.6 263.3 L110.4 264.6 L112.2 265.7 L113.9 266.7 L115.7 267.6 L117.5 268.4 L119.3 269.0 L121.0 269.5 L122.8 269.9 L124.6 270.2 L126.4 270.5 L128.1 270.7 L129.9 270.8 L131.7 270.9 L133.5 271.0 L135.2 271.0 L137.0 271.1 L138.8 271.1 L140.6 271.1 L142.3 271.1 L144.1 271.1 L145.9 271.1 L147.7 271.1 L149.4 271.1 L151.2 271.1"/>
<path d="M54.4 337.6 L58.6 339.6 L62.9 341.7 L64.6 342.6 L67.1 340.7 L71.3 337.6 L73.1 324.3 L74.9 313.9 L76.7 305.5 L78.4 298.9 L80.2 293.5 L82.0 289.1 L83.8 285.4 L85.5 282.4 L87.3 279.9 L89.1 277.9 L90.9 276.3 L92.6 275.2 L94.4 274.4 L96.2 273.9 L98.0 273.6 L99.7 273.4 L101.5 273.4 L103.3 273.5 L105.1 273.7 L106.8 273.9 L108.6 274.2 L110.4 274.5 L112.2 274.8 L113.9 275.1 L115.7 275.4 L117.5 275.6 L119.3 275.9 L121.0 276.1 L122.8 276.2 L124.6 276.4 L126.4 276.5 L128.1 276.6 L129.9 276.7 L131.7 276.7 L133.5 276.8 L135.2 276.8 L137.0 276.8 L138.8 276.9 L140.6 276.9 L142.3 276.9 L144.1 276.9 L145.9 276.9 L147.7 276.9 L149.4 276.9 L151.2 276.9"/>
<path d="M54.4 337.6 L58.6 342.5 L62.9 347.7 L64.6 349.8 L67.1 345.0 L71.3 337.6 L73.1 324.9 L74.9 314.7 L76.7 306.6 L78.4 300.1 L80.2 294.6 L82.0 290.1 L83.8 286.2 L85.5 282.9 L87.3 280.1 L89.1 277.8 L90.9 276.0 L92.6 274.7 L94.4 273.9 L96.2 273.4 L98.0 273.2 L99.7 273.2 L101.5 273.3 L103.3 273.6 L105.1 274.0 L106.8 274.5 L108.6 275.0 L110.4 275.5 L112.2 276.0 L113.9 276.6 L115.7 277.0 L117.5 277.5 L119.3 277.9 L121.0 278.2 L122.8 278.5 L124.6 278.7 L126.4 278.9 L128.1 279.1 L129.9 279.2 L131.7 279.3 L133.5 279.4 L135.2 279.5 L137.0 279.5 L138.8 279.5 L140.6 279.6 L142.3 279.6 L144.1 279.6 L145.9 279.6 L147.7 279.6 L149.4 279.6 L151.2 279.6"/>
<path d="M54.4 337.6 L58.6 345.9 L62.9 354.7 L64.6 358.4 L67.1 350.3 L71.3 337.6 L73.1 335.6 L74.9 334.0 L76.7 332.7 L78.4 331.6 L80.2 330.7 L82.0 329.9 L83.8 329.3 L85.5 328.8 L87.3 328.3 L89.1 328.0 L90.9 327.8 L92.6 327.6 L94.4 327.6 L96.2 327.5 L98.0 327.5 L99.7 327.5 L101.5 327.6 L103.3 327.6 L105.1 327.7 L106.8 327.8 L108.6 327.9 L110.4 328.0 L112.2 328.0 L113.9 328.1 L115.7 328.2 L117.5 328.3 L119.3 328.3 L121.0 328.4 L122.8 328.4 L124.6 328.4 L126.4 328.5 L128.1 328.5 L129.9 328.5 L131.7 328.5 L133.5 328.5 L135.2 328.5 L137.0 328.5 L138.8 328.5 L140.6 328.5 L142.3 328.5 L144.1 328.5 L145.9 328.5 L147.7 328.5 L149.4 328.5 L151.2 328.5"/>
<path d="M54.4 337.6 L58.6 344.5 L62.9 351.9 L64.6 354.9 L67.1 348.2 L71.3 337.6 L73.1 335.0 L74.9 332.7 L76.7 330.7 L78.4 328.8 L80.2 327.1 L82.0 325.5 L83.8 324.1 L85.5 322.9 L87.3 322.0 L89.1 321.5 L90.9 321.2 L92.6 321.2 L94.4 321.2 L96.2 321.4 L98.0 321.7 L99.7 322.1 L101.5 322.5 L103.3 322.9 L105.1 323.4 L106.8 323.9 L108.6 324.4 L110.4 324.8 L112.2 325.2 L113.9 325.6 L115.7 325.9 L117.5 326.2 L119.3 326.4 L121.0 326.6 L122.8 326.8 L124.6 326.9 L126.4 327.0 L128.1 327.1 L129.9 327.2 L131.7 327.2 L133.5 327.2 L135.2 327.3 L137.0 327.3 L138.8 327.3 L140.6 327.3 L142.3 327.3 L144.1 327.3 L145.9 327.3 L147.7 327.3 L149.4 327.3 L151.2 327.3"/>
<path d="M54.4 337.6 L58.6 348.9 L62.9 360.9 L64.6 365.8 L67.1 354.8 L71.3 337.6 L73.1 327.2 L74.9 319.1 L76.7 312.5 L78.4 307.3 L80.2 303.0 L82.0 299.4 L83.8 296.4 L85.5 293.9 L87.3 291.7 L89.1 289.8 L90.9 288.3 L92.6 287.1 L94.4 286.3 L96.2 285.8 L98.0 285.5 L99.7 285.4 L101.5 285.5 L103.3 285.6 L105.1 285.8 L106.8 286.2 L108.6 286.5 L110.4 286.9 L112.2 287.3 L113.9 287.7 L115.7 288.0 L117.5 288.4 L119.3 288.7 L121.0 289.0 L122.8 289.2 L124.6 289.4 L126.4 289.6 L128.1 289.7 L129.9 289.9 L131.7 289.9 L133.5 290.0 L135.2 290.1 L137.0 290.1 L138.8 290.1 L140.6 290.2 L142.3 290.2 L144.1 290.2 L145.9 290.2 L147.7 290.2 L149.4 290.2 L151.2 290.2"/>
<path d="M54.4 337.6 L58.6 341.3 L62.9 345.3 L64.6 346.9 L67.1 343.3 L71.3 337.6 L73.1 329.8 L74.9 323.7 L76.7 318.8 L78.4 315.0 L80.2 311.8 L82.0 309.2 L83.8 307.0 L85.5 305.2 L87.3 303.6 L89.1 302.3 L90.9 301.2 L92.6 300.3 L94.4 299.6 L96.2 299.2 L98.0 299.0 L99.7 298.9 L101.5 298.9 L103.3 299.0 L105.1 299.1 L106.8 299.3 L108.6 299.5 L110.4 299.7 L112.2 300.0 L113.9 300.2 L115.7 300.5 L117.5 300.7 L119.3 300.9 L121.0 301.1 L122.8 301.3 L124.6 301.4 L126.4 301.5 L128.1 301.6 L129.9 301.7 L131.7 301.8 L133.5 301.8 L135.2 301.9 L137.0 301.9 L138.8 301.9 L140.6 301.9 L142.3 301.9 L144.1 302.0 L145.9 302.0 L147.7 302.0 L149.4 302.0 L151.2 302.0"/>
<path d="M54.4 337.6 L58.6 345.5 L62.9 354.0 L64.6 357.4 L67.1 349.7 L71.3 337.6 L73.1 326.2 L74.9 317.1 L76.7 309.7 L78.4 303.7 L80.2 298.6 L82.0 294.3 L83.8 290.5 L85.5 287.2 L87.3 284.3 L89.1 281.9 L90.9 280.0 L92.6 278.6 L94.4 277.8 L96.2 277.4 L98.0 277.2 L99.7 277.3 L101.5 277.6 L103.3 278.0 L105.1 278.5 L106.8 279.1 L108.6 279.8 L110.4 280.5 L112.2 281.2 L113.9 281.8 L115.7 282.4 L117.5 283.0 L119.3 283.5 L121.0 283.9 L122.8 284.3 L124.6 284.6 L126.4 284.9 L128.1 285.1 L129.9 285.3 L131.7 285.4 L133.5 285.5 L135.2 285.6 L137.0 285.6 L138.8 285.7 L140.6 285.7 L142.3 285.7 L144.1 285.7 L145.9 285.8 L147.7 285.8 L149.4 285.8 L151.2 285.8"/>
<path d="M54.4 337.6 L58.6 345.5 L62.9 354.0 L64.6 357.5 L67.1 349.7 L71.3 337.6 L73.1 331.3 L74.9 326.2 L76.7 322.2 L78.4 318.9 L80.2 316.2 L82.0 314.0 L83.8 312.2 L85.5 310.7 L87.3 309.5 L89.1 308.5 L90.9 307.8 L92.6 307.4 L94.4 307.1 L96.2 306.9 L98.0 306.8 L99.7 306.8 L101.5 306.8 L103.3 306.9 L105.1 307.1 L106.8 307.2 L108.6 307.4 L110.4 307.6 L112.2 307.7 L113.9 307.9 L115.7 308.0 L117.5 308.2 L119.3 308.3 L121.0 308.4 L122.8 308.5 L124.6 308.6 L126.4 308.6 L128.1 308.7 L129.9 308.7 L131.7 308.7 L133.5 308.7 L135.2 308.8 L137.0 308.8 L138.8 308.8 L140.6 308.8 L142.3 308.8 L144.1 308.8 L145.9 308.8 L147.7 308.8 L149.4 308.8 L151.2 308.8"/>
<path d="M54.4 337.6 L58.6 346.8 L62.9 356.7 L64.6 360.7 L67.1 351.7 L71.3 337.6 L73.1 337.0 L74.9 336.5 L76.7 336.1 L78.4 335.7 L80.2 335.4 L82.0 335.1 L83.8 334.7 L85.5 334.3 L87.3 333.9 L89.1 333.5 L90.9 333.1 L92.6 332.7 L94.4 332.3 L96.2 332.1 L98.0 332.0 L99.7 332.0 L101.5 332.0 L103.3 332.1 L105.1 332.2 L106.8 332.4 L108.6 332.6 L110.4 332.8 L112.2 333.0 L113.9 333.2 L115.7 333.4 L117.5 333.6 L119.3 333.8 L121.0 334.0 L122.8 334.2 L124.6 334.3 L126.4 334.4 L128.1 334.5 L129.9 334.6 L131.7 334.7 L133.5 334.7 L135.2 334.8 L137.0 334.8 L138.8 334.8 L140.6 334.8 L142.3 334.9 L144.1 334.9 L145.9 334.9 L147.7 334.9 L149.4 334.9 L151.2 334.9"/>
<path d="M54.4 337.6 L58.6 338.9 L62.9 340.3 L64.6 340.9 L67.1 339.6 L71.3 337.6 L73.1 335.9 L74.9 334.5 L76.7 333.3 L78.4 332.2 L80.2 331.2 L82.0 330.3 L83.8 329.4 L85.5 328.6 L87.3 327.9 L89.1 327.3 L90.9 326.8 L92.6 326.6 L94.4 326.5 L96.2 326.5 L98.0 326.5 L99.7 326.7 L101.5 326.9 L103.3 327.1 L105.1 327.3 L106.8 327.6 L108.6 327.9 L110.4 328.2 L112.2 328.5 L113.9 328.7 L115.7 329.0 L117.5 329.2 L119.3 329.4 L121.0 329.5 L122.8 329.7 L124.6 329.8 L126.4 329.9 L128.1 330.0 L129.9 330.0 L131.7 330.1 L133.5 330.1 L135.2 330.1 L137.0 330.2 L138.8 330.2 L140.6 330.2 L142.3 330.2 L144.1 330.2 L145.9 330.2 L147.7 330.2 L149.4 330.2 L151.2 330.2"/>
<path d="M54.4 337.6 L58.6 344.7 L62.9 352.4 L64.6 355.5 L67.1 348.5 L71.3 337.6 L73.1 332.2 L74.9 328.0 L76.7 324.5 L78.4 321.7 L80.2 319.3 L82.0 317.4 L83.8 315.7 L85.5 314.2 L87.3 313.0 L89.1 312.0 L90.9 311.3 L92.6 310.8 L94.4 310.6 L96.2 310.4 L98.0 310.4 L99.7 310.4 L101.5 310.5 L103.3 310.7 L105.1 310.9 L106.8 311.1 L108.6 311.4 L110.4 311.6 L112.2 311.9 L113.9 312.1 L115.7 312.3 L117.5 312.5 L119.3 312.7 L121.0 312.8 L122.8 313.0 L124.6 313.1 L126.4 313.1 L128.1 313.2 L129.9 313.3 L131.7 313.3 L133.5 313.3 L135.2 313.4 L137.0 313.4 L138.8 313.4 L140.6 313.4 L142.3 313.4 L144.1 313.4 L145.9 313.4 L147.7 313.4 L149.4 313.4 L151.2 313.4"/>
<path d="M54.4 337.6 L58.6 342.6 L62.9 348.0 L64.6 350.2 L67.1 345.3 L71.3 337.6 L73.1 334.2 L74.9 331.4 L76.7 329.1 L78.4 327.1 L80.2 325.3 L82.0 323.6 L83.8 322.0 L85.5 320.4 L87.3 318.9 L89.1 317.5 L90.9 316.2 L92.6 315.2 L94.4 314.5 L96.2 314.2 L98.0 314.1 L99.7 314.2 L101.5 314.5 L103.3 314.8 L105.1 315.3 L106.8 315.8 L108.6 316.4 L110.4 317.0 L112.2 317.6 L113.9 318.2 L115.7 318.8 L117.5 319.3 L119.3 319.8 L121.0 320.3 L122.8 320.6 L124.6 321.0 L126.4 321.2 L128.1 321.5 L129.9 321.6 L131.7 321.8 L133.5 321.9 L135.2 322.0 L137.0 322.1 L138.8 322.1 L140.6 322.1 L142.3 322.2 L144.1 322.2 L145.9 322.2 L147.7 322.2 L149.4 322.2 L151.2 322.2"/>
<path d="M54.4 337.6 L58.6 349.7 L62.9 362.7 L64.6 367.9 L67.1 356.1 L71.3 337.6 L73.1 329.4 L74.9 322.9 L76.7 317.6 L78.4 313.3 L80.2 309.6 L82.0 306.4 L83.8 303.5 L85.5 300.8 L87.3 298.3 L89.1 296.0 L90.9 294.0 L92.6 292.3 L94.4 291.0 L96.2 290.3 L98.0 290.0 L99.7 290.0 L101.5 290.1 L103.3 290.5 L105.1 291.0 L106.8 291.6 L108.6 292.3 L110.4 293.1 L112.2 293.9 L113.9 294.7 L115.7 295.4 L117.5 296.2 L119.3 296.8 L121.0 297.4 L122.8 298.0 L124.6 298.4 L126.4 298.8 L128.1 299.1 L129.9 299.4 L131.7 299.6 L133.5 299.7 L135.2 299.9 L137.0 300.0 L138.8 300.0 L140.6 300.1 L142.3 300.1 L144.1 300.1 L145.9 300.2 L147.7 300.2 L149.4 300.2 L151.2 300.2"/>
<path d="M54.4 337.6 L58.6 339.5 L62.9 341.4 L64.6 342.3 L67.1 340.4 L71.3 337.6 L73.1 335.2 L74.9 333.3 L76.7 331.7 L78.4 330.3 L80.2 329.0 L82.0 327.8 L83.8 326.5 L85.5 325.3 L87.3 324.2 L89.1 323.1 L90.9 322.1 L92.6 321.3 L94.4 320.8 L96.2 320.6 L98.0 320.6 L99.7 320.7 L101.5 320.9 L103.3 321.2 L105.1 321.5 L106.8 322.0 L108.6 322.4 L110.4 322.9 L112.2 323.4 L113.9 323.9 L115.7 324.3 L117.5 324.8 L119.3 325.2 L121.0 325.5 L122.8 325.8 L124.6 326.1 L126.4 326.3 L128.1 326.4 L129.9 326.6 L131.7 326.7 L133.5 326.8 L135.2 326.9 L137.0 326.9 L138.8 326.9 L140.6 327.0 L142.3 327.0 L144.1 327.0 L145.9 327.0 L147.7 327.0 L149.4 327.0 L151.2 327.0"/>
<path d="M54.4 337.6 L58.6 339.6 L62.9 341.8 L64.6 342.7 L67.1 340.7 L71.3 337.6 L73.1 336.9 L74.9 336.3 L76.7 335.8 L78.4 335.3 L80.2 334.9 L82.0 334.5 L83.8 334.2 L85.5 333.8 L87.3 333.4 L89.1 333.1 L90.9 332.7 L92.6 332.5 L94.4 332.3 L96.2 332.2 L98.0 332.2 L99.7 332.2 L101.5 332.3 L103.3 332.4 L105.1 332.5 L106.8 332.6 L108.6 332.8 L110.4 332.9 L112.2 333.1 L113.9 333.2 L115.7 333.4 L117.5 333.5 L119.3 333.7 L121.0 333.8 L122.8 333.9 L124.6 334.0 L126.4 334.1 L128.1 334.1 L129.9 334.2 L131.7 334.2 L133.5 334.2 L135.2 334.3 L137.0 334.3 L138.8 334.3 L140.6 334.3 L142.3 334.3 L144.1 334.3 L145.9 334.3 L147.7 334.3 L149.4 334.3 L151.2 334.3"/>
<path d="M54.4 337.6 L58.6 340.8 L62.9 344.3 L64.6 345.7 L67.1 342.5 L71.3 337.6 L73.1 332.6 L74.9 328.5 L76.7 325.2 L78.4 322.4 L80.2 320.0 L82.0 317.8 L83.8 315.9 L85.5 314.1 L87.3 312.6 L89.1 311.3 L90.9 310.3 L92.6 309.5 L94.4 309.2 L96.2 309.0 L98.0 309.0 L99.7 309.2 L101.5 309.4 L103.3 309.7 L105.1 310.1 L106.8 310.6 L108.6 311.0 L110.4 311.5 L112.2 312.0 L113.9 312.4 L115.7 312.9 L117.5 313.2 L119.3 313.6 L121.0 313.9 L122.8 314.1 L124.6 314.3 L126.4 314.5 L128.1 314.6 L129.9 314.7 L131.7 314.8 L133.5 314.9 L135.2 314.9 L137.0 315.0 L138.8 315.0 L140.6 315.0 L142.3 315.0 L144.1 315.1 L145.9 315.1 L147.7 315.1 L149.4 315.1 L151.2 315.1"/>
<path d="M54.4 337.6 L58.6 344.5 L62.9 351.9 L64.6 354.9 L67.1 348.2 L71.3 337.6 L73.1 323.5 L74.9 312.5 L76.7 303.7 L78.4 296.6 L80.2 290.8 L82.0 286.0 L83.8 281.8 L85.5 278.0 L87.3 274.6 L89.1 271.5 L90.9 268.7 L92.6 266.2 L94.4 264.1 L96.2 262.6 L98.0 261.7 L99.7 261.4 L101.5 261.3 L103.3 261.5 L105.1 261.9 L106.8 262.5 L108.6 263.2 L110.4 264.0 L112.2 264.9 L113.9 265.8 L115.7 266.7 L117.5 267.6 L119.3 268.5 L121.0 269.2 L122.8 269.9 L124.6 270.5 L126.4 271.1 L128.1 271.5 L129.9 271.9 L131.7 272.2 L133.5 272.4 L135.2 272.6 L137.0 272.7 L138.8 272.8 L140.6 272.9 L142.3 273.0 L144.1 273.0 L145.9 273.0 L147.7 273.1 L149.4 273.1 L151.2 273.1"/>
<path d="M54.4 337.6 L58.6 339.3 L62.9 341.2 L64.6 341.9 L67.1 340.2 L71.3 337.6 L73.1 322.2 L74.9 310.0 L76.7 300.4 L78.4 292.8 L80.2 286.6 L82.0 281.5 L83.8 277.3 L85.5 273.7 L87.3 270.5 L89.1 267.6 L90.9 265.1 L92.6 262.9 L94.4 261.1 L96.2 259.8 L98.0 258.9 L99.7 258.5 L101.5 258.4 L103.3 258.4 L105.1 258.6 L106.8 259.0 L108.6 259.5 L110.4 260.0 L112.2 260.7 L113.9 261.3 L115.7 262.0 L117.5 262.6 L119.3 263.2 L121.0 263.8 L122.8 264.3 L124.6 264.7 L126.4 265.1 L128.1 265.4 L129.9 265.7 L131.7 265.9 L133.5 266.1 L135.2 266.2 L137.0 266.3 L138.8 266.4 L140.6 266.4 L142.3 266.5 L144.1 266.5 L145.9 266.5 L147.7 266.6 L149.4 266.6 L151.2 266.6"/>
<path d="M54.4 337.6 L58.6 348.0 L62.9 359.2 L64.6 363.7 L67.1 353.5 L71.3 337.6 L73.1 335.1 L74.9 333.1 L76.7 331.4 L78.4 330.1 L80.2 328.8 L82.0 327.8 L83.8 326.8 L85.5 325.8 L87.3 325.0 L89.1 324.3 L90.9 323.7 L92.6 323.3 L94.4 323.0 L96.2 322.9 L98.0 322.9 L99.7 323.0 L101.5 323.1 L103.3 323.3 L105.1 323.5 L106.8 323.7 L108.6 324.0 L110.4 324.3 L112.2 324.6 L113.9 324.8 L115.7 325.1 L117.5 325.3 L119.3 325.5 L121.0 325.7 L122.8 325.8 L124.6 325.9 L126.4 326.0 L128.1 326.1 L129.9 326.2 L131.7 326.3 L133.5 326.3 L135.2 326.3 L137.0 326.3 L138.8 326.4 L140.6 326.4 L142.3 326.4 L144.1 326.4 L145.9 326.4 L147.7 326.4 L149.4 326.4 L151.2 326.4"/>
<path d="M54.4 337.6 L58.6 342.8 L62.9 348.3 L64.6 350.5 L67.1 345.5 L71.3 337.6 L73.1 335.9 L74.9 334.5 L76.7 333.5 L78.4 332.6 L80.2 331.8 L82.0 331.1 L83.8 330.6 L85.5 330.0 L87.3 329.6 L89.1 329.1 L90.9 328.8 L92.6 328.5 L94.4 328.3 L96.2 328.2 L98.0 328.2 L99.7 328.2 L101.5 328.2 L103.3 328.3 L105.1 328.4 L106.8 328.5 L108.6 328.6 L110.4 328.7 L112.2 328.9 L113.9 329.0 L115.7 329.1 L117.5 329.3 L119.3 329.4 L121.0 329.5 L122.8 329.5 L124.6 329.6 L126.4 329.7 L128.1 329.7 L129.9 329.8 L131.7 329.8 L133.5 329.8 L135.2 329.8 L137.0 329.8 L138.8 329.9 L140.6 329.9 L142.3 329.9 L144.1 329.9 L145.9 329.9 L147.7 329.9 L149.4 329.9 L151.2 329.9"/>
<path d="M54.4 337.6 L58.6 341.8 L62.9 346.3 L64.6 348.2 L67.1 344.0 L71.3 337.6 L73.1 329.9 L74.9 323.7 L76.7 318.7 L78.4 314.5 L80.2 310.9 L82.0 307.8 L83.8 305.0 L85.5 302.6 L87.3 300.5 L89.1 298.7 L90.9 297.3 L92.6 296.3 L94.4 295.8 L96.2 295.6 L98.0 295.6 L99.7 295.7 L101.5 296.0 L103.3 296.4 L105.1 296.9 L106.8 297.4 L108.6 298.0 L110.4 298.6 L112.2 299.2 L113.9 299.7 L115.7 300.3 L117.5 300.7 L119.3 301.1 L121.0 301.5 L122.8 301.8 L124.6 302.1 L126.4 302.3 L128.1 302.5 L129.9 302.6 L131.7 302.7 L133.5 302.8 L135.2 302.8 L137.0 302.9 L138.8 302.9 L140.6 302.9 L142.3 303.0 L144.1 303.0 L145.9 303.0 L147.7 303.0 L149.4 303.0 L151.2 303.0"/>
</g>
<line x1="49.50" y1="252.80" x2="49.50" y2="369.20" stroke="#262626" stroke-width="1.1"/>
<line x1="46.00" y1="252.80" x2="49.50" y2="252.80" stroke="#262626" stroke-width="1.1"/>
<text x="41.80" y="256.80" font-size="11.22" text-anchor="end" textLength="7.00" lengthAdjust="spacingAndGlyphs">8</text>
<line x1="46.00" y1="337.60" x2="49.50" y2="337.60" stroke="#262626" stroke-width="1.1"/>
<text x="41.80" y="341.60" font-size="11.22" text-anchor="end" textLength="7.00" lengthAdjust="spacingAndGlyphs">0</text>
<line x1="46.00" y1="369.20" x2="49.50" y2="369.20" stroke="#262626" stroke-width="1.1"/>
<text x="41.80" y="373.20" font-size="11.22" text-anchor="end" textLength="16.22" lengthAdjust="spacingAndGlyphs">−3</text>
<line x1="54.40" y1="378.30" x2="151.00" y2="378.30" stroke="#262626" stroke-width="1.1"/>
<line x1="54.40" y1="378.30" x2="54.40" y2="381.80" stroke="#262626" stroke-width="1.1"/>
<text x="54.40" y="393.80" font-size="11.22" text-anchor="middle" textLength="7.00" lengthAdjust="spacingAndGlyphs">0</text>
<line x1="151.00" y1="378.30" x2="151.00" y2="381.80" stroke="#262626" stroke-width="1.1"/>
<text x="151.00" y="393.80" font-size="11.22" text-anchor="middle" textLength="28.00" lengthAdjust="spacingAndGlyphs">1000</text>
<text x="102.70" y="408.80" font-size="11.22" text-anchor="middle" textLength="50.71" lengthAdjust="spacingAndGlyphs">Timestep</text>
<text x="13.40" y="309.00" font-size="11.22" text-anchor="middle" textLength="86.69" lengthAdjust="spacingAndGlyphs" transform="rotate(-90 13.40 309.00)">Amplitude (mV)</text>
<text x="350.70" y="226.40" font-size="14.3" font-weight="bold" style="fill:#000;stroke:#000;stroke-width:0.6px" textLength="11.82" lengthAdjust="spacingAndGlyphs">G</text>
<text x="438.80" y="230.70" font-size="10.20" text-anchor="middle" textLength="64.55" lengthAdjust="spacingAndGlyphs">Latent space</text>
<path d="M394.4 289.6 L394.4 332.1 L469.7 327.4 L469.7 284.0 Z" fill="#e6e6e6"/>
<path d="M469.7 284.0 L491.6 295.5 L490.7 355.6 L469.7 327.4 Z" fill="#e4e4e4"/>
<path d="M394.4 332.1 L469.7 327.4 L490.7 355.6 L407.4 362.8 Z" fill="#e9e9e9"/>
<path d="M394.4 332.1 L469.7 327.4 L490.7 355.6 M469.7 327.4 L469.7 284" fill="none" stroke="#cfcfcf" stroke-width="0.7"/>
<path d="M376.5 267.4 C377.3 266.2 378.9 262.4 381.5 260.5 C384.1 258.6 386.8 257.1 391.9 256.2 C396.9 255.3 405.1 254.8 411.8 254.9 C418.5 255.0 426.1 255.7 432.0 256.8 C437.9 257.9 441.9 259.4 447.4 261.6 C452.9 263.8 460.0 267.0 464.8 269.8 C469.6 272.6 473.7 275.9 476.4 278.6 C479.1 281.3 480.4 283.1 481.1 285.8 C481.8 288.5 481.4 291.4 480.6 294.9 C479.8 298.3 477.9 303.1 476.4 306.5 C474.9 309.9 473.4 312.1 471.6 315.0 C469.8 317.9 467.5 321.1 465.5 324.0 C463.5 326.9 461.3 329.9 459.7 332.7 C458.1 335.5 456.8 338.4 455.8 341.0 C454.8 343.6 453.9 346.8 453.5 348.0 L474.9 354.0 L447.5 360.8 C446 361.2 445.9 360.2 446.6 358.5 L450.6 343 C452.3 336 452.6 330 451.5 323.4 C450.6 318.8 448.6 315.3 446 313.2 L432 308.7 L421.8 304.2 L411.8 299.8 L401.9 294.8 L394.9 290.8 C390 287 385 282 381.5 277.5 C378.5 273.5 376.6 270.5 376.5 267.4 Z" fill="#4d97f5"/>
<path d="M390.5 279.0 C391.8 278.3 394.8 275.9 398.0 275.0 C401.2 274.1 404.7 273.6 410.0 273.3 C415.3 273.0 423.7 272.6 430.0 273.2 C436.3 273.8 442.4 275.3 448.0 277.0 C453.6 278.7 459.4 280.8 463.5 283.5 C467.6 286.2 471.2 290.1 472.5 293.5 C473.8 296.9 472.6 300.6 471.5 304.0 C470.4 307.4 468.0 310.3 466.0 314.0 C464.0 317.7 461.3 322.0 459.5 326.0 C457.7 330.0 455.8 336.0 455.0 338.0 L453.0 340.0 453.0 340.0 C453.3 338.2 454.1 332.4 455.0 329.0 C455.9 325.6 457.0 322.8 458.5 319.5 C460.0 316.2 463.0 312.8 464.0 309.5 C465.0 306.2 465.5 302.5 464.5 299.5 C463.5 296.5 460.9 293.4 458.0 291.5 C455.1 289.6 451.2 288.9 447.0 288.3 C442.8 287.7 437.8 287.8 433.0 287.8 C428.2 287.9 422.1 288.1 418.0 288.6 C413.9 289.1 410.9 289.6 408.5 290.6 C406.1 291.6 404.3 293.9 403.5 294.6 Z" fill="#6584e6"/>
<path d="M391.8 280.6 C393.0 279.9 395.9 277.5 399.1 276.6 C402.2 275.6 405.6 275.1 410.8 274.8 C416.0 274.5 424.1 274.1 430.3 274.7 C436.5 275.2 442.5 276.5 447.9 278.1 C453.3 279.7 459.0 281.6 462.9 284.3 C466.9 287.0 470.4 290.7 471.7 294.1 C473.0 297.5 471.8 301.1 470.8 304.6 C469.7 308.0 467.2 310.9 465.2 314.6 C463.3 318.2 460.8 322.4 459.1 326.3 C457.3 330.2 455.5 336.2 454.8 338.2" fill="none" stroke="#a8408a" stroke-width="1.5" stroke-opacity="0.7"/>
<path d="M394.0 283.2 C395.1 282.5 397.8 280.2 400.8 279.2 C403.9 278.2 407.2 277.8 412.2 277.4 C417.2 277.1 424.9 276.7 430.8 277.1 C436.7 277.6 442.5 278.6 447.7 280.1 C452.9 281.5 458.2 283.1 462.0 285.7 C465.8 288.2 469.1 291.8 470.3 295.1 C471.6 298.4 470.5 302.1 469.5 305.5 C468.4 308.9 465.8 311.9 464.0 315.5 C462.1 319.0 459.9 323.0 458.3 326.8 C456.7 330.7 455.1 336.6 454.5 338.5" fill="none" stroke="#4f8cf0" stroke-width="1.4" stroke-opacity="0.9"/>
<path d="M396.0 285.6 C397.0 284.9 399.5 282.5 402.4 281.6 C405.3 280.6 408.6 280.1 413.4 279.7 C418.2 279.4 425.6 279.0 431.3 279.3 C437.0 279.7 442.6 280.5 447.6 281.7 C452.6 283.0 457.6 284.5 461.2 286.9 C464.8 289.2 467.9 292.8 469.1 296.0 C470.3 299.3 469.4 302.9 468.4 306.3 C467.3 309.7 464.6 312.8 462.9 316.3 C461.1 319.8 459.1 323.5 457.6 327.3 C456.2 331.0 454.7 336.9 454.2 338.8" fill="none" stroke="#b03c80" stroke-width="1.7" stroke-opacity="0.75"/>
<path d="M398.0 288.0 C399.0 287.4 401.3 285.0 404.1 284.0 C406.9 283.1 410.0 282.6 414.6 282.2 C419.2 281.8 426.3 281.4 431.7 281.7 C437.2 281.9 442.7 282.5 447.4 283.6 C452.2 284.6 456.9 285.9 460.3 288.1 C463.7 290.4 466.7 293.8 467.9 297.0 C469.0 300.2 468.2 303.8 467.1 307.2 C466.1 310.6 463.4 313.8 461.6 317.2 C459.9 320.6 458.2 324.1 456.9 327.7 C455.6 331.4 454.3 337.3 453.8 339.2" fill="none" stroke="#5a80e8" stroke-width="1.3" stroke-opacity="0.9"/>
<path d="M400.1 290.5 C401.1 289.9 403.1 287.5 405.8 286.5 C408.4 285.6 411.5 285.0 415.9 284.6 C420.3 284.2 427.0 283.9 432.2 284.0 C437.4 284.1 442.7 284.5 447.3 285.4 C451.8 286.3 456.2 287.3 459.4 289.4 C462.6 291.5 465.5 294.8 466.6 297.9 C467.7 301.0 467.0 304.7 465.9 308.1 C464.9 311.4 462.1 314.7 460.4 318.1 C458.8 321.4 457.3 324.7 456.2 328.2 C455.0 331.8 454.0 337.6 453.5 339.5" fill="none" stroke="#b8336e" stroke-width="1.7" stroke-opacity="0.75"/>
<path d="M402.2 293.0 C403.1 292.4 404.9 290.0 407.4 289.0 C409.9 288.0 413.0 287.5 417.2 287.1 C421.4 286.6 427.7 286.3 432.7 286.3 C437.7 286.4 442.8 286.4 447.1 287.2 C451.4 287.9 455.5 288.7 458.6 290.7 C461.6 292.7 464.3 295.9 465.3 298.9 C466.3 301.9 465.8 305.6 464.8 308.9 C463.7 312.3 460.8 315.7 459.2 318.9 C457.7 322.2 456.5 325.2 455.4 328.7 C454.4 332.2 453.6 337.9 453.2 339.8" fill="none" stroke="#9a4a9c" stroke-width="1.3" stroke-opacity="0.7"/>
<path d="M403.5 294.6 C404.3 293.9 406.1 291.6 408.5 290.6 C410.9 289.6 413.9 289.1 418.0 288.6 C422.1 288.1 428.2 287.9 433.0 287.8 C437.8 287.8 442.8 287.7 447.0 288.3 C451.2 288.9 455.1 289.6 458.0 291.5 C460.9 293.4 463.5 296.5 464.5 299.5 C465.5 302.5 465.0 306.2 464.0 309.5 C463.0 312.8 460.0 316.2 458.5 319.5 C457.0 322.8 455.9 325.6 455.0 329.0 C454.1 332.4 453.3 338.2 453.0 340.0 L451.0 343 C452.3 336 452.6 330 451.5 323.4 C450.6 318.8 448.6 315.3 446 313.2 L432 308.7 L421.8 304.2 L411.8 299.8 L403.5 295.5 Z" fill="#dc2340"/>
<path d="M404.0 292.5 C406.3 292.4 413.2 292.2 418.0 292.0 C422.8 291.8 428.2 291.1 433.0 291.0 C437.8 290.9 443.0 290.8 447.0 291.5 C451.0 292.2 454.7 293.2 457.0 295.0 C459.3 296.8 460.3 300.8 461.0 302.0" fill="none" stroke="#a02860" stroke-width="1.0" stroke-opacity="0.6"/>
<path d="M383 268.5 C392 264 405 262 420 261.5 C433 261.2 445 262.5 458 266" fill="none" stroke="#8cc0fb" stroke-width="1.1" stroke-opacity="0.85"/>
<path d="M430 302.2 C440 301 450 302 456 306 C458 308 459 310 458.5 313" fill="none" stroke="#eeaab6" stroke-width="1.0" stroke-opacity="0.8"/>
<path d="M436 299 C444 298 452 299 456 302" fill="none" stroke="#ee9aa8" stroke-width="0.8" stroke-opacity="0.7"/>
<path d="M398 286 C400 282.5 405 283 405 286.5 C405 289.5 401 290 400 288" fill="none" stroke="#4f8cf0" stroke-width="1.5" stroke-opacity="0.95"/>
<path d="M404 290 C406 287 411 288.5 411 291.5 C411 294 408 294.5 407 293" fill="none" stroke="#4f8cf0" stroke-width="1.4" stroke-opacity="0.9"/>
<path d="M398 286 C400 282.5 405 283 405 286.5 M404 290 C406 287 411 288.5 411 291.5" fill="none" stroke="#a8408a" stroke-width="0.6" stroke-opacity="0.8" transform="translate(0.8 -0.8)"/>
<path d="M458.5 333.9 L474.9 353.7 L451.5 349.0 Z" fill="#dc2340"/>
<path d="M467 301 C468 312 461 322 456 332 C453 339 452 345 452.5 349.5 C458 351 466 352.5 474.5 353.8" fill="none" stroke="#7a5cc8" stroke-width="1.4" stroke-opacity="0.85"/>
<path d="M463 309 C460 318 455 327 452.5 336 C451 342 450.5 348 451.5 352 C460 354 468 355 474 354.3" fill="none" stroke="#9a3a90" stroke-width="1.1" stroke-opacity="0.7"/>
<path d="M474 308 C470 318 464 326 461 330 C459.5 333 458.5 334.5 458 336" fill="none" stroke="#4d97f5" stroke-width="3.0"/>
<path d="M394.5 332.1 L407.4 362.8 L490.7 355.6 L491.7 295.5" fill="none" stroke="#111" stroke-width="1.1"/>
<text x="387.60" y="356.80" font-size="11.22" text-anchor="middle" textLength="14.66" lengthAdjust="spacingAndGlyphs">SC</text>
<text x="453.00" y="376.80" font-size="11.22" text-anchor="middle" textLength="11.47" lengthAdjust="spacingAndGlyphs">IN</text>
<text x="498.20" y="332.80" font-size="11.22" text-anchor="start" textLength="14.86" lengthAdjust="spacingAndGlyphs">PN</text>
<text x="516.80" y="226.40" font-size="14.3" font-weight="bold" style="fill:#000;stroke:#000;stroke-width:0.6px" textLength="12.05" lengthAdjust="spacingAndGlyphs">H</text>
<text x="611.00" y="231.50" font-size="11.22" text-anchor="middle" textLength="132.19" lengthAdjust="spacingAndGlyphs">PN embedding manifold</text>
<text x="606.40" y="243.60" font-size="11.22" text-anchor="middle" textLength="60.76" lengthAdjust="spacingAndGlyphs">(predicted)</text>
<defs><radialGradient id="hg" cx="0.42" cy="0.38" r="0.7">
<stop offset="0" stop-color="#cfcfcf"/><stop offset="1" stop-color="#bdbdbd"/></radialGradient></defs>
<ellipse cx="611.4" cy="298.1" rx="49.7" ry="35.5" fill="url(#hg)"/>
<g stroke-width="0.8">
<circle cx="573.0" cy="307.5" r="2.3" fill="#c8204a" fill-opacity="0.42" stroke="#c02048" stroke-opacity="0.55"/>
<circle cx="572.8" cy="292.5" r="2.3" fill="#c8204a" fill-opacity="0.42" stroke="#c02048" stroke-opacity="0.55"/>
<circle cx="568.6" cy="304.7" r="2.3" fill="#c8204a" fill-opacity="0.42" stroke="#c02048" stroke-opacity="0.55"/>
<circle cx="569.1" cy="299.4" r="2.3" fill="#c8204a" fill-opacity="0.42" stroke="#c02048" stroke-opacity="0.55"/>
<circle cx="568.4" cy="303.4" r="2.3" fill="#c8204a" fill-opacity="0.42" stroke="#c02048" stroke-opacity="0.55"/>
<circle cx="569.3" cy="309.1" r="2.3" fill="#c8204a" fill-opacity="0.42" stroke="#c02048" stroke-opacity="0.55"/>
<circle cx="572.0" cy="293.1" r="2.3" fill="#c8204a" fill-opacity="0.42" stroke="#c02048" stroke-opacity="0.55"/>
<circle cx="575.2" cy="315.9" r="2.3" fill="#c8204a" fill-opacity="0.42" stroke="#c02048" stroke-opacity="0.55"/>
<circle cx="580.6" cy="320.3" r="2.3" fill="#c8204a" fill-opacity="0.42" stroke="#c02048" stroke-opacity="0.55"/>
<circle cx="570.1" cy="297.8" r="2.3" fill="#c8204a" fill-opacity="0.42" stroke="#c02048" stroke-opacity="0.55"/>
<circle cx="567.4" cy="309.4" r="2.3" fill="#c8204a" fill-opacity="0.42" stroke="#c02048" stroke-opacity="0.55"/>
<circle cx="563.7" cy="299.3" r="2.3" fill="#c8204a" fill-opacity="0.42" stroke="#c02048" stroke-opacity="0.55"/>
<circle cx="568.8" cy="304.0" r="2.3" fill="#c8204a" fill-opacity="0.42" stroke="#c02048" stroke-opacity="0.55"/>
<circle cx="572.8" cy="305.9" r="2.3" fill="#c8204a" fill-opacity="0.42" stroke="#c02048" stroke-opacity="0.55"/>
<circle cx="566.1" cy="299.6" r="2.3" fill="#c8204a" fill-opacity="0.42" stroke="#c02048" stroke-opacity="0.55"/>
<circle cx="570.2" cy="308.5" r="2.3" fill="#c8204a" fill-opacity="0.42" stroke="#c02048" stroke-opacity="0.55"/>
<circle cx="568.8" cy="296.7" r="2.3" fill="#c8204a" fill-opacity="0.42" stroke="#c02048" stroke-opacity="0.55"/>
<circle cx="566.7" cy="308.6" r="2.3" fill="#c8204a" fill-opacity="0.42" stroke="#c02048" stroke-opacity="0.55"/>
<circle cx="569.0" cy="307.8" r="2.3" fill="#c8204a" fill-opacity="0.42" stroke="#c02048" stroke-opacity="0.55"/>
<circle cx="568.2" cy="306.7" r="2.3" fill="#c8204a" fill-opacity="0.42" stroke="#c02048" stroke-opacity="0.55"/>
<circle cx="570.0" cy="306.3" r="2.3" fill="#c8204a" fill-opacity="0.42" stroke="#c02048" stroke-opacity="0.55"/>
<circle cx="568.4" cy="302.6" r="2.3" fill="#c8204a" fill-opacity="0.42" stroke="#c02048" stroke-opacity="0.55"/>
<circle cx="565.1" cy="297.8" r="2.3" fill="#c8204a" fill-opacity="0.42" stroke="#c02048" stroke-opacity="0.55"/>
<circle cx="564.3" cy="295.4" r="2.3" fill="#c8204a" fill-opacity="0.42" stroke="#c02048" stroke-opacity="0.55"/>
<circle cx="565.8" cy="305.6" r="2.3" fill="#c8204a" fill-opacity="0.42" stroke="#c02048" stroke-opacity="0.55"/>
<circle cx="570.9" cy="303.1" r="2.3" fill="#c8204a" fill-opacity="0.42" stroke="#c02048" stroke-opacity="0.55"/>
<circle cx="575.7" cy="315.0" r="2.3" fill="#c8204a" fill-opacity="0.42" stroke="#c02048" stroke-opacity="0.55"/>
<circle cx="577.0" cy="313.2" r="2.3" fill="#c8204a" fill-opacity="0.42" stroke="#c02048" stroke-opacity="0.55"/>
<circle cx="564.6" cy="299.9" r="2.3" fill="#c8204a" fill-opacity="0.42" stroke="#c02048" stroke-opacity="0.55"/>
<circle cx="570.1" cy="305.8" r="2.3" fill="#c8204a" fill-opacity="0.42" stroke="#c02048" stroke-opacity="0.55"/>
<circle cx="564.2" cy="299.9" r="2.3" fill="#c8204a" fill-opacity="0.42" stroke="#c02048" stroke-opacity="0.55"/>
<circle cx="567.0" cy="300.1" r="2.3" fill="#c8204a" fill-opacity="0.42" stroke="#c02048" stroke-opacity="0.55"/>
<circle cx="571.1" cy="309.7" r="2.3" fill="#c8204a" fill-opacity="0.42" stroke="#c02048" stroke-opacity="0.55"/>
<circle cx="564.6" cy="304.6" r="2.3" fill="#c8204a" fill-opacity="0.42" stroke="#c02048" stroke-opacity="0.55"/>
<circle cx="566.9" cy="304.9" r="2.3" fill="#c8204a" fill-opacity="0.42" stroke="#c02048" stroke-opacity="0.55"/>
<circle cx="569.1" cy="301.4" r="2.3" fill="#c8204a" fill-opacity="0.42" stroke="#c02048" stroke-opacity="0.55"/>
<circle cx="566.8" cy="309.5" r="2.3" fill="#c8204a" fill-opacity="0.42" stroke="#c02048" stroke-opacity="0.55"/>
<circle cx="565.4" cy="304.0" r="2.3" fill="#c8204a" fill-opacity="0.42" stroke="#c02048" stroke-opacity="0.55"/>
<circle cx="573.1" cy="308.7" r="2.3" fill="#c8204a" fill-opacity="0.42" stroke="#c02048" stroke-opacity="0.55"/>
<circle cx="566.2" cy="303.1" r="2.3" fill="#c8204a" fill-opacity="0.42" stroke="#c02048" stroke-opacity="0.55"/>
<circle cx="569.3" cy="306.4" r="2.3" fill="#c8204a" fill-opacity="0.42" stroke="#c02048" stroke-opacity="0.55"/>
<circle cx="573.5" cy="313.9" r="2.3" fill="#c8204a" fill-opacity="0.42" stroke="#c02048" stroke-opacity="0.55"/>
<circle cx="567.1" cy="309.9" r="2.3" fill="#c8204a" fill-opacity="0.42" stroke="#c02048" stroke-opacity="0.55"/>
<circle cx="571.9" cy="310.2" r="2.3" fill="#c8204a" fill-opacity="0.42" stroke="#c02048" stroke-opacity="0.55"/>
<circle cx="567.3" cy="308.5" r="2.3" fill="#c8204a" fill-opacity="0.42" stroke="#c02048" stroke-opacity="0.55"/>
<circle cx="568.9" cy="293.2" r="2.3" fill="#c8204a" fill-opacity="0.42" stroke="#c02048" stroke-opacity="0.55"/>
<circle cx="568.3" cy="302.5" r="2.3" fill="#c8204a" fill-opacity="0.42" stroke="#c02048" stroke-opacity="0.55"/>
<circle cx="568.9" cy="311.2" r="2.3" fill="#c8204a" fill-opacity="0.42" stroke="#c02048" stroke-opacity="0.55"/>
<circle cx="564.4" cy="295.1" r="2.3" fill="#c8204a" fill-opacity="0.42" stroke="#c02048" stroke-opacity="0.55"/>
<circle cx="569.2" cy="303.1" r="2.3" fill="#c8204a" fill-opacity="0.42" stroke="#c02048" stroke-opacity="0.55"/>
<circle cx="566.4" cy="291.7" r="2.3" fill="#c8204a" fill-opacity="0.42" stroke="#c02048" stroke-opacity="0.55"/>
<circle cx="571.5" cy="304.0" r="2.3" fill="#c8204a" fill-opacity="0.42" stroke="#c02048" stroke-opacity="0.55"/>
<circle cx="578.4" cy="297.4" r="2.3" fill="#c8204a" fill-opacity="0.42" stroke="#c02048" stroke-opacity="0.55"/>
<circle cx="565.2" cy="295.3" r="2.3" fill="#c8204a" fill-opacity="0.42" stroke="#c02048" stroke-opacity="0.55"/>
<circle cx="575.6" cy="310.7" r="2.3" fill="#c8204a" fill-opacity="0.42" stroke="#c02048" stroke-opacity="0.55"/>
<circle cx="569.6" cy="307.8" r="2.3" fill="#c8204a" fill-opacity="0.42" stroke="#c02048" stroke-opacity="0.55"/>
<circle cx="567.3" cy="311.2" r="2.3" fill="#c8204a" fill-opacity="0.42" stroke="#c02048" stroke-opacity="0.55"/>
<circle cx="564.4" cy="303.6" r="2.3" fill="#c8204a" fill-opacity="0.42" stroke="#c02048" stroke-opacity="0.55"/>
<circle cx="573.4" cy="313.9" r="2.3" fill="#c8204a" fill-opacity="0.42" stroke="#c02048" stroke-opacity="0.55"/>
<circle cx="564.0" cy="297.8" r="2.3" fill="#c8204a" fill-opacity="0.42" stroke="#c02048" stroke-opacity="0.55"/>
<circle cx="568.6" cy="304.5" r="2.3" fill="#c8204a" fill-opacity="0.42" stroke="#c02048" stroke-opacity="0.55"/>
<circle cx="565.6" cy="298.8" r="2.3" fill="#c8204a" fill-opacity="0.42" stroke="#c02048" stroke-opacity="0.55"/>
<circle cx="597.0" cy="289.0" r="2.3" fill="#c8204a" fill-opacity="0.3" stroke="#c8204a" stroke-opacity="0.5"/>
<circle cx="579.0" cy="312.0" r="2.3" fill="#c8204a" fill-opacity="0.3" stroke="#c8204a" stroke-opacity="0.5"/>
<circle cx="581.0" cy="310.0" r="2.3" fill="#c8204a" fill-opacity="0.3" stroke="#c8204a" stroke-opacity="0.5"/>
<circle cx="592.0" cy="312.0" r="2.3" fill="#c8204a" fill-opacity="0.3" stroke="#c8204a" stroke-opacity="0.5"/>
<circle cx="589.0" cy="318.0" r="2.3" fill="#c8204a" fill-opacity="0.3" stroke="#c8204a" stroke-opacity="0.5"/>
<circle cx="583.0" cy="316.0" r="2.3" fill="#c8204a" fill-opacity="0.3" stroke="#c8204a" stroke-opacity="0.5"/>
<circle cx="580.0" cy="293.0" r="2.3" fill="#c8204a" fill-opacity="0.3" stroke="#c8204a" stroke-opacity="0.5"/>
<circle cx="575.0" cy="295.0" r="2.3" fill="#c8204a" fill-opacity="0.3" stroke="#c8204a" stroke-opacity="0.5"/>
<circle cx="585.0" cy="324.0" r="2.3" fill="#c8204a" fill-opacity="0.3" stroke="#c8204a" stroke-opacity="0.5"/>
<circle cx="589.0" cy="327.0" r="2.3" fill="#c8204a" fill-opacity="0.3" stroke="#c8204a" stroke-opacity="0.5"/>
<circle cx="577.0" cy="324.0" r="2.3" fill="#c8204a" fill-opacity="0.3" stroke="#c8204a" stroke-opacity="0.5"/>
<circle cx="597.0" cy="265.0" r="2.3" fill="#c8204a" fill-opacity="0.6" stroke="#c8204a" stroke-opacity="0.6"/>
<circle cx="573.5" cy="278.5" r="2.3" fill="#c8204a" fill-opacity="0.6" stroke="#c8204a" stroke-opacity="0.6"/>
<circle cx="578.5" cy="324.5" r="2.3" fill="#c8204a" fill-opacity="0.6" stroke="#c8204a" stroke-opacity="0.6"/>
<circle cx="567.0" cy="315.0" r="2.3" fill="#c8204a" fill-opacity="0.6" stroke="#c8204a" stroke-opacity="0.6"/>
<circle cx="582.5" cy="324.5" r="2.3" fill="#c8204a" fill-opacity="0.6" stroke="#c8204a" stroke-opacity="0.6"/>
<circle cx="645.2" cy="270.9" r="2.4" fill="#4a94f2" fill-opacity="0.85"/>
<circle cx="649.7" cy="277.8" r="2.4" fill="#4a94f2" fill-opacity="0.85"/>
<circle cx="648.1" cy="275.8" r="2.4" fill="#4a94f2" fill-opacity="0.85"/>
<circle cx="655.6" cy="282.3" r="2.4" fill="#4a94f2" fill-opacity="0.85"/>
<circle cx="639.1" cy="272.1" r="2.4" fill="#4a94f2" fill-opacity="0.85"/>
<circle cx="651.6" cy="276.0" r="2.4" fill="#4a94f2" fill-opacity="0.85"/>
<circle cx="656.6" cy="288.8" r="2.4" fill="#4a94f2" fill-opacity="0.85"/>
<circle cx="651.6" cy="282.2" r="2.4" fill="#4a94f2" fill-opacity="0.85"/>
<circle cx="645.9" cy="273.9" r="2.4" fill="#4a94f2" fill-opacity="0.85"/>
<circle cx="652.3" cy="277.6" r="2.4" fill="#4a94f2" fill-opacity="0.85"/>
<circle cx="657.8" cy="302.3" r="2.4" fill="#4a94f2" fill-opacity="0.85"/>
<circle cx="657.8" cy="286.7" r="2.4" fill="#4a94f2" fill-opacity="0.85"/>
<circle cx="656.9" cy="289.0" r="2.4" fill="#4a94f2" fill-opacity="0.85"/>
<circle cx="659.1" cy="302.2" r="2.4" fill="#4a94f2" fill-opacity="0.85"/>
<circle cx="638.8" cy="271.8" r="2.4" fill="#4a94f2" fill-opacity="0.85"/>
<circle cx="651.6" cy="280.9" r="2.4" fill="#4a94f2" fill-opacity="0.85"/>
<circle cx="639.8" cy="268.6" r="2.4" fill="#4a94f2" fill-opacity="0.85"/>
<circle cx="662.2" cy="294.5" r="2.4" fill="#4a94f2" fill-opacity="0.85"/>
<circle cx="659.8" cy="290.8" r="2.4" fill="#4a94f2" fill-opacity="0.85"/>
<circle cx="658.2" cy="293.0" r="2.4" fill="#4a94f2" fill-opacity="0.85"/>
<circle cx="658.6" cy="300.7" r="2.4" fill="#4a94f2" fill-opacity="0.85"/>
<circle cx="654.9" cy="287.7" r="2.4" fill="#4a94f2" fill-opacity="0.85"/>
<circle cx="656.8" cy="302.5" r="2.4" fill="#4a94f2" fill-opacity="0.85"/>
<circle cx="642.6" cy="272.1" r="2.4" fill="#4a94f2" fill-opacity="0.85"/>
<circle cx="641.3" cy="271.0" r="2.4" fill="#4a94f2" fill-opacity="0.85"/>
<circle cx="653.5" cy="282.0" r="2.4" fill="#4a94f2" fill-opacity="0.85"/>
<circle cx="646.3" cy="275.0" r="2.4" fill="#4a94f2" fill-opacity="0.85"/>
<circle cx="645.5" cy="274.1" r="2.4" fill="#4a94f2" fill-opacity="0.85"/>
<circle cx="659.4" cy="298.2" r="2.4" fill="#4a94f2" fill-opacity="0.85"/>
<circle cx="658.9" cy="302.1" r="2.4" fill="#4a94f2" fill-opacity="0.85"/>
<circle cx="658.9" cy="287.8" r="2.4" fill="#4a94f2" fill-opacity="0.85"/>
<circle cx="636.6" cy="270.1" r="2.4" fill="#4a94f2" fill-opacity="0.85"/>
<circle cx="654.3" cy="279.3" r="2.4" fill="#4a94f2" fill-opacity="0.85"/>
<circle cx="649.3" cy="278.2" r="2.4" fill="#4a94f2" fill-opacity="0.85"/>
<circle cx="659.4" cy="286.2" r="2.4" fill="#4a94f2" fill-opacity="0.85"/>
<circle cx="655.9" cy="282.8" r="2.4" fill="#4a94f2" fill-opacity="0.85"/>
<circle cx="660.4" cy="290.8" r="2.4" fill="#4a94f2" fill-opacity="0.85"/>
<circle cx="655.4" cy="281.1" r="2.4" fill="#4a94f2" fill-opacity="0.85"/>
<circle cx="657.7" cy="292.3" r="2.4" fill="#4a94f2" fill-opacity="0.85"/>
<circle cx="660.3" cy="296.1" r="2.4" fill="#4a94f2" fill-opacity="0.85"/>
<circle cx="658.9" cy="300.1" r="2.4" fill="#4a94f2" fill-opacity="0.85"/>
<circle cx="650.0" cy="278.7" r="2.4" fill="#4a94f2" fill-opacity="0.85"/>
<circle cx="657.9" cy="293.1" r="2.4" fill="#4a94f2" fill-opacity="0.85"/>
<circle cx="657.4" cy="284.4" r="2.4" fill="#4a94f2" fill-opacity="0.85"/>
<circle cx="659.5" cy="292.8" r="2.4" fill="#4a94f2" fill-opacity="0.85"/>
<circle cx="609.5" cy="262.0" r="2.4" fill="#4a94f2" fill-opacity="0.8"/>
<circle cx="616.5" cy="262.0" r="2.4" fill="#4a94f2" fill-opacity="0.8"/>
<circle cx="629.5" cy="265.5" r="2.4" fill="#4a94f2" fill-opacity="0.8"/>
<circle cx="634.0" cy="267.0" r="2.4" fill="#4a94f2" fill-opacity="0.8"/>
<circle cx="637.0" cy="268.0" r="2.4" fill="#4a94f2" fill-opacity="0.8"/>
<circle cx="642.0" cy="271.0" r="2.4" fill="#4a94f2" fill-opacity="0.8"/>
<circle cx="637.5" cy="284.0" r="2.4" fill="#4a94f2" fill-opacity="0.8"/>
<circle cx="646.5" cy="288.0" r="2.4" fill="#4a94f2" fill-opacity="0.8"/>
<circle cx="655.0" cy="314.0" r="2.4" fill="#4a94f2" fill-opacity="0.8"/>
<circle cx="647.0" cy="320.0" r="2.4" fill="#4a94f2" fill-opacity="0.8"/>
<circle cx="648.0" cy="316.0" r="2.4" fill="#4a94f2" fill-opacity="0.8"/>
<circle cx="622.5" cy="275.5" r="2.4" fill="#6aa0e0" fill-opacity="0.35" stroke="#4a94f2" stroke-opacity="0.5"/>
<circle cx="629.0" cy="272.0" r="2.4" fill="#6aa0e0" fill-opacity="0.35" stroke="#4a94f2" stroke-opacity="0.5"/>
<circle cx="652.0" cy="302.0" r="2.4" fill="#6aa0e0" fill-opacity="0.35" stroke="#4a94f2" stroke-opacity="0.5"/>
<circle cx="653.0" cy="314.0" r="2.4" fill="#6aa0e0" fill-opacity="0.35" stroke="#4a94f2" stroke-opacity="0.5"/>
<circle cx="603.5" cy="323.5" r="2.4" fill="#6aa0e0" fill-opacity="0.35" stroke="#4a94f2" stroke-opacity="0.5"/>
<circle cx="646.0" cy="311.0" r="2.4" fill="#6aa0e0" fill-opacity="0.35" stroke="#4a94f2" stroke-opacity="0.5"/>
<circle cx="646.0" cy="279.5" r="2.4" fill="#b8183e" fill-opacity="0.85"/>
<circle cx="652.5" cy="282.0" r="2.4" fill="#b8183e" fill-opacity="0.85"/>
<circle cx="656.0" cy="284.5" r="2.4" fill="#b8183e" fill-opacity="0.85"/>
<circle cx="633.0" cy="293.5" r="2.4" fill="#b8183e" fill-opacity="0.85"/>
<circle cx="655.5" cy="302.5" r="2.4" fill="#b8183e" fill-opacity="0.85"/>
<circle cx="654.5" cy="315.5" r="2.4" fill="#b8183e" fill-opacity="0.85"/>
</g>
<text x="2.40" y="426.30" font-size="14.3" font-weight="bold" style="fill:#000;stroke:#000;stroke-width:0.6px" textLength="5.36" lengthAdjust="spacingAndGlyphs">I</text>
<line x1="49.50" y1="459.80" x2="49.50" y2="578.30" stroke="#262626" stroke-width="1.1"/>
<line x1="46.00" y1="459.80" x2="49.50" y2="459.80" stroke="#262626" stroke-width="1.1"/>
<text x="41.80" y="463.80" font-size="11.22" text-anchor="end" textLength="17.49" lengthAdjust="spacingAndGlyphs">1.0</text>
<line x1="46.00" y1="519.10" x2="49.50" y2="519.10" stroke="#262626" stroke-width="1.1"/>
<text x="41.80" y="523.10" font-size="11.22" text-anchor="end" textLength="17.49" lengthAdjust="spacingAndGlyphs">0.5</text>
<line x1="46.00" y1="578.30" x2="49.50" y2="578.30" stroke="#262626" stroke-width="1.1"/>
<text x="41.80" y="582.30" font-size="11.22" text-anchor="end" textLength="17.49" lengthAdjust="spacingAndGlyphs">0.0</text>
<text x="13.80" y="518.80" font-size="11.22" text-anchor="middle" textLength="122.90" lengthAdjust="spacingAndGlyphs" transform="rotate(-90 13.80 518.80)">Pooled posterior value</text>
<line x1="80.8" y1="566.5" x2="80.8" y2="577.0" stroke="#555" stroke-width="1.1"/>
<rect x="68.3" y="569.4" width="25.1" height="5.4" fill="#4f9ef8" stroke="#444" stroke-width="1.1"/>
<line x1="68.3" y1="572.1" x2="93.4" y2="572.1" stroke="#444" stroke-width="1.1"/>
<line x1="106.1" y1="566.5" x2="106.1" y2="577.0" stroke="#555" stroke-width="1.1"/>
<rect x="93.4" y="569.4" width="25.3" height="5.4" fill="#dc2340" stroke="#444" stroke-width="1.1"/>
<line x1="93.4" y1="572.1" x2="118.7" y2="572.1" stroke="#444" stroke-width="1.1"/>
<path d="M81.1 560.4 L81.1 557.8 L106.0 557.8 L106.0 560.4" fill="none" stroke="#262626" stroke-width="1.1"/>
<text x="93.55" y="554.30" font-size="11.22" text-anchor="middle" textLength="42.56" lengthAdjust="spacingAndGlyphs">WS: 0.0</text>
<line x1="143.9" y1="475.4" x2="143.9" y2="568.5" stroke="#555" stroke-width="1.1"/>
<rect x="131.6" y="504.1" width="24.6" height="25.9" fill="#4f9ef8" stroke="#444" stroke-width="1.1"/>
<line x1="131.6" y1="515.2" x2="156.2" y2="515.2" stroke="#444" stroke-width="1.1"/>
<line x1="168.9" y1="475.4" x2="168.9" y2="575.1" stroke="#555" stroke-width="1.1"/>
<rect x="156.2" y="512.2" width="25.4" height="31.2" fill="#dc2340" stroke="#444" stroke-width="1.1"/>
<line x1="156.2" y1="531.2" x2="181.6" y2="531.2" stroke="#444" stroke-width="1.1"/>
<path d="M143.9 469.6 L143.9 467.0 L168.9 467.0 L168.9 469.6" fill="none" stroke="#262626" stroke-width="1.1"/>
<text x="156.40" y="464.00" font-size="11.22" text-anchor="middle" textLength="42.56" lengthAdjust="spacingAndGlyphs">WS: 0.1</text>
<line x1="206.8" y1="566.5" x2="206.8" y2="577.0" stroke="#555" stroke-width="1.1"/>
<rect x="194.3" y="569.5" width="24.9" height="5.6" fill="#4f9ef8" stroke="#444" stroke-width="1.1"/>
<line x1="194.3" y1="572.3" x2="219.2" y2="572.3" stroke="#444" stroke-width="1.1"/>
<line x1="231.6" y1="566.5" x2="231.6" y2="577.0" stroke="#555" stroke-width="1.1"/>
<rect x="219.2" y="569.5" width="24.9" height="5.6" fill="#dc2340" stroke="#444" stroke-width="1.1"/>
<line x1="219.2" y1="572.3" x2="244.1" y2="572.3" stroke="#444" stroke-width="1.1"/>
<path d="M206.7 561.0 L206.7 558.4 L231.6 558.4 L231.6 561.0" fill="none" stroke="#262626" stroke-width="1.1"/>
<text x="219.15" y="554.90" font-size="11.22" text-anchor="middle" textLength="42.56" lengthAdjust="spacingAndGlyphs">WS: 0.0</text>
<line x1="269.2" y1="542.6" x2="269.2" y2="577.7" stroke="#555" stroke-width="1.1"/>
<rect x="256.8" y="552.0" width="24.9" height="17.3" fill="#4f9ef8" stroke="#444" stroke-width="1.1"/>
<line x1="256.8" y1="560.9" x2="281.7" y2="560.9" stroke="#444" stroke-width="1.1"/>
<line x1="294.2" y1="542.6" x2="294.2" y2="577.7" stroke="#555" stroke-width="1.1"/>
<rect x="281.7" y="552.0" width="25.1" height="17.3" fill="#dc2340" stroke="#444" stroke-width="1.1"/>
<line x1="281.7" y1="560.9" x2="306.8" y2="560.9" stroke="#444" stroke-width="1.1"/>
<path d="M269.2 536.4 L269.2 533.8 L294.2 533.8 L294.2 536.4" fill="none" stroke="#262626" stroke-width="1.1"/>
<text x="281.70" y="531.10" font-size="11.22" text-anchor="middle" textLength="42.56" lengthAdjust="spacingAndGlyphs">WS: 0.0</text>
<text x="87.8" y="593.7" font-size="11.6" font-style="italic" textLength="7.0" lengthAdjust="spacingAndGlyphs" style="stroke-width:0.05px">g</text>
<text x="95.0" y="595.8" font-size="8.2" textLength="4.6" lengthAdjust="spacingAndGlyphs" style="stroke-width:0.05px">1</text>
<text x="150.7" y="593.7" font-size="11.6" font-style="italic" textLength="7.0" lengthAdjust="spacingAndGlyphs" style="stroke-width:0.05px">g</text>
<text x="157.9" y="595.8" font-size="8.2" textLength="4.6" lengthAdjust="spacingAndGlyphs" style="stroke-width:0.05px">2</text>
<text x="213.6" y="593.7" font-size="11.6" font-style="italic" textLength="7.0" lengthAdjust="spacingAndGlyphs" style="stroke-width:0.05px">g</text>
<text x="220.8" y="595.8" font-size="8.2" textLength="4.6" lengthAdjust="spacingAndGlyphs" style="stroke-width:0.05px">3</text>
<text x="276.0" y="593.7" font-size="11.6" font-style="italic" textLength="7.0" lengthAdjust="spacingAndGlyphs" style="stroke-width:0.05px">g</text>
<text x="283.2" y="595.8" font-size="8.2" textLength="4.6" lengthAdjust="spacingAndGlyphs" style="stroke-width:0.05px">4</text>
<rect x="247.4" y="453.8" width="22.1" height="8.1" fill="#4f9ef8" stroke="#555" stroke-width="0.9"/>
<rect x="247.4" y="469.8" width="22.1" height="8.1" fill="#dc2340" stroke="#555" stroke-width="0.9"/>
<text x="278.40" y="462.20" font-size="11.22" text-anchor="start" textLength="49.78" lengthAdjust="spacingAndGlyphs">Presence</text>
<text x="278.40" y="478.00" font-size="11.22" text-anchor="start" textLength="46.79" lengthAdjust="spacingAndGlyphs">Absence</text>
<path d="M354.7 415.3 L354.7 426.2 Q354.7 429.2 351.8 429.2 L350.9 429.2" fill="none" stroke="#000" stroke-width="2.7"/>
<path d="M394.2 517.1 L394.2 517.1 L394.5 505.5 L394.9 496.9 L395.2 489.7 L395.6 483.6 L395.9 478.5 L396.3 474.2 L396.6 470.5 L397.0 467.4 L397.3 464.9 L397.7 462.8 L398.0 461.2 L398.5 459.5 L399.5 457.8 L400.6 458.0 L401.6 459.6 L402.6 462.0 L403.7 465.1 L404.7 468.5 L405.7 472.1 L406.7 475.7 L407.8 479.2 L408.8 482.6 L409.8 485.9 L410.8 488.9 L411.9 491.8 L412.9 494.4 L413.9 496.8 L415.0 499.0 L416.0 501.0 L417.0 502.8 L418.0 504.4 L419.1 505.8 L420.1 507.1 L421.1 508.3 L422.2 509.3 L423.2 510.3 L424.2 511.1 L425.2 511.8 L426.3 512.5 L427.3 513.0 L428.3 513.5 L429.3 514.0 L430.4 514.4 L431.4 514.7 L432.4 515.0 L433.5 515.3 L434.5 515.5 L435.5 515.7 L436.5 515.9 L437.6 516.0 L438.6 516.2 L439.6 516.3 L440.7 516.4 L441.7 516.5 L442.7 516.6 L443.7 516.6 L444.8 516.7 L445.8 516.8 L446.8 516.8 L447.9 516.8 L448.9 516.9 L449.9 516.9 L450.9 516.9 L452.0 517.0 L453.0 517.0 L454.0 517.0 L455.0 517.0 L456.1 517.0 L457.1 517.0 L458.1 517.0 L459.2 517.0 L460.2 517.1 L461.2 517.1 L462.2 517.1 L463.3 517.1 L464.3 517.1 L465.3 517.1 L466.4 517.1 L467.4 517.1 L468.4 517.1 L469.4 517.1 L470.5 517.1 L471.5 517.1 L472.5 517.1 L473.6 517.1 L474.6 517.1 L475.6 517.1 L476.6 517.1 L477.7 517.1 L478.7 517.1 L479.7 517.1 L480.7 517.1 L481.8 517.1 L482.8 517.1 L483.8 517.1 L484.9 517.1 L485.9 517.1 L486.9 517.1 L487.9 517.1 L489.0 517.1 L490.0 517.1 L490.0 517.1 Z" fill="#5a7de8" stroke="#111" stroke-width="0.9"/>
<path d="M394.2 517.1 L394.2 517.1 L394.5 523.9 L394.9 529.5 L395.2 534.5 L395.6 539.1 L395.9 543.2 L396.3 547.0 L396.6 550.4 L397.0 553.5 L397.3 556.4 L397.7 558.9 L398.0 561.3 L398.5 564.2 L399.5 569.1 L400.6 572.5 L401.6 574.8 L402.6 576.0 L403.7 576.5 L404.7 576.4 L405.7 575.7 L406.7 574.6 L407.8 573.1 L408.8 571.5 L409.8 569.6 L410.8 567.6 L411.9 565.5 L412.9 563.3 L413.9 561.1 L415.0 558.9 L416.0 556.8 L417.0 554.6 L418.0 552.5 L419.1 550.5 L420.1 548.6 L421.1 546.7 L422.2 544.9 L423.2 543.1 L424.2 541.5 L425.2 539.9 L426.3 538.4 L427.3 537.0 L428.3 535.6 L429.3 534.4 L430.4 533.2 L431.4 532.1 L432.4 531.0 L433.5 530.0 L434.5 529.1 L435.5 528.3 L436.5 527.4 L437.6 526.7 L438.6 526.0 L439.6 525.3 L440.7 524.7 L441.7 524.2 L442.7 523.6 L443.7 523.1 L444.8 522.7 L445.8 522.3 L446.8 521.9 L447.9 521.5 L448.9 521.2 L449.9 520.8 L450.9 520.5 L452.0 520.3 L453.0 520.0 L454.0 519.8 L455.0 519.6 L456.1 519.4 L457.1 519.2 L458.1 519.0 L459.2 518.9 L460.2 518.7 L461.2 518.6 L462.2 518.5 L463.3 518.4 L464.3 518.3 L465.3 518.2 L466.4 518.1 L467.4 518.0 L468.4 517.9 L469.4 517.9 L470.5 517.8 L471.5 517.7 L472.5 517.7 L473.6 517.6 L474.6 517.6 L475.6 517.6 L476.6 517.5 L477.7 517.5 L478.7 517.5 L479.7 517.4 L480.7 517.4 L481.8 517.4 L482.8 517.4 L483.8 517.3 L484.9 517.3 L485.9 517.3 L486.9 517.3 L487.9 517.3 L489.0 517.2 L490.0 517.2 L490.0 517.1 Z" fill="#b5373c" stroke="#111" stroke-width="0.9"/>
<line x1="394.20" y1="517.10" x2="490.00" y2="517.10" stroke="#111" stroke-width="1.0"/>
<line x1="389.20" y1="457.60" x2="389.20" y2="576.50" stroke="#262626" stroke-width="1.1"/>
<line x1="385.70" y1="457.60" x2="389.20" y2="457.60" stroke="#262626" stroke-width="1.1"/>
<text x="380.90" y="461.60" font-size="11.22" text-anchor="end" textLength="7.00" lengthAdjust="spacingAndGlyphs">1</text>
<line x1="385.70" y1="517.10" x2="389.20" y2="517.10" stroke="#262626" stroke-width="1.1"/>
<text x="380.90" y="521.10" font-size="11.22" text-anchor="end" textLength="7.00" lengthAdjust="spacingAndGlyphs">0</text>
<line x1="385.70" y1="576.50" x2="389.20" y2="576.50" stroke="#262626" stroke-width="1.1"/>
<text x="380.90" y="580.50" font-size="11.22" text-anchor="end" textLength="16.22" lengthAdjust="spacingAndGlyphs">−1</text>
<line x1="394.20" y1="582.30" x2="490.00" y2="582.30" stroke="#262626" stroke-width="1.1"/>
<line x1="394.20" y1="582.30" x2="394.20" y2="585.80" stroke="#262626" stroke-width="1.1"/>
<line x1="490.00" y1="582.30" x2="490.00" y2="585.80" stroke="#262626" stroke-width="1.1"/>
<text x="394.20" y="598.40" font-size="11.22" text-anchor="middle" textLength="7.00" lengthAdjust="spacingAndGlyphs">0</text>
<text x="490.00" y="598.40" font-size="11.22" text-anchor="middle" textLength="21.00" lengthAdjust="spacingAndGlyphs">100</text>
<text x="442.40" y="599.40" font-size="11.22" text-anchor="middle" textLength="50.71" lengthAdjust="spacingAndGlyphs">Timestep</text>
<text x="442.30" y="445.30" font-size="11.22" text-anchor="middle" textLength="49.78" lengthAdjust="spacingAndGlyphs">Presence</text>
<text x="433.10" y="515.30" font-size="11.22" text-anchor="start" textLength="70.34" lengthAdjust="spacingAndGlyphs">E/I Ratio: 1.0</text>
<path d="M563.7 514.0 L563.7 514.0 L564.1 504.5 L564.4 497.4 L564.8 491.5 L565.1 486.6 L565.5 482.4 L565.8 478.8 L566.2 475.8 L566.5 473.3 L566.9 471.2 L567.2 469.5 L567.6 468.2 L568.1 466.8 L569.1 465.4 L570.1 465.6 L571.2 466.9 L572.2 468.9 L573.2 471.4 L574.3 474.2 L575.3 477.1 L576.4 480.1 L577.4 483.0 L578.4 485.8 L579.5 488.4 L580.5 490.9 L581.6 493.2 L582.6 495.4 L583.6 497.3 L584.7 499.1 L585.7 500.8 L586.8 502.2 L587.8 503.6 L588.8 504.8 L589.9 505.8 L590.9 506.8 L591.9 507.6 L593.0 508.4 L594.0 509.1 L595.1 509.7 L596.1 510.2 L597.1 510.7 L598.2 511.1 L599.2 511.4 L600.3 511.8 L601.3 512.0 L602.3 512.3 L603.4 512.5 L604.4 512.7 L605.4 512.9 L606.5 513.0 L607.5 513.1 L608.6 513.2 L609.6 513.3 L610.6 513.4 L611.7 513.5 L612.7 513.6 L613.8 513.6 L614.8 513.7 L615.8 513.7 L616.9 513.8 L617.9 513.8 L619.0 513.8 L620.0 513.8 L621.0 513.9 L622.1 513.9 L623.1 513.9 L624.1 513.9 L625.2 513.9 L626.2 513.9 L627.3 513.9 L628.3 513.9 L629.3 514.0 L630.4 514.0 L631.4 514.0 L632.5 514.0 L633.5 514.0 L634.5 514.0 L635.6 514.0 L636.6 514.0 L637.6 514.0 L638.7 514.0 L639.7 514.0 L640.8 514.0 L641.8 514.0 L642.8 514.0 L643.9 514.0 L644.9 514.0 L646.0 514.0 L647.0 514.0 L648.0 514.0 L649.1 514.0 L650.1 514.0 L651.2 514.0 L652.2 514.0 L653.2 514.0 L654.3 514.0 L655.3 514.0 L656.3 514.0 L657.4 514.0 L658.4 514.0 L659.5 514.0 L660.5 514.0 L660.5 514.0 Z" fill="#5a7de8" stroke="#111" stroke-width="0.9"/>
<path d="M563.7 514.0 L563.7 514.0 L564.1 521.1 L564.4 527.0 L564.8 532.3 L565.1 537.1 L565.5 541.4 L565.8 545.4 L566.2 549.0 L566.5 552.3 L566.9 555.2 L567.2 558.0 L567.6 560.4 L568.1 563.4 L569.1 568.6 L570.1 572.2 L571.2 574.6 L572.2 575.9 L573.2 576.4 L574.3 576.3 L575.3 575.5 L576.4 574.4 L577.4 572.9 L578.4 571.1 L579.5 569.1 L580.5 567.0 L581.6 564.8 L582.6 562.5 L583.6 560.2 L584.7 557.9 L585.7 555.7 L586.8 553.4 L587.8 551.2 L588.8 549.1 L589.9 547.0 L590.9 545.1 L591.9 543.2 L593.0 541.3 L594.0 539.6 L595.1 537.9 L596.1 536.4 L597.1 534.9 L598.2 533.5 L599.2 532.2 L600.3 530.9 L601.3 529.7 L602.3 528.6 L603.4 527.6 L604.4 526.6 L605.4 525.7 L606.5 524.9 L607.5 524.1 L608.6 523.3 L609.6 522.7 L610.6 522.0 L611.7 521.4 L612.7 520.9 L613.8 520.3 L614.8 519.9 L615.8 519.4 L616.9 519.0 L617.9 518.6 L619.0 518.3 L620.0 517.9 L621.0 517.6 L622.1 517.3 L623.1 517.1 L624.1 516.8 L625.2 516.6 L626.2 516.4 L627.3 516.2 L628.3 516.0 L629.3 515.9 L630.4 515.7 L631.4 515.6 L632.5 515.5 L633.5 515.3 L634.5 515.2 L635.6 515.1 L636.6 515.0 L637.6 515.0 L638.7 514.9 L639.7 514.8 L640.8 514.7 L641.8 514.7 L642.8 514.6 L643.9 514.6 L644.9 514.5 L646.0 514.5 L647.0 514.4 L648.0 514.4 L649.1 514.4 L650.1 514.3 L651.2 514.3 L652.2 514.3 L653.2 514.3 L654.3 514.2 L655.3 514.2 L656.3 514.2 L657.4 514.2 L658.4 514.2 L659.5 514.2 L660.5 514.1 L660.5 514.0 Z" fill="#b5373c" stroke="#111" stroke-width="0.9"/>
<line x1="563.70" y1="514.00" x2="660.50" y2="514.00" stroke="#111" stroke-width="1.0"/>
<line x1="558.40" y1="451.60" x2="558.40" y2="576.50" stroke="#262626" stroke-width="1.1"/>
<line x1="554.90" y1="451.60" x2="558.40" y2="451.60" stroke="#262626" stroke-width="1.1"/>
<text x="550.10" y="455.60" font-size="11.22" text-anchor="end" textLength="7.00" lengthAdjust="spacingAndGlyphs">1</text>
<line x1="554.90" y1="514.00" x2="558.40" y2="514.00" stroke="#262626" stroke-width="1.1"/>
<text x="550.10" y="518.00" font-size="11.22" text-anchor="end" textLength="7.00" lengthAdjust="spacingAndGlyphs">0</text>
<line x1="554.90" y1="576.50" x2="558.40" y2="576.50" stroke="#262626" stroke-width="1.1"/>
<text x="550.10" y="580.50" font-size="11.22" text-anchor="end" textLength="16.22" lengthAdjust="spacingAndGlyphs">−1</text>
<line x1="563.70" y1="582.60" x2="660.50" y2="582.60" stroke="#262626" stroke-width="1.1"/>
<line x1="563.70" y1="582.60" x2="563.70" y2="586.10" stroke="#262626" stroke-width="1.1"/>
<line x1="660.50" y1="582.60" x2="660.50" y2="586.10" stroke="#262626" stroke-width="1.1"/>
<text x="563.70" y="598.40" font-size="11.22" text-anchor="middle" textLength="7.00" lengthAdjust="spacingAndGlyphs">0</text>
<text x="660.50" y="598.40" font-size="11.22" text-anchor="middle" textLength="21.00" lengthAdjust="spacingAndGlyphs">100</text>
<text x="612.40" y="599.40" font-size="11.22" text-anchor="middle" textLength="50.71" lengthAdjust="spacingAndGlyphs">Timestep</text>
<text x="611.80" y="445.30" font-size="11.22" text-anchor="middle" textLength="46.79" lengthAdjust="spacingAndGlyphs">Absence</text>
<text x="602.20" y="512.50" font-size="11.22" text-anchor="start" textLength="77.34" lengthAdjust="spacingAndGlyphs">E/I Ratio: 0.78</text>
<text x="361.80" y="517.00" font-size="11.22" text-anchor="middle" textLength="86.13" lengthAdjust="spacingAndGlyphs" transform="rotate(-90 361.80 517.00)">Normalized PSP</text>
<rect x="597.7" y="546.9" width="22.7" height="7.9" fill="#5a7de8" stroke="#444" stroke-width="0.9"/>
<rect x="597.7" y="562.8" width="22.7" height="7.9" fill="#b5373c" stroke="#444" stroke-width="0.9"/>
<text x="628.90" y="554.80" font-size="11.22" text-anchor="start" textLength="55.50" lengthAdjust="spacingAndGlyphs">Excitatory</text>
<text x="628.90" y="570.80" font-size="11.22" text-anchor="start" textLength="52.36" lengthAdjust="spacingAndGlyphs">Inhibitory</text>
</svg>
</body></html>
